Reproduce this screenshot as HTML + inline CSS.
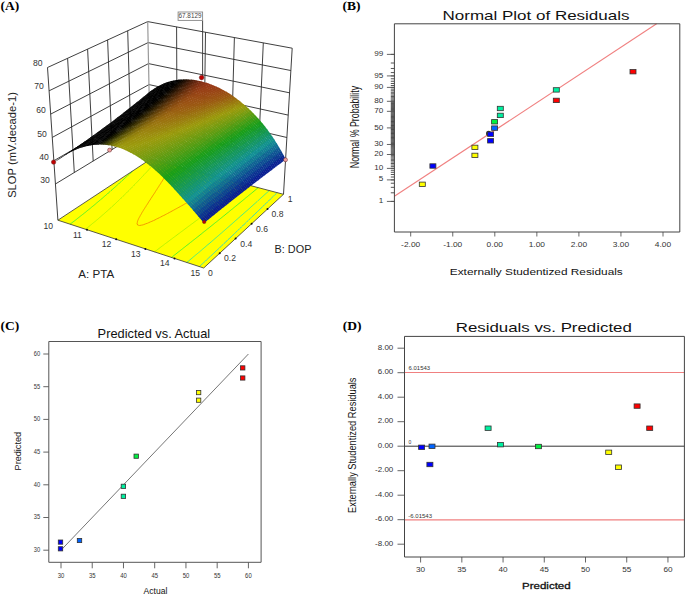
<!DOCTYPE html>
<html><head><meta charset="utf-8"><style>
html,body{margin:0;padding:0;background:#fff;width:685px;height:595px;overflow:hidden}
svg{display:block;font-family:"Liberation Sans",sans-serif}
</style></head><body>
<svg width="685" height="595" viewBox="0 0 685 595">
<rect width="685" height="595" fill="#fff"/>
<polyline points="55.4,184.0 149.8,126.6 285.6,159.8" fill="none" stroke="#2a2a2a" stroke-width="0.9"/>
<polyline points="53.9,160.7 149.4,105.6 286.9,137.5" fill="none" stroke="#2a2a2a" stroke-width="0.9"/>
<polyline points="52.3,137.4 149.0,84.6 288.2,115.1" fill="none" stroke="#2a2a2a" stroke-width="0.9"/>
<polyline points="50.7,114.1 148.5,63.6 289.5,92.8" fill="none" stroke="#2a2a2a" stroke-width="0.9"/>
<polyline points="49.1,90.8 148.1,42.6 290.8,70.5" fill="none" stroke="#2a2a2a" stroke-width="0.9"/>
<polyline points="47.5,67.5 147.7,21.6 292.2,48.2" fill="none" stroke="#2a2a2a" stroke-width="0.9"/>
<line x1="74.3" y1="172.6" x2="67.6" y2="58.3" stroke="#2a2a2a" stroke-width="0.9"/>
<line x1="93.2" y1="161.1" x2="87.6" y2="49.1" stroke="#2a2a2a" stroke-width="0.9"/>
<line x1="112.1" y1="149.6" x2="107.6" y2="39.9" stroke="#2a2a2a" stroke-width="0.9"/>
<line x1="130.9" y1="138.1" x2="127.7" y2="30.8" stroke="#2a2a2a" stroke-width="0.9"/>
<line x1="177.0" y1="133.3" x2="176.6" y2="26.9" stroke="#2a2a2a" stroke-width="0.9"/>
<line x1="204.1" y1="139.9" x2="205.5" y2="32.2" stroke="#2a2a2a" stroke-width="0.9"/>
<line x1="231.3" y1="146.5" x2="234.4" y2="37.6" stroke="#2a2a2a" stroke-width="0.9"/>
<line x1="258.4" y1="153.1" x2="263.3" y2="42.9" stroke="#2a2a2a" stroke-width="0.9"/>
<line x1="149.8" y1="126.6" x2="147.7" y2="21.6" stroke="#999" stroke-width="1.2"/>
<line x1="57.9" y1="220.2" x2="47.5" y2="67.5" stroke="#2a2a2a" stroke-width="0.9"/>
<line x1="283.5" y1="194.3" x2="292.2" y2="48.2" stroke="#2a2a2a" stroke-width="0.9"/>
<polygon points="57.9,220.2 203.7,268.0 283.5,194.3 150.5,159.2" fill="#ffff00" stroke="none"/>
<path d="M199.4,266.6L200.4,265.6M200.4,265.6L201.4,264.7M201.4,264.7L202.4,263.8M202.4,263.8L203.4,262.9M203.4,262.9L204.4,262.0M204.4,262.0L205.4,261.1M205.4,261.1L206.4,260.1M206.4,260.1L207.4,259.2M207.4,259.2L208.3,258.3M208.3,258.3L209.3,257.4M209.3,257.4L210.3,256.5M210.3,256.5L211.3,255.5M211.3,255.5L212.3,254.6M212.3,254.6L213.3,253.7M213.3,253.7L214.2,252.8M214.2,252.8L215.2,251.8M215.2,251.8L216.2,250.9M216.2,250.9L217.2,250.0M217.2,250.0L218.2,249.1M218.2,249.1L219.2,248.2M219.2,248.2L220.1,247.2M220.1,247.2L221.1,246.3M221.1,246.3L222.1,245.4M222.1,245.4L223.1,244.5M223.1,244.5L224.0,243.5M224.0,243.5L225.0,242.6M225.0,242.6L226.0,241.7M226.0,241.7L227.0,240.8M227.0,240.8L227.9,239.8M227.9,239.8L228.9,238.9M228.9,238.9L229.9,238.0M229.9,238.0L230.9,237.1M230.9,237.1L231.8,236.1M231.8,236.1L232.8,235.2M232.8,235.2L233.8,234.3M233.8,234.3L234.7,233.4M234.7,233.4L235.7,232.4M235.7,232.4L236.7,231.5M236.7,231.5L237.6,230.6M237.6,230.6L238.6,229.7M238.6,229.7L239.6,228.7M239.6,228.7L240.6,227.8M240.6,227.8L241.5,226.9M241.5,226.9L242.5,226.0M242.5,226.0L243.5,225.0M243.5,225.0L244.4,224.1M245.1,223.5L245.4,223.2M244.4,224.1L245.1,223.5M245.4,223.2L246.3,222.3M246.3,222.3L247.3,221.3M247.3,221.3L248.3,220.4M248.3,220.4L249.2,219.5M249.2,219.5L250.2,218.6M250.2,218.6L251.2,217.6M251.2,217.6L252.1,216.7M252.1,216.7L253.1,215.8M253.1,215.8L254.1,214.9M254.1,214.9L255.0,213.9M255.0,213.9L256.0,213.0M256.0,213.0L257.0,212.1M257.0,212.1L257.9,211.2M257.9,211.2L258.9,210.2M258.9,210.2L259.8,209.3M259.8,209.3L260.8,208.4M260.8,208.4L261.8,207.5M261.8,207.5L262.7,206.5M262.7,206.5L263.7,205.6M263.7,205.6L264.6,204.7M264.6,204.7L265.6,203.8M265.6,203.8L266.6,202.8M266.6,202.8L267.5,201.9M267.5,201.9L268.5,201.0M268.5,201.0L269.4,200.1M269.4,200.1L270.4,199.1M270.4,199.1L271.4,198.2M271.4,198.2L272.3,197.3M272.3,197.3L273.3,196.4M273.3,196.4L274.3,195.4M274.3,195.4L275.2,194.5M275.2,194.5L276.2,193.6M276.2,193.6L277.1,192.7" stroke="#10d0e0" stroke-width="0.8" fill="none"/>
<path d="M186.8,262.4L187.9,261.6M187.9,261.6L189.0,260.7M189.0,260.7L190.0,259.8M190.0,259.8L191.1,258.9M191.1,258.9L192.2,258.0M192.2,258.0L193.2,257.1M193.2,257.1L194.3,256.2M194.3,256.2L195.3,255.3M195.3,255.3L196.4,254.5M196.4,254.5L197.3,253.7M197.4,253.6L197.3,253.7M197.4,253.6L198.5,252.7M198.5,252.7L199.6,251.8M199.6,251.8L200.6,250.9M200.6,250.9L201.7,250.0M201.7,250.0L202.7,249.1M202.7,249.1L203.8,248.2M203.8,248.2L204.8,247.3M204.8,247.3L205.9,246.4M205.9,246.4L206.9,245.5M206.9,245.5L207.9,244.6M207.9,244.6L209.0,243.8M209.0,243.8L210.0,242.9M210.0,242.9L211.1,242.0M211.1,242.0L212.1,241.1M212.1,241.1L213.2,240.2M213.2,240.2L214.2,239.3M214.2,239.3L215.2,238.4M215.2,238.4L216.3,237.5M216.3,237.5L217.3,236.6M217.3,236.6L218.4,235.7M218.4,235.7L219.4,234.8M219.4,234.8L220.4,233.9M220.4,233.9L221.5,233.0M221.5,233.0L222.5,232.1M222.5,232.1L223.5,231.2M223.5,231.2L224.6,230.3M224.6,230.3L225.6,229.4M225.6,229.4L226.6,228.5M226.6,228.5L227.6,227.6M227.6,227.6L228.7,226.7M228.7,226.7L229.7,225.8M229.7,225.8L230.7,224.9M230.7,224.9L231.8,224.0M231.8,224.0L232.8,223.1M232.8,223.1L233.8,222.2M233.8,222.2L234.8,221.3M234.8,221.3L235.8,220.4M235.8,220.4L236.9,219.5M236.9,219.5L237.9,218.6M237.9,218.6L238.9,217.7M238.9,217.7L239.9,216.8M239.9,216.8L240.9,215.9M240.9,215.9L242.0,215.0M242.0,215.0L243.0,214.1M243.0,214.1L244.0,213.2M244.0,213.2L245.0,212.3M245.0,212.3L246.0,211.4M246.0,211.4L247.1,210.5M247.1,210.5L248.1,209.6M248.1,209.6L249.1,208.7M249.1,208.7L250.1,207.8M250.1,207.8L251.1,206.9M251.1,206.9L252.1,206.0M252.1,206.0L253.1,205.1M253.1,205.1L254.1,204.2M254.1,204.2L255.2,203.3M255.2,203.3L256.2,202.4M256.2,202.4L257.2,201.5M257.2,201.5L258.2,200.5M258.2,200.5L259.2,199.6M259.2,199.6L260.2,198.7M260.2,198.7L261.2,197.8M261.2,197.8L262.2,196.9M262.2,196.9L263.2,196.0M263.2,196.0L264.2,195.1M264.2,195.1L265.2,194.2M265.2,194.2L266.2,193.3M266.2,193.3L267.3,192.4M267.3,192.4L268.3,191.5M268.3,191.5L269.3,190.6" stroke="#20e8a0" stroke-width="0.8" fill="none"/>
<path d="M70.1,224.2L71.1,223.4M171.5,257.4L172.6,256.6M71.1,223.4L72.2,222.6M172.6,256.6L173.7,255.7M72.2,222.6L73.2,221.8M173.7,255.7L174.8,254.8M73.2,221.8L74.3,221.0M174.8,254.8L175.9,254.0M74.3,221.0L75.4,220.2M175.9,254.0L177.0,253.1M75.4,220.2L76.4,219.4M177.0,253.1L178.1,252.2M76.4,219.4L77.4,218.5M178.1,252.2L179.2,251.4M77.4,218.5L78.5,217.7M179.2,251.4L180.3,250.5M78.5,217.7L79.5,216.9M180.3,250.5L181.4,249.7M79.5,216.9L80.5,216.1M181.4,249.7L182.5,248.8M80.5,216.1L81.6,215.3M182.5,248.8L183.6,247.9M81.6,215.3L82.6,214.5M183.6,247.9L184.7,247.1M82.9,214.2L83.6,213.7M82.6,214.5L82.9,214.2M184.7,247.1L185.8,246.2M83.6,213.7L84.6,212.9M185.8,246.2L186.9,245.3M84.6,212.9L85.7,212.1M186.9,245.3L188.0,244.5M85.7,212.1L86.7,211.2M188.0,244.5L189.1,243.6M86.7,211.2L87.7,210.4M189.1,243.6L190.2,242.7M87.7,210.4L88.7,209.6M190.2,242.7L190.6,242.4M191.3,241.9L190.6,242.4M88.7,209.6L89.7,208.8M191.3,241.9L192.4,241.0M89.7,208.8L90.7,208.0M192.4,241.0L193.5,240.1M90.7,208.0L91.7,207.1M193.5,240.1L194.6,239.3M91.7,207.1L92.7,206.3M194.6,239.3L195.7,238.4M92.7,206.3L93.7,205.5M195.7,238.4L196.8,237.5M93.7,205.5L94.7,204.7M196.8,237.5L197.9,236.7M95.5,204.0L95.7,203.9M94.7,204.7L95.5,204.0M197.9,236.7L199.0,235.8M95.7,203.9L96.6,203.0M199.0,235.8L200.1,234.9M96.6,203.0L97.6,202.2M200.1,234.9L201.2,234.1M97.6,202.2L98.6,201.4M201.2,234.1L202.2,233.2M98.6,201.4L99.6,200.6M202.2,233.2L203.3,232.3M99.6,200.6L100.5,199.7M203.3,232.3L204.4,231.4M100.5,199.7L101.5,198.9M204.4,231.4L205.5,230.6M101.5,198.9L102.5,198.1M205.5,230.6L206.6,229.7M102.5,198.1L103.4,197.3M206.6,229.7L207.7,228.8M103.4,197.3L104.4,196.4M207.7,228.8L208.8,228.0M105.1,195.8L105.4,195.6M104.4,196.4L105.1,195.8M208.8,228.0L209.9,227.1M105.4,195.6L106.3,194.8M209.9,227.1L211.0,226.2M106.3,194.8L107.3,194.0M211.0,226.2L212.0,225.4M107.3,194.0L108.2,193.1M212.0,225.4L213.1,224.5M108.2,193.1L109.2,192.3M213.1,224.5L214.2,223.6M109.2,192.3L110.1,191.5M214.2,223.6L215.3,222.7M110.1,191.5L111.0,190.6M215.3,222.7L216.4,221.9M111.0,190.6L112.0,189.8M216.4,221.9L217.5,221.0M112.0,189.8L112.9,189.0M217.5,221.0L218.6,220.1M113.2,188.7L113.9,188.1M112.9,189.0L113.2,188.7M218.6,220.1L219.6,219.3M113.9,188.1L114.8,187.3M219.6,219.3L220.7,218.4M114.8,187.3L115.7,186.5M220.7,218.4L221.8,217.5M115.7,186.5L116.7,185.6M221.8,217.5L222.9,216.6M116.7,185.6L117.6,184.8M222.9,216.6L223.8,215.9M224.0,215.8L223.8,215.9M117.6,184.8L118.5,184.0M224.0,215.8L225.0,214.9M118.5,184.0L119.4,183.1M225.0,214.9L226.1,214.0M120.3,182.4L120.3,182.3M119.4,183.1L120.3,182.4M226.1,214.0L227.2,213.1M120.3,182.3L121.3,181.5M227.2,213.1L228.3,212.3M121.3,181.5L122.2,180.6M228.3,212.3L229.3,211.4M122.2,180.6L123.1,179.8M229.3,211.4L230.4,210.5M123.1,179.8L124.0,179.0M230.4,210.5L231.5,209.6M124.0,179.0L124.9,178.1M231.5,209.6L232.6,208.8M124.9,178.1L125.8,177.3M232.6,208.8L233.6,207.9M125.8,177.3L126.7,176.5M233.6,207.9L234.7,207.0M126.8,176.4L127.6,175.6M126.7,176.5L126.8,176.4M234.7,207.0L235.8,206.1M127.6,175.6L128.6,174.8M235.8,206.1L236.9,205.3M128.6,174.8L129.5,174.0M236.9,205.3L237.9,204.4M129.5,174.0L130.4,173.1M237.9,204.4L239.0,203.5M130.4,173.1L131.3,172.3M239.0,203.5L240.1,202.6M131.3,172.3L132.2,171.5M240.1,202.6L241.2,201.7M132.2,171.5L132.8,170.9M241.2,201.7L242.2,200.9M242.2,200.9L243.3,200.0M243.3,200.0L244.4,199.1M244.4,199.1L245.4,198.2M245.4,198.2L246.5,197.3M246.5,197.3L247.6,196.5M247.6,196.5L248.6,195.6M248.6,195.6L249.7,194.7M249.7,194.7L250.8,193.8M250.8,193.8L251.8,193.0M251.8,193.0L252.9,192.1M252.9,192.1L254.0,191.2M254.0,191.2L255.0,190.3M255.0,190.3L256.1,189.4M256.1,189.4L257.1,188.5M257.1,188.5L258.2,187.7" stroke="#30f030" stroke-width="0.8" fill="none"/>
<path d="M85.5,229.2L86.5,228.4M154.5,251.8L155.6,251.0M86.5,228.4L87.5,227.6M155.6,251.0L156.8,250.2M88.0,227.2L88.6,226.8M87.5,227.6L88.0,227.2M156.8,250.2L157.9,249.3M88.6,226.8L89.6,225.9M157.9,249.3L159.0,248.5M89.6,225.9L90.6,225.1M159.0,248.5L160.1,247.6M90.6,225.1L91.6,224.3M160.1,247.6L161.2,246.8M91.6,224.3L92.6,223.4M161.2,246.8L162.4,245.9M92.6,223.4L93.7,222.6M162.4,245.9L163.5,245.1M93.7,222.6L94.7,221.8M163.5,245.1L164.6,244.2M94.7,221.8L95.7,221.0M164.6,244.2L165.7,243.4M95.7,221.0L96.7,220.1M165.7,243.4L166.8,242.6M96.7,220.1L97.7,219.3M166.8,242.6L168.0,241.7M97.7,219.3L98.6,218.5M168.0,241.7L169.1,240.9M98.6,218.5L99.6,217.6M169.1,240.9L170.2,240.0M99.6,217.6L100.6,216.8M170.2,240.0L171.4,239.2M100.6,216.8L101.6,215.9M171.4,239.2L172.5,238.3M102.2,215.4L102.5,215.1M101.6,215.9L102.2,215.4M172.5,238.3L173.6,237.5M102.5,215.1L103.5,214.3M173.6,237.5L174.7,236.7M103.5,214.3L104.5,213.4M174.7,236.7L175.9,235.8M104.5,213.4L105.4,212.6M175.9,235.8L177.0,235.0M105.4,212.6L106.4,211.7M177.0,235.0L178.1,234.1M106.4,211.7L107.4,210.9M178.1,234.1L179.3,233.3M107.4,210.9L108.3,210.0M179.3,233.3L180.4,232.4M108.3,210.0L109.2,209.2M180.4,232.4L181.0,232.0M181.5,231.6L181.0,232.0M109.2,209.2L110.2,208.4M181.5,231.6L182.7,230.8M110.2,208.4L111.1,207.5M182.7,230.8L183.8,229.9M111.6,207.0L112.0,206.7M111.1,207.5L111.6,207.0M183.8,229.9L184.9,229.1M112.0,206.7L113.0,205.8M184.9,229.1L186.1,228.2M113.0,205.8L113.9,205.0M186.1,228.2L187.2,227.4M113.9,205.0L114.8,204.1M187.2,227.4L188.3,226.5M114.8,204.1L115.7,203.2M188.3,226.5L189.5,225.7M115.7,203.2L116.6,202.4M189.5,225.7L190.6,224.8M116.6,202.4L117.5,201.5M190.6,224.8L191.7,224.0M117.5,201.5L118.4,200.7M191.7,224.0L192.9,223.2M119.0,200.1L119.3,199.8M118.4,200.7L119.0,200.1M192.9,223.2L194.0,222.3M119.3,199.8L120.2,199.0M194.0,222.3L195.1,221.5M120.2,199.0L121.1,198.1M195.1,221.5L196.3,220.6M121.1,198.1L122.0,197.3M196.3,220.6L197.4,219.8M122.0,197.3L122.9,196.4M197.4,219.8L198.5,218.9M122.9,196.4L123.8,195.5M198.5,218.9L199.7,218.1M123.8,195.5L124.7,194.7M199.7,218.1L200.8,217.3M125.3,194.1L125.5,193.8M124.7,194.7L125.3,194.1M200.8,217.3L202.0,216.4M125.5,193.8L126.4,193.0M202.0,216.4L203.1,215.6M126.4,193.0L127.3,192.1M203.1,215.6L204.1,214.8M204.2,214.7L204.1,214.8M127.3,192.1L128.2,191.2M204.2,214.7L205.4,213.9M128.2,191.2L129.0,190.4M205.4,213.9L206.5,213.0M129.0,190.4L129.9,189.5M206.5,213.0L207.6,212.2M129.9,189.5L130.7,188.6M207.6,212.2L208.8,211.3M130.8,188.6L131.6,187.8M130.7,188.6L130.8,188.6M208.8,211.3L209.9,210.5M131.6,187.8L132.4,186.9M209.9,210.5L211.0,209.6M132.4,186.9L133.3,186.0M211.0,209.6L212.2,208.8M133.3,186.0L134.1,185.2M212.2,208.8L213.3,208.0M134.1,185.2L135.0,184.3M213.3,208.0L214.4,207.1M135.7,183.5L135.8,183.4M135.0,184.3L135.7,183.5M214.4,207.1L215.6,206.3M135.8,183.4L136.6,182.6M215.6,206.3L216.7,205.4M136.6,182.6L137.5,181.7M216.7,205.4L217.9,204.6M137.5,181.7L138.3,180.8M217.9,204.6L219.0,203.7M138.3,180.8L139.1,180.0M219.0,203.7L220.1,202.9M139.1,180.0L139.9,179.1M220.1,202.9L221.3,202.0M140.3,178.8L140.8,178.2M139.9,179.1L140.3,178.8M221.3,202.0L222.4,201.2M140.8,178.2L141.6,177.4M222.4,201.2L223.5,200.3M141.6,177.4L142.4,176.5M223.5,200.3L224.7,199.5M142.4,176.5L143.2,175.6M224.7,199.5L225.8,198.6M143.2,175.6L144.0,174.8M225.8,198.6L226.0,198.5M226.9,197.8L226.0,198.5M144.5,174.2L144.8,173.9M144.0,174.8L144.5,174.2M226.9,197.8L228.1,196.9M144.8,173.9L145.7,173.0M228.1,196.9L229.2,196.1M145.7,173.0L146.5,172.2M229.2,196.1L230.3,195.2M146.5,172.2L147.3,171.3M230.3,195.2L231.5,194.4M147.3,171.3L148.1,170.4M231.5,194.4L232.6,193.5M148.5,169.9L148.9,169.6M148.1,170.4L148.5,169.9M232.6,193.5L233.7,192.7M148.9,169.6L149.7,168.7M233.7,192.7L234.9,191.8M149.7,168.7L150.5,167.8M234.9,191.8L236.0,191.0M150.5,167.8L151.3,167.0M236.0,191.0L237.1,190.1M151.3,167.0L152.1,166.1M237.1,190.1L238.3,189.3M152.4,165.7L152.9,165.2M152.1,166.1L152.4,165.7M238.3,189.3L239.4,188.4M152.9,165.2L153.7,164.4M239.4,188.4L240.5,187.6M153.7,164.4L154.5,163.5M240.5,187.6L241.6,186.7M154.5,163.5L155.2,162.6M241.6,186.7L242.8,185.9M155.2,162.6L156.0,161.8M242.8,185.9L243.9,185.0M156.2,161.6L156.8,160.9M156.0,161.8L156.2,161.6M243.9,185.0L245.0,184.2" stroke="#a8f000" stroke-width="0.8" fill="none"/>
<path d="M137.6,225.0L137.6,225.0M138.2,225.2L137.6,225.0M137.6,225.0L137.1,223.6M138.2,225.2L139.6,225.5M141.7,225.1L139.6,225.5M137.0,223.6L137.3,222.5M137.1,223.6L137.0,223.6M141.7,225.1L142.9,224.9M143.7,224.6L142.9,224.9M137.3,222.5L137.5,221.4M143.7,224.6L145.5,223.9M137.5,221.3L137.9,220.4M137.5,221.4L137.5,221.3M145.5,223.9L147.2,223.3M137.9,220.4L138.3,219.4M147.2,223.3L147.6,223.2M148.8,222.6L147.6,223.2M138.6,218.6L138.8,218.4M138.3,219.4L138.6,218.6M148.8,222.6L150.4,221.9M138.8,218.4L139.3,217.4M150.4,221.9L151.9,221.3M139.3,217.4L139.9,216.4M151.9,221.3L153.4,220.6M153.5,220.6L153.4,220.6M140.3,215.5L140.4,215.4M139.9,216.4L140.3,215.5M153.5,220.6L155.0,219.9M140.4,215.4L141.0,214.4M155.0,219.9L156.4,219.1M141.0,214.4L141.6,213.4M156.4,219.1L157.9,218.4M141.6,213.4L142.1,212.4M157.9,218.4L159.4,217.7M142.3,212.2L142.7,211.5M142.1,212.4L142.3,212.2M159.4,217.7L160.1,217.3M160.8,217.0L160.1,217.3M142.7,211.5L143.3,210.5M160.8,217.0L162.2,216.2M143.3,210.5L143.9,209.5M162.2,216.2L163.7,215.5M144.4,208.8L144.5,208.6M143.9,209.5L144.4,208.8M163.7,215.5L165.1,214.8M144.5,208.6L145.1,207.6M165.1,214.8L166.5,214.0M145.1,207.6L145.8,206.6M166.5,214.0L167.5,213.5M167.9,213.3L167.5,213.5M145.8,206.6L146.3,205.7M167.9,213.3L169.3,212.5M146.5,205.3L147.0,204.7M146.3,205.7L146.5,205.3M169.3,212.5L170.7,211.8M147.0,204.7L147.6,203.8M170.7,211.8L172.1,211.0M147.6,203.8L148.2,202.8M172.1,211.0L173.4,210.3M148.7,201.9L148.8,201.8M148.2,202.8L148.7,201.9M173.4,210.3L174.8,209.5M148.8,201.8L149.4,200.9M174.8,209.5L175.4,209.2M176.2,208.8L175.4,209.2M149.4,200.9L150.1,199.9M176.2,208.8L177.6,208.0M150.1,199.9L150.7,199.0M177.6,208.0L178.9,207.3M150.9,198.5L151.3,198.0M150.7,199.0L150.9,198.5M178.9,207.3L180.3,206.5M151.3,198.0L151.9,197.1M180.3,206.5L181.6,205.8M151.9,197.1L152.5,196.1M181.6,205.8L183.0,205.0M153.1,195.2L153.1,195.2M152.5,196.1L153.1,195.2M183.0,205.0L183.8,204.6M184.4,204.2L183.8,204.6M153.1,195.2L153.8,194.2M184.4,204.2L185.7,203.5M153.8,194.2L154.4,193.3M185.7,203.5L187.0,202.7M154.4,193.3L155.0,192.3M187.0,202.7L188.4,201.9M155.2,191.9L155.6,191.4M155.0,192.3L155.2,191.9M188.4,201.9L189.7,201.2M155.6,191.4L156.2,190.4M189.7,201.2L191.0,200.4M156.2,190.4L156.8,189.5M191.0,200.4L192.4,199.6M157.3,188.7L157.4,188.5M156.8,189.5L157.3,188.7M192.4,199.6L192.5,199.6M193.7,198.9L192.5,199.6M157.4,188.5L158.0,187.6M193.7,198.9L195.0,198.1M158.0,187.6L158.7,186.6M195.0,198.1L196.4,197.3M158.7,186.6L159.2,185.7M196.4,197.3L197.7,196.5M159.3,185.5L159.9,184.7M159.2,185.7L159.3,185.5M197.7,196.5L199.0,195.8M159.9,184.7L160.5,183.8M199.0,195.8L200.3,195.0M160.5,183.8L161.1,182.8M200.3,195.0L201.5,194.3M201.6,194.2L201.5,194.3M161.3,182.4L161.7,181.9M161.1,182.8L161.3,182.4M201.6,194.2L202.9,193.4M161.7,181.9L162.3,180.9M202.9,193.4L204.3,192.6M162.3,180.9L162.9,180.0M204.3,192.6L205.6,191.9M163.3,179.3L163.5,179.1M162.9,180.0L163.3,179.3M205.6,191.9L206.9,191.1M163.5,179.1L164.1,178.1M206.9,191.1L208.2,190.3M164.1,178.1L164.7,177.2M208.2,190.3L209.5,189.5M165.2,176.3L165.2,176.2M164.7,177.2L165.2,176.3M209.5,189.5L210.8,188.7M165.2,176.2L165.9,175.3M210.8,188.7L210.9,188.7M212.1,187.9L210.9,188.7M165.9,175.3L166.4,174.4M212.1,187.9L213.4,187.1M166.4,174.4L167.0,173.4M213.4,187.1L214.7,186.4M167.1,173.3L167.6,172.5M167.0,173.4L167.1,173.3M214.7,186.4L216.0,185.6M167.6,172.5L168.2,171.5M216.0,185.6L217.2,184.8M168.2,171.5L168.8,170.6M217.2,184.8L218.5,184.0M169.0,170.3L169.4,169.7M168.8,170.6L169.0,170.3M218.5,184.0L219.8,183.2M169.4,169.7L170.0,168.7M219.8,183.2L220.6,182.7M221.1,182.4L220.6,182.7M170.0,168.7L170.6,167.8M221.1,182.4L222.4,181.6M170.8,167.4L171.2,166.9M170.6,167.8L170.8,167.4M222.4,181.6L223.7,180.8M171.2,166.9L171.8,165.9M223.7,180.8L224.9,180.0M171.8,165.9L172.4,165.0M224.9,180.0L226.2,179.2" stroke="#f08000" stroke-width="0.8" fill="none"/>
<polygon points="57.9,220.2 203.7,268.0 283.5,194.3 150.5,159.2" fill="none" stroke="#333" stroke-width="0.8"/>
<path d="M147.1,94.0 150.1,91.8 151.8,90.3 148.8,92.6z" fill="#000000"/>
<path d="M145.4,95.4 148.4,93.2 150.1,91.7 147.1,94.0z" fill="#000000"/>
<path d="M149.6,92.2 152.6,90.2 154.3,88.7 151.2,90.7z" fill="#000000"/>
<path d="M143.7,96.8 146.7,94.6 148.4,93.1 145.4,95.4z" fill="#000000"/>
<path d="M147.9,93.6 150.9,91.6 152.6,90.1 149.5,92.1z" fill="#000000"/>
<path d="M152.0,90.5 155.1,88.7 156.7,87.2 153.6,89.0z" fill="#000000"/>
<path d="M142.0,98.2 145.0,96.0 146.7,94.5 143.7,96.8z" fill="#000000"/>
<path d="M146.1,95.0 149.2,92.9 150.9,91.5 147.8,93.5z" fill="#000000"/>
<path d="M150.3,91.9 153.4,90.1 155.0,88.6 151.9,90.4z" fill="#000000"/>
<path d="M140.3,99.6 143.3,97.3 145.0,95.9 142.0,98.2z" fill="#000000"/>
<path d="M154.4,89.0 157.5,87.4 159.2,85.8 156.1,87.4z" fill="#000000"/>
<path d="M144.4,96.3 147.5,94.3 149.2,92.9 146.1,94.9z" fill="#000000"/>
<path d="M148.6,93.3 151.7,91.5 153.3,90.0 150.2,91.8z" fill="#000000"/>
<path d="M138.6,101.0 141.6,98.7 143.3,97.3 140.3,99.5z" fill="#000000"/>
<path d="M152.7,90.4 155.8,88.8 157.5,87.2 154.4,88.8z" fill="#000000"/>
<path d="M156.9,87.6 160.0,86.3 161.7,84.6 158.6,86.0z" fill="#000000"/>
<path d="M142.7,97.7 145.8,95.7 147.5,94.2 144.4,96.3z" fill="#000000"/>
<path d="M146.9,94.7 150.0,92.8 151.6,91.3 148.5,93.1z" fill="#000000"/>
<path d="M136.9,102.3 139.9,100.1 141.6,98.7 138.6,100.9z" fill="#000000"/>
<path d="M151.0,91.7 154.1,90.2 155.8,88.6 152.7,90.2z" fill="#000000"/>
<path d="M155.2,89.0 158.3,87.6 160.0,86.0 156.9,87.3z" fill="#000000"/>
<path d="M141.0,99.1 144.1,97.1 145.7,95.6 142.7,97.7z" fill="#000000"/>
<path d="M159.4,86.4 162.5,85.2 164.1,83.6 161.0,84.7z" fill="#000000"/>
<path d="M145.2,96.0 148.3,94.2 149.9,92.7 146.8,94.5z" fill="#000000"/>
<path d="M135.2,103.7 138.2,101.4 139.9,100.1 136.9,102.3z" fill="#000000"/>
<path d="M149.3,93.1 152.4,91.5 154.1,90.0 151.0,91.6z" fill="#000000"/>
<path d="M153.5,90.3 156.6,89.0 158.3,87.4 155.1,88.7z" fill="#000000"/>
<path d="M139.3,100.5 142.4,98.4 144.0,97.0 141.0,99.0z" fill="#000000"/>
<path d="M157.7,87.7 160.8,86.6 162.4,84.9 159.3,86.1z" fill="#000000"/>
<path d="M161.8,85.3 164.9,84.3 166.6,82.6 163.5,83.6z" fill="#000000"/>
<path d="M143.5,97.4 146.6,95.6 148.2,94.1 145.1,95.9z" fill="#000000"/>
<path d="M133.5,105.1 136.5,102.8 138.2,101.4 135.2,103.7z" fill="#000000"/>
<path d="M147.6,94.5 150.7,92.9 152.4,91.3 149.3,92.9z" fill="#000000"/>
<path d="M151.8,91.7 154.9,90.3 156.6,88.7 153.4,90.1z" fill="#000000"/>
<path d="M137.6,101.8 140.7,99.8 142.3,98.4 139.3,100.4z" fill="#000000"/>
<path d="M156.0,89.1 159.1,87.9 160.7,86.3 157.6,87.4z" fill="#000000"/>
<path d="M160.1,86.6 163.2,85.6 164.9,84.0 161.8,84.9z" fill="#000000"/>
<path d="M141.8,98.8 144.9,96.9 146.5,95.5 143.4,97.3z" fill="#000000"/>
<path d="M164.3,84.3 167.4,83.5 169.1,81.8 166.0,82.6z" fill="#000000"/>
<path d="M131.8,106.4 134.8,104.2 136.5,102.8 133.5,105.0z" fill="#000000"/>
<path d="M145.9,95.9 149.0,94.2 150.7,92.7 147.6,94.3z" fill="#000000"/>
<path d="M150.1,93.1 153.2,91.7 154.9,90.1 151.7,91.5z" fill="#000000"/>
<path d="M135.9,103.2 139.0,101.1 140.6,99.7 137.6,101.8z" fill="#000000"/>
<path d="M154.3,90.5 157.4,89.3 159.0,87.6 155.9,88.8z" fill="#000000"/>
<path d="M158.4,88.0 161.5,87.0 163.2,85.3 160.1,86.3z" fill="#000000"/>
<path d="M140.1,100.1 143.2,98.3 144.8,96.8 141.7,98.7z" fill="#000000"/>
<path d="M162.6,85.7 165.7,84.8 167.4,83.2 164.3,84.0z" fill="#000000"/>
<path d="M166.8,83.5 169.9,82.8 171.6,81.1 168.5,81.8z" fill="#000000"/>
<path d="M130.1,107.8 133.1,105.5 134.8,104.1 131.8,106.4z" fill="#000000"/>
<path d="M144.2,97.2 147.3,95.6 149.0,94.1 145.9,95.7z" fill="#000000"/>
<path d="M148.4,94.4 151.5,93.0 153.2,91.4 150.0,92.9z" fill="#000000"/>
<path d="M134.2,104.6 137.3,102.5 138.9,101.1 135.9,103.1z" fill="#000000"/>
<path d="M152.6,91.8 155.7,90.6 157.3,89.0 154.2,90.2z" fill="#000000"/>
<path d="M156.7,89.3 159.8,88.3 161.5,86.7 158.4,87.7z" fill="#000000"/>
<path d="M138.4,101.5 141.5,99.6 143.1,98.2 140.0,100.0z" fill="#000000"/>
<path d="M160.9,87.0 164.0,86.2 165.7,84.5 162.6,85.3z" fill="#000000"/>
<path d="M165.1,84.8 168.2,84.2 169.9,82.5 166.8,83.1z" fill="#000000"/>
<path d="M169.3,82.8 172.3,82.3 174.1,80.6 171.0,81.0z" fill="#000000"/>
<path d="M128.4,109.1 131.4,106.9 133.1,105.5 130.1,107.8z" fill="#000000"/>
<path d="M142.5,98.6 145.6,96.9 147.3,95.4 144.2,97.0z" fill="#000000"/>
<path d="M146.7,95.8 149.8,94.4 151.5,92.8 148.3,94.2z" fill="#000000"/>
<path d="M132.5,105.9 135.6,103.8 137.2,102.4 134.2,104.5z" fill="#000000"/>
<path d="M150.9,93.2 154.0,91.9 155.6,90.3 152.5,91.5z" fill="#000000"/>
<path d="M155.0,90.7 158.1,89.7 159.8,88.0 156.7,89.0z" fill="#000000"/>
<path d="M136.7,102.8 139.7,101.0 141.4,99.5 138.3,101.4z" fill="#000000"/>
<path d="M159.2,88.3 162.3,87.5 164.0,85.8 160.9,86.7z" fill="#000000"/>
<path d="M163.4,86.1 166.5,85.5 168.2,83.8 165.1,84.4z" fill="#000000"/>
<path d="M171.8,82.2 174.8,81.8 176.6,80.1 173.5,80.5z" fill="#000000"/>
<path d="M167.6,84.1 170.7,83.6 172.4,81.9 169.3,82.4z" fill="#000000"/>
<path d="M126.7,110.5 129.7,108.2 131.4,106.8 128.4,109.1z" fill="#000000"/>
<path d="M140.8,99.9 143.9,98.3 145.6,96.8 142.5,98.4z" fill="#000000"/>
<path d="M145.0,97.1 148.1,95.7 149.8,94.1 146.6,95.6z" fill="#000000"/>
<path d="M130.8,107.3 133.9,105.2 135.5,103.8 132.5,105.9z" fill="#000000"/>
<path d="M149.2,94.5 152.3,93.3 153.9,91.7 150.8,92.9z" fill="#000000"/>
<path d="M153.3,92.0 156.5,91.0 158.1,89.3 155.0,90.4z" fill="#000000"/>
<path d="M135.0,104.2 138.0,102.3 139.7,100.9 136.6,102.7z" fill="#000000"/>
<path d="M157.5,89.7 160.6,88.8 162.3,87.2 159.2,88.0z" fill="#000000"/>
<path d="M174.3,81.7 177.3,81.5 179.1,79.8 176.1,80.0z" fill="#000000"/>
<path d="M161.7,87.5 164.8,86.8 166.5,85.1 163.4,85.8z" fill="#000000"/>
<path d="M170.1,83.5 173.1,83.1 174.9,81.4 171.8,81.8z" fill="#000000"/>
<path d="M165.9,85.4 169.0,84.9 170.7,83.2 167.6,83.7z" fill="#000000"/>
<path d="M125.0,111.8 128.0,109.5 129.7,108.2 126.7,110.5z" fill="#000000"/>
<path d="M139.1,101.3 142.2,99.6 143.9,98.1 140.8,99.8z" fill="#000000"/>
<path d="M143.3,98.5 146.4,97.0 148.1,95.5 144.9,96.9z" fill="#000000"/>
<path d="M129.1,108.6 132.2,106.5 133.8,105.1 130.8,107.2z" fill="#000000"/>
<path d="M147.5,95.9 150.6,94.6 152.2,93.0 149.1,94.2z" fill="#000000"/>
<path d="M151.6,93.4 154.8,92.3 156.4,90.7 153.3,91.7z" fill="#000000"/>
<path d="M176.8,81.3 179.8,81.3 181.6,79.6 178.6,79.6z" fill="#040200"/>
<path d="M133.3,105.5 136.3,103.6 138.0,102.2 134.9,104.1z" fill="#000000"/>
<path d="M155.8,91.0 158.9,90.1 160.6,88.5 157.5,89.3z" fill="#000000"/>
<path d="M172.6,83.0 175.6,82.8 177.4,81.1 174.4,81.3z" fill="#000000"/>
<path d="M160.0,88.8 163.1,88.1 164.8,86.4 161.7,87.1z" fill="#000000"/>
<path d="M168.4,84.8 171.5,84.4 173.2,82.7 170.2,83.1z" fill="#000000"/>
<path d="M164.2,86.7 167.3,86.2 169.0,84.5 165.9,85.0z" fill="#000000"/>
<path d="M123.3,113.1 126.3,110.9 128.0,109.5 125.0,111.8z" fill="#000000"/>
<path d="M137.4,102.6 140.5,100.9 142.2,99.4 139.1,101.1z" fill="#000000"/>
<path d="M141.6,99.8 144.7,98.4 146.4,96.8 143.2,98.3z" fill="#000000"/>
<path d="M127.4,109.9 130.5,107.8 132.1,106.5 129.1,108.6z" fill="#000000"/>
<path d="M145.8,97.2 148.9,95.9 150.5,94.3 147.4,95.6z" fill="#000000"/>
<path d="M179.3,81.1 182.3,81.1 184.1,79.5 181.1,79.4z" fill="#0d0702"/>
<path d="M149.9,94.7 153.1,93.6 154.7,92.0 151.6,93.1z" fill="#000000"/>
<path d="M131.6,106.9 134.6,105.0 136.3,103.6 133.2,105.4z" fill="#000000"/>
<path d="M175.1,82.6 178.1,82.6 179.9,80.9 176.9,81.0z" fill="#030200"/>
<path d="M154.1,92.3 157.2,91.5 158.9,89.8 155.8,90.7z" fill="#000000"/>
<path d="M170.9,84.3 173.9,84.1 175.7,82.4 172.7,82.6z" fill="#000000"/>
<path d="M158.3,90.1 161.4,89.4 163.1,87.8 160.0,88.4z" fill="#000000"/>
<path d="M166.7,86.1 169.8,85.7 171.5,84.0 168.5,84.4z" fill="#000000"/>
<path d="M162.5,88.1 165.6,87.5 167.3,85.8 164.2,86.4z" fill="#000000"/>
<path d="M121.6,114.5 124.6,112.2 126.3,110.8 123.3,113.1z" fill="#000000"/>
<path d="M135.7,103.9 138.8,102.3 140.5,100.8 137.4,102.5z" fill="#000000"/>
<path d="M139.9,101.2 143.0,99.7 144.7,98.2 141.5,99.6z" fill="#000000"/>
<path d="M125.7,111.3 128.8,109.2 130.4,107.8 127.4,109.9z" fill="#000000"/>
<path d="M181.8,81.0 184.8,81.1 186.6,79.5 183.6,79.3z" fill="#190c03"/>
<path d="M144.1,98.5 147.2,97.2 148.9,95.7 145.7,96.9z" fill="#000000"/>
<path d="M177.6,82.4 180.6,82.4 182.4,80.8 179.4,80.7z" fill="#0b0601"/>
<path d="M148.2,96.0 151.4,94.9 153.0,93.3 149.9,94.4z" fill="#000000"/>
<path d="M129.9,108.2 132.9,106.3 134.6,104.9 131.5,106.8z" fill="#000000"/>
<path d="M173.4,83.9 176.4,83.8 178.2,82.2 175.2,82.2z" fill="#030200"/>
<path d="M152.4,93.7 155.5,92.8 157.2,91.1 154.1,92.0z" fill="#000000"/>
<path d="M169.2,85.6 172.3,85.4 174.0,83.7 171.0,83.9z" fill="#000000"/>
<path d="M156.6,91.4 159.7,90.7 161.4,89.1 158.3,89.8z" fill="#000000"/>
<path d="M165.0,87.4 168.1,87.0 169.8,85.3 166.8,85.7z" fill="#000000"/>
<path d="M160.8,89.4 163.9,88.8 165.6,87.1 162.5,87.7z" fill="#000000"/>
<path d="M119.9,115.8 122.9,113.5 124.6,112.2 121.6,114.5z" fill="#000000"/>
<path d="M134.0,105.3 137.1,103.6 138.8,102.1 135.7,103.8z" fill="#000000"/>
<path d="M184.3,80.9 187.3,81.2 189.1,79.6 186.1,79.3z" fill="#271206"/>
<path d="M138.2,102.5 141.3,101.0 143.0,99.5 139.8,101.0z" fill="#000000"/>
<path d="M124.0,112.6 127.1,110.5 128.7,109.1 125.7,111.2z" fill="#000000"/>
<path d="M180.1,82.2 183.1,82.4 184.9,80.7 181.9,80.6z" fill="#170c03"/>
<path d="M142.4,99.8 145.5,98.6 147.2,97.0 144.0,98.3z" fill="#000000"/>
<path d="M175.9,83.7 178.9,83.7 180.7,82.0 177.7,82.0z" fill="#0a0601"/>
<path d="M146.5,97.3 149.7,96.2 151.3,94.6 148.2,95.7z" fill="#000000"/>
<path d="M128.2,109.5 131.3,107.6 132.9,106.2 129.8,108.1z" fill="#000000"/>
<path d="M171.7,85.2 174.8,85.1 176.6,83.4 173.5,83.5z" fill="#020100"/>
<path d="M150.7,95.0 153.9,94.1 155.5,92.4 152.4,93.3z" fill="#000000"/>
<path d="M167.5,86.9 170.6,86.6 172.4,85.0 169.3,85.2z" fill="#000000"/>
<path d="M154.9,92.8 158.0,92.0 159.7,90.4 156.6,91.1z" fill="#000000"/>
<path d="M163.3,88.7 166.4,88.3 168.2,86.6 165.1,87.0z" fill="#000000"/>
<path d="M159.1,90.7 162.2,90.1 163.9,88.4 160.9,89.0z" fill="#000000"/>
<path d="M118.2,117.1 121.2,114.8 122.9,113.5 119.9,115.8z" fill="#000000"/>
<path d="M132.3,106.6 135.4,104.9 137.1,103.4 134.0,105.1z" fill="#000000"/>
<path d="M186.8,81.0 189.8,81.4 191.6,79.8 188.6,79.4z" fill="#371708"/>
<path d="M136.5,103.8 139.6,102.3 141.3,100.8 138.1,102.3z" fill="#000000"/>
<path d="M182.6,82.2 185.6,82.5 187.5,80.8 184.4,80.5z" fill="#251205"/>
<path d="M122.3,113.9 125.4,111.8 127.0,110.4 124.0,112.6z" fill="#000000"/>
<path d="M178.4,83.5 181.4,83.7 183.3,82.0 180.2,81.8z" fill="#160b03"/>
<path d="M140.7,101.2 143.8,99.9 145.5,98.3 142.3,99.6z" fill="#000000"/>
<path d="M174.2,84.9 177.3,85.0 179.1,83.3 176.0,83.3z" fill="#090501"/>
<path d="M144.9,98.7 148.0,97.6 149.7,96.0 146.5,97.1z" fill="#000000"/>
<path d="M126.5,110.9 129.6,108.9 131.2,107.5 128.1,109.4z" fill="#000000"/>
<path d="M170.0,86.5 173.1,86.4 174.9,84.7 171.8,84.8z" fill="#020100"/>
<path d="M149.0,96.3 152.2,95.4 153.9,93.7 150.7,94.7z" fill="#000000"/>
<path d="M189.3,81.2 192.3,81.7 194.2,80.1 191.1,79.5z" fill="#471d0b"/>
<path d="M165.8,88.2 168.9,87.9 170.7,86.3 167.6,86.5z" fill="#000000"/>
<path d="M153.2,94.1 156.3,93.3 158.1,91.7 154.9,92.4z" fill="#000000"/>
<path d="M161.6,90.0 164.7,89.6 166.5,87.9 163.4,88.3z" fill="#000000"/>
<path d="M157.4,92.0 160.5,91.4 162.3,89.7 159.2,90.3z" fill="#000000"/>
<path d="M116.5,118.4 119.5,116.1 121.2,114.8 118.2,117.1z" fill="#000000"/>
<path d="M130.6,107.9 133.7,106.2 135.4,104.8 132.3,106.5z" fill="#000000"/>
<path d="M185.1,82.3 188.1,82.6 190.0,81.0 186.9,80.6z" fill="#351708"/>
<path d="M134.8,105.1 137.9,103.6 139.6,102.1 136.4,103.6z" fill="#000000"/>
<path d="M180.9,83.5 184.0,83.7 185.8,82.1 182.7,81.8z" fill="#241105"/>
<path d="M120.6,115.2 123.7,113.1 125.3,111.8 122.3,113.9z" fill="#000000"/>
<path d="M139.0,102.5 142.1,101.2 143.8,99.6 140.6,100.9z" fill="#000000"/>
<path d="M176.7,84.8 179.8,84.9 181.6,83.3 178.5,83.1z" fill="#140b03"/>
<path d="M191.8,81.4 194.8,82.1 196.7,80.4 193.6,79.8z" fill="#58220d"/>
<path d="M143.2,100.0 146.3,98.9 148.0,97.3 144.8,98.4z" fill="#000000"/>
<path d="M172.5,86.2 175.6,86.2 177.4,84.6 174.3,84.6z" fill="#080501"/>
<path d="M124.8,112.2 127.9,110.2 129.5,108.9 126.4,110.8z" fill="#000000"/>
<path d="M147.3,97.6 150.5,96.7 152.2,95.1 149.0,96.0z" fill="#000000"/>
<path d="M168.3,87.8 171.4,87.6 173.2,86.0 170.1,86.1z" fill="#010100"/>
<path d="M187.6,82.4 190.6,82.9 192.5,81.3 189.5,80.8z" fill="#461d0a"/>
<path d="M164.1,89.5 167.2,89.2 169.0,87.5 165.9,87.8z" fill="#000000"/>
<path d="M151.5,95.4 154.7,94.6 156.4,93.0 153.2,93.7z" fill="#000000"/>
<path d="M159.9,91.3 163.0,90.9 164.8,89.2 161.7,89.6z" fill="#000000"/>
<path d="M155.7,93.3 158.8,92.7 160.6,91.0 157.5,91.6z" fill="#000000"/>
<path d="M114.8,119.7 117.8,117.4 119.5,116.1 116.5,118.4z" fill="#000000"/>
<path d="M128.9,109.2 132.0,107.5 133.7,106.1 130.6,107.8z" fill="#000000"/>
<path d="M183.4,83.5 186.5,83.9 188.3,82.3 185.3,81.9z" fill="#341707"/>
<path d="M194.3,81.8 197.3,82.5 199.2,80.9 196.2,80.2z" fill="#672610"/>
<path d="M133.1,106.5 136.2,104.9 137.9,103.4 134.7,105.0z" fill="#000000"/>
<path d="M179.2,84.7 182.3,85.0 184.1,83.3 181.1,83.1z" fill="#221105"/>
<path d="M118.9,116.5 122.0,114.4 123.6,113.1 120.6,115.2z" fill="#000000"/>
<path d="M137.3,103.8 140.4,102.5 142.1,100.9 138.9,102.3z" fill="#000000"/>
<path d="M175.0,86.0 178.1,86.2 179.9,84.5 176.9,84.4z" fill="#130a02"/>
<path d="M190.1,82.7 193.2,83.3 195.0,81.7 192.0,81.1z" fill="#56220d"/>
<path d="M141.5,101.3 144.6,100.2 146.3,98.6 143.1,99.7z" fill="#000000"/>
<path d="M170.8,87.5 173.9,87.5 175.7,85.8 172.6,85.8z" fill="#070401"/>
<path d="M123.1,113.5 126.2,111.5 127.8,110.2 124.7,112.1z" fill="#000000"/>
<path d="M145.7,98.9 148.8,98.0 150.5,96.4 147.3,97.3z" fill="#000000"/>
<path d="M166.6,89.1 169.7,88.9 171.5,87.3 168.4,87.4z" fill="#010000"/>
<path d="M185.9,83.7 189.0,84.2 190.8,82.5 187.8,82.0z" fill="#441d0a"/>
<path d="M196.8,82.3 199.8,83.1 201.7,81.5 198.7,80.7z" fill="#762b12"/>
<path d="M149.8,96.7 153.0,95.9 154.7,94.3 151.6,95.0z" fill="#000000"/>
<path d="M162.4,90.8 165.5,90.5 167.3,88.8 164.2,89.1z" fill="#000000"/>
<path d="M154.0,94.6 157.2,94.0 158.9,92.3 155.8,92.9z" fill="#000000"/>
<path d="M158.2,92.6 161.3,92.2 163.1,90.5 160.0,90.9z" fill="#000000"/>
<path d="M113.1,121.0 116.1,118.7 117.8,117.4 114.8,119.7z" fill="#000000"/>
<path d="M127.2,110.6 130.4,108.8 132.0,107.4 128.9,109.1z" fill="#000000"/>
<path d="M181.8,84.8 184.8,85.1 186.6,83.5 183.6,83.1z" fill="#321707"/>
<path d="M192.6,83.0 195.7,83.7 197.5,82.2 194.5,81.4z" fill="#662710"/>
<path d="M131.4,107.8 134.5,106.2 136.2,104.7 133.0,106.3z" fill="#000000"/>
<path d="M177.6,86.0 180.6,86.2 182.4,84.6 179.4,84.3z" fill="#211104"/>
<path d="M117.2,117.8 120.3,115.7 121.9,114.4 118.9,116.5z" fill="#000000"/>
<path d="M135.6,105.1 138.7,103.8 140.4,102.2 137.2,103.6z" fill="#000000"/>
<path d="M199.3,82.8 202.3,83.7 204.2,82.2 201.2,81.2z" fill="#822e15"/>
<path d="M173.4,87.3 176.4,87.4 178.2,85.8 175.2,85.7z" fill="#120a02"/>
<path d="M188.5,83.9 191.5,84.5 193.3,82.9 190.3,82.3z" fill="#55230d"/>
<path d="M139.8,102.6 142.9,101.4 144.6,99.9 141.4,101.0z" fill="#000000"/>
<path d="M169.2,88.8 172.2,88.7 174.0,87.1 171.0,87.1z" fill="#060401"/>
<path d="M121.4,114.8 124.5,112.8 126.1,111.5 123.0,113.4z" fill="#000000"/>
<path d="M144.0,100.2 147.1,99.3 148.8,97.7 145.6,98.6z" fill="#000000"/>
<path d="M165.0,90.3 168.0,90.2 169.8,88.5 166.7,88.7z" fill="#000000"/>
<path d="M184.3,84.9 187.3,85.4 189.1,83.8 186.1,83.3z" fill="#431e0a"/>
<path d="M148.2,98.0 151.3,97.2 153.0,95.6 149.9,96.3z" fill="#000000"/>
<path d="M160.8,92.1 163.9,91.7 165.6,90.1 162.5,90.4z" fill="#000000"/>
<path d="M195.2,83.5 198.2,84.3 200.0,82.7 197.0,81.9z" fill="#752c12"/>
<path d="M152.4,95.9 155.5,95.2 157.2,93.6 154.1,94.2z" fill="#000000"/>
<path d="M156.6,93.9 159.7,93.4 161.4,91.8 158.3,92.2z" fill="#000000"/>
<path d="M125.5,111.9 128.7,110.1 130.3,108.7 127.2,110.4z" fill="#000000"/>
<path d="M111.4,122.3 114.4,120.0 116.1,118.7 113.1,121.0z" fill="#000000"/>
<path d="M201.8,83.5 204.8,84.5 206.7,82.9 203.7,81.9z" fill="#8c3216"/>
<path d="M180.1,86.0 183.1,86.4 185.0,84.7 181.9,84.4z" fill="#311707"/>
<path d="M191.0,84.3 194.0,85.0 195.8,83.4 192.8,82.7z" fill="#65280f"/>
<path d="M129.7,109.1 132.8,107.5 134.5,106.1 131.4,107.6z" fill="#000000"/>
<path d="M175.9,87.2 178.9,87.5 180.8,85.8 177.7,85.6z" fill="#1f1004"/>
<path d="M115.5,119.1 118.6,117.0 120.2,115.7 117.2,117.8z" fill="#000000"/>
<path d="M133.9,106.4 137.0,105.1 138.7,103.5 135.5,104.9z" fill="#000000"/>
<path d="M197.7,84.0 200.7,84.9 202.5,83.4 199.5,82.5z" fill="#813014"/>
<path d="M171.7,88.6 174.8,88.7 176.6,87.0 173.5,86.9z" fill="#110902"/>
<path d="M186.8,85.1 189.8,85.7 191.7,84.1 188.6,83.5z" fill="#54230c"/>
<path d="M138.1,103.9 141.2,102.7 142.9,101.2 139.7,102.3z" fill="#000000"/>
<path d="M204.3,84.2 207.3,85.3 209.2,83.8 206.2,82.6z" fill="#943517"/>
<path d="M167.5,90.0 170.6,90.0 172.4,88.3 169.3,88.4z" fill="#060301"/>
<path d="M119.7,116.1 122.8,114.1 124.4,112.8 121.3,114.7z" fill="#000000"/>
<path d="M142.3,101.5 145.4,100.5 147.1,98.9 144.0,99.9z" fill="#000000"/>
<path d="M163.3,91.6 166.4,91.4 168.1,89.8 165.1,90.0z" fill="#000000"/>
<path d="M146.5,99.3 149.6,98.5 151.3,96.9 148.2,97.6z" fill="#000000"/>
<path d="M182.6,86.1 185.6,86.6 187.5,85.0 184.4,84.5z" fill="#411e09"/>
<path d="M159.1,93.3 162.2,93.0 163.9,91.4 160.8,91.7z" fill="#000000"/>
<path d="M150.7,97.2 153.8,96.5 155.5,94.9 152.4,95.5z" fill="#000000"/>
<path d="M154.9,95.2 158.0,94.7 159.7,93.1 156.6,93.5z" fill="#000000"/>
<path d="M193.5,84.7 196.5,85.5 198.4,83.9 195.4,83.1z" fill="#742d12"/>
<path d="M123.8,113.2 127.0,111.4 128.6,110.0 125.5,111.7z" fill="#000000"/>
<path d="M109.7,123.6 112.7,121.3 114.4,120.0 111.4,122.3z" fill="#000000"/>
<path d="M200.2,84.7 203.2,85.7 205.0,84.1 202.0,83.1z" fill="#8c3316"/>
<path d="M178.4,87.2 181.5,87.6 183.3,86.0 180.2,85.6z" fill="#2f1706"/>
<path d="M206.8,85.0 209.8,86.2 211.7,84.7 208.7,83.5z" fill="#983718"/>
<path d="M128.0,110.4 131.2,108.8 132.8,107.4 129.7,108.9z" fill="#000000"/>
<path d="M189.3,85.5 192.3,86.2 194.2,84.6 191.2,83.9z" fill="#64290f"/>
<path d="M174.2,88.5 177.3,88.7 179.1,87.1 176.0,86.8z" fill="#1e1004"/>
<path d="M113.8,120.4 116.9,118.3 118.6,117.0 115.5,119.1z" fill="#000000"/>
<path d="M132.2,107.7 135.3,106.3 137.0,104.8 133.8,106.2z" fill="#000000"/>
<path d="M170.0,89.8 173.1,89.9 174.9,88.3 171.8,88.2z" fill="#0f0902"/>
<path d="M196.0,85.2 199.0,86.2 200.9,84.6 197.9,83.7z" fill="#813114"/>
<path d="M185.1,86.4 188.2,87.0 190.0,85.4 187.0,84.8z" fill="#52240c"/>
<path d="M136.4,105.2 139.5,104.0 141.2,102.5 138.0,103.6z" fill="#000000"/>
<path d="M165.8,91.3 168.9,91.2 170.7,89.6 167.6,89.6z" fill="#050301"/>
<path d="M202.7,85.4 205.7,86.5 207.5,85.0 204.6,83.8z" fill="#933717"/>
<path d="M118.0,117.4 121.1,115.4 122.7,114.1 119.6,116.0z" fill="#000000"/>
<path d="M209.4,85.9 212.3,87.2 214.2,85.7 211.2,84.4z" fill="#983918"/>
<path d="M140.6,102.8 143.7,101.8 145.4,100.2 142.3,101.2z" fill="#000000"/>
<path d="M161.6,92.9 164.7,92.7 166.5,91.0 163.4,91.2z" fill="#000000"/>
<path d="M144.8,100.6 147.9,99.7 149.6,98.1 146.5,98.9z" fill="#000000"/>
<path d="M157.4,94.6 160.5,94.3 162.2,92.6 159.1,93.0z" fill="#000000"/>
<path d="M180.9,87.4 184.0,87.8 185.8,86.2 182.8,85.8z" fill="#401e09"/>
<path d="M149.0,98.4 152.1,97.8 153.8,96.2 150.7,96.8z" fill="#000000"/>
<path d="M153.2,96.5 156.3,96.0 158.0,94.3 154.9,94.8z" fill="#000000"/>
<path d="M191.8,85.9 194.9,86.7 196.7,85.1 193.7,84.3z" fill="#732e11"/>
<path d="M122.1,114.5 125.3,112.7 126.9,111.3 123.8,113.1z" fill="#000000"/>
<path d="M108.0,124.9 111.0,122.6 112.7,121.3 109.7,123.6z" fill="#000000"/>
<path d="M176.7,88.5 179.8,88.8 181.6,87.2 178.6,86.9z" fill="#2d1706"/>
<path d="M198.5,85.9 201.5,86.9 203.4,85.3 200.4,84.3z" fill="#8b3516"/>
<path d="M211.9,86.9 214.8,88.3 216.7,86.8 213.7,85.4z" fill="#993c17"/>
<path d="M126.3,111.7 129.5,110.1 131.1,108.6 128.0,110.2z" fill="#000000"/>
<path d="M205.2,86.2 208.2,87.4 210.1,85.9 207.1,84.7z" fill="#983917"/>
<path d="M187.7,86.7 190.7,87.4 192.5,85.8 189.5,85.1z" fill="#632a0f"/>
<path d="M112.1,121.7 115.2,119.6 116.9,118.3 113.8,120.4z" fill="#000000"/>
<path d="M172.5,89.7 175.6,89.9 177.4,88.3 174.4,88.1z" fill="#1c0f04"/>
<path d="M130.5,109.0 133.7,107.6 135.3,106.1 132.2,107.5z" fill="#000000"/>
<path d="M168.3,91.1 171.4,91.1 173.2,89.5 170.1,89.4z" fill="#0e0802"/>
<path d="M194.4,86.5 197.4,87.4 199.2,85.8 196.2,84.9z" fill="#803213"/>
<path d="M183.5,87.6 186.5,88.2 188.3,86.6 185.3,86.0z" fill="#51240c"/>
<path d="M134.7,106.5 137.8,105.3 139.5,103.8 136.4,104.9z" fill="#000000"/>
<path d="M116.3,118.7 119.4,116.7 121.0,115.4 117.9,117.3z" fill="#000000"/>
<path d="M164.1,92.5 167.2,92.5 169.0,90.8 165.9,90.9z" fill="#040300"/>
<path d="M214.4,88.0 217.3,89.5 219.2,88.0 216.2,86.5z" fill="#993e17"/>
<path d="M201.0,86.6 204.0,87.7 205.9,86.2 202.9,85.0z" fill="#933817"/>
<path d="M138.9,104.1 142.0,103.1 143.7,101.5 140.6,102.5z" fill="#000000"/>
<path d="M207.7,87.1 210.7,88.4 212.6,86.9 209.6,85.6z" fill="#993b17"/>
<path d="M159.9,94.1 163.0,93.9 164.8,92.3 161.7,92.5z" fill="#000000"/>
<path d="M143.1,101.8 146.2,101.0 147.9,99.4 144.8,100.2z" fill="#000000"/>
<path d="M155.7,95.9 158.8,95.5 160.6,93.9 157.5,94.2z" fill="#000000"/>
<path d="M147.3,99.7 150.4,99.1 152.1,97.4 149.0,98.1z" fill="#000000"/>
<path d="M179.3,88.6 182.3,89.1 184.1,87.4 181.1,87.0z" fill="#3e1e09"/>
<path d="M151.5,97.7 154.6,97.2 156.4,95.6 153.2,96.1z" fill="#000000"/>
<path d="M190.2,87.1 193.2,87.9 195.1,86.4 192.0,85.6z" fill="#722f11"/>
<path d="M120.5,115.8 123.6,114.0 125.2,112.6 122.1,114.4z" fill="#000000"/>
<path d="M106.3,126.2 109.3,123.9 111.0,122.6 108.0,124.9z" fill="#000000"/>
<path d="M175.1,89.7 178.1,90.0 179.9,88.4 176.9,88.1z" fill="#2c1706"/>
<path d="M216.8,89.1 219.8,90.7 221.7,89.2 218.7,87.6z" fill="#994216"/>
<path d="M196.9,87.1 199.9,88.1 201.7,86.5 198.7,85.5z" fill="#8b3615"/>
<path d="M124.6,113.0 127.8,111.4 129.4,109.9 126.3,111.5z" fill="#000000"/>
<path d="M210.2,88.1 213.2,89.5 215.1,88.0 212.1,86.6z" fill="#993d17"/>
<path d="M203.6,87.4 206.6,88.6 208.4,87.1 205.4,85.9z" fill="#983b17"/>
<path d="M186.0,87.9 189.0,88.6 190.9,87.0 187.8,86.3z" fill="#622a0e"/>
<path d="M110.4,123.0 113.5,120.9 115.2,119.6 112.1,121.7z" fill="#000000"/>
<path d="M170.9,91.0 173.9,91.2 175.7,89.5 172.7,89.3z" fill="#1b0f03"/>
<path d="M128.8,110.3 132.0,108.9 133.6,107.4 130.5,108.8z" fill="#000000"/>
<path d="M166.7,92.3 169.7,92.4 171.5,90.8 168.5,90.7z" fill="#0d0802"/>
<path d="M219.3,90.4 222.3,92.1 224.1,90.6 221.2,88.9z" fill="#994616"/>
<path d="M192.7,87.7 195.7,88.6 197.6,87.0 194.6,86.1z" fill="#803413"/>
<path d="M133.0,107.8 136.2,106.6 137.8,105.0 134.7,106.2z" fill="#000000"/>
<path d="M181.8,88.8 184.8,89.4 186.7,87.8 183.6,87.2z" fill="#50250b"/>
<path d="M114.6,120.0 117.7,118.0 119.3,116.6 116.3,118.6z" fill="#000000"/>
<path d="M162.4,93.8 165.5,93.7 167.3,92.1 164.2,92.2z" fill="#030200"/>
<path d="M137.2,105.4 140.4,104.4 142.0,102.8 138.9,103.8z" fill="#000000"/>
<path d="M212.7,89.2 215.7,90.7 217.5,89.1 214.6,87.7z" fill="#994017"/>
<path d="M199.4,87.8 202.4,88.9 204.3,87.3 201.3,86.2z" fill="#933a16"/>
<path d="M158.2,95.4 161.3,95.2 163.1,93.6 160.0,93.8z" fill="#000000"/>
<path d="M206.1,88.3 209.1,89.6 210.9,88.1 207.9,86.8z" fill="#993d17"/>
<path d="M141.4,103.1 144.5,102.3 146.2,100.7 143.1,101.5z" fill="#000000"/>
<path d="M154.0,97.1 157.1,96.8 158.9,95.1 155.8,95.5z" fill="#000000"/>
<path d="M145.6,101.0 148.7,100.3 150.5,98.7 147.3,99.4z" fill="#000000"/>
<path d="M149.8,99.0 152.9,98.5 154.7,96.9 151.5,97.4z" fill="#000000"/>
<path d="M177.6,89.8 180.7,90.3 182.5,88.7 179.4,88.2z" fill="#3d1e08"/>
<path d="M118.8,117.0 121.9,115.3 123.5,113.9 120.4,115.7z" fill="#000000"/>
<path d="M188.5,88.3 191.6,89.1 193.4,87.6 190.4,86.8z" fill="#713011"/>
<path d="M221.8,91.7 224.8,93.5 226.6,92.0 223.7,90.2z" fill="#9a4b15"/>
<path d="M104.6,127.4 107.6,125.1 109.3,123.9 106.3,126.2z" fill="#000000"/>
<path d="M173.4,91.0 176.5,91.3 178.3,89.7 175.2,89.3z" fill="#2a1606"/>
<path d="M195.2,88.3 198.2,89.3 200.1,87.7 197.1,86.7z" fill="#8b3815"/>
<path d="M215.2,90.3 218.2,91.9 220.0,90.4 217.1,88.8z" fill="#994416"/>
<path d="M122.9,114.3 126.1,112.7 127.7,111.2 124.6,112.8z" fill="#000000"/>
<path d="M208.6,89.3 211.6,90.7 213.4,89.2 210.4,87.8z" fill="#993f17"/>
<path d="M201.9,88.6 204.9,89.8 206.8,88.3 203.8,87.1z" fill="#983d17"/>
<path d="M184.3,89.1 187.4,89.8 189.2,88.2 186.2,87.6z" fill="#602b0e"/>
<path d="M108.7,124.3 111.8,122.1 113.5,120.8 110.4,123.0z" fill="#000000"/>
<path d="M224.3,93.1 227.3,95.0 229.1,93.5 226.2,91.6z" fill="#9a5014"/>
<path d="M169.2,92.2 172.3,92.4 174.1,90.8 171.0,90.6z" fill="#1a0e03"/>
<path d="M127.1,111.6 130.3,110.2 131.9,108.7 128.8,110.1z" fill="#000000"/>
<path d="M165.0,93.6 168.1,93.6 169.9,92.0 166.8,91.9z" fill="#0c0701"/>
<path d="M131.3,109.1 134.5,107.8 136.1,106.3 133.0,107.5z" fill="#000000"/>
<path d="M191.0,88.9 194.1,89.7 195.9,88.2 192.9,87.3z" fill="#7f3513"/>
<path d="M217.7,91.6 220.7,93.2 222.5,91.7 219.6,90.1z" fill="#9a4815"/>
<path d="M180.1,90.0 183.2,90.6 185.0,89.0 182.0,88.4z" fill="#4e250b"/>
<path d="M112.9,121.2 116.0,119.3 117.6,117.9 114.6,119.9z" fill="#000000"/>
<path d="M160.8,95.0 163.9,95.0 165.6,93.3 162.5,93.4z" fill="#030200"/>
<path d="M226.8,94.6 229.7,96.6 231.6,95.1 228.6,93.1z" fill="#9b5613"/>
<path d="M135.5,106.7 138.7,105.6 140.3,104.1 137.2,105.1z" fill="#000000"/>
<path d="M197.8,89.0 200.8,90.1 202.6,88.5 199.6,87.4z" fill="#933c16"/>
<path d="M211.1,90.3 214.1,91.8 215.9,90.3 213.0,88.8z" fill="#994216"/>
<path d="M156.6,96.7 159.7,96.4 161.4,94.8 158.3,95.0z" fill="#000000"/>
<path d="M139.7,104.4 142.9,103.5 144.5,102.0 141.4,102.8z" fill="#000000"/>
<path d="M204.4,89.5 207.4,90.8 209.3,89.3 206.3,88.0z" fill="#993f17"/>
<path d="M152.3,98.4 155.5,98.0 157.2,96.4 154.1,96.8z" fill="#000000"/>
<path d="M143.9,102.3 147.1,101.6 148.8,100.0 145.6,100.7z" fill="#000000"/>
<path d="M148.1,100.3 151.3,99.7 153.0,98.1 149.9,98.6z" fill="#000000"/>
<path d="M175.9,91.1 179.0,91.5 180.8,89.9 177.8,89.5z" fill="#3b1e08"/>
<path d="M117.1,118.3 120.2,116.5 121.8,115.2 118.7,116.9z" fill="#000000"/>
<path d="M102.9,128.7 105.9,126.4 107.6,125.1 104.6,127.4z" fill="#000000"/>
<path d="M186.9,89.6 189.9,90.3 191.7,88.8 188.7,88.0z" fill="#703110"/>
<path d="M220.2,92.9 223.2,94.7 225.0,93.2 222.1,91.4z" fill="#9a4d15"/>
<path d="M229.3,96.2 232.2,98.2 234.0,96.8 231.1,94.7z" fill="#9b5d12"/>
<path d="M171.7,92.2 174.8,92.5 176.6,90.9 173.5,90.6z" fill="#291605"/>
<path d="M121.2,115.5 124.4,113.9 126.0,112.5 122.9,114.1z" fill="#000000"/>
<path d="M193.6,89.5 196.6,90.5 198.4,88.9 195.4,87.9z" fill="#8a3915"/>
<path d="M213.6,91.5 216.6,93.1 218.4,91.6 215.5,90.0z" fill="#994616"/>
<path d="M281.6,155.9 284.2,160.6 285.9,159.4 283.3,154.7z" fill="#0a2592"/>
<path d="M200.3,89.8 203.3,91.0 205.1,89.4 202.1,88.2z" fill="#983f17"/>
<path d="M206.9,90.5 209.9,91.9 211.8,90.3 208.8,88.9z" fill="#994116"/>
<path d="M182.7,90.3 185.7,91.0 187.6,89.4 184.5,88.8z" fill="#5f2b0d"/>
<path d="M107.0,125.5 110.1,123.4 111.8,122.1 108.7,124.3z" fill="#000000"/>
<path d="M231.7,97.9 234.6,100.0 236.5,98.5 233.6,96.4z" fill="#9b6811"/>
<path d="M167.5,93.4 170.6,93.6 172.4,92.0 169.3,91.8z" fill="#180e03"/>
<path d="M222.7,94.3 225.6,96.2 227.5,94.7 224.6,92.8z" fill="#9a5214"/>
<path d="M125.4,112.9 128.6,111.4 130.2,110.0 127.1,111.4z" fill="#000000"/>
<path d="M163.3,94.8 166.4,94.8 168.2,93.2 165.1,93.2z" fill="#0b0701"/>
<path d="M129.6,110.3 132.8,109.1 134.4,107.6 131.3,108.8z" fill="#000000"/>
<path d="M234.2,99.6 237.1,101.9 238.9,100.4 236.0,98.2z" fill="#9b7310"/>
<path d="M189.4,90.1 192.4,90.9 194.3,89.4 191.2,88.5z" fill="#7e3612"/>
<path d="M279.4,151.9 282.0,156.5 283.6,155.2 281.1,150.7z" fill="#0c3e93"/>
<path d="M178.5,91.3 181.5,91.8 183.4,90.2 180.3,89.7z" fill="#4d250b"/>
<path d="M216.1,92.7 219.1,94.4 220.9,92.9 218.0,91.2z" fill="#9a4a15"/>
<path d="M111.2,122.5 114.3,120.5 115.9,119.2 112.9,121.2z" fill="#000000"/>
<path d="M159.1,96.3 162.2,96.2 164.0,94.6 160.9,94.7z" fill="#020200"/>
<path d="M133.8,107.9 137.0,106.9 138.6,105.3 135.5,106.4z" fill="#000000"/>
<path d="M225.2,95.8 228.1,97.8 230.0,96.3 227.0,94.3z" fill="#9b5813"/>
<path d="M154.9,97.9 158.0,97.7 159.7,96.1 156.6,96.3z" fill="#000000"/>
<path d="M196.1,90.2 199.1,91.3 201.0,89.7 198.0,88.6z" fill="#933d16"/>
<path d="M209.5,91.5 212.4,93.0 214.3,91.5 211.3,90.0z" fill="#994416"/>
<path d="M138.0,105.7 141.2,104.8 142.9,103.2 139.7,104.1z" fill="#000000"/>
<path d="M150.7,99.7 153.8,99.3 155.5,97.7 152.4,98.0z" fill="#000000"/>
<path d="M202.8,90.7 205.8,92.0 207.6,90.4 204.7,89.1z" fill="#994116"/>
<path d="M142.2,103.5 145.4,102.8 147.1,101.2 143.9,101.9z" fill="#000000"/>
<path d="M236.7,101.5 239.6,103.8 241.4,102.3 238.5,100.0z" fill="#9b7f0f"/>
<path d="M146.4,101.5 149.6,101.0 151.3,99.4 148.2,99.9z" fill="#000000"/>
<path d="M174.3,92.3 177.3,92.7 179.2,91.1 176.1,90.7z" fill="#3a1e08"/>
<path d="M277.1,148.1 279.7,152.5 281.4,151.2 278.8,146.8z" fill="#0e5793"/>
<path d="M115.4,119.6 118.5,117.8 120.1,116.4 117.0,118.2z" fill="#000000"/>
<path d="M101.2,130.0 104.2,127.6 105.9,126.4 102.9,128.7z" fill="#000000"/>
<path d="M185.2,90.8 188.2,91.5 190.1,90.0 187.0,89.2z" fill="#6f3210"/>
<path d="M218.6,94.1 221.6,95.8 223.4,94.3 220.5,92.6z" fill="#9a4e14"/>
<path d="M227.7,97.4 230.6,99.4 232.4,98.0 229.5,95.9z" fill="#9b6012"/>
<path d="M239.1,103.4 242.0,105.8 243.8,104.4 240.9,101.9z" fill="#9b8c0e"/>
<path d="M170.1,93.4 173.1,93.7 174.9,92.1 171.9,91.8z" fill="#281605"/>
<path d="M274.8,144.4 277.5,148.7 279.2,147.4 276.6,143.1z" fill="#106f94"/>
<path d="M119.6,116.8 122.7,115.2 124.3,113.8 121.2,115.4z" fill="#000000"/>
<path d="M191.9,90.7 195.0,91.6 196.8,90.1 193.8,89.1z" fill="#8a3b14"/>
<path d="M212.0,92.7 214.9,94.3 216.8,92.8 213.8,91.2z" fill="#9a4715"/>
<path d="M241.6,105.4 244.4,107.9 246.3,106.5 243.4,104.0z" fill="#9b990d"/>
<path d="M105.3,126.8 108.4,124.7 110.1,123.4 107.0,125.5z" fill="#000000"/>
<path d="M181.0,91.6 184.1,92.2 185.9,90.6 182.8,90.0z" fill="#5e2c0d"/>
<path d="M198.6,91.0 201.6,92.2 203.5,90.6 200.5,89.4z" fill="#984016"/>
<path d="M205.3,91.6 208.3,93.0 210.2,91.5 207.2,90.1z" fill="#994316"/>
<path d="M165.8,94.7 168.9,94.8 170.7,93.2 167.6,93.0z" fill="#170e03"/>
<path d="M230.1,99.0 233.1,101.2 234.9,99.7 232.0,97.6z" fill="#9b6a11"/>
<path d="M123.7,114.1 126.9,112.7 128.5,111.3 125.4,112.7z" fill="#000000"/>
<path d="M272.5,140.9 275.2,145.0 276.9,143.7 274.3,139.6z" fill="#128795"/>
<path d="M280.2,157.0 282.7,161.7 284.4,160.5 281.9,155.8z" fill="#0a2592"/>
<path d="M221.1,95.5 224.0,97.3 225.9,95.9 222.9,94.0z" fill="#9b5414"/>
<path d="M244.0,107.5 246.9,110.2 248.7,108.7 245.8,106.1z" fill="#8f9b0e"/>
<path d="M161.6,96.0 164.7,96.1 166.5,94.5 163.4,94.4z" fill="#0a0601"/>
<path d="M127.9,111.6 131.1,110.4 132.7,108.9 129.6,110.1z" fill="#000000"/>
<path d="M270.2,137.5 272.9,141.4 274.6,140.1 272.0,136.1z" fill="#139388"/>
<path d="M246.4,109.7 249.3,112.5 251.1,111.0 248.2,108.3z" fill="#7d9c0f"/>
<path d="M187.7,91.3 190.8,92.1 192.6,90.6 189.6,89.7z" fill="#7e3712"/>
<path d="M109.5,123.8 112.6,121.8 114.3,120.5 111.2,122.5z" fill="#000000"/>
<path d="M176.8,92.5 179.9,93.0 181.7,91.4 178.6,90.9z" fill="#4c250a"/>
<path d="M232.6,100.8 235.5,103.0 237.4,101.6 234.5,99.3z" fill="#9b7610"/>
<path d="M214.5,93.9 217.4,95.6 219.3,94.1 216.3,92.4z" fill="#9a4c15"/>
<path d="M157.4,97.5 160.5,97.4 162.3,95.8 159.2,95.9z" fill="#020100"/>
<path d="M132.1,109.2 135.3,108.1 137.0,106.6 133.8,107.7z" fill="#000000"/>
<path d="M267.9,134.2 270.6,138.0 272.3,136.6 269.6,132.8z" fill="#149571"/>
<path d="M277.9,153.1 280.5,157.6 282.2,156.3 279.6,151.8z" fill="#0c3e93"/>
<path d="M248.9,112.0 251.7,114.9 253.5,113.4 250.7,110.6z" fill="#6a9c11"/>
<path d="M153.2,99.2 156.3,98.9 158.1,97.3 155.0,97.5z" fill="#000000"/>
<path d="M223.6,97.0 226.5,98.9 228.4,97.5 225.4,95.5z" fill="#9b5913"/>
<path d="M136.3,106.9 139.5,106.1 141.2,104.5 138.0,105.4z" fill="#000000"/>
<path d="M194.5,91.4 197.5,92.4 199.3,90.9 196.3,89.8z" fill="#933f15"/>
<path d="M207.8,92.7 210.8,94.2 212.7,92.7 209.7,91.2z" fill="#994616"/>
<path d="M265.5,131.0 268.3,134.7 270.0,133.3 267.3,129.6z" fill="#15975b"/>
<path d="M149.0,100.9 152.1,100.5 153.8,98.9 150.7,99.3z" fill="#000000"/>
<path d="M140.5,104.8 143.7,104.1 145.4,102.5 142.3,103.2z" fill="#000000"/>
<path d="M251.3,114.4 254.1,117.4 255.9,115.9 253.1,113.0z" fill="#569d13"/>
<path d="M144.8,102.8 147.9,102.2 149.6,100.6 146.5,101.2z" fill="#000000"/>
<path d="M201.2,91.8 204.2,93.1 206.0,91.6 203.0,90.3z" fill="#994216"/>
<path d="M235.1,102.6 238.0,105.0 239.8,103.5 236.9,101.2z" fill="#9b820f"/>
<path d="M263.2,128.0 265.9,131.5 267.7,130.1 265.0,126.6z" fill="#179a45"/>
<path d="M113.7,120.9 116.8,119.1 118.4,117.7 115.3,119.5z" fill="#000000"/>
<path d="M172.6,93.5 175.7,93.9 177.5,92.3 174.4,91.9z" fill="#391e07"/>
<path d="M253.7,116.9 256.5,120.0 258.3,118.6 255.5,115.5z" fill="#419d15"/>
<path d="M99.5,131.2 102.5,128.9 104.2,127.7 101.2,130.0z" fill="#000000"/>
<path d="M260.8,125.0 263.6,128.5 265.4,127.1 262.6,123.6z" fill="#189c30"/>
<path d="M256.1,119.5 258.9,122.7 260.6,121.3 257.9,118.1z" fill="#2c9e17"/>
<path d="M258.5,122.2 261.2,125.5 263.0,124.1 260.2,120.8z" fill="#199e1b"/>
<path d="M183.5,92.0 186.6,92.7 188.4,91.2 185.4,90.4z" fill="#6e3310"/>
<path d="M275.6,149.3 278.3,153.6 279.9,152.4 277.3,148.0z" fill="#0e5693"/>
<path d="M217.0,95.2 219.9,97.0 221.8,95.5 218.8,93.8z" fill="#9a5014"/>
<path d="M226.1,98.6 229.0,100.6 230.8,99.1 227.9,97.1z" fill="#9b6312"/>
<path d="M237.5,104.6 240.4,107.0 242.2,105.6 239.4,103.1z" fill="#9b8f0e"/>
<path d="M168.4,94.6 171.5,94.9 173.3,93.3 170.2,93.0z" fill="#261505"/>
<path d="M117.9,118.1 121.0,116.4 122.6,115.0 119.5,116.7z" fill="#000000"/>
<path d="M190.3,91.9 193.3,92.8 195.2,91.3 192.1,90.3z" fill="#8a3c14"/>
<path d="M273.3,145.6 276.0,149.8 277.7,148.5 275.1,144.3z" fill="#106e94"/>
<path d="M210.3,93.9 213.3,95.4 215.2,93.9 212.2,92.4z" fill="#9a4915"/>
<path d="M103.6,128.1 106.7,125.9 108.4,124.6 105.3,126.8z" fill="#000000"/>
<path d="M240.0,106.6 242.9,109.1 244.7,107.7 241.8,105.1z" fill="#9a9b0c"/>
<path d="M179.3,92.8 182.4,93.4 184.2,91.8 181.2,91.2z" fill="#5d2d0d"/>
<path d="M197.0,92.2 200.0,93.3 201.9,91.8 198.8,90.6z" fill="#984216"/>
<path d="M164.2,95.9 167.3,96.0 169.1,94.4 166.0,94.3z" fill="#160d03"/>
<path d="M122.0,115.4 125.2,114.0 126.8,112.5 123.7,114.0z" fill="#000000"/>
<path d="M203.7,92.8 206.7,94.2 208.5,92.7 205.5,91.3z" fill="#994516"/>
<path d="M228.5,100.2 231.5,102.4 233.3,100.9 230.4,98.8z" fill="#9b6d11"/>
<path d="M219.5,96.7 222.4,98.5 224.3,97.0 221.3,95.2z" fill="#9b5513"/>
<path d="M271.0,142.0 273.7,146.1 275.4,144.8 272.8,140.7z" fill="#128694"/>
<path d="M278.7,158.1 281.3,162.8 283.0,161.6 280.4,156.9z" fill="#0a2492"/>
<path d="M242.4,108.7 245.3,111.3 247.1,109.9 244.3,107.3z" fill="#8d9b0e"/>
<path d="M160.0,97.3 163.1,97.3 164.8,95.7 161.7,95.7z" fill="#090601"/>
<path d="M126.2,112.9 129.4,111.6 131.1,110.1 127.9,111.4z" fill="#000000"/>
<path d="M107.8,125.0 110.9,123.0 112.6,121.7 109.5,123.7z" fill="#000000"/>
<path d="M186.1,92.5 189.1,93.3 191.0,91.8 187.9,90.9z" fill="#7d3812"/>
<path d="M268.7,138.6 271.4,142.6 273.1,141.2 270.5,137.3z" fill="#13938a"/>
<path d="M175.1,93.7 178.2,94.2 180.0,92.6 177.0,92.1z" fill="#4a250a"/>
<path d="M155.7,98.8 158.8,98.6 160.6,97.0 157.5,97.2z" fill="#010100"/>
<path d="M244.9,110.9 247.7,113.7 249.5,112.2 246.7,109.5z" fill="#7b9c0f"/>
<path d="M130.4,110.5 133.6,109.4 135.3,107.9 132.1,108.9z" fill="#000000"/>
<path d="M231.0,102.0 233.9,104.2 235.8,102.8 232.9,100.5z" fill="#9b7810"/>
<path d="M212.9,95.1 215.8,96.8 217.7,95.3 214.7,93.6z" fill="#9a4d15"/>
<path d="M151.5,100.4 154.6,100.1 156.4,98.5 153.3,98.8z" fill="#000000"/>
<path d="M134.7,108.2 137.8,107.3 139.5,105.7 136.3,106.6z" fill="#000000"/>
<path d="M266.4,135.4 269.1,139.2 270.8,137.8 268.1,134.0z" fill="#149573"/>
<path d="M247.3,113.2 250.1,116.1 251.9,114.6 249.1,111.8z" fill="#689c11"/>
<path d="M222.0,98.2 224.9,100.1 226.8,98.6 223.8,96.7z" fill="#9b5c12"/>
<path d="M276.5,154.2 279.0,158.7 280.7,157.5 278.1,152.9z" fill="#0c3d93"/>
<path d="M192.8,92.5 195.8,93.6 197.7,92.1 194.7,91.0z" fill="#934115"/>
<path d="M147.3,102.2 150.4,101.7 152.2,100.1 149.0,100.5z" fill="#000000"/>
<path d="M138.9,106.1 142.0,105.3 143.7,103.7 140.6,104.5z" fill="#000000"/>
<path d="M143.1,104.0 146.2,103.5 147.9,101.9 144.8,102.4z" fill="#000000"/>
<path d="M206.2,93.9 209.2,95.4 211.0,93.9 208.1,92.4z" fill="#9a4815"/>
<path d="M199.5,93.0 202.5,94.3 204.4,92.8 201.4,91.5z" fill="#994416"/>
<path d="M264.0,132.2 266.8,135.9 268.5,134.5 265.8,130.8z" fill="#15975d"/>
<path d="M112.0,122.1 115.1,120.3 116.8,119.0 113.6,120.8z" fill="#000000"/>
<path d="M249.7,115.6 252.5,118.6 254.3,117.1 251.5,114.2z" fill="#549d13"/>
<path d="M170.9,94.7 174.0,95.1 175.8,93.5 172.7,93.1z" fill="#371d07"/>
<path d="M97.8,132.5 100.8,130.1 102.5,128.9 99.5,131.2z" fill="#000000"/>
<path d="M233.5,103.8 236.4,106.2 238.2,104.7 235.3,102.4z" fill="#9b840f"/>
<path d="M252.1,118.1 254.9,121.2 256.7,119.8 253.9,116.7z" fill="#3f9d15"/>
<path d="M261.7,129.2 264.4,132.7 266.2,131.3 263.4,127.8z" fill="#179a47"/>
<path d="M181.9,93.2 184.9,93.9 186.8,92.3 183.7,91.6z" fill="#6e330f"/>
<path d="M254.5,120.7 257.3,123.9 259.1,122.5 256.3,119.3z" fill="#2a9e17"/>
<path d="M259.3,126.2 262.1,129.7 263.8,128.3 261.1,124.8z" fill="#189c32"/>
<path d="M256.9,123.4 259.7,126.7 261.5,125.3 258.7,122.0z" fill="#199e1d"/>
<path d="M274.2,150.4 276.8,154.7 278.5,153.5 275.9,149.1z" fill="#0e5593"/>
<path d="M215.4,96.4 218.3,98.2 220.2,96.7 217.2,94.9z" fill="#9a5214"/>
<path d="M224.5,99.7 227.4,101.8 229.2,100.3 226.3,98.3z" fill="#9b6512"/>
<path d="M116.2,119.3 119.3,117.7 121.0,116.3 117.8,117.9z" fill="#000000"/>
<path d="M166.7,95.9 169.8,96.1 171.6,94.5 168.5,94.3z" fill="#251504"/>
<path d="M236.0,105.8 238.8,108.2 240.7,106.7 237.8,104.3z" fill="#9b910d"/>
<path d="M188.6,93.0 191.7,94.0 193.5,92.5 190.5,91.5z" fill="#893e14"/>
<path d="M102.0,129.3 105.0,127.2 106.7,125.9 103.6,128.1z" fill="#000000"/>
<path d="M208.7,95.0 211.7,96.6 213.6,95.1 210.6,93.5z" fill="#9a4b15"/>
<path d="M271.9,146.7 274.5,150.9 276.2,149.7 273.6,145.4z" fill="#106d94"/>
<path d="M177.7,94.0 180.7,94.6 182.6,93.0 179.5,92.4z" fill="#5c2d0c"/>
<path d="M120.4,116.7 123.5,115.2 125.2,113.8 122.0,115.2z" fill="#000000"/>
<path d="M162.5,97.1 165.6,97.3 167.4,95.7 164.3,95.5z" fill="#140d02"/>
<path d="M238.4,107.8 241.3,110.3 243.1,108.9 240.2,106.3z" fill="#989b0d"/>
<path d="M195.3,93.3 198.4,94.5 200.2,93.0 197.2,91.8z" fill="#984416"/>
<path d="M202.0,94.0 205.1,95.4 206.9,93.9 203.9,92.5z" fill="#9a4616"/>
<path d="M226.9,101.4 229.9,103.6 231.7,102.1 228.8,99.9z" fill="#9b7011"/>
<path d="M217.9,97.8 220.8,99.7 222.7,98.2 219.7,96.3z" fill="#9b5713"/>
<path d="M124.6,114.1 127.7,112.9 129.4,111.4 126.2,112.7z" fill="#000000"/>
<path d="M158.3,98.5 161.4,98.5 163.2,96.9 160.1,96.9z" fill="#080501"/>
<path d="M269.5,143.2 272.2,147.3 273.9,146.0 271.3,141.9z" fill="#128594"/>
<path d="M240.9,109.9 243.7,112.5 245.5,111.1 242.7,108.5z" fill="#8a9b0e"/>
<path d="M106.1,126.3 109.2,124.3 110.9,123.0 107.8,125.0z" fill="#000000"/>
<path d="M277.3,159.2 279.8,163.9 281.5,162.7 278.9,158.0z" fill="#0a2392"/>
<path d="M184.4,93.6 187.5,94.5 189.3,93.0 186.3,92.1z" fill="#7c3a11"/>
<path d="M173.5,94.9 176.5,95.4 178.4,93.8 175.3,93.3z" fill="#49260a"/>
<path d="M128.8,111.7 131.9,110.6 133.6,109.1 130.4,110.2z" fill="#000000"/>
<path d="M154.1,100.0 157.2,99.9 158.9,98.3 155.8,98.4z" fill="#010100"/>
<path d="M243.3,112.1 246.2,114.8 248.0,113.4 245.1,110.7z" fill="#789c10"/>
<path d="M267.2,139.8 269.9,143.7 271.6,142.4 269.0,138.5z" fill="#13938b"/>
<path d="M229.4,103.2 232.3,105.4 234.2,103.9 231.3,101.7z" fill="#9b7b0f"/>
<path d="M211.2,96.3 214.2,97.9 216.1,96.5 213.1,94.8z" fill="#9a4f14"/>
<path d="M133.0,109.5 136.1,108.5 137.8,107.0 134.6,107.9z" fill="#000000"/>
<path d="M149.8,101.6 153.0,101.4 154.7,99.8 151.6,100.0z" fill="#000000"/>
<path d="M137.2,107.3 140.3,106.6 142.0,105.0 138.9,105.7z" fill="#000000"/>
<path d="M145.6,103.4 148.7,103.0 150.5,101.4 147.4,101.8z" fill="#000000"/>
<path d="M141.4,105.3 144.5,104.7 146.3,103.1 143.1,103.7z" fill="#000000"/>
<path d="M220.4,99.3 223.3,101.3 225.2,99.8 222.2,97.9z" fill="#9b5e12"/>
<path d="M191.2,93.7 194.2,94.8 196.0,93.3 193.0,92.2z" fill="#934215"/>
<path d="M245.7,114.4 248.6,117.3 250.4,115.8 247.5,113.0z" fill="#659c12"/>
<path d="M264.9,136.5 267.6,140.3 269.3,139.0 266.6,135.2z" fill="#149574"/>
<path d="M204.6,95.1 207.6,96.5 209.4,95.0 206.4,93.6z" fill="#9a4915"/>
<path d="M110.3,123.4 113.4,121.6 115.1,120.2 111.9,122.0z" fill="#000000"/>
<path d="M197.9,94.2 200.9,95.5 202.7,94.0 199.7,92.7z" fill="#994616"/>
<path d="M275.0,155.3 277.6,159.8 279.3,158.6 276.7,154.1z" fill="#0c3c92"/>
<path d="M169.3,95.9 172.3,96.3 174.2,94.7 171.1,94.3z" fill="#361d07"/>
<path d="M96.1,133.7 99.1,131.4 100.8,130.2 97.8,132.5z" fill="#000000"/>
<path d="M248.2,116.8 251.0,119.8 252.8,118.3 250.0,115.4z" fill="#529d13"/>
<path d="M262.5,133.4 265.2,137.1 267.0,135.7 264.3,132.0z" fill="#15975e"/>
<path d="M231.9,105.0 234.8,107.3 236.6,105.9 233.7,103.6z" fill="#9b870e"/>
<path d="M250.6,119.3 253.4,122.4 255.2,121.0 252.4,117.9z" fill="#3d9d15"/>
<path d="M180.2,94.3 183.3,95.1 185.1,93.5 182.1,92.8z" fill="#6d340f"/>
<path d="M260.2,130.3 262.9,133.9 264.7,132.5 261.9,129.0z" fill="#169948"/>
<path d="M253.0,121.9 255.8,125.1 257.6,123.7 254.8,120.5z" fill="#289e17"/>
<path d="M257.8,127.4 260.5,130.8 262.3,129.5 259.6,126.0z" fill="#179b33"/>
<path d="M255.4,124.6 258.2,127.9 259.9,126.5 257.2,123.2z" fill="#199e1f"/>
<path d="M114.5,120.6 117.6,119.0 119.3,117.6 116.1,119.2z" fill="#000000"/>
<path d="M213.7,97.6 216.7,99.4 218.6,97.9 215.6,96.1z" fill="#9b5414"/>
<path d="M165.0,97.1 168.1,97.3 169.9,95.7 166.9,95.5z" fill="#231404"/>
<path d="M222.9,100.9 225.8,103.0 227.6,101.5 224.7,99.4z" fill="#9b6811"/>
<path d="M272.7,151.5 275.3,155.9 277.0,154.6 274.4,150.3z" fill="#0e5493"/>
<path d="M234.4,106.9 237.3,109.4 239.1,107.9 236.2,105.5z" fill="#9b940d"/>
<path d="M187.0,94.2 190.0,95.2 191.9,93.7 188.8,92.7z" fill="#893f13"/>
<path d="M100.3,130.6 103.3,128.4 105.0,127.1 101.9,129.3z" fill="#000000"/>
<path d="M207.1,96.2 210.1,97.8 211.9,96.3 208.9,94.7z" fill="#9a4d15"/>
<path d="M118.7,117.9 121.8,116.5 123.5,115.0 120.3,116.5z" fill="#000000"/>
<path d="M176.0,95.2 179.1,95.8 180.9,94.2 177.9,93.6z" fill="#5b2d0c"/>
<path d="M160.8,98.3 163.9,98.5 165.7,96.9 162.6,96.7z" fill="#130c02"/>
<path d="M193.7,94.5 196.7,95.7 198.6,94.2 195.6,93.0z" fill="#984615"/>
<path d="M200.4,95.2 203.4,96.6 205.3,95.0 202.3,93.7z" fill="#9a4815"/>
<path d="M236.8,109.0 239.7,111.5 241.5,110.1 238.7,107.5z" fill="#959b0d"/>
<path d="M270.4,147.9 273.0,152.1 274.7,150.8 272.1,146.6z" fill="#106c94"/>
<path d="M225.4,102.6 228.3,104.7 230.1,103.3 227.2,101.1z" fill="#9b7210"/>
<path d="M122.9,115.4 126.0,114.1 127.7,112.7 124.5,113.9z" fill="#000000"/>
<path d="M216.3,99.0 219.2,100.9 221.1,99.4 218.1,97.5z" fill="#9b5913"/>
<path d="M156.6,99.7 159.7,99.7 161.5,98.1 158.4,98.1z" fill="#070501"/>
<path d="M104.4,127.6 107.5,125.5 109.2,124.3 106.1,126.3z" fill="#000000"/>
<path d="M239.3,111.1 242.2,113.7 244.0,112.3 241.1,109.6z" fill="#889b0e"/>
<path d="M268.1,144.4 270.7,148.4 272.5,147.1 269.8,143.1z" fill="#118494"/>
<path d="M127.1,113.0 130.2,111.9 131.9,110.4 128.7,111.5z" fill="#000000"/>
<path d="M152.4,101.2 155.5,101.1 157.3,99.5 154.1,99.6z" fill="#010000"/>
<path d="M171.8,96.1 174.9,96.6 176.7,95.0 173.6,94.5z" fill="#482609"/>
<path d="M182.8,94.8 185.8,95.7 187.7,94.1 184.6,93.3z" fill="#7c3b11"/>
<path d="M275.8,160.3 278.4,165.0 280.1,163.7 277.5,159.1z" fill="#0a2292"/>
<path d="M131.3,110.7 134.4,109.8 136.1,108.2 133.0,109.2z" fill="#000000"/>
<path d="M148.2,102.9 151.3,102.6 153.0,101.0 149.9,101.3z" fill="#000000"/>
<path d="M241.7,113.3 244.6,116.0 246.4,114.6 243.6,111.9z" fill="#769c10"/>
<path d="M227.8,104.3 230.8,106.6 232.6,105.1 229.7,102.9z" fill="#9b7e0f"/>
<path d="M209.6,97.4 212.6,99.1 214.4,97.6 211.5,96.0z" fill="#9a5114"/>
<path d="M265.7,141.0 268.4,144.9 270.1,143.6 267.5,139.6z" fill="#13938c"/>
<path d="M135.5,108.6 138.7,107.8 140.3,106.2 137.2,107.0z" fill="#000000"/>
<path d="M143.9,104.6 147.1,104.2 148.8,102.6 145.7,103.0z" fill="#000000"/>
<path d="M139.7,106.5 142.9,105.9 144.6,104.4 141.4,104.9z" fill="#000000"/>
<path d="M189.5,94.9 192.6,96.0 194.4,94.5 191.4,93.4z" fill="#924415"/>
<path d="M218.8,100.5 221.7,102.5 223.6,101.0 220.6,99.0z" fill="#9b6112"/>
<path d="M108.6,124.6 111.7,122.8 113.4,121.5 110.3,123.3z" fill="#000000"/>
<path d="M244.2,115.6 247.0,118.4 248.8,117.0 246.0,114.2z" fill="#639c12"/>
<path d="M202.9,96.2 205.9,97.7 207.8,96.2 204.8,94.7z" fill="#9a4b15"/>
<path d="M94.4,134.9 97.4,132.6 99.1,131.4 96.1,133.7z" fill="#000000"/>
<path d="M263.4,137.7 266.1,141.5 267.8,140.2 265.1,136.4z" fill="#149575"/>
<path d="M167.6,97.1 170.7,97.5 172.5,95.9 169.4,95.5z" fill="#341d06"/>
<path d="M196.2,95.4 199.3,96.7 201.1,95.1 198.1,93.9z" fill="#9a4815"/>
<path d="M246.6,118.0 249.4,121.0 251.2,119.5 248.4,116.6z" fill="#4f9d14"/>
<path d="M230.3,106.2 233.2,108.5 235.1,107.1 232.2,104.7z" fill="#9b890e"/>
<path d="M273.5,156.4 276.1,160.9 277.8,159.7 275.2,155.2z" fill="#0c3b92"/>
<path d="M261.0,134.6 263.7,138.2 265.5,136.9 262.8,133.2z" fill="#15975f"/>
<path d="M178.6,95.5 181.6,96.3 183.5,94.7 180.4,94.0z" fill="#6c350f"/>
<path d="M249.0,120.5 251.9,123.6 253.6,122.1 250.8,119.1z" fill="#3b9d16"/>
<path d="M258.6,131.5 261.4,135.1 263.1,133.7 260.4,130.2z" fill="#16994a"/>
<path d="M112.8,121.9 115.9,120.2 117.6,118.8 114.4,120.5z" fill="#000000"/>
<path d="M251.4,123.1 254.3,126.3 256.0,124.9 253.2,121.7z" fill="#269e18"/>
<path d="M256.2,128.6 259.0,132.0 260.8,130.6 258.0,127.2z" fill="#179b35"/>
<path d="M253.9,125.8 256.6,129.1 258.4,127.7 255.6,124.4z" fill="#189d20"/>
<path d="M212.1,98.8 215.1,100.5 217.0,99.1 214.0,97.3z" fill="#9b5513"/>
<path d="M163.4,98.3 166.5,98.5 168.3,96.9 165.2,96.7z" fill="#221404"/>
<path d="M221.3,102.1 224.2,104.1 226.0,102.7 223.1,100.6z" fill="#9b6b11"/>
<path d="M232.8,108.1 235.7,110.6 237.5,109.1 234.6,106.7z" fill="#9b960d"/>
<path d="M98.6,131.8 101.6,129.6 103.3,128.4 100.2,130.6z" fill="#000000"/>
<path d="M271.2,152.7 273.9,157.0 275.5,155.7 272.9,151.4z" fill="#0e5393"/>
<path d="M185.3,95.4 188.4,96.4 190.2,94.8 187.2,93.9z" fill="#894013"/>
<path d="M117.0,119.2 120.1,117.7 121.8,116.3 118.6,117.8z" fill="#000000"/>
<path d="M205.5,97.4 208.5,99.0 210.3,97.5 207.3,95.9z" fill="#9a4e14"/>
<path d="M159.2,99.6 162.3,99.7 164.0,98.1 160.9,98.0z" fill="#120c02"/>
<path d="M174.4,96.4 177.4,97.0 179.3,95.4 176.2,94.8z" fill="#5a2e0c"/>
<path d="M192.1,95.7 195.1,96.9 196.9,95.3 193.9,94.2z" fill="#984715"/>
<path d="M198.8,96.3 201.8,97.7 203.6,96.2 200.6,94.8z" fill="#9a4a15"/>
<path d="M235.3,110.2 238.1,112.7 240.0,111.2 237.1,108.7z" fill="#939b0d"/>
<path d="M121.2,116.7 124.3,115.4 126.0,113.9 122.8,115.2z" fill="#000000"/>
<path d="M268.9,149.1 271.6,153.2 273.3,151.9 270.6,147.7z" fill="#0f6b94"/>
<path d="M223.8,103.8 226.7,105.9 228.5,104.4 225.6,102.3z" fill="#9b7510"/>
<path d="M154.9,100.9 158.0,100.9 159.8,99.3 156.7,99.3z" fill="#060501"/>
<path d="M214.6,100.2 217.6,102.0 219.5,100.6 216.5,98.7z" fill="#9b5b13"/>
<path d="M102.7,128.8 105.8,126.8 107.5,125.5 104.4,127.5z" fill="#000000"/>
<path d="M125.4,114.2 128.6,113.1 130.2,111.6 127.0,112.7z" fill="#000000"/>
<path d="M237.7,112.3 240.6,114.9 242.4,113.5 239.5,110.8z" fill="#859c0e"/>
<path d="M150.7,102.5 153.8,102.3 155.6,100.7 152.5,100.9z" fill="#000000"/>
<path d="M170.2,97.3 173.2,97.8 175.1,96.2 172.0,95.7z" fill="#462609"/>
<path d="M181.1,96.0 184.2,96.9 186.0,95.3 183.0,94.5z" fill="#7b3c11"/>
<path d="M266.6,145.5 269.2,149.6 271.0,148.3 268.3,144.2z" fill="#118294"/>
<path d="M129.6,112.0 132.8,111.0 134.4,109.5 131.3,110.4z" fill="#000000"/>
<path d="M146.5,104.1 149.6,103.8 151.4,102.2 148.2,102.5z" fill="#000000"/>
<path d="M208.0,98.6 211.0,100.3 212.8,98.8 209.8,97.1z" fill="#9a5314"/>
<path d="M133.8,109.8 137.0,109.0 138.7,107.5 135.5,108.2z" fill="#000000"/>
<path d="M226.2,105.5 229.2,107.8 231.0,106.3 228.1,104.1z" fill="#9b800f"/>
<path d="M240.2,114.5 243.0,117.2 244.8,115.8 242.0,113.0z" fill="#749c10"/>
<path d="M142.3,105.9 145.4,105.4 147.1,103.8 144.0,104.3z" fill="#000000"/>
<path d="M138.0,107.8 141.2,107.2 142.9,105.6 139.7,106.2z" fill="#000000"/>
<path d="M274.3,161.5 276.9,166.0 278.6,164.8 276.0,160.2z" fill="#0a2292"/>
<path d="M106.9,125.9 110.0,124.0 111.7,122.7 108.6,124.6z" fill="#000000"/>
<path d="M264.2,142.2 266.9,146.1 268.7,144.7 266.0,140.8z" fill="#13928d"/>
<path d="M187.9,96.1 190.9,97.2 192.8,95.6 189.7,94.6z" fill="#924514"/>
<path d="M217.2,101.7 220.1,103.6 222.0,102.2 219.0,100.2z" fill="#9b6412"/>
<path d="M92.7,136.2 95.7,133.8 97.4,132.6 94.4,135.0z" fill="#000000"/>
<path d="M201.3,97.4 204.3,98.9 206.2,97.4 203.2,95.9z" fill="#9a4d15"/>
<path d="M242.6,116.8 245.5,119.6 247.3,118.2 244.4,115.4z" fill="#619c12"/>
<path d="M165.9,98.3 169.0,98.7 170.8,97.1 167.7,96.7z" fill="#331d06"/>
<path d="M194.6,96.6 197.6,97.8 199.5,96.3 196.5,95.0z" fill="#9a4915"/>
<path d="M261.9,138.9 264.6,142.7 266.3,141.3 263.6,137.5z" fill="#149577"/>
<path d="M245.1,119.2 247.9,122.2 249.7,120.7 246.9,117.8z" fill="#4d9d14"/>
<path d="M176.9,96.7 180.0,97.5 181.8,95.9 178.8,95.2z" fill="#6b360e"/>
<path d="M228.7,107.4 231.7,109.7 233.5,108.3 230.6,105.9z" fill="#9b8c0e"/>
<path d="M259.5,135.8 262.2,139.4 264.0,138.0 261.3,134.4z" fill="#159761"/>
<path d="M111.1,123.1 114.2,121.4 115.9,120.1 112.7,121.7z" fill="#000000"/>
<path d="M272.0,157.6 274.7,162.0 276.4,160.8 273.7,156.3z" fill="#0c3a92"/>
<path d="M247.5,121.7 250.3,124.8 252.1,123.3 249.3,120.3z" fill="#399d16"/>
<path d="M257.1,132.7 259.9,136.3 261.6,134.9 258.9,131.3z" fill="#16994b"/>
<path d="M249.9,124.3 252.7,127.5 254.5,126.1 251.7,122.9z" fill="#249e18"/>
<path d="M161.7,99.5 164.8,99.7 166.6,98.2 163.5,97.9z" fill="#211404"/>
<path d="M254.7,129.8 257.5,133.2 259.3,131.8 256.5,128.4z" fill="#179b36"/>
<path d="M252.3,127.0 255.1,130.3 256.9,128.9 254.1,125.6z" fill="#189d22"/>
<path d="M210.5,99.9 213.5,101.7 215.3,100.2 212.4,98.5z" fill="#9b5713"/>
<path d="M219.7,103.3 222.6,105.3 224.5,103.9 221.5,101.8z" fill="#9b6d11"/>
<path d="M96.9,133.1 99.9,130.9 101.6,129.6 98.6,131.8z" fill="#000000"/>
<path d="M231.2,109.3 234.1,111.8 235.9,110.3 233.0,107.9z" fill="#9b990d"/>
<path d="M183.7,96.6 186.7,97.5 188.6,96.0 185.5,95.1z" fill="#884213"/>
<path d="M115.3,120.4 118.5,119.0 120.1,117.6 116.9,119.0z" fill="#000000"/>
<path d="M157.5,100.8 160.6,100.9 162.4,99.3 159.3,99.2z" fill="#110b02"/>
<path d="M269.7,153.8 272.4,158.1 274.1,156.9 271.4,152.5z" fill="#0d5293"/>
<path d="M172.7,97.6 175.8,98.2 177.6,96.6 174.5,96.0z" fill="#592e0b"/>
<path d="M203.8,98.5 206.8,100.1 208.7,98.6 205.7,97.1z" fill="#9a5014"/>
<path d="M190.4,96.9 193.5,98.0 195.3,96.5 192.3,95.3z" fill="#984915"/>
<path d="M197.1,97.5 200.2,98.9 202.0,97.4 199.0,96.0z" fill="#9a4c15"/>
<path d="M119.5,117.9 122.7,116.6 124.3,115.1 121.1,116.4z" fill="#000000"/>
<path d="M233.7,111.3 236.6,113.9 238.4,112.4 235.5,109.9z" fill="#909b0d"/>
<path d="M153.3,102.2 156.4,102.1 158.1,100.6 155.0,100.6z" fill="#050401"/>
<path d="M222.2,104.9 225.1,107.1 226.9,105.6 224.0,103.5z" fill="#9b7710"/>
<path d="M101.0,130.0 104.1,128.0 105.8,126.7 102.7,128.8z" fill="#000000"/>
<path d="M213.0,101.3 216.0,103.2 217.9,101.7 214.9,99.9z" fill="#9b5d12"/>
<path d="M267.4,150.2 270.1,154.4 271.8,153.1 269.1,148.9z" fill="#0f6a94"/>
<path d="M123.7,115.5 126.9,114.4 128.5,112.9 125.3,114.0z" fill="#000000"/>
<path d="M149.0,103.7 152.2,103.5 153.9,101.9 150.8,102.1z" fill="#000000"/>
<path d="M168.5,98.5 171.6,99.0 173.4,97.4 170.3,96.9z" fill="#452609"/>
<path d="M236.2,113.5 239.0,116.1 240.8,114.7 238.0,112.0z" fill="#839c0f"/>
<path d="M179.5,97.2 182.5,98.0 184.4,96.5 181.3,95.7z" fill="#7b3d10"/>
<path d="M127.9,113.2 131.1,112.3 132.8,110.7 129.6,111.7z" fill="#000000"/>
<path d="M144.8,105.3 147.9,105.0 149.7,103.4 146.5,103.7z" fill="#000000"/>
<path d="M265.1,146.7 267.8,150.7 269.5,149.4 266.8,145.4z" fill="#118194"/>
<path d="M132.1,111.0 135.3,110.3 137.0,108.7 133.8,109.5z" fill="#000000"/>
<path d="M140.6,107.1 143.7,106.6 145.4,105.1 142.3,105.5z" fill="#000000"/>
<path d="M136.3,109.0 139.5,108.4 141.2,106.8 138.1,107.4z" fill="#000000"/>
<path d="M206.4,99.8 209.4,101.5 211.2,100.0 208.2,98.3z" fill="#9b5413"/>
<path d="M224.7,106.7 227.6,109.0 229.4,107.5 226.5,105.2z" fill="#9b830f"/>
<path d="M238.6,115.7 241.5,118.4 243.3,117.0 240.4,114.2z" fill="#729c10"/>
<path d="M105.2,127.1 108.3,125.3 110.0,124.0 106.9,125.8z" fill="#000000"/>
<path d="M186.2,97.3 189.3,98.3 191.1,96.8 188.1,95.7z" fill="#924714"/>
<path d="M91.0,137.4 94.0,135.1 95.7,133.9 92.7,136.2z" fill="#000000"/>
<path d="M272.9,162.6 275.5,167.1 277.2,165.9 274.6,161.3z" fill="#092192"/>
<path d="M262.7,143.3 265.4,147.2 267.2,145.9 264.5,142.0z" fill="#13928e"/>
<path d="M215.5,102.8 218.5,104.8 220.4,103.3 217.4,101.4z" fill="#9b6611"/>
<path d="M164.3,99.5 167.4,99.9 169.2,98.3 166.1,98.0z" fill="#321d06"/>
<path d="M199.7,98.6 202.7,100.0 204.5,98.6 201.5,97.1z" fill="#9a4e14"/>
<path d="M241.1,118.0 243.9,120.8 245.7,119.4 242.9,116.6z" fill="#5f9c12"/>
<path d="M193.0,97.7 196.0,99.0 197.8,97.5 194.8,96.2z" fill="#9a4b15"/>
<path d="M260.4,140.1 263.1,143.9 264.8,142.5 262.1,138.7z" fill="#149578"/>
<path d="M175.3,97.9 178.3,98.6 180.2,97.1 177.1,96.4z" fill="#6a360e"/>
<path d="M243.5,120.4 246.4,123.4 248.1,121.9 245.3,119.0z" fill="#4b9d14"/>
<path d="M227.1,108.5 230.1,110.9 231.9,109.4 229.0,107.1z" fill="#9b8f0e"/>
<path d="M109.4,124.4 112.5,122.7 114.2,121.3 111.0,123.0z" fill="#000000"/>
<path d="M258.0,137.0 260.7,140.6 262.5,139.2 259.7,135.6z" fill="#159762"/>
<path d="M245.9,122.9 248.8,126.0 250.6,124.5 247.7,121.5z" fill="#379d16"/>
<path d="M160.0,100.7 163.1,100.9 164.9,99.4 161.8,99.1z" fill="#1f1404"/>
<path d="M255.6,133.9 258.4,137.5 260.1,136.1 257.4,132.5z" fill="#16994d"/>
<path d="M270.6,158.7 273.2,163.1 274.9,161.9 272.3,157.4z" fill="#0b3a92"/>
<path d="M248.4,125.5 251.2,128.7 253.0,127.3 250.2,124.1z" fill="#239e18"/>
<path d="M208.9,101.1 211.9,102.9 213.7,101.4 210.8,99.6z" fill="#9b5913"/>
<path d="M253.2,131.0 256.0,134.4 257.7,133.0 255.0,129.6z" fill="#179b38"/>
<path d="M250.8,128.2 253.6,131.5 255.4,130.1 252.6,126.8z" fill="#189d24"/>
<path d="M95.2,134.3 98.2,132.1 99.9,130.9 96.9,133.0z" fill="#000000"/>
<path d="M218.1,104.4 221.0,106.5 222.9,105.0 219.9,103.0z" fill="#9b7011"/>
<path d="M113.6,121.7 116.8,120.2 118.4,118.8 115.2,120.3z" fill="#000000"/>
<path d="M182.0,97.8 185.1,98.7 186.9,97.2 183.9,96.2z" fill="#884312"/>
<path d="M229.6,110.5 232.5,112.9 234.4,111.5 231.5,109.0z" fill="#9b9b0c"/>
<path d="M155.8,102.0 158.9,102.1 160.7,100.5 157.6,100.4z" fill="#100b02"/>
<path d="M171.0,98.7 174.1,99.3 176.0,97.8 172.9,97.2z" fill="#572f0b"/>
<path d="M202.2,99.7 205.2,101.3 207.1,99.8 204.1,98.2z" fill="#9a5214"/>
<path d="M268.3,155.0 270.9,159.3 272.6,158.0 270.0,153.7z" fill="#0d5293"/>
<path d="M188.8,98.0 191.8,99.2 193.7,97.7 190.6,96.5z" fill="#984b15"/>
<path d="M117.8,119.1 121.0,117.8 122.6,116.4 119.4,117.7z" fill="#000000"/>
<path d="M195.5,98.7 198.5,100.1 200.4,98.6 197.4,97.2z" fill="#9a4d15"/>
<path d="M151.6,103.4 154.7,103.3 156.5,101.8 153.4,101.8z" fill="#050400"/>
<path d="M232.1,112.5 235.0,115.1 236.8,113.6 233.9,111.1z" fill="#8e9b0e"/>
<path d="M99.3,131.3 102.4,129.3 104.1,128.0 101.0,130.0z" fill="#000000"/>
<path d="M220.6,106.1 223.5,108.3 225.3,106.8 222.4,104.6z" fill="#9b7a10"/>
<path d="M211.4,102.5 214.4,104.4 216.2,102.9 213.3,101.0z" fill="#9b6012"/>
<path d="M122.0,116.7 125.2,115.6 126.8,114.1 123.7,115.2z" fill="#000000"/>
<path d="M147.4,104.9 150.5,104.7 152.2,103.1 149.1,103.3z" fill="#000000"/>
<path d="M265.9,151.4 268.6,155.5 270.3,154.2 267.6,150.1z" fill="#0f6994"/>
<path d="M166.8,99.7 169.9,100.2 171.7,98.6 168.6,98.1z" fill="#442608"/>
<path d="M177.8,98.4 180.9,99.2 182.7,97.7 179.7,96.8z" fill="#7a3e10"/>
<path d="M126.2,114.4 129.4,113.5 131.1,112.0 127.9,112.9z" fill="#000000"/>
<path d="M234.6,114.6 237.5,117.3 239.3,115.9 236.4,113.2z" fill="#819c0f"/>
<path d="M143.1,106.6 146.3,106.2 148.0,104.7 144.9,105.0z" fill="#000000"/>
<path d="M130.4,112.3 133.6,111.5 135.3,109.9 132.1,110.7z" fill="#000000"/>
<path d="M138.9,108.3 142.0,107.9 143.8,106.3 140.6,106.8z" fill="#000000"/>
<path d="M134.7,110.2 137.8,109.6 139.5,108.1 136.4,108.7z" fill="#000000"/>
<path d="M103.5,128.4 106.6,126.5 108.3,125.2 105.2,127.1z" fill="#000000"/>
<path d="M204.8,100.9 207.8,102.6 209.6,101.1 206.6,99.5z" fill="#9b5613"/>
<path d="M263.6,147.9 266.3,151.9 268.0,150.6 265.3,146.6z" fill="#118094"/>
<path d="M223.1,107.9 226.0,110.1 227.8,108.7 224.9,106.4z" fill="#9b850e"/>
<path d="M237.0,116.9 239.9,119.6 241.7,118.2 238.9,115.4z" fill="#6f9c11"/>
<path d="M89.3,138.6 92.3,136.3 94.0,135.1 91.0,137.4z" fill="#000000"/>
<path d="M184.6,98.4 187.6,99.5 189.5,98.0 186.4,96.9z" fill="#924814"/>
<path d="M162.6,100.7 165.7,101.1 167.5,99.5 164.4,99.2z" fill="#301d06"/>
<path d="M213.9,104.0 216.9,106.0 218.8,104.5 215.8,102.5z" fill="#9b6911"/>
<path d="M198.1,99.7 201.1,101.2 202.9,99.7 199.9,98.2z" fill="#9a5014"/>
<path d="M191.3,98.9 194.4,100.2 196.2,98.7 193.2,97.4z" fill="#9a4d15"/>
<path d="M261.2,144.5 263.9,148.4 265.7,147.1 263.0,143.2z" fill="#13928f"/>
<path d="M239.5,119.2 242.4,122.0 244.2,120.6 241.3,117.7z" fill="#5d9c12"/>
<path d="M271.4,163.7 274.0,168.2 275.7,167.0 273.1,162.4z" fill="#092092"/>
<path d="M173.6,99.1 176.7,99.8 178.5,98.3 175.4,97.6z" fill="#69370e"/>
<path d="M107.7,125.6 110.9,123.9 112.5,122.6 109.4,124.2z" fill="#000000"/>
<path d="M258.8,141.3 261.6,145.0 263.3,143.7 260.6,139.9z" fill="#149479"/>
<path d="M242.0,121.6 244.8,124.6 246.6,123.1 243.8,120.2z" fill="#499d14"/>
<path d="M225.6,109.7 228.5,112.1 230.3,110.6 227.4,108.3z" fill="#9b910d"/>
<path d="M158.4,101.9 161.5,102.1 163.3,100.5 160.2,100.3z" fill="#1e1303"/>
<path d="M256.5,138.1 259.2,141.8 261.0,140.4 258.2,136.8z" fill="#159763"/>
<path d="M244.4,124.1 247.2,127.2 249.0,125.7 246.2,122.7z" fill="#359d16"/>
<path d="M93.5,135.5 96.5,133.3 98.2,132.1 95.2,134.3z" fill="#000000"/>
<path d="M207.3,102.3 210.3,104.0 212.1,102.6 209.1,100.8z" fill="#9b5b13"/>
<path d="M254.1,135.1 256.8,138.6 258.6,137.3 255.8,133.7z" fill="#16994e"/>
<path d="M246.8,126.7 249.7,129.9 251.4,128.5 248.6,125.3z" fill="#219e18"/>
<path d="M249.3,129.4 252.1,132.7 253.8,131.3 251.0,128.0z" fill="#189d25"/>
<path d="M251.7,132.2 254.5,135.6 256.2,134.2 253.4,130.8z" fill="#179b39"/>
<path d="M111.9,122.9 115.1,121.4 116.7,120.0 113.5,121.5z" fill="#000000"/>
<path d="M269.1,159.8 271.8,164.2 273.4,163.0 270.8,158.6z" fill="#0b3992"/>
<path d="M216.5,105.6 219.4,107.7 221.3,106.2 218.3,104.1z" fill="#9b7210"/>
<path d="M180.4,98.9 183.4,99.9 185.3,98.4 182.2,97.4z" fill="#884412"/>
<path d="M228.1,111.7 231.0,114.1 232.8,112.7 229.9,110.2z" fill="#989b0d"/>
<path d="M154.1,103.2 157.3,103.3 159.0,101.7 155.9,101.6z" fill="#0f0a02"/>
<path d="M169.4,99.9 172.5,100.5 174.3,99.0 171.2,98.4z" fill="#562f0b"/>
<path d="M200.6,100.9 203.6,102.5 205.5,101.0 202.4,99.4z" fill="#9b5414"/>
<path d="M116.1,120.4 119.3,119.1 120.9,117.6 117.8,118.9z" fill="#000000"/>
<path d="M187.1,99.2 190.2,100.4 192.0,98.9 189.0,97.7z" fill="#984c14"/>
<path d="M193.9,99.9 196.9,101.2 198.8,99.7 195.7,98.4z" fill="#9a4f14"/>
<path d="M149.9,104.6 153.0,104.5 154.8,103.0 151.7,103.0z" fill="#040300"/>
<path d="M266.8,156.1 269.5,160.4 271.1,159.1 268.5,154.8z" fill="#0d5193"/>
<path d="M97.6,132.5 100.7,130.5 102.4,129.2 99.3,131.2z" fill="#000000"/>
<path d="M230.5,113.7 233.4,116.3 235.3,114.8 232.4,112.3z" fill="#8c9b0e"/>
<path d="M120.3,118.0 123.5,116.8 125.2,115.3 122.0,116.5z" fill="#000000"/>
<path d="M219.0,107.3 221.9,109.4 223.8,108.0 220.8,105.8z" fill="#9b7c0f"/>
<path d="M209.8,103.7 212.8,105.6 214.6,104.1 211.7,102.2z" fill="#9b6312"/>
<path d="M145.7,106.1 148.8,105.9 150.6,104.4 147.4,104.5z" fill="#000000"/>
<path d="M165.2,100.9 168.3,101.3 170.1,99.8 167.0,99.3z" fill="#432608"/>
<path d="M124.5,115.7 127.7,114.7 129.4,113.2 126.2,114.2z" fill="#000000"/>
<path d="M176.2,99.6 179.2,100.4 181.1,98.9 178.0,98.0z" fill="#793f10"/>
<path d="M141.4,107.8 144.6,107.4 146.3,105.9 143.2,106.2z" fill="#000000"/>
<path d="M264.4,152.5 267.1,156.7 268.8,155.4 266.2,151.2z" fill="#0f6894"/>
<path d="M233.0,115.8 235.9,118.5 237.7,117.0 234.8,114.4z" fill="#7e9c0f"/>
<path d="M128.8,113.5 131.9,112.7 133.6,111.2 130.4,112.0z" fill="#000000"/>
<path d="M137.2,109.6 140.4,109.1 142.1,107.5 138.9,108.0z" fill="#000000"/>
<path d="M133.0,111.5 136.2,110.8 137.9,109.3 134.7,109.9z" fill="#000000"/>
<path d="M101.8,129.6 105.0,127.7 106.6,126.4 103.5,128.3z" fill="#000000"/>
<path d="M203.1,102.1 206.1,103.8 208.0,102.3 205.0,100.6z" fill="#9b5813"/>
<path d="M221.5,109.1 224.4,111.3 226.3,109.9 223.3,107.6z" fill="#9b880e"/>
<path d="M87.6,139.8 90.6,137.5 92.3,136.3 89.3,138.6z" fill="#000000"/>
<path d="M235.5,118.1 238.4,120.8 240.2,119.4 237.3,116.6z" fill="#6d9c11"/>
<path d="M262.1,149.1 264.8,153.1 266.5,151.7 263.8,147.7z" fill="#117f94"/>
<path d="M182.9,99.6 186.0,100.7 187.8,99.1 184.8,98.1z" fill="#924a13"/>
<path d="M160.9,101.9 164.0,102.3 165.8,100.7 162.7,100.4z" fill="#2f1c05"/>
<path d="M212.3,105.2 215.3,107.2 217.2,105.7 214.2,103.7z" fill="#9b6b11"/>
<path d="M196.4,100.9 199.5,102.4 201.3,100.9 198.3,99.4z" fill="#9a5214"/>
<path d="M189.7,100.1 192.7,101.3 194.6,99.8 191.5,98.6z" fill="#9a4f14"/>
<path d="M237.9,120.4 240.8,123.2 242.6,121.8 239.8,118.9z" fill="#5b9d13"/>
<path d="M259.7,145.7 262.5,149.6 264.2,148.2 261.5,144.4z" fill="#139290"/>
<path d="M106.0,126.8 109.2,125.1 110.8,123.8 107.7,125.5z" fill="#000000"/>
<path d="M172.0,100.3 175.0,101.0 176.9,99.5 173.8,98.7z" fill="#68380d"/>
<path d="M270.0,164.8 272.6,169.3 274.3,168.1 271.6,163.6z" fill="#092092"/>
<path d="M224.0,110.9 226.9,113.3 228.7,111.8 225.8,109.5z" fill="#9b930d"/>
<path d="M240.4,122.8 243.3,125.7 245.1,124.3 242.2,121.4z" fill="#479d14"/>
<path d="M257.3,142.5 260.1,146.2 261.8,144.9 259.1,141.1z" fill="#14947a"/>
<path d="M156.7,103.1 159.8,103.3 161.6,101.7 158.5,101.5z" fill="#1d1303"/>
<path d="M91.8,136.7 94.8,134.5 96.5,133.3 93.5,135.5z" fill="#000000"/>
<path d="M242.8,125.3 245.7,128.4 247.5,126.9 244.6,123.9z" fill="#339d16"/>
<path d="M255.0,139.3 257.7,143.0 259.5,141.6 256.7,138.0z" fill="#159765"/>
<path d="M205.7,103.4 208.7,105.2 210.5,103.7 207.5,102.0z" fill="#9b5d12"/>
<path d="M110.2,124.2 113.4,122.6 115.0,121.3 111.9,122.8z" fill="#000000"/>
<path d="M245.3,127.9 248.1,131.1 249.9,129.7 247.1,126.5z" fill="#1f9e18"/>
<path d="M252.5,136.3 255.3,139.8 257.1,138.5 254.3,134.9z" fill="#16994f"/>
<path d="M214.9,106.8 217.8,108.8 219.7,107.4 216.7,105.3z" fill="#9b7510"/>
<path d="M247.7,130.6 250.5,133.9 252.3,132.5 249.5,129.2z" fill="#189d27"/>
<path d="M250.1,133.4 252.9,136.8 254.7,135.4 251.9,132.0z" fill="#179b3b"/>
<path d="M178.7,100.1 181.8,101.1 183.6,99.5 180.6,98.6z" fill="#874512"/>
<path d="M152.5,104.4 155.6,104.5 157.4,102.9 154.3,102.8z" fill="#0e0a01"/>
<path d="M267.6,161.0 270.3,165.4 272.0,164.1 269.3,159.7z" fill="#0b3892"/>
<path d="M226.5,112.9 229.4,115.3 231.2,113.9 228.3,111.4z" fill="#969b0d"/>
<path d="M167.7,101.1 170.8,101.7 172.6,100.2 169.6,99.6z" fill="#552f0b"/>
<path d="M114.4,121.6 117.6,120.3 119.2,118.9 116.1,120.2z" fill="#000000"/>
<path d="M199.0,102.0 202.0,103.6 203.8,102.1 200.8,100.6z" fill="#9b5513"/>
<path d="M185.5,100.4 188.6,101.5 190.4,100.0 187.3,98.9z" fill="#984e14"/>
<path d="M148.2,105.8 151.4,105.7 153.1,104.2 150.0,104.2z" fill="#030300"/>
<path d="M192.2,101.0 195.3,102.4 197.1,100.9 194.1,99.5z" fill="#9a5114"/>
<path d="M96.0,133.7 99.0,131.7 100.7,130.4 97.6,132.5z" fill="#000000"/>
<path d="M118.6,119.2 121.8,118.0 123.5,116.6 120.3,117.7z" fill="#000000"/>
<path d="M229.0,114.9 231.9,117.5 233.7,116.0 230.8,113.5z" fill="#8a9b0e"/>
<path d="M265.3,157.3 268.0,161.5 269.7,160.2 267.0,156.0z" fill="#0d5093"/>
<path d="M217.4,108.5 220.3,110.6 222.2,109.2 219.2,107.0z" fill="#9b7f0f"/>
<path d="M144.0,107.3 147.1,107.1 148.9,105.6 145.8,105.8z" fill="#000000"/>
<path d="M208.2,104.8 211.2,106.7 213.0,105.2 210.1,103.4z" fill="#9b6512"/>
<path d="M122.9,116.9 126.0,115.9 127.7,114.4 124.5,115.4z" fill="#000000"/>
<path d="M163.5,102.1 166.6,102.5 168.4,101.0 165.3,100.5z" fill="#412608"/>
<path d="M139.8,109.0 142.9,108.6 144.7,107.1 141.5,107.4z" fill="#000000"/>
<path d="M174.5,100.7 177.6,101.6 179.4,100.0 176.4,99.2z" fill="#794010"/>
<path d="M127.1,114.7 130.3,113.9 131.9,112.4 128.8,113.2z" fill="#000000"/>
<path d="M135.5,110.8 138.7,110.3 140.4,108.7 137.3,109.2z" fill="#000000"/>
<path d="M131.3,112.7 134.5,112.0 136.2,110.5 133.0,111.1z" fill="#000000"/>
<path d="M231.4,117.0 234.3,119.7 236.2,118.2 233.3,115.6z" fill="#7c9c0f"/>
<path d="M100.1,130.8 103.3,129.0 104.9,127.7 101.8,129.5z" fill="#000000"/>
<path d="M263.0,153.7 265.7,157.8 267.4,156.5 264.7,152.4z" fill="#0f6794"/>
<path d="M201.5,103.3 204.5,104.9 206.4,103.5 203.4,101.8z" fill="#9b5913"/>
<path d="M85.9,141.0 88.9,138.7 90.7,137.5 87.6,139.8z" fill="#000000"/>
<path d="M219.9,110.2 222.8,112.5 224.7,111.0 221.7,108.8z" fill="#9b8a0e"/>
<path d="M181.3,100.8 184.4,101.8 186.2,100.3 183.1,99.3z" fill="#924b13"/>
<path d="M233.9,119.3 236.8,122.0 238.6,120.6 235.7,117.8z" fill="#6b9c11"/>
<path d="M159.3,103.1 162.4,103.4 164.2,101.9 161.1,101.5z" fill="#2d1c05"/>
<path d="M260.6,150.2 263.3,154.2 265.0,152.9 262.3,148.9z" fill="#117e94"/>
<path d="M194.8,102.1 197.8,103.5 199.7,102.0 196.6,100.6z" fill="#9b5414"/>
<path d="M210.7,106.4 213.7,108.3 215.6,106.9 212.6,104.9z" fill="#9b6e11"/>
<path d="M188.1,101.2 191.1,102.5 192.9,101.0 189.9,99.7z" fill="#9a5014"/>
<path d="M104.3,128.1 107.5,126.4 109.1,125.0 106.0,126.7z" fill="#000000"/>
<path d="M236.4,121.6 239.3,124.4 241.1,123.0 238.2,120.1z" fill="#599d13"/>
<path d="M170.3,101.5 173.4,102.2 175.2,100.6 172.1,99.9z" fill="#68380d"/>
<path d="M258.2,146.9 261.0,150.8 262.7,149.4 260.0,145.5z" fill="#139292"/>
<path d="M155.0,104.3 158.2,104.5 159.9,102.9 156.8,102.7z" fill="#1b1303"/>
<path d="M222.4,112.1 225.3,114.4 227.2,113.0 224.2,110.6z" fill="#9b960d"/>
<path d="M238.8,124.0 241.7,126.9 243.5,125.5 240.7,122.6z" fill="#459d15"/>
<path d="M268.5,165.9 271.1,170.4 272.8,169.2 270.2,164.7z" fill="#091f92"/>
<path d="M90.1,137.9 93.1,135.8 94.8,134.5 91.8,136.7z" fill="#000000"/>
<path d="M255.8,143.7 258.6,147.4 260.3,146.0 257.6,142.3z" fill="#14947b"/>
<path d="M108.5,125.4 111.7,123.9 113.3,122.5 110.2,124.0z" fill="#000000"/>
<path d="M241.3,126.5 244.2,129.6 245.9,128.1 243.1,125.1z" fill="#329e16"/>
<path d="M204.1,104.6 207.1,106.4 208.9,104.9 205.9,103.1z" fill="#9b6012"/>
<path d="M253.4,140.5 256.2,144.2 258.0,142.8 255.2,139.2z" fill="#159666"/>
<path d="M243.7,129.1 246.6,132.3 248.4,130.9 245.5,127.7z" fill="#1d9e18"/>
<path d="M213.3,107.9 216.2,110.0 218.1,108.6 215.1,106.5z" fill="#9b7710"/>
<path d="M177.1,101.3 180.2,102.2 182.0,100.7 178.9,99.8z" fill="#874711"/>
<path d="M251.0,137.5 253.8,141.0 255.6,139.6 252.8,136.1z" fill="#169951"/>
<path d="M150.8,105.6 153.9,105.7 155.7,104.1 152.6,104.0z" fill="#0d0901"/>
<path d="M246.2,131.8 249.0,135.1 250.8,133.7 248.0,130.4z" fill="#189d28"/>
<path d="M248.6,134.6 251.4,138.0 253.2,136.6 250.4,133.2z" fill="#179b3c"/>
<path d="M166.1,102.3 169.2,102.9 171.0,101.3 167.9,100.7z" fill="#54300a"/>
<path d="M224.9,114.0 227.8,116.5 229.6,115.0 226.7,112.6z" fill="#949b0d"/>
<path d="M112.7,122.8 115.9,121.5 117.6,120.1 114.4,121.4z" fill="#000000"/>
<path d="M266.2,162.1 268.8,166.5 270.5,165.2 267.9,160.8z" fill="#0b3792"/>
<path d="M197.4,103.2 200.4,104.8 202.2,103.3 199.2,101.7z" fill="#9b5713"/>
<path d="M183.9,101.5 186.9,102.7 188.8,101.2 185.7,100.0z" fill="#984f14"/>
<path d="M146.6,107.0 149.7,106.9 151.5,105.4 148.3,105.4z" fill="#030200"/>
<path d="M94.3,134.9 97.4,132.9 99.0,131.7 95.9,133.7z" fill="#000000"/>
<path d="M190.6,102.2 193.7,103.5 195.5,102.1 192.5,100.7z" fill="#9a5214"/>
<path d="M116.9,120.4 120.1,119.3 121.8,117.8 118.6,119.0z" fill="#000000"/>
<path d="M227.4,116.1 230.3,118.6 232.1,117.2 229.2,114.6z" fill="#879b0e"/>
<path d="M142.3,108.5 145.5,108.3 147.2,106.8 144.1,107.0z" fill="#000000"/>
<path d="M215.8,109.6 218.7,111.8 220.6,110.3 217.6,108.2z" fill="#9b810f"/>
<path d="M121.2,118.1 124.4,117.1 126.0,115.6 122.8,116.6z" fill="#000000"/>
<path d="M206.6,106.0 209.6,107.9 211.4,106.4 208.4,104.5z" fill="#9b6711"/>
<path d="M263.8,158.4 266.5,162.7 268.2,161.4 265.5,157.1z" fill="#0d4f93"/>
<path d="M161.8,103.2 164.9,103.7 166.8,102.1 163.7,101.7z" fill="#402608"/>
<path d="M138.1,110.2 141.2,109.8 143.0,108.3 139.8,108.6z" fill="#000000"/>
<path d="M125.4,116.0 128.6,115.1 130.3,113.6 127.1,114.4z" fill="#000000"/>
<path d="M172.9,101.9 176.0,102.7 177.8,101.2 174.7,100.4z" fill="#78410f"/>
<path d="M133.9,112.0 137.0,111.5 138.7,109.9 135.6,110.4z" fill="#000000"/>
<path d="M129.6,113.9 132.8,113.2 134.5,111.7 131.3,112.4z" fill="#000000"/>
<path d="M98.4,132.1 101.6,130.2 103.2,128.9 100.1,130.8z" fill="#000000"/>
<path d="M229.9,118.2 232.8,120.9 234.6,119.4 231.7,116.8z" fill="#7a9c10"/>
<path d="M261.5,154.9 264.2,159.0 265.9,157.7 263.2,153.5z" fill="#0f6794"/>
<path d="M84.2,142.2 87.2,139.9 89.0,138.7 85.9,141.0z" fill="#000000"/>
<path d="M199.9,104.4 202.9,106.1 204.8,104.6 201.7,103.0z" fill="#9b5b12"/>
<path d="M218.3,111.4 221.3,113.7 223.1,112.2 220.1,109.9z" fill="#9b8c0e"/>
<path d="M179.7,101.9 182.7,103.0 184.6,101.5 181.5,100.4z" fill="#924d13"/>
<path d="M157.6,104.3 160.7,104.6 162.5,103.1 159.4,102.7z" fill="#2c1c05"/>
<path d="M232.4,120.4 235.3,123.2 237.1,121.8 234.2,119.0z" fill="#699c11"/>
<path d="M193.2,103.2 196.2,104.7 198.1,103.2 195.0,101.7z" fill="#9b5513"/>
<path d="M102.6,129.3 105.8,127.6 107.4,126.2 104.3,128.0z" fill="#000000"/>
<path d="M209.1,107.5 212.1,109.5 214.0,108.0 211.0,106.1z" fill="#9b7010"/>
<path d="M259.1,151.4 261.8,155.4 263.5,154.1 260.8,150.1z" fill="#117d94"/>
<path d="M186.4,102.4 189.5,103.7 191.3,102.2 188.3,100.9z" fill="#9a5214"/>
<path d="M168.6,102.6 171.7,103.3 173.6,101.8 170.5,101.1z" fill="#67390d"/>
<path d="M234.8,122.8 237.7,125.6 239.5,124.2 236.6,121.3z" fill="#579d13"/>
<path d="M153.4,105.5 156.5,105.7 158.3,104.1 155.2,103.9z" fill="#1a1203"/>
<path d="M256.7,148.1 259.5,151.9 261.2,150.6 258.5,146.7z" fill="#139293"/>
<path d="M220.8,113.3 223.8,115.6 225.6,114.2 222.6,111.8z" fill="#9b980d"/>
<path d="M88.4,139.1 91.4,137.0 93.1,135.8 90.1,137.9z" fill="#000000"/>
<path d="M237.3,125.2 240.2,128.1 242.0,126.7 239.1,123.7z" fill="#439d15"/>
<path d="M106.8,126.6 110.0,125.1 111.7,123.7 108.5,125.3z" fill="#000000"/>
<path d="M254.3,144.9 257.1,148.6 258.8,147.2 256.1,143.5z" fill="#14947d"/>
<path d="M267.0,167.0 269.7,171.5 271.4,170.3 268.7,165.8z" fill="#091f92"/>
<path d="M239.8,127.7 242.6,130.8 244.4,129.3 241.6,126.3z" fill="#309e17"/>
<path d="M202.4,105.8 205.5,107.5 207.3,106.1 204.3,104.3z" fill="#9b6212"/>
<path d="M251.9,141.7 254.7,145.4 256.5,144.0 253.7,140.3z" fill="#159667"/>
<path d="M149.1,106.8 152.3,106.8 154.0,105.3 150.9,105.2z" fill="#0c0901"/>
<path d="M175.4,102.5 178.5,103.4 180.3,101.9 177.3,100.9z" fill="#874811"/>
<path d="M211.7,109.1 214.6,111.2 216.5,109.7 213.5,107.7z" fill="#9b7a10"/>
<path d="M242.2,130.3 245.1,133.5 246.8,132.1 244.0,128.9z" fill="#1b9e19"/>
<path d="M249.5,138.7 252.3,142.2 254.1,140.8 251.3,137.3z" fill="#169852"/>
<path d="M164.4,103.5 167.5,104.0 169.3,102.5 166.2,101.9z" fill="#53300a"/>
<path d="M244.7,133.0 247.5,136.3 249.3,134.9 246.4,131.6z" fill="#189c2a"/>
<path d="M111.0,124.1 114.2,122.7 115.9,121.3 112.7,122.7z" fill="#000000"/>
<path d="M247.1,135.8 249.9,139.2 251.7,137.8 248.9,134.4z" fill="#179a3e"/>
<path d="M223.3,115.2 226.2,117.7 228.1,116.2 225.1,113.8z" fill="#929b0d"/>
<path d="M195.7,104.4 198.8,105.9 200.6,104.5 197.6,102.9z" fill="#9b5913"/>
<path d="M144.9,108.2 148.0,108.1 149.8,106.6 146.7,106.6z" fill="#020200"/>
<path d="M92.6,136.2 95.7,134.1 97.3,132.9 94.2,134.9z" fill="#000000"/>
<path d="M182.2,102.7 185.3,103.9 187.1,102.3 184.1,101.2z" fill="#995114"/>
<path d="M264.7,163.3 267.4,167.6 269.1,166.3 266.4,162.0z" fill="#0b3792"/>
<path d="M115.3,121.6 118.5,120.5 120.1,119.0 116.9,120.2z" fill="#000000"/>
<path d="M189.0,103.3 192.0,104.7 193.9,103.2 190.8,101.8z" fill="#9b5414"/>
<path d="M140.7,109.7 143.8,109.5 145.6,108.0 142.4,108.2z" fill="#000000"/>
<path d="M119.5,119.4 122.7,118.3 124.3,116.9 121.1,117.9z" fill="#000000"/>
<path d="M225.8,117.3 228.7,119.8 230.6,118.4 227.6,115.8z" fill="#859c0e"/>
<path d="M214.2,110.8 217.2,113.0 219.0,111.5 216.0,109.3z" fill="#9b840f"/>
<path d="M160.2,104.4 163.3,104.9 165.1,103.3 162.0,102.9z" fill="#3f2607"/>
<path d="M205.0,107.2 208.0,109.1 209.8,107.6 206.8,105.7z" fill="#9b6a11"/>
<path d="M136.4,111.4 139.6,111.0 141.3,109.5 138.1,109.8z" fill="#000000"/>
<path d="M123.7,117.2 126.9,116.3 128.6,114.8 125.4,115.7z" fill="#000000"/>
<path d="M132.2,113.2 135.3,112.7 137.1,111.1 133.9,111.7z" fill="#000000"/>
<path d="M171.2,103.1 174.3,103.9 176.1,102.4 173.0,101.5z" fill="#78410f"/>
<path d="M127.9,115.1 131.1,114.4 132.8,112.9 129.6,113.6z" fill="#000000"/>
<path d="M262.3,159.6 265.0,163.8 266.7,162.5 264.1,158.3z" fill="#0d4e93"/>
<path d="M96.8,133.3 99.9,131.4 101.5,130.1 98.4,132.0z" fill="#000000"/>
<path d="M228.3,119.4 231.2,122.1 233.0,120.6 230.1,118.0z" fill="#789c10"/>
<path d="M82.5,143.4 85.6,141.1 87.3,139.9 84.2,142.2z" fill="#000000"/>
<path d="M198.3,105.6 201.3,107.3 203.1,105.8 200.1,104.1z" fill="#9b5e12"/>
<path d="M260.0,156.0 262.7,160.1 264.4,158.8 261.7,154.7z" fill="#0f6694"/>
<path d="M155.9,105.5 159.1,105.8 160.9,104.3 157.7,103.9z" fill="#2b1c05"/>
<path d="M178.0,103.1 181.1,104.1 182.9,102.6 179.9,101.6z" fill="#924e13"/>
<path d="M216.7,112.6 219.7,114.8 221.5,113.4 218.5,111.1z" fill="#9b8f0e"/>
<path d="M230.8,121.6 233.7,124.4 235.5,123.0 232.6,120.2z" fill="#679c11"/>
<path d="M100.9,130.5 104.1,128.8 105.7,127.5 102.6,129.2z" fill="#000000"/>
<path d="M191.5,104.4 194.6,105.9 196.4,104.4 193.4,102.9z" fill="#9b5713"/>
<path d="M184.8,103.5 187.8,104.8 189.7,103.3 186.6,102.1z" fill="#9b5314"/>
<path d="M207.5,108.7 210.5,110.7 212.4,109.2 209.4,107.2z" fill="#9b7310"/>
<path d="M167.0,103.8 170.1,104.5 171.9,103.0 168.8,102.3z" fill="#66390d"/>
<path d="M257.6,152.6 260.3,156.6 262.1,155.2 259.3,151.3z" fill="#117d94"/>
<path d="M233.3,124.0 236.2,126.8 238.0,125.4 235.1,122.5z" fill="#549d13"/>
<path d="M151.7,106.7 154.8,106.9 156.6,105.3 153.5,105.1z" fill="#191203"/>
<path d="M86.7,140.3 89.8,138.2 91.4,137.0 88.4,139.1z" fill="#000000"/>
<path d="M105.2,127.8 108.3,126.3 110.0,124.9 106.8,126.5z" fill="#000000"/>
<path d="M255.2,149.3 258.0,153.1 259.7,151.8 257.0,147.9z" fill="#139294"/>
<path d="M219.2,114.4 222.2,116.8 224.0,115.4 221.1,113.0z" fill="#9b9b0c"/>
<path d="M235.7,126.4 238.6,129.3 240.4,127.9 237.5,124.9z" fill="#429d15"/>
<path d="M252.8,146.0 255.6,149.8 257.3,148.4 254.6,144.7z" fill="#14947e"/>
<path d="M200.8,106.9 203.8,108.7 205.7,107.2 202.7,105.5z" fill="#9b6512"/>
<path d="M238.2,128.9 241.1,132.0 242.9,130.5 240.0,127.5z" fill="#2e9e17"/>
<path d="M147.5,108.0 150.6,108.0 152.4,106.5 149.2,106.4z" fill="#0b0801"/>
<path d="M173.8,103.6 176.9,104.5 178.7,103.0 175.6,102.1z" fill="#864911"/>
<path d="M265.6,168.2 268.2,172.6 269.9,171.4 267.3,166.9z" fill="#091f92"/>
<path d="M210.1,110.3 213.0,112.4 214.9,110.9 211.9,108.8z" fill="#9b7c0f"/>
<path d="M250.4,142.9 253.2,146.5 254.9,145.2 252.2,141.5z" fill="#159668"/>
<path d="M109.4,125.3 112.5,123.9 114.2,122.5 111.0,123.9z" fill="#000000"/>
<path d="M240.7,131.5 243.5,134.7 245.3,133.3 242.5,130.1z" fill="#1a9e19"/>
<path d="M162.8,104.6 165.9,105.2 167.7,103.7 164.6,103.1z" fill="#52300a"/>
<path d="M248.0,139.9 250.8,143.4 252.6,142.0 249.8,138.5z" fill="#169853"/>
<path d="M243.1,134.2 246.0,137.5 247.7,136.1 244.9,132.8z" fill="#189c2b"/>
<path d="M245.6,137.0 248.4,140.4 250.1,139.0 247.3,135.6z" fill="#179a3f"/>
<path d="M221.7,116.4 224.7,118.9 226.5,117.4 223.6,115.0z" fill="#8f9b0d"/>
<path d="M143.2,109.4 146.4,109.3 148.1,107.8 145.0,107.8z" fill="#020200"/>
<path d="M90.9,137.4 94.0,135.3 95.6,134.1 92.6,136.1z" fill="#000000"/>
<path d="M194.1,105.5 197.1,107.1 199.0,105.6 196.0,104.0z" fill="#9b5a13"/>
<path d="M180.6,103.9 183.6,105.0 185.5,103.5 182.4,102.4z" fill="#995313"/>
<path d="M113.6,122.9 116.8,121.7 118.4,120.2 115.2,121.4z" fill="#000000"/>
<path d="M187.4,104.5 190.4,105.9 192.2,104.4 189.2,103.0z" fill="#9b5613"/>
<path d="M139.0,110.9 142.1,110.7 143.9,109.2 140.7,109.4z" fill="#000000"/>
<path d="M263.2,164.4 265.9,168.7 267.6,167.5 264.9,163.1z" fill="#0b3692"/>
<path d="M117.8,120.6 121.0,119.5 122.7,118.1 119.5,119.1z" fill="#000000"/>
<path d="M224.2,118.4 227.2,121.0 229.0,119.6 226.1,117.0z" fill="#839c0f"/>
<path d="M134.7,112.6 137.9,112.2 139.6,110.7 136.5,111.1z" fill="#000000"/>
<path d="M158.5,105.6 161.6,106.0 163.4,104.5 160.3,104.0z" fill="#3d2607"/>
<path d="M212.6,112.0 215.6,114.1 217.4,112.7 214.4,110.5z" fill="#9b860e"/>
<path d="M122.0,118.4 125.2,117.5 126.9,116.0 123.7,116.9z" fill="#000000"/>
<path d="M203.4,108.3 206.4,110.2 208.2,108.7 205.2,106.9z" fill="#9b6c11"/>
<path d="M130.5,114.4 133.7,113.9 135.4,112.3 132.2,112.9z" fill="#000000"/>
<path d="M126.3,116.3 129.4,115.6 131.1,114.1 128.0,114.8z" fill="#000000"/>
<path d="M169.6,104.2 172.7,105.0 174.5,103.5 171.4,102.7z" fill="#77420f"/>
<path d="M95.1,134.5 98.2,132.6 99.8,131.3 96.7,133.2z" fill="#000000"/>
<path d="M260.9,160.7 263.6,164.9 265.3,163.7 262.6,159.4z" fill="#0d4e93"/>
<path d="M80.8,144.6 83.9,142.3 85.6,141.1 82.5,143.4z" fill="#000000"/>
<path d="M226.7,120.6 229.7,123.3 231.5,121.8 228.6,119.2z" fill="#769c10"/>
<path d="M196.7,106.8 199.7,108.4 201.5,107.0 198.5,105.3z" fill="#9b6012"/>
<path d="M154.3,106.7 157.4,107.0 159.2,105.4 156.1,105.1z" fill="#291c05"/>
<path d="M176.4,104.3 179.4,105.3 181.3,103.8 178.2,102.8z" fill="#924f12"/>
<path d="M215.1,113.7 218.1,116.0 219.9,114.6 216.9,112.3z" fill="#9b910d"/>
<path d="M99.3,131.7 102.4,130.0 104.1,128.7 100.9,130.4z" fill="#000000"/>
<path d="M258.5,157.2 261.2,161.3 262.9,160.0 260.2,155.9z" fill="#0f6594"/>
<path d="M229.2,122.8 232.1,125.6 233.9,124.2 231.0,121.4z" fill="#659c12"/>
<path d="M189.9,105.5 193.0,107.0 194.8,105.5 191.8,104.1z" fill="#9b5813"/>
<path d="M183.2,104.7 186.2,106.0 188.1,104.5 185.0,103.2z" fill="#9b5513"/>
<path d="M205.9,109.8 208.9,111.8 210.8,110.4 207.8,108.4z" fill="#9b7510"/>
<path d="M165.3,105.0 168.4,105.7 170.3,104.1 167.2,103.4z" fill="#653a0c"/>
<path d="M256.1,153.8 258.9,157.7 260.6,156.4 257.8,152.4z" fill="#117c94"/>
<path d="M150.0,107.8 153.2,108.0 155.0,106.5 151.8,106.3z" fill="#181103"/>
<path d="M231.7,125.1 234.6,128.0 236.4,126.6 233.5,123.7z" fill="#539d13"/>
<path d="M85.0,141.5 88.1,139.3 89.8,138.2 86.7,140.3z" fill="#000000"/>
<path d="M103.5,129.0 106.6,127.5 108.3,126.1 105.1,127.7z" fill="#000000"/>
<path d="M217.6,115.6 220.6,118.0 222.4,116.5 219.5,114.2z" fill="#999b0d"/>
<path d="M253.7,150.5 256.5,154.3 258.2,152.9 255.5,149.1z" fill="#139295"/>
<path d="M234.2,127.6 237.1,130.5 238.9,129.1 236.0,126.1z" fill="#409d15"/>
<path d="M145.8,109.2 148.9,109.2 150.7,107.6 147.6,107.6z" fill="#0a0801"/>
<path d="M199.2,108.1 202.2,109.9 204.1,108.4 201.1,106.6z" fill="#9b6711"/>
<path d="M251.3,147.2 254.1,151.0 255.8,149.6 253.1,145.9z" fill="#14947f"/>
<path d="M172.1,104.8 175.2,105.7 177.1,104.2 174.0,103.3z" fill="#864a11"/>
<path d="M236.7,130.1 239.5,133.2 241.3,131.7 238.5,128.7z" fill="#2c9e17"/>
<path d="M107.7,126.5 110.9,125.1 112.5,123.7 109.3,125.1z" fill="#000000"/>
<path d="M161.1,105.8 164.2,106.4 166.0,104.8 162.9,104.3z" fill="#51310a"/>
<path d="M208.5,111.4 211.5,113.5 213.3,112.1 210.3,110.0z" fill="#9b7e0f"/>
<path d="M248.9,144.1 251.7,147.7 253.4,146.4 250.7,142.7z" fill="#15966a"/>
<path d="M239.1,132.7 242.0,135.9 243.8,134.5 240.9,131.3z" fill="#199e1a"/>
<path d="M264.1,169.3 266.8,173.7 268.5,172.5 265.8,168.0z" fill="#091f92"/>
<path d="M246.5,141.1 249.3,144.6 251.0,143.2 248.2,139.7z" fill="#169855"/>
<path d="M241.6,135.4 244.4,138.7 246.2,137.3 243.4,134.0z" fill="#189c2d"/>
<path d="M89.2,138.6 92.3,136.5 94.0,135.3 90.9,137.3z" fill="#000000"/>
<path d="M220.2,117.6 223.1,120.0 224.9,118.6 222.0,116.1z" fill="#8d9b0e"/>
<path d="M141.5,110.6 144.7,110.5 146.5,108.9 143.3,109.0z" fill="#010100"/>
<path d="M244.0,138.2 246.9,141.6 248.6,140.2 245.8,136.8z" fill="#179a40"/>
<path d="M192.5,106.7 195.5,108.3 197.4,106.8 194.3,105.2z" fill="#9b5d12"/>
<path d="M111.9,124.1 115.1,122.9 116.7,121.4 113.5,122.6z" fill="#000000"/>
<path d="M178.9,105.0 182.0,106.2 183.9,104.7 180.8,103.5z" fill="#995413"/>
<path d="M185.7,105.7 188.8,107.0 190.6,105.5 187.6,104.2z" fill="#9b5713"/>
<path d="M137.3,112.1 140.5,111.9 142.2,110.3 139.1,110.6z" fill="#000000"/>
<path d="M116.1,121.8 119.3,120.7 121.0,119.3 117.8,120.3z" fill="#000000"/>
<path d="M133.1,113.8 136.2,113.4 138.0,111.9 134.8,112.3z" fill="#000000"/>
<path d="M120.3,119.6 123.5,118.7 125.2,117.2 122.0,118.1z" fill="#000000"/>
<path d="M261.8,165.5 264.5,169.8 266.1,168.6 263.5,164.3z" fill="#0b3692"/>
<path d="M156.9,106.8 160.0,107.2 161.8,105.7 158.7,105.2z" fill="#3c2707"/>
<path d="M222.7,119.6 225.6,122.2 227.4,120.8 224.5,118.2z" fill="#819c0f"/>
<path d="M128.8,115.6 132.0,115.1 133.7,113.5 130.5,114.1z" fill="#000000"/>
<path d="M124.6,117.5 127.8,116.8 129.5,115.3 126.3,116.0z" fill="#000000"/>
<path d="M211.0,113.1 214.0,115.3 215.8,113.9 212.8,111.7z" fill="#9b880e"/>
<path d="M201.8,109.5 204.8,111.4 206.6,109.9 203.6,108.0z" fill="#9b6f11"/>
<path d="M167.9,105.4 171.0,106.2 172.8,104.7 169.7,103.9z" fill="#77430e"/>
<path d="M93.4,135.7 96.5,133.8 98.2,132.5 95.0,134.4z" fill="#000000"/>
<path d="M79.1,145.8 82.2,143.5 83.9,142.3 80.9,144.6z" fill="#000000"/>
<path d="M225.2,121.8 228.1,124.4 229.9,123.0 227.0,120.3z" fill="#749c10"/>
<path d="M259.4,161.9 262.1,166.1 263.8,164.8 261.1,160.6z" fill="#0d4d93"/>
<path d="M152.6,107.8 155.7,108.1 157.5,106.6 154.4,106.3z" fill="#281c04"/>
<path d="M195.0,107.9 198.1,109.6 199.9,108.1 196.9,106.4z" fill="#9b6312"/>
<path d="M174.7,105.4 177.8,106.5 179.6,105.0 176.6,103.9z" fill="#915112"/>
<path d="M97.6,132.9 100.7,131.2 102.4,129.9 99.2,131.6z" fill="#000000"/>
<path d="M213.5,114.9 216.5,117.2 218.3,115.7 215.4,113.5z" fill="#9b930d"/>
<path d="M227.7,124.0 230.6,126.8 232.4,125.3 229.5,122.6z" fill="#639c12"/>
<path d="M257.0,158.4 259.7,162.4 261.5,161.1 258.7,157.0z" fill="#0f6494"/>
<path d="M188.3,106.7 191.3,108.2 193.2,106.7 190.1,105.2z" fill="#9b5a13"/>
<path d="M181.5,105.9 184.6,107.1 186.4,105.6 183.4,104.4z" fill="#9b5713"/>
<path d="M204.3,111.0 207.3,113.0 209.2,111.5 206.2,109.6z" fill="#9b7710"/>
<path d="M163.7,106.1 166.8,106.8 168.6,105.3 165.5,104.6z" fill="#643b0c"/>
<path d="M148.4,109.0 151.5,109.2 153.3,107.7 150.2,107.5z" fill="#161102"/>
<path d="M83.3,142.7 86.4,140.5 88.1,139.3 85.0,141.5z" fill="#000000"/>
<path d="M101.8,130.3 104.9,128.7 106.6,127.4 103.4,128.9z" fill="#000000"/>
<path d="M230.2,126.3 233.1,129.2 234.9,127.8 232.0,124.9z" fill="#519d13"/>
<path d="M254.6,155.0 257.4,158.9 259.1,157.6 256.3,153.6z" fill="#117b94"/>
<path d="M216.1,116.8 219.0,119.2 220.8,117.7 217.9,115.3z" fill="#979b0d"/>
<path d="M232.6,128.8 235.5,131.7 237.3,130.3 234.4,127.3z" fill="#3e9d15"/>
<path d="M252.2,151.6 255.0,155.5 256.7,154.1 254.0,150.3z" fill="#139195"/>
<path d="M144.1,110.3 147.3,110.4 149.0,108.8 145.9,108.8z" fill="#090701"/>
<path d="M106.0,127.7 109.2,126.3 110.8,124.9 107.6,126.3z" fill="#000000"/>
<path d="M197.6,109.2 200.6,111.0 202.5,109.6 199.4,107.8z" fill="#9b6911"/>
<path d="M170.5,105.9 173.6,106.9 175.4,105.4 172.3,104.4z" fill="#864b10"/>
<path d="M235.1,131.3 238.0,134.4 239.8,132.9 236.9,129.9z" fill="#2a9e17"/>
<path d="M159.4,107.0 162.6,107.5 164.4,106.0 161.3,105.4z" fill="#503109"/>
<path d="M249.8,148.4 252.6,152.2 254.3,150.8 251.6,147.1z" fill="#149480"/>
<path d="M206.9,112.6 209.9,114.7 211.7,113.2 208.7,111.2z" fill="#9b810f"/>
<path d="M237.6,133.9 240.5,137.1 242.2,135.7 239.4,132.5z" fill="#199e1b"/>
<path d="M87.5,139.7 90.6,137.7 92.3,136.5 89.2,138.5z" fill="#000000"/>
<path d="M247.4,145.3 250.2,148.9 251.9,147.6 249.1,143.9z" fill="#15966b"/>
<path d="M139.9,111.8 143.0,111.7 144.8,110.1 141.6,110.2z" fill="#010100"/>
<path d="M110.2,125.3 113.4,124.1 115.1,122.7 111.9,123.9z" fill="#000000"/>
<path d="M240.1,136.6 242.9,139.9 244.7,138.5 241.8,135.2z" fill="#189c2e"/>
<path d="M218.6,118.8 221.5,121.2 223.3,119.8 220.4,117.3z" fill="#8b9b0e"/>
<path d="M244.9,142.3 247.8,145.8 249.5,144.4 246.7,140.9z" fill="#169856"/>
<path d="M242.5,139.4 245.3,142.8 247.1,141.4 244.3,138.0z" fill="#179a42"/>
<path d="M190.9,107.8 193.9,109.4 195.7,107.9 192.7,106.4z" fill="#9b5f12"/>
<path d="M262.6,170.4 265.3,174.8 267.0,173.6 264.3,169.2z" fill="#091f92"/>
<path d="M177.3,106.2 180.4,107.3 182.2,105.8 179.1,104.7z" fill="#995613"/>
<path d="M135.6,113.3 138.8,113.1 140.5,111.5 137.4,111.8z" fill="#000000"/>
<path d="M184.1,106.8 187.2,108.2 189.0,106.7 185.9,105.3z" fill="#9b5913"/>
<path d="M114.4,123.0 117.6,121.9 119.3,120.5 116.1,121.5z" fill="#000000"/>
<path d="M131.4,115.0 134.6,114.6 136.3,113.1 133.1,113.5z" fill="#000000"/>
<path d="M118.7,120.8 121.9,119.9 123.5,118.4 120.3,119.3z" fill="#000000"/>
<path d="M155.2,107.9 158.3,108.4 160.1,106.8 157.0,106.4z" fill="#3b2707"/>
<path d="M127.1,116.8 130.3,116.3 132.0,114.7 128.8,115.3z" fill="#000000"/>
<path d="M122.9,118.7 126.1,118.0 127.8,116.5 124.6,117.2z" fill="#000000"/>
<path d="M221.1,120.8 224.0,123.4 225.8,121.9 222.9,119.4z" fill="#7f9c0f"/>
<path d="M91.7,136.9 94.8,135.0 96.5,133.7 93.3,135.6z" fill="#000000"/>
<path d="M209.4,114.3 212.4,116.5 214.2,115.0 211.2,112.9z" fill="#9b8b0e"/>
<path d="M200.2,110.7 203.2,112.5 205.0,111.1 202.0,109.2z" fill="#9b7110"/>
<path d="M166.3,106.6 169.4,107.4 171.2,105.8 168.1,105.0z" fill="#76440e"/>
<path d="M260.3,166.7 263.0,171.0 264.7,169.7 262.0,165.4z" fill="#0b3592"/>
<path d="M77.4,146.9 80.5,144.6 82.2,143.5 79.2,145.8z" fill="#000000"/>
<path d="M223.6,123.0 226.5,125.6 228.3,124.2 225.4,121.5z" fill="#719c10"/>
<path d="M151.0,109.0 154.1,109.3 155.9,107.8 152.8,107.5z" fill="#271b04"/>
<path d="M257.9,163.1 260.6,167.2 262.3,165.9 259.6,161.8z" fill="#0d4c93"/>
<path d="M193.4,109.1 196.5,110.7 198.3,109.3 195.3,107.6z" fill="#9b6512"/>
<path d="M95.9,134.1 99.0,132.4 100.7,131.1 97.5,132.8z" fill="#000000"/>
<path d="M173.1,106.6 176.2,107.6 178.0,106.1 174.9,105.1z" fill="#915212"/>
<path d="M211.9,116.1 214.9,118.4 216.7,116.9 213.8,114.6z" fill="#9b960d"/>
<path d="M226.1,125.2 229.0,128.0 230.8,126.5 227.9,123.8z" fill="#619c12"/>
<path d="M186.7,107.8 189.7,109.3 191.6,107.8 188.5,106.4z" fill="#9b5c12"/>
<path d="M179.9,107.0 183.0,108.3 184.8,106.8 181.7,105.5z" fill="#9b5813"/>
<path d="M162.0,107.3 165.1,108.0 167.0,106.5 163.9,105.8z" fill="#633c0c"/>
<path d="M202.7,112.2 205.7,114.2 207.6,112.7 204.6,110.7z" fill="#9b7a10"/>
<path d="M255.5,159.5 258.3,163.6 260.0,162.3 257.2,158.2z" fill="#0f6394"/>
<path d="M146.7,110.2 149.8,110.4 151.6,108.8 148.5,108.7z" fill="#151002"/>
<path d="M81.6,143.9 84.7,141.7 86.4,140.5 83.3,142.7z" fill="#000000"/>
<path d="M100.1,131.5 103.3,129.9 104.9,128.6 101.7,130.1z" fill="#000000"/>
<path d="M228.6,127.5 231.5,130.4 233.3,129.0 230.4,126.1z" fill="#4f9d14"/>
<path d="M253.1,156.1 255.9,160.1 257.6,158.7 254.9,154.8z" fill="#117a94"/>
<path d="M214.5,118.0 217.4,120.3 219.3,118.9 216.3,116.5z" fill="#959b0d"/>
<path d="M142.5,111.5 145.6,111.5 147.4,110.0 144.2,110.0z" fill="#080701"/>
<path d="M231.1,130.0 234.0,132.9 235.8,131.5 232.9,128.5z" fill="#3c9d15"/>
<path d="M104.3,128.9 107.5,127.5 109.1,126.1 105.9,127.5z" fill="#000000"/>
<path d="M250.7,152.8 253.5,156.7 255.2,155.3 252.5,151.5z" fill="#129095"/>
<path d="M196.0,110.4 199.0,112.2 200.9,110.7 197.8,108.9z" fill="#9b6c11"/>
<path d="M168.9,107.1 171.9,108.0 173.8,106.5 170.7,105.6z" fill="#854c10"/>
<path d="M157.8,108.1 160.9,108.7 162.7,107.2 159.6,106.6z" fill="#4f3209"/>
<path d="M233.6,132.5 236.5,135.6 238.2,134.1 235.4,131.1z" fill="#299e17"/>
<path d="M205.3,113.8 208.3,115.9 210.1,114.4 207.1,112.3z" fill="#9b830f"/>
<path d="M248.3,149.6 251.1,153.3 252.8,152.0 250.0,148.3z" fill="#149481"/>
<path d="M85.8,140.9 88.9,138.9 90.6,137.7 87.5,139.7z" fill="#000000"/>
<path d="M138.2,112.9 141.4,112.8 143.1,111.3 140.0,111.4z" fill="#010100"/>
<path d="M108.5,126.5 111.7,125.3 113.4,123.9 110.2,125.1z" fill="#000000"/>
<path d="M236.1,135.1 238.9,138.3 240.7,136.9 237.8,133.7z" fill="#199e1d"/>
<path d="M245.9,146.5 248.7,150.1 250.4,148.7 247.6,145.1z" fill="#15966c"/>
<path d="M217.0,119.9 220.0,122.4 221.8,121.0 218.8,118.5z" fill="#899b0e"/>
<path d="M238.5,137.8 241.4,141.1 243.1,139.7 240.3,136.4z" fill="#189c30"/>
<path d="M189.2,109.0 192.3,110.6 194.1,109.1 191.1,107.5z" fill="#9b6112"/>
<path d="M243.4,143.5 246.3,147.0 248.0,145.6 245.2,142.1z" fill="#169857"/>
<path d="M175.7,107.3 178.7,108.5 180.6,107.0 177.5,105.8z" fill="#995713"/>
<path d="M241.0,140.6 243.8,144.0 245.6,142.6 242.7,139.2z" fill="#179a43"/>
<path d="M134.0,114.5 137.1,114.2 138.9,112.7 135.7,113.0z" fill="#000000"/>
<path d="M112.7,124.2 116.0,123.1 117.6,121.7 114.4,122.7z" fill="#000000"/>
<path d="M182.5,108.0 185.5,109.3 187.4,107.8 184.3,106.5z" fill="#9b5b13"/>
<path d="M261.2,171.6 263.9,175.9 265.6,174.7 262.9,170.3z" fill="#091f92"/>
<path d="M129.7,116.2 132.9,115.8 134.6,114.3 131.4,114.7z" fill="#000000"/>
<path d="M117.0,122.0 120.2,121.1 121.9,119.6 118.7,120.5z" fill="#000000"/>
<path d="M153.5,109.1 156.7,109.5 158.5,108.0 155.3,107.6z" fill="#3a2706"/>
<path d="M125.5,118.0 128.7,117.4 130.4,115.9 127.2,116.5z" fill="#000000"/>
<path d="M121.2,119.9 124.4,119.2 126.1,117.7 122.9,118.4z" fill="#000000"/>
<path d="M90.0,138.1 93.1,136.2 94.8,134.9 91.7,136.8z" fill="#000000"/>
<path d="M219.5,122.0 222.5,124.6 224.3,123.1 221.3,120.6z" fill="#7d9c0f"/>
<path d="M207.8,115.5 210.8,117.7 212.6,116.2 209.6,114.0z" fill="#9b8d0e"/>
<path d="M164.6,107.7 167.7,108.5 169.5,107.0 166.4,106.2z" fill="#75450e"/>
<path d="M198.6,111.8 201.6,113.7 203.4,112.2 200.4,110.4z" fill="#9b7310"/>
<path d="M258.8,167.8 261.5,172.1 263.2,170.8 260.5,166.5z" fill="#0b3492"/>
<path d="M75.7,148.1 78.8,145.8 80.5,144.7 77.5,147.0z" fill="#000000"/>
<path d="M222.0,124.2 225.0,126.8 226.8,125.4 223.8,122.7z" fill="#6f9c11"/>
<path d="M149.3,110.2 152.4,110.5 154.2,108.9 151.1,108.6z" fill="#261b04"/>
<path d="M94.2,135.3 97.3,133.6 99.0,132.3 95.8,134.0z" fill="#000000"/>
<path d="M191.8,110.2 194.9,111.9 196.7,110.4 193.7,108.8z" fill="#9b6711"/>
<path d="M171.4,107.7 174.5,108.8 176.4,107.3 173.3,106.2z" fill="#915312"/>
<path d="M256.4,164.2 259.2,168.4 260.9,167.1 258.1,162.9z" fill="#0d4c93"/>
<path d="M210.3,117.3 213.3,119.5 215.2,118.1 212.2,115.8z" fill="#9b980d"/>
<path d="M185.0,109.0 188.1,110.5 189.9,109.0 186.9,107.5z" fill="#9b5f12"/>
<path d="M178.2,108.2 181.3,109.4 183.2,107.9 180.1,106.7z" fill="#9b5a13"/>
<path d="M224.5,126.4 227.5,129.2 229.3,127.7 226.4,125.0z" fill="#5f9c12"/>
<path d="M160.4,108.5 163.5,109.1 165.3,107.6 162.2,106.9z" fill="#623d0b"/>
<path d="M201.1,113.3 204.1,115.3 206.0,113.9 202.9,111.9z" fill="#9b7c0f"/>
<path d="M145.0,111.4 148.2,111.5 150.0,110.0 146.8,109.8z" fill="#141002"/>
<path d="M79.9,145.1 83.0,142.9 84.7,141.7 81.6,143.9z" fill="#000000"/>
<path d="M98.4,132.7 101.6,131.1 103.2,129.8 100.0,131.3z" fill="#000000"/>
<path d="M254.0,160.7 256.8,164.8 258.5,163.4 255.8,159.4z" fill="#0f6394"/>
<path d="M227.0,128.7 230.0,131.6 231.8,130.2 228.9,127.3z" fill="#4d9d14"/>
<path d="M212.9,119.1 215.9,121.5 217.7,120.1 214.7,117.7z" fill="#939b0d"/>
<path d="M251.6,157.3 254.4,161.2 256.1,159.9 253.4,156.0z" fill="#117994"/>
<path d="M140.8,112.7 143.9,112.7 145.7,111.2 142.6,111.1z" fill="#070601"/>
<path d="M102.6,130.1 105.8,128.7 107.4,127.3 104.3,128.8z" fill="#000000"/>
<path d="M229.5,131.2 232.4,134.1 234.2,132.7 231.3,129.7z" fill="#3a9d16"/>
<path d="M167.2,108.2 170.3,109.2 172.1,107.7 169.0,106.7z" fill="#854e10"/>
<path d="M194.4,111.5 197.4,113.3 199.2,111.9 196.2,110.1z" fill="#9b6e11"/>
<path d="M156.1,109.3 159.3,109.8 161.1,108.3 157.9,107.8z" fill="#4e3209"/>
<path d="M249.2,154.0 252.0,157.8 253.7,156.5 251.0,152.7z" fill="#128f95"/>
<path d="M84.1,142.1 87.2,140.1 88.9,138.9 85.8,140.9z" fill="#000000"/>
<path d="M232.0,133.7 234.9,136.8 236.7,135.3 233.8,132.3z" fill="#279e17"/>
<path d="M203.7,114.9 206.7,117.0 208.5,115.6 205.5,113.5z" fill="#9b850e"/>
<path d="M136.5,114.1 139.7,114.0 141.5,112.5 138.3,112.6z" fill="#010000"/>
<path d="M106.8,127.7 110.0,126.4 111.7,125.0 108.5,126.3z" fill="#000000"/>
<path d="M246.8,150.8 249.6,154.5 251.3,153.2 248.5,149.4z" fill="#149482"/>
<path d="M234.5,136.3 237.4,139.5 239.2,138.1 236.3,134.9z" fill="#199e1e"/>
<path d="M215.4,121.1 218.4,123.6 220.2,122.2 217.2,119.7z" fill="#879b0e"/>
<path d="M244.4,147.7 247.2,151.3 248.9,149.9 246.1,146.3z" fill="#15966d"/>
<path d="M187.6,110.1 190.7,111.7 192.5,110.2 189.5,108.7z" fill="#9b6412"/>
<path d="M174.0,108.5 177.1,109.6 178.9,108.1 175.9,107.0z" fill="#995912"/>
<path d="M237.0,139.0 239.9,142.3 241.6,140.9 238.8,137.6z" fill="#189c31"/>
<path d="M132.3,115.7 135.5,115.4 137.2,113.9 134.0,114.2z" fill="#000000"/>
<path d="M111.1,125.4 114.3,124.3 115.9,122.9 112.7,123.9z" fill="#000000"/>
<path d="M241.9,144.7 244.7,148.2 246.5,146.8 243.7,143.3z" fill="#169858"/>
<path d="M239.4,141.8 242.3,145.2 244.1,143.8 241.2,140.4z" fill="#179a44"/>
<path d="M180.8,109.1 183.9,110.5 185.7,109.0 182.7,107.6z" fill="#9b5d12"/>
<path d="M128.0,117.4 131.2,117.0 132.9,115.4 129.8,115.9z" fill="#000000"/>
<path d="M115.3,123.2 118.5,122.3 120.2,120.8 117.0,121.7z" fill="#000000"/>
<path d="M123.8,119.2 127.0,118.6 128.7,117.1 125.5,117.7z" fill="#000000"/>
<path d="M119.5,121.1 122.7,120.4 124.4,118.9 121.2,119.6z" fill="#000000"/>
<path d="M151.9,110.3 155.0,110.7 156.8,109.2 153.7,108.7z" fill="#382706"/>
<path d="M259.7,172.7 262.4,177.0 264.1,175.8 261.4,171.4z" fill="#091f92"/>
<path d="M88.3,139.3 91.4,137.3 93.1,136.1 90.0,138.0z" fill="#000000"/>
<path d="M163.0,108.9 166.1,109.7 167.9,108.2 164.8,107.4z" fill="#75460e"/>
<path d="M217.9,123.2 220.9,125.8 222.7,124.3 219.8,121.7z" fill="#7a9c10"/>
<path d="M206.2,116.6 209.2,118.8 211.0,117.4 208.0,115.2z" fill="#9b8f0e"/>
<path d="M196.9,113.0 200.0,114.9 201.8,113.4 198.8,111.5z" fill="#9b7610"/>
<path d="M74.1,149.3 77.1,147.0 78.8,145.8 75.8,148.1z" fill="#000000"/>
<path d="M257.3,169.0 260.1,173.2 261.8,172.0 259.0,167.7z" fill="#0b3492"/>
<path d="M147.6,111.3 150.8,111.6 152.6,110.1 149.4,109.8z" fill="#241b04"/>
<path d="M92.5,136.5 95.7,134.7 97.3,133.5 94.2,135.2z" fill="#000000"/>
<path d="M220.5,125.3 223.4,128.0 225.2,126.6 222.3,123.9z" fill="#6d9c11"/>
<path d="M169.8,108.9 172.9,109.9 174.7,108.4 171.6,107.4z" fill="#915511"/>
<path d="M190.2,111.4 193.2,113.0 195.1,111.6 192.0,109.9z" fill="#9b6a11"/>
<path d="M208.8,118.4 211.8,120.7 213.6,119.3 210.6,117.0z" fill="#9b9a0c"/>
<path d="M255.0,165.4 257.7,169.5 259.4,168.2 256.7,164.1z" fill="#0d4b93"/>
<path d="M158.7,109.6 161.8,110.3 163.7,108.8 160.5,108.1z" fill="#613d0b"/>
<path d="M183.4,110.1 186.5,111.6 188.3,110.1 185.3,108.7z" fill="#9b6112"/>
<path d="M176.6,109.3 179.7,110.6 181.5,109.1 178.5,107.8z" fill="#9b5c12"/>
<path d="M223.0,127.6 225.9,130.4 227.7,128.9 224.8,126.2z" fill="#5d9c12"/>
<path d="M143.4,112.5 146.5,112.7 148.3,111.2 145.2,111.0z" fill="#130f02"/>
<path d="M199.5,114.5 202.5,116.5 204.4,115.0 201.3,113.0z" fill="#9b7e0f"/>
<path d="M96.7,133.8 99.9,132.2 101.5,130.9 98.4,132.5z" fill="#000000"/>
<path d="M78.2,146.2 81.3,144.1 83.0,142.9 79.9,145.1z" fill="#000000"/>
<path d="M252.6,161.9 255.3,165.9 257.0,164.6 254.3,160.6z" fill="#0f6294"/>
<path d="M225.5,129.9 228.4,132.8 230.2,131.4 227.3,128.5z" fill="#4b9d14"/>
<path d="M139.1,113.9 142.3,113.9 144.0,112.3 140.9,112.3z" fill="#060501"/>
<path d="M100.9,131.3 104.1,129.9 105.8,128.5 102.6,130.0z" fill="#000000"/>
<path d="M211.3,120.3 214.3,122.7 216.1,121.3 213.1,118.9z" fill="#919b0d"/>
<path d="M250.1,158.5 252.9,162.4 254.6,161.1 251.9,157.2z" fill="#117894"/>
<path d="M228.0,132.4 230.9,135.3 232.7,133.9 229.8,130.9z" fill="#389d16"/>
<path d="M165.6,109.4 168.7,110.3 170.5,108.8 167.4,107.9z" fill="#854f10"/>
<path d="M192.8,112.7 195.8,114.5 197.6,113.0 194.6,111.2z" fill="#9b7010"/>
<path d="M154.5,110.5 157.6,111.0 159.4,109.5 156.3,108.9z" fill="#4d3309"/>
<path d="M82.4,143.3 85.5,141.2 87.2,140.0 84.1,142.1z" fill="#000000"/>
<path d="M105.2,128.9 108.4,127.6 110.0,126.2 106.8,127.5z" fill="#000000"/>
<path d="M134.9,115.3 138.0,115.2 139.8,113.6 136.6,113.8z" fill="#000000"/>
<path d="M247.7,155.2 250.5,159.0 252.2,157.7 249.5,153.8z" fill="#128e95"/>
<path d="M230.5,134.9 233.4,138.0 235.2,136.5 232.3,133.5z" fill="#259e18"/>
<path d="M202.1,116.1 205.1,118.2 206.9,116.7 203.9,114.7z" fill="#9b870e"/>
<path d="M245.3,152.0 248.1,155.7 249.8,154.3 247.0,150.6z" fill="#139383"/>
<path d="M233.0,137.5 235.9,140.7 237.6,139.3 234.8,136.1z" fill="#189d1f"/>
<path d="M109.4,126.6 112.6,125.5 114.2,124.1 111.0,125.1z" fill="#000000"/>
<path d="M130.6,116.9 133.8,116.6 135.5,115.1 132.3,115.3z" fill="#000000"/>
<path d="M172.4,109.6 175.5,110.8 177.3,109.3 174.2,108.1z" fill="#995b12"/>
<path d="M213.8,122.3 216.8,124.8 218.6,123.3 215.7,120.9z" fill="#859c0f"/>
<path d="M186.0,111.3 189.1,112.9 190.9,111.4 187.8,109.8z" fill="#9b6611"/>
<path d="M242.8,148.9 245.7,152.5 247.4,151.1 244.6,147.5z" fill="#15966e"/>
<path d="M235.5,140.2 238.3,143.5 240.1,142.1 237.2,138.8z" fill="#189c32"/>
<path d="M240.4,145.9 243.2,149.4 245.0,148.0 242.1,144.5z" fill="#16985a"/>
<path d="M237.9,143.0 240.8,146.4 242.5,145.0 239.7,141.6z" fill="#179a46"/>
<path d="M179.2,110.3 182.3,111.6 184.1,110.1 181.0,108.8z" fill="#9b5f12"/>
<path d="M113.6,124.4 116.8,123.5 118.5,122.0 115.3,122.9z" fill="#000000"/>
<path d="M126.4,118.6 129.5,118.1 131.3,116.6 128.1,117.0z" fill="#000000"/>
<path d="M117.9,122.3 121.1,121.6 122.7,120.1 119.5,120.8z" fill="#000000"/>
<path d="M122.1,120.4 125.3,119.8 127.0,118.3 123.8,118.9z" fill="#000000"/>
<path d="M150.2,111.4 153.4,111.8 155.2,110.3 152.0,109.9z" fill="#372706"/>
<path d="M86.6,140.4 89.7,138.5 91.4,137.3 88.3,139.2z" fill="#000000"/>
<path d="M161.3,110.0 164.4,110.8 166.3,109.3 163.1,108.5z" fill="#74480e"/>
<path d="M258.3,173.8 261.0,178.1 262.7,176.9 259.9,172.5z" fill="#091f92"/>
<path d="M216.4,124.4 219.3,126.9 221.1,125.5 218.2,122.9z" fill="#789c10"/>
<path d="M204.6,117.8 207.6,120.0 209.5,118.5 206.5,116.4z" fill="#9b920d"/>
<path d="M195.3,114.1 198.4,116.0 200.2,114.6 197.2,112.7z" fill="#9b7810"/>
<path d="M72.4,150.4 75.4,148.1 77.1,147.0 74.1,149.3z" fill="#000000"/>
<path d="M146.0,112.5 149.1,112.8 150.9,111.3 147.8,111.0z" fill="#231a04"/>
<path d="M90.8,137.7 94.0,135.9 95.6,134.7 92.5,136.4z" fill="#000000"/>
<path d="M255.9,170.1 258.6,174.4 260.3,173.1 257.6,168.8z" fill="#0b3392"/>
<path d="M218.9,126.5 221.8,129.2 223.7,127.8 220.7,125.1z" fill="#6b9c11"/>
<path d="M168.2,110.0 171.3,111.0 173.1,109.6 170.0,108.5z" fill="#915711"/>
<path d="M188.6,112.5 191.6,114.2 193.5,112.7 190.4,111.1z" fill="#9b6c11"/>
<path d="M207.2,119.6 210.2,121.9 212.0,120.4 209.0,118.2z" fill="#9a9b0d"/>
<path d="M157.1,110.8 160.2,111.4 162.0,109.9 158.9,109.2z" fill="#613e0b"/>
<path d="M175.0,110.5 178.1,111.7 179.9,110.2 176.8,109.0z" fill="#9b5e12"/>
<path d="M181.8,111.3 184.9,112.8 186.7,111.3 183.6,109.8z" fill="#9b6312"/>
<path d="M95.0,135.0 98.2,133.4 99.8,132.1 96.7,133.7z" fill="#000000"/>
<path d="M141.7,113.7 144.9,113.8 146.6,112.3 143.5,112.2z" fill="#120f02"/>
<path d="M253.5,166.6 256.2,170.7 257.9,169.4 255.2,165.2z" fill="#0d4b93"/>
<path d="M221.4,128.8 224.4,131.6 226.2,130.1 223.2,127.3z" fill="#5b9d13"/>
<path d="M76.5,147.4 79.6,145.2 81.3,144.1 78.2,146.3z" fill="#000000"/>
<path d="M197.9,115.6 200.9,117.6 202.8,116.2 199.7,114.2z" fill="#9b800f"/>
<path d="M251.1,163.1 253.8,167.1 255.5,165.8 252.8,161.7z" fill="#0f6193"/>
<path d="M223.9,131.1 226.9,134.0 228.7,132.6 225.7,129.7z" fill="#499d14"/>
<path d="M99.2,132.5 102.4,131.1 104.1,129.7 100.9,131.1z" fill="#000000"/>
<path d="M137.5,115.0 140.6,115.0 142.4,113.5 139.2,113.5z" fill="#060501"/>
<path d="M209.7,121.5 212.7,123.9 214.5,122.4 211.5,120.0z" fill="#8f9b0e"/>
<path d="M163.9,110.5 167.0,111.4 168.9,110.0 165.7,109.0z" fill="#84510f"/>
<path d="M226.4,133.6 229.4,136.5 231.1,135.1 228.2,132.1z" fill="#379d16"/>
<path d="M248.6,159.7 251.4,163.6 253.2,162.3 250.4,158.3z" fill="#107794"/>
<path d="M152.8,111.6 156.0,112.1 157.8,110.6 154.6,110.1z" fill="#4c3308"/>
<path d="M191.2,113.8 194.2,115.6 196.0,114.2 193.0,112.4z" fill="#9b7310"/>
<path d="M80.7,144.5 83.8,142.4 85.5,141.2 82.4,143.3z" fill="#000000"/>
<path d="M103.5,130.1 106.7,128.8 108.3,127.4 105.1,128.7z" fill="#000000"/>
<path d="M133.2,116.5 136.4,116.3 138.1,114.8 134.9,114.9z" fill="#000000"/>
<path d="M200.5,117.3 203.5,119.4 205.3,117.9 202.3,115.8z" fill="#9b8a0e"/>
<path d="M228.9,136.1 231.8,139.2 233.6,137.7 230.7,134.7z" fill="#249e18"/>
<path d="M246.2,156.4 249.0,160.2 250.8,158.8 248.0,155.0z" fill="#128d95"/>
<path d="M107.7,127.8 110.9,126.7 112.6,125.3 109.4,126.3z" fill="#000000"/>
<path d="M128.9,118.0 132.1,117.8 133.9,116.2 130.7,116.5z" fill="#000000"/>
<path d="M170.7,110.8 173.8,111.9 175.7,110.4 172.6,109.3z" fill="#995d12"/>
<path d="M231.4,138.7 234.3,141.9 236.1,140.5 233.2,137.3z" fill="#189d21"/>
<path d="M243.8,153.2 246.6,156.9 248.3,155.5 245.5,151.8z" fill="#139384"/>
<path d="M184.4,112.4 187.4,114.0 189.3,112.5 186.2,111.0z" fill="#9b6811"/>
<path d="M212.3,123.5 215.2,126.0 217.1,124.5 214.1,122.0z" fill="#839c0f"/>
<path d="M111.9,125.6 115.2,124.6 116.8,123.2 113.6,124.1z" fill="#000000"/>
<path d="M124.7,119.7 127.9,119.3 129.6,117.8 126.4,118.2z" fill="#000000"/>
<path d="M233.9,141.4 236.8,144.7 238.6,143.3 235.7,140.0z" fill="#179b34"/>
<path d="M241.3,150.1 244.2,153.7 245.9,152.3 243.1,148.7z" fill="#14956f"/>
<path d="M177.6,111.4 180.7,112.8 182.5,111.3 179.4,109.9z" fill="#9b6112"/>
<path d="M236.4,144.2 239.3,147.6 241.0,146.2 238.2,142.8z" fill="#169947"/>
<path d="M238.9,147.1 241.7,150.6 243.5,149.2 240.6,145.7z" fill="#16985b"/>
<path d="M116.2,123.5 119.4,122.7 121.1,121.3 117.9,122.0z" fill="#000000"/>
<path d="M120.4,121.6 123.6,121.0 125.3,119.5 122.1,120.1z" fill="#000000"/>
<path d="M148.6,112.6 151.7,113.0 153.5,111.5 150.4,111.1z" fill="#362706"/>
<path d="M84.9,141.6 88.0,139.7 89.7,138.5 86.6,140.4z" fill="#000000"/>
<path d="M159.7,111.2 162.8,112.0 164.6,110.5 161.5,109.7z" fill="#73490d"/>
<path d="M214.8,125.5 217.8,128.1 219.6,126.7 216.6,124.1z" fill="#769c10"/>
<path d="M203.0,119.0 206.0,121.2 207.9,119.7 204.9,117.5z" fill="#9b940d"/>
<path d="M193.7,115.3 196.8,117.2 198.6,115.7 195.6,113.8z" fill="#9b7a10"/>
<path d="M70.7,151.6 73.7,149.3 75.4,148.2 72.4,150.5z" fill="#000000"/>
<path d="M256.8,174.9 259.5,179.3 261.2,178.0 258.5,173.7z" fill="#091f92"/>
<path d="M89.1,138.9 92.3,137.1 93.9,135.8 90.8,137.6z" fill="#000000"/>
<path d="M144.3,113.7 147.5,113.9 149.2,112.4 146.1,112.1z" fill="#221a04"/>
<path d="M217.3,127.7 220.3,130.4 222.1,129.0 219.1,126.3z" fill="#699c11"/>
<path d="M166.5,111.2 169.6,112.2 171.4,110.7 168.3,109.7z" fill="#915911"/>
<path d="M187.0,113.7 190.0,115.3 191.9,113.9 188.8,112.2z" fill="#9b6e11"/>
<path d="M254.4,171.3 257.1,175.5 258.8,174.2 256.1,170.0z" fill="#0b3392"/>
<path d="M205.6,120.8 208.6,123.1 210.4,121.6 207.4,119.3z" fill="#989b0d"/>
<path d="M155.4,111.9 158.5,112.6 160.4,111.1 157.2,110.4z" fill="#603f0b"/>
<path d="M93.3,136.2 96.5,134.6 98.2,133.3 95.0,134.9z" fill="#000000"/>
<path d="M173.3,111.6 176.4,112.8 178.3,111.4 175.2,110.1z" fill="#9b6112"/>
<path d="M180.2,112.4 183.2,113.9 185.1,112.4 182.0,111.0z" fill="#9b6512"/>
<path d="M140.0,114.9 143.2,115.0 145.0,113.5 141.8,113.3z" fill="#110e02"/>
<path d="M74.8,148.6 77.9,146.4 79.6,145.2 76.5,147.4z" fill="#000000"/>
<path d="M219.9,130.0 222.8,132.8 224.6,131.3 221.7,128.5z" fill="#599d13"/>
<path d="M196.3,116.8 199.3,118.8 201.2,117.3 198.1,115.4z" fill="#9b830f"/>
<path d="M252.0,167.7 254.8,171.8 256.5,170.5 253.7,166.4z" fill="#0d4a93"/>
<path d="M97.6,133.7 100.8,132.2 102.4,130.9 99.2,132.3z" fill="#000000"/>
<path d="M135.8,116.2 139.0,116.2 140.7,114.7 137.5,114.7z" fill="#050400"/>
<path d="M222.4,132.3 225.3,135.2 227.1,133.8 224.2,130.9z" fill="#479d14"/>
<path d="M249.6,164.3 252.4,168.2 254.1,166.9 251.3,162.9z" fill="#0f6193"/>
<path d="M208.1,122.7 211.1,125.1 212.9,123.6 210.0,121.2z" fill="#8d9b0e"/>
<path d="M162.3,111.7 165.4,112.6 167.2,111.1 164.1,110.2z" fill="#84530f"/>
<path d="M151.2,112.8 154.3,113.3 156.1,111.8 153.0,111.2z" fill="#4a3308"/>
<path d="M79.0,145.6 82.1,143.6 83.8,142.4 80.7,144.5z" fill="#000000"/>
<path d="M224.9,134.8 227.8,137.7 229.6,136.3 226.7,133.3z" fill="#359d16"/>
<path d="M101.8,131.2 105.0,130.0 106.6,128.6 103.4,129.9z" fill="#000000"/>
<path d="M189.5,115.0 192.6,116.8 194.4,115.3 191.4,113.5z" fill="#9b7510"/>
<path d="M131.5,117.6 134.7,117.5 136.5,116.0 133.3,116.1z" fill="#000000"/>
<path d="M247.2,160.9 250.0,164.8 251.7,163.4 248.9,159.5z" fill="#107794"/>
<path d="M198.9,118.4 201.9,120.5 203.7,119.1 200.7,117.0z" fill="#9b8c0e"/>
<path d="M227.4,137.3 230.3,140.4 232.1,138.9 229.2,135.9z" fill="#229e18"/>
<path d="M106.0,128.9 109.2,127.8 110.9,126.4 107.7,127.5z" fill="#000000"/>
<path d="M127.3,119.2 130.5,118.9 132.2,117.4 129.0,117.7z" fill="#000000"/>
<path d="M244.7,157.6 247.5,161.4 249.3,160.0 246.5,156.2z" fill="#128c95"/>
<path d="M169.1,111.9 172.2,113.0 174.0,111.6 170.9,110.4z" fill="#995f12"/>
<path d="M182.8,113.6 185.8,115.2 187.7,113.7 184.6,112.1z" fill="#9b6a11"/>
<path d="M229.9,139.9 232.8,143.1 234.6,141.7 231.7,138.5z" fill="#189d22"/>
<path d="M210.7,124.6 213.7,127.1 215.5,125.7 212.5,123.2z" fill="#819c0f"/>
<path d="M110.3,126.7 113.5,125.8 115.1,124.4 111.9,125.3z" fill="#000000"/>
<path d="M123.0,120.9 126.2,120.5 127.9,119.0 124.7,119.4z" fill="#000000"/>
<path d="M242.3,154.4 245.1,158.1 246.8,156.7 244.0,153.0z" fill="#139385"/>
<path d="M114.5,124.7 117.7,123.9 119.4,122.4 116.2,123.2z" fill="#000000"/>
<path d="M175.9,112.5 179.0,113.9 180.9,112.4 177.8,111.1z" fill="#9b6412"/>
<path d="M118.8,122.7 122.0,122.1 123.7,120.6 120.5,121.2z" fill="#000000"/>
<path d="M232.4,142.6 235.3,145.9 237.0,144.5 234.2,141.2z" fill="#179b35"/>
<path d="M239.8,151.3 242.7,154.9 244.4,153.5 241.6,149.9z" fill="#149570"/>
<path d="M234.9,145.4 237.7,148.8 239.5,147.4 236.6,144.0z" fill="#169948"/>
<path d="M83.2,142.8 86.4,140.9 88.0,139.7 84.9,141.6z" fill="#000000"/>
<path d="M237.3,148.3 240.2,151.8 242.0,150.4 239.1,146.9z" fill="#15975c"/>
<path d="M146.9,113.7 150.1,114.1 151.8,112.6 148.7,112.2z" fill="#352706"/>
<path d="M158.0,112.3 161.1,113.1 163.0,111.6 159.8,110.8z" fill="#734a0d"/>
<path d="M213.2,126.7 216.2,129.3 218.0,127.9 215.0,125.3z" fill="#749c10"/>
<path d="M192.1,116.4 195.2,118.3 197.0,116.9 194.0,115.0z" fill="#9b7c0f"/>
<path d="M201.4,120.1 204.4,122.3 206.3,120.9 203.3,118.7z" fill="#9b960d"/>
<path d="M69.0,152.7 72.0,150.4 73.7,149.3 70.7,151.6z" fill="#000000"/>
<path d="M87.4,140.0 90.6,138.3 92.2,137.0 89.1,138.8z" fill="#000000"/>
<path d="M255.3,176.1 258.1,180.4 259.7,179.1 257.0,174.8z" fill="#091f92"/>
<path d="M142.6,114.8 145.8,115.1 147.6,113.6 144.4,113.3z" fill="#211a03"/>
<path d="M215.8,128.9 218.7,131.6 220.5,130.2 217.6,127.5z" fill="#679c11"/>
<path d="M164.9,112.3 168.0,113.3 169.8,111.8 166.7,110.8z" fill="#915b11"/>
<path d="M185.3,114.8 188.4,116.5 190.2,115.0 187.2,113.4z" fill="#9b7010"/>
<path d="M252.9,172.4 255.7,176.6 257.4,175.3 254.6,171.1z" fill="#0b3292"/>
<path d="M91.6,137.4 94.8,135.8 96.5,134.5 93.3,136.1z" fill="#000000"/>
<path d="M153.8,113.1 156.9,113.7 158.7,112.2 155.6,111.6z" fill="#5f400b"/>
<path d="M204.0,121.9 207.0,124.2 208.8,122.8 205.8,120.5z" fill="#969b0d"/>
<path d="M138.4,116.0 141.5,116.1 143.3,114.6 140.2,114.5z" fill="#100d02"/>
<path d="M171.7,112.7 174.8,114.0 176.6,112.5 173.5,111.3z" fill="#9b6312"/>
<path d="M73.1,149.7 76.2,147.5 77.9,146.4 74.8,148.6z" fill="#000000"/>
<path d="M178.5,113.6 181.6,115.0 183.5,113.6 180.4,112.1z" fill="#9b6811"/>
<path d="M218.3,131.2 221.2,134.0 223.0,132.5 220.1,129.7z" fill="#579d13"/>
<path d="M194.7,118.0 197.7,120.0 199.6,118.5 196.5,116.5z" fill="#9b850f"/>
<path d="M250.5,168.9 253.3,173.0 255.0,171.7 252.2,167.6z" fill="#0d4993"/>
<path d="M95.9,134.8 99.1,133.4 100.7,132.1 97.5,133.5z" fill="#000000"/>
<path d="M134.1,117.3 137.3,117.3 139.1,115.8 135.9,115.8z" fill="#050400"/>
<path d="M220.8,133.5 223.8,136.4 225.6,135.0 222.6,132.1z" fill="#459d15"/>
<path d="M206.6,123.8 209.6,126.2 211.4,124.8 208.4,122.4z" fill="#8b9b0e"/>
<path d="M248.1,165.4 250.9,169.4 252.6,168.1 249.8,164.1z" fill="#0f6093"/>
<path d="M160.6,112.8 163.7,113.7 165.6,112.2 162.4,111.3z" fill="#84550f"/>
<path d="M77.3,146.8 80.4,144.7 82.1,143.6 79.0,145.6z" fill="#000000"/>
<path d="M149.5,113.9 152.7,114.4 154.5,112.9 151.3,112.4z" fill="#493408"/>
<path d="M100.1,132.4 103.3,131.1 105.0,129.8 101.7,131.1z" fill="#000000"/>
<path d="M129.9,118.8 133.0,118.6 134.8,117.1 131.6,117.3z" fill="#000000"/>
<path d="M187.9,116.1 191.0,117.9 192.8,116.5 189.8,114.7z" fill="#9b7710"/>
<path d="M223.3,136.0 226.3,138.9 228.1,137.5 225.1,134.5z" fill="#339d16"/>
<path d="M245.7,162.1 248.5,166.0 250.2,164.6 247.4,160.7z" fill="#107694"/>
<path d="M104.3,130.1 107.6,129.0 109.2,127.6 106.0,128.7z" fill="#000000"/>
<path d="M197.3,119.6 200.3,121.7 202.1,120.2 199.1,118.1z" fill="#9b8e0e"/>
<path d="M125.6,120.4 128.8,120.1 130.5,118.6 127.3,118.9z" fill="#000000"/>
<path d="M225.9,138.5 228.8,141.6 230.6,140.2 227.6,137.1z" fill="#209e18"/>
<path d="M243.2,158.8 246.0,162.6 247.8,161.2 245.0,157.4z" fill="#128c95"/>
<path d="M167.5,113.0 170.6,114.2 172.4,112.7 169.3,111.6z" fill="#996111"/>
<path d="M108.6,127.9 111.8,127.0 113.5,125.5 110.2,126.5z" fill="#000000"/>
<path d="M121.3,122.1 124.5,121.6 126.2,120.1 123.0,120.6z" fill="#000000"/>
<path d="M181.1,114.7 184.2,116.3 186.0,114.8 183.0,113.3z" fill="#9b6d11"/>
<path d="M209.1,125.8 212.1,128.3 213.9,126.9 210.9,124.4z" fill="#7f9c0f"/>
<path d="M228.4,141.1 231.3,144.3 233.0,142.9 230.1,139.7z" fill="#189d24"/>
<path d="M112.8,125.8 116.0,125.1 117.7,123.6 114.5,124.4z" fill="#000000"/>
<path d="M117.1,123.9 120.3,123.3 122.0,121.8 118.8,122.4z" fill="#000000"/>
<path d="M240.8,155.6 243.6,159.3 245.3,157.9 242.5,154.2z" fill="#139386"/>
<path d="M174.3,113.7 177.4,115.0 179.2,113.6 176.1,112.2z" fill="#9b6611"/>
<path d="M81.5,143.9 84.7,142.0 86.3,140.8 83.2,142.7z" fill="#000000"/>
<path d="M230.9,143.8 233.7,147.1 235.5,145.7 232.6,142.4z" fill="#179b36"/>
<path d="M145.2,114.9 148.4,115.3 150.2,113.8 147.0,113.4z" fill="#342705"/>
<path d="M238.3,152.5 241.1,156.1 242.9,154.7 240.1,151.1z" fill="#149571"/>
<path d="M233.3,146.6 236.2,150.0 238.0,148.6 235.1,145.2z" fill="#169949"/>
<path d="M235.8,149.5 238.7,153.0 240.4,151.6 237.6,148.1z" fill="#15975d"/>
<path d="M156.4,113.5 159.5,114.2 161.3,112.7 158.2,112.0z" fill="#724c0d"/>
<path d="M67.3,153.8 70.3,151.5 72.0,150.4 69.0,152.7z" fill="#000000"/>
<path d="M211.7,127.9 214.6,130.5 216.4,129.1 213.5,126.5z" fill="#729c10"/>
<path d="M190.5,117.6 193.6,119.5 195.4,118.0 192.3,116.1z" fill="#9b7e0f"/>
<path d="M199.8,121.3 202.9,123.5 204.7,122.0 201.7,119.8z" fill="#9b980d"/>
<path d="M85.7,141.2 88.9,139.4 90.6,138.2 87.4,140.0z" fill="#000000"/>
<path d="M141.0,116.0 144.1,116.2 145.9,114.7 142.8,114.5z" fill="#201903"/>
<path d="M253.9,177.2 256.6,181.5 258.3,180.2 255.6,175.9z" fill="#091f92"/>
<path d="M163.2,113.5 166.3,114.5 168.2,113.0 165.1,112.0z" fill="#915d10"/>
<path d="M214.2,130.1 217.2,132.8 219.0,131.3 216.0,128.6z" fill="#659c12"/>
<path d="M183.7,116.0 186.8,117.6 188.6,116.2 185.6,114.5z" fill="#9b7210"/>
<path d="M90.0,138.6 93.1,136.9 94.8,135.7 91.6,137.3z" fill="#000000"/>
<path d="M152.1,114.2 155.3,114.8 157.1,113.3 153.9,112.7z" fill="#5e410a"/>
<path d="M136.7,117.2 139.9,117.3 141.7,115.8 138.5,115.7z" fill="#0f0d01"/>
<path d="M202.4,123.1 205.4,125.4 207.2,124.0 204.2,121.7z" fill="#949b0d"/>
<path d="M71.4,150.8 74.5,148.7 76.2,147.5 73.2,149.7z" fill="#000000"/>
<path d="M170.1,113.9 173.2,115.1 175.0,113.7 171.9,112.4z" fill="#9b6512"/>
<path d="M176.9,114.7 180.0,116.2 181.8,114.7 178.7,113.3z" fill="#9b6a11"/>
<path d="M251.5,173.6 254.2,177.8 255.9,176.5 253.2,172.3z" fill="#0b3292"/>
<path d="M216.7,132.3 219.7,135.1 221.5,133.7 218.5,130.9z" fill="#559d13"/>
<path d="M193.1,119.1 196.1,121.1 198.0,119.7 194.9,117.7z" fill="#9b870e"/>
<path d="M94.2,136.0 97.4,134.6 99.0,133.2 95.8,134.7z" fill="#000000"/>
<path d="M132.5,118.5 135.6,118.5 137.4,117.0 134.2,117.0z" fill="#040400"/>
<path d="M249.0,170.1 251.8,174.1 253.5,172.8 250.7,168.7z" fill="#0d4993"/>
<path d="M219.3,134.7 222.2,137.6 224.0,136.2 221.1,133.3z" fill="#449d15"/>
<path d="M205.0,125.0 208.0,127.4 209.8,126.0 206.8,123.6z" fill="#899b0e"/>
<path d="M98.4,133.6 101.6,132.3 103.3,131.0 100.1,132.2z" fill="#000000"/>
<path d="M75.6,147.9 78.7,145.9 80.4,144.7 77.3,146.8z" fill="#000000"/>
<path d="M159.0,114.0 162.1,114.9 163.9,113.4 160.8,112.5z" fill="#83560f"/>
<path d="M147.9,115.1 151.0,115.6 152.8,114.1 149.7,113.5z" fill="#483408"/>
<path d="M128.2,120.0 131.4,119.8 133.1,118.3 129.9,118.4z" fill="#000000"/>
<path d="M246.6,166.6 249.4,170.6 251.1,169.2 248.3,165.3z" fill="#0f5f93"/>
<path d="M186.3,117.3 189.4,119.1 191.2,117.6 188.2,115.8z" fill="#9b7910"/>
<path d="M221.8,137.2 224.7,140.1 226.5,138.7 223.6,135.7z" fill="#329e16"/>
<path d="M102.7,131.3 105.9,130.2 107.5,128.8 104.3,129.9z" fill="#000000"/>
<path d="M123.9,121.5 127.1,121.2 128.8,119.7 125.7,120.0z" fill="#000000"/>
<path d="M195.7,120.7 198.7,122.8 200.5,121.4 197.5,119.3z" fill="#9b900d"/>
<path d="M244.2,163.3 247.0,167.1 248.7,165.8 245.9,161.9z" fill="#107594"/>
<path d="M224.3,139.7 227.2,142.8 229.0,141.4 226.1,138.3z" fill="#1f9e18"/>
<path d="M106.9,129.1 110.1,128.1 111.8,126.7 108.6,127.7z" fill="#000000"/>
<path d="M119.7,123.2 122.9,122.8 124.6,121.3 121.4,121.7z" fill="#000000"/>
<path d="M165.8,114.2 168.9,115.3 170.8,113.8 167.7,112.7z" fill="#996311"/>
<path d="M179.5,115.9 182.6,117.4 184.4,116.0 181.3,114.4z" fill="#9b6f11"/>
<path d="M111.1,127.0 114.4,126.2 116.0,124.8 112.8,125.6z" fill="#000000"/>
<path d="M241.7,160.0 244.5,163.8 246.3,162.4 243.5,158.6z" fill="#128b95"/>
<path d="M115.4,125.1 118.6,124.4 120.3,123.0 117.1,123.6z" fill="#000000"/>
<path d="M207.5,127.0 210.5,129.5 212.3,128.1 209.3,125.6z" fill="#7d9c0f"/>
<path d="M226.8,142.3 229.7,145.5 231.5,144.1 228.6,140.9z" fill="#189d25"/>
<path d="M79.8,145.1 83.0,143.2 84.6,142.0 81.5,143.9z" fill="#000000"/>
<path d="M172.7,114.8 175.8,116.2 177.6,114.7 174.5,113.3z" fill="#9b6811"/>
<path d="M239.3,156.8 242.1,160.5 243.8,159.1 241.0,155.4z" fill="#139387"/>
<path d="M143.6,116.0 146.7,116.4 148.5,114.9 145.4,114.5z" fill="#332605"/>
<path d="M229.3,145.0 232.2,148.3 234.0,146.9 231.1,143.6z" fill="#179b38"/>
<path d="M236.8,153.7 239.6,157.3 241.4,155.9 238.5,152.3z" fill="#149572"/>
<path d="M231.8,147.9 234.7,151.2 236.5,149.8 233.6,146.4z" fill="#16994b"/>
<path d="M234.3,150.8 237.2,154.2 238.9,152.8 236.1,149.3z" fill="#15975e"/>
<path d="M154.7,114.6 157.9,115.4 159.7,113.9 156.5,113.1z" fill="#724d0d"/>
<path d="M65.6,155.0 68.6,152.7 70.3,151.6 67.3,153.9z" fill="#000000"/>
<path d="M188.9,118.7 192.0,120.6 193.8,119.2 190.7,117.3z" fill="#9b810f"/>
<path d="M210.1,129.1 213.1,131.7 214.9,130.3 211.9,127.7z" fill="#709c10"/>
<path d="M198.2,122.5 201.3,124.7 203.1,123.2 200.1,121.0z" fill="#9b9a0c"/>
<path d="M84.1,142.4 87.2,140.6 88.9,139.3 85.7,141.1z" fill="#000000"/>
<path d="M139.3,117.1 142.5,117.4 144.3,115.9 141.1,115.6z" fill="#1f1903"/>
<path d="M161.6,114.6 164.7,115.6 166.5,114.1 163.4,113.1z" fill="#905f10"/>
<path d="M212.6,131.3 215.6,134.0 217.4,132.5 214.4,129.8z" fill="#639c12"/>
<path d="M252.4,178.4 255.2,182.6 256.8,181.3 254.1,177.1z" fill="#091f92"/>
<path d="M182.1,117.1 185.2,118.8 187.0,117.3 183.9,115.6z" fill="#9b7510"/>
<path d="M88.3,139.7 91.5,138.1 93.1,136.8 89.9,138.5z" fill="#000000"/>
<path d="M150.5,115.3 153.6,116.0 155.4,114.5 152.3,113.8z" fill="#5d410a"/>
<path d="M135.1,118.3 138.2,118.4 140.0,116.9 136.8,116.8z" fill="#0e0c01"/>
<path d="M69.8,152.0 72.8,149.8 74.5,148.7 71.5,150.9z" fill="#000000"/>
<path d="M200.8,124.3 203.8,126.6 205.7,125.1 202.6,122.8z" fill="#929b0d"/>
<path d="M168.4,115.0 171.6,116.3 173.4,114.8 170.3,113.5z" fill="#9b6711"/>
<path d="M175.3,115.9 178.4,117.3 180.2,115.9 177.1,114.4z" fill="#9b6c11"/>
<path d="M191.5,120.3 194.5,122.3 196.4,120.8 193.3,118.8z" fill="#9b890e"/>
<path d="M250.0,174.8 252.8,178.9 254.5,177.6 251.7,173.4z" fill="#0b3292"/>
<path d="M215.2,133.5 218.1,136.3 219.9,134.9 217.0,132.1z" fill="#539d13"/>
<path d="M92.5,137.2 95.7,135.7 97.3,134.4 94.1,135.9z" fill="#000000"/>
<path d="M130.8,119.7 134.0,119.6 135.7,118.1 132.5,118.1z" fill="#030300"/>
<path d="M247.6,171.2 250.3,175.3 252.1,174.0 249.3,169.9z" fill="#0d4893"/>
<path d="M217.7,135.9 220.7,138.8 222.5,137.4 219.5,134.5z" fill="#429d15"/>
<path d="M96.7,134.8 99.9,133.4 101.6,132.1 98.4,133.4z" fill="#000000"/>
<path d="M73.9,149.1 77.0,147.0 78.7,145.9 75.6,147.9z" fill="#000000"/>
<path d="M203.4,126.2 206.4,128.6 208.2,127.1 205.2,124.7z" fill="#879b0e"/>
<path d="M146.2,116.2 149.3,116.7 151.1,115.2 148.0,114.7z" fill="#473408"/>
<path d="M157.3,115.1 160.5,116.0 162.3,114.5 159.2,113.6z" fill="#83580f"/>
<path d="M126.5,121.1 129.7,120.9 131.4,119.4 128.3,119.6z" fill="#000000"/>
<path d="M184.7,118.4 187.8,120.2 189.6,118.8 186.5,117.0z" fill="#9b7b0f"/>
<path d="M245.1,167.8 247.9,171.8 249.6,170.4 246.8,166.4z" fill="#0e5f93"/>
<path d="M220.2,138.4 223.2,141.3 225.0,139.9 222.0,136.9z" fill="#309e17"/>
<path d="M101.0,132.4 104.2,131.3 105.8,129.9 102.6,131.1z" fill="#000000"/>
<path d="M122.3,122.7 125.5,122.4 127.2,120.9 124.0,121.2z" fill="#000000"/>
<path d="M194.1,121.9 197.1,124.0 198.9,122.6 195.9,120.4z" fill="#9b920d"/>
<path d="M105.2,130.2 108.4,129.3 110.1,127.9 106.9,128.8z" fill="#000000"/>
<path d="M242.7,164.5 245.5,168.3 247.2,167.0 244.4,163.1z" fill="#107594"/>
<path d="M222.8,140.9 225.7,144.0 227.5,142.6 224.6,139.5z" fill="#1d9e18"/>
<path d="M118.0,124.4 121.2,123.9 122.9,122.4 119.7,122.9z" fill="#000000"/>
<path d="M164.2,115.3 167.3,116.4 169.1,115.0 166.0,113.8z" fill="#996611"/>
<path d="M109.5,128.2 112.7,127.4 114.4,125.9 111.1,126.7z" fill="#000000"/>
<path d="M113.7,126.2 116.9,125.6 118.6,124.1 115.4,124.8z" fill="#000000"/>
<path d="M177.9,117.0 181.0,118.6 182.8,117.1 179.7,115.5z" fill="#9b7110"/>
<path d="M206.0,128.2 209.0,130.7 210.8,129.2 207.8,126.7z" fill="#7b9c0f"/>
<path d="M78.2,146.2 81.3,144.3 83.0,143.1 79.8,145.1z" fill="#000000"/>
<path d="M240.2,161.2 243.0,165.0 244.8,163.6 241.9,159.8z" fill="#128a95"/>
<path d="M225.3,143.5 228.2,146.7 230.0,145.3 227.1,142.1z" fill="#189d26"/>
<path d="M171.1,115.9 174.2,117.3 176.0,115.8 172.9,114.5z" fill="#9b6a11"/>
<path d="M141.9,117.2 145.1,117.5 146.9,116.0 143.7,115.7z" fill="#322605"/>
<path d="M237.7,158.0 240.6,161.7 242.3,160.3 239.5,156.6z" fill="#139388"/>
<path d="M227.8,146.2 230.7,149.5 232.5,148.1 229.6,144.8z" fill="#179b39"/>
<path d="M235.3,155.0 238.1,158.5 239.9,157.1 237.0,153.6z" fill="#149573"/>
<path d="M230.3,149.1 233.2,152.4 234.9,151.0 232.1,147.6z" fill="#16994c"/>
<path d="M232.8,152.0 235.7,155.4 237.4,154.0 234.5,150.6z" fill="#15975f"/>
<path d="M153.1,115.7 156.2,116.5 158.0,115.0 154.9,114.2z" fill="#714e0c"/>
<path d="M63.9,156.1 66.9,153.8 68.6,152.7 65.6,155.0z" fill="#000000"/>
<path d="M187.3,119.9 190.4,121.8 192.2,120.3 189.1,118.4z" fill="#9b830f"/>
<path d="M208.5,130.3 211.5,132.9 213.3,131.4 210.3,128.8z" fill="#6f9c11"/>
<path d="M196.7,123.6 199.7,125.8 201.5,124.4 198.5,122.2z" fill="#9a9b0d"/>
<path d="M82.4,143.5 85.5,141.7 87.2,140.5 84.0,142.3z" fill="#000000"/>
<path d="M137.7,118.3 140.8,118.5 142.6,117.0 139.4,116.8z" fill="#1e1803"/>
<path d="M159.9,115.7 163.1,116.7 164.9,115.3 161.8,114.2z" fill="#906110"/>
<path d="M211.1,132.5 214.0,135.2 215.8,133.7 212.9,131.0z" fill="#619c12"/>
<path d="M180.5,118.2 183.6,119.9 185.4,118.5 182.3,116.8z" fill="#9b7710"/>
<path d="M86.6,140.9 89.8,139.2 91.4,138.0 88.2,139.6z" fill="#000000"/>
<path d="M250.9,179.5 253.7,183.7 255.4,182.5 252.6,178.2z" fill="#091f92"/>
<path d="M148.8,116.5 152.0,117.1 153.8,115.6 150.6,115.0z" fill="#5d420a"/>
<path d="M133.4,119.5 136.6,119.6 138.3,118.1 135.2,118.0z" fill="#0d0c01"/>
<path d="M68.1,153.1 71.1,150.9 72.8,149.8 69.8,152.0z" fill="#000000"/>
<path d="M199.2,125.4 202.3,127.7 204.1,126.3 201.1,124.0z" fill="#909b0d"/>
<path d="M166.8,116.1 169.9,117.4 171.8,115.9 168.6,114.7z" fill="#9b6911"/>
<path d="M173.7,117.0 176.8,118.5 178.6,117.0 175.5,115.5z" fill="#9b6e11"/>
<path d="M189.9,121.4 192.9,123.4 194.8,122.0 191.7,120.0z" fill="#9b8b0e"/>
<path d="M213.6,134.7 216.6,137.5 218.4,136.1 215.4,133.3z" fill="#519d13"/>
<path d="M90.8,138.3 94.0,136.9 95.7,135.6 92.5,137.0z" fill="#000000"/>
<path d="M248.5,175.9 251.3,180.0 253.0,178.7 250.2,174.6z" fill="#0b3192"/>
<path d="M129.1,120.8 132.3,120.8 134.1,119.3 130.9,119.3z" fill="#030300"/>
<path d="M216.2,137.1 219.1,140.0 220.9,138.6 218.0,135.7z" fill="#409d15"/>
<path d="M95.0,135.9 98.3,134.6 99.9,133.3 96.7,134.6z" fill="#000000"/>
<path d="M72.3,150.2 75.4,148.1 77.0,147.0 73.9,149.1z" fill="#000000"/>
<path d="M246.1,172.4 248.9,176.4 250.6,175.1 247.8,171.1z" fill="#0d4893"/>
<path d="M144.5,117.3 147.7,117.8 149.5,116.3 146.3,115.8z" fill="#463507"/>
<path d="M124.8,122.3 128.0,122.1 129.8,120.6 126.6,120.8z" fill="#000000"/>
<path d="M201.8,127.3 204.8,129.8 206.6,128.3 203.6,125.9z" fill="#859c0f"/>
<path d="M155.7,116.2 158.8,117.1 160.6,115.6 157.5,114.8z" fill="#83590e"/>
<path d="M183.1,119.6 186.2,121.4 188.0,119.9 184.9,118.1z" fill="#9b7d0f"/>
<path d="M99.3,133.6 102.5,132.5 104.2,131.1 100.9,132.2z" fill="#000000"/>
<path d="M218.7,139.6 221.6,142.6 223.4,141.1 220.5,138.1z" fill="#2e9e17"/>
<path d="M120.6,123.8 123.8,123.5 125.5,122.0 122.3,122.4z" fill="#000000"/>
<path d="M243.6,169.0 246.4,172.9 248.2,171.6 245.4,167.6z" fill="#0e5e93"/>
<path d="M103.5,131.4 106.8,130.4 108.4,129.0 105.2,130.0z" fill="#000000"/>
<path d="M192.5,123.0 195.5,125.2 197.3,123.7 194.3,121.6z" fill="#9b940d"/>
<path d="M116.3,125.6 119.5,125.1 121.2,123.6 118.0,124.1z" fill="#000000"/>
<path d="M107.8,129.3 111.0,128.5 112.7,127.1 109.5,127.9z" fill="#000000"/>
<path d="M221.2,142.1 224.2,145.2 225.9,143.8 223.0,140.7z" fill="#1c9e19"/>
<path d="M112.0,127.4 115.3,126.7 117.0,125.3 113.7,125.9z" fill="#000000"/>
<path d="M162.6,116.4 165.7,117.6 167.5,116.1 164.4,115.0z" fill="#996811"/>
<path d="M241.2,165.6 244.0,169.5 245.7,168.1 242.9,164.3z" fill="#107494"/>
<path d="M176.3,118.1 179.4,119.7 181.2,118.3 178.1,116.7z" fill="#9b7310"/>
<path d="M76.5,147.4 79.6,145.5 81.3,144.3 78.1,146.2z" fill="#000000"/>
<path d="M204.4,129.3 207.4,131.9 209.2,130.4 206.2,127.9z" fill="#799c10"/>
<path d="M169.4,117.1 172.5,118.4 174.4,117.0 171.3,115.6z" fill="#9b6c11"/>
<path d="M140.3,118.3 143.4,118.7 145.2,117.2 142.1,116.8z" fill="#312605"/>
<path d="M223.7,144.7 226.7,147.9 228.4,146.5 225.5,143.3z" fill="#189d28"/>
<path d="M238.7,162.4 241.6,166.2 243.3,164.8 240.4,161.0z" fill="#128995"/>
<path d="M226.3,147.5 229.2,150.7 230.9,149.3 228.0,146.0z" fill="#179b3a"/>
<path d="M236.2,159.2 239.1,162.9 240.8,161.5 238.0,157.8z" fill="#139388"/>
<path d="M228.8,150.3 231.7,153.7 233.4,152.2 230.5,148.9z" fill="#16994d"/>
<path d="M233.8,156.2 236.6,159.7 238.4,158.3 235.5,154.8z" fill="#149574"/>
<path d="M151.4,116.9 154.6,117.6 156.4,116.1 153.2,115.4z" fill="#714f0c"/>
<path d="M231.3,153.2 234.1,156.6 235.9,155.2 233.0,151.8z" fill="#159760"/>
<path d="M62.2,157.2 65.2,154.9 66.9,153.8 63.9,156.1z" fill="#000000"/>
<path d="M80.7,144.7 83.8,142.9 85.5,141.7 82.3,143.5z" fill="#000000"/>
<path d="M185.7,121.0 188.8,122.9 190.6,121.5 187.5,119.6z" fill="#9b850f"/>
<path d="M195.1,124.8 198.1,127.0 199.9,125.5 196.9,123.3z" fill="#989b0d"/>
<path d="M206.9,131.4 209.9,134.1 211.7,132.6 208.8,130.0z" fill="#6d9c11"/>
<path d="M136.0,119.4 139.2,119.6 141.0,118.1 137.8,117.9z" fill="#1d1803"/>
<path d="M158.3,116.8 161.4,117.9 163.3,116.4 160.1,115.4z" fill="#906310"/>
<path d="M84.9,142.0 88.1,140.4 89.7,139.1 86.5,140.8z" fill="#000000"/>
<path d="M209.5,133.6 212.5,136.3 214.3,134.9 211.3,132.2z" fill="#609c12"/>
<path d="M178.9,119.4 182.0,121.1 183.8,119.6 180.7,117.9z" fill="#9b7910"/>
<path d="M131.7,120.6 134.9,120.7 136.7,119.2 133.5,119.1z" fill="#0d0b01"/>
<path d="M147.2,117.6 150.3,118.2 152.1,116.8 149.0,116.1z" fill="#5c430a"/>
<path d="M66.4,154.2 69.4,152.1 71.1,150.9 68.1,153.1z" fill="#000000"/>
<path d="M165.2,117.3 168.3,118.5 170.1,117.1 167.0,115.8z" fill="#9b6b11"/>
<path d="M197.6,126.6 200.7,128.9 202.5,127.5 199.5,125.2z" fill="#8e9b0e"/>
<path d="M172.0,118.1 175.1,119.6 177.0,118.1 173.9,116.7z" fill="#9b7010"/>
<path d="M249.5,180.6 252.3,184.8 253.9,183.6 251.2,179.3z" fill="#091f92"/>
<path d="M89.1,139.5 92.3,138.0 94.0,136.7 90.8,138.2z" fill="#000000"/>
<path d="M188.3,122.6 191.3,124.6 193.2,123.1 190.1,121.1z" fill="#9b8d0e"/>
<path d="M212.1,135.9 215.0,138.7 216.8,137.3 213.9,134.5z" fill="#509d14"/>
<path d="M127.5,121.9 130.6,121.9 132.4,120.4 129.2,120.4z" fill="#020200"/>
<path d="M247.0,177.1 249.8,181.2 251.5,179.9 248.7,175.8z" fill="#0b3192"/>
<path d="M93.4,137.1 96.6,135.7 98.2,134.4 95.0,135.7z" fill="#000000"/>
<path d="M70.6,151.3 73.7,149.3 75.4,148.1 72.3,150.2z" fill="#000000"/>
<path d="M214.6,138.3 217.6,141.2 219.4,139.8 216.4,136.9z" fill="#3f9d15"/>
<path d="M123.2,123.4 126.4,123.2 128.1,121.7 124.9,121.9z" fill="#000000"/>
<path d="M142.9,118.5 146.0,119.0 147.8,117.5 144.7,117.0z" fill="#453507"/>
<path d="M154.0,117.4 157.2,118.2 159.0,116.8 155.9,115.9z" fill="#825b0e"/>
<path d="M200.2,128.5 203.2,130.9 205.1,129.5 202.0,127.1z" fill="#839c0f"/>
<path d="M244.6,173.6 247.4,177.6 249.1,176.3 246.3,172.2z" fill="#0d4893"/>
<path d="M97.6,134.8 100.8,133.6 102.5,132.2 99.3,133.4z" fill="#000000"/>
<path d="M181.5,120.7 184.6,122.5 186.4,121.1 183.3,119.3z" fill="#9b7f0f"/>
<path d="M118.9,125.0 122.1,124.6 123.8,123.2 120.6,123.5z" fill="#000000"/>
<path d="M217.1,140.7 220.1,143.8 221.9,142.3 218.9,139.3z" fill="#2d9e17"/>
<path d="M101.9,132.6 105.1,131.6 106.7,130.2 103.5,131.2z" fill="#000000"/>
<path d="M242.1,170.2 245.0,174.1 246.7,172.8 243.9,168.8z" fill="#0e5e93"/>
<path d="M114.6,126.7 117.9,126.2 119.6,124.7 116.3,125.2z" fill="#000000"/>
<path d="M190.9,124.2 193.9,126.3 195.8,124.9 192.7,122.8z" fill="#9b960d"/>
<path d="M106.1,130.5 109.3,129.7 111.0,128.2 107.8,129.1z" fill="#000000"/>
<path d="M110.4,128.5 113.6,127.9 115.3,126.4 112.1,127.1z" fill="#000000"/>
<path d="M160.9,117.6 164.1,118.7 165.9,117.2 162.8,116.1z" fill="#996a11"/>
<path d="M219.7,143.3 222.6,146.4 224.4,145.0 221.5,141.9z" fill="#1a9e19"/>
<path d="M74.8,148.5 77.9,146.6 79.6,145.4 76.4,147.4z" fill="#000000"/>
<path d="M174.6,119.3 177.7,120.8 179.6,119.4 176.5,117.8z" fill="#9b7510"/>
<path d="M239.7,166.8 242.5,170.7 244.2,169.3 241.4,165.5z" fill="#107394"/>
<path d="M202.8,130.5 205.8,133.0 207.6,131.6 204.6,129.1z" fill="#779c10"/>
<path d="M138.6,119.4 141.8,119.8 143.6,118.3 140.4,117.9z" fill="#2f2605"/>
<path d="M167.8,118.2 170.9,119.6 172.7,118.1 169.6,116.8z" fill="#9b6e11"/>
<path d="M222.2,145.9 225.1,149.1 226.9,147.7 224.0,144.5z" fill="#189c29"/>
<path d="M237.2,163.6 240.1,167.4 241.8,166.0 238.9,162.2z" fill="#128995"/>
<path d="M224.7,148.7 227.6,152.0 229.4,150.5 226.5,147.2z" fill="#179b3b"/>
<path d="M234.7,160.4 237.6,164.1 239.3,162.7 236.5,159.0z" fill="#139389"/>
<path d="M149.8,118.0 152.9,118.7 154.7,117.3 151.6,116.5z" fill="#70500c"/>
<path d="M227.2,151.5 230.1,154.9 231.9,153.5 229.0,150.1z" fill="#16994e"/>
<path d="M232.2,157.4 235.1,160.9 236.9,159.5 234.0,156.0z" fill="#149575"/>
<path d="M229.7,154.4 232.6,157.9 234.4,156.5 231.5,153.0z" fill="#159761"/>
<path d="M60.5,158.3 63.5,156.0 65.2,155.0 62.2,157.2z" fill="#000000"/>
<path d="M79.0,145.8 82.1,144.0 83.8,142.8 80.6,144.6z" fill="#000000"/>
<path d="M184.1,122.2 187.2,124.1 189.0,122.6 185.9,120.7z" fill="#9b870e"/>
<path d="M193.5,125.9 196.5,128.1 198.3,126.7 195.3,124.5z" fill="#969b0d"/>
<path d="M205.4,132.6 208.4,135.2 210.2,133.8 207.2,131.2z" fill="#6b9c11"/>
<path d="M134.3,120.5 137.5,120.8 139.3,119.3 136.1,119.0z" fill="#1c1703"/>
<path d="M156.7,118.0 159.8,119.0 161.6,117.5 158.5,116.5z" fill="#906510"/>
<path d="M83.2,143.2 86.4,141.5 88.0,140.3 84.9,141.9z" fill="#000000"/>
<path d="M207.9,134.8 210.9,137.5 212.7,136.1 209.7,133.4z" fill="#5e9c12"/>
<path d="M177.3,120.5 180.3,122.2 182.2,120.8 179.1,119.1z" fill="#9b7b0f"/>
<path d="M130.1,121.7 133.2,121.8 135.0,120.3 131.8,120.3z" fill="#0c0b01"/>
<path d="M64.7,155.4 67.7,153.2 69.4,152.1 66.4,154.3z" fill="#000000"/>
<path d="M145.5,118.7 148.7,119.4 150.5,117.9 147.3,117.2z" fill="#5b440a"/>
<path d="M163.5,118.4 166.7,119.6 168.5,118.2 165.4,116.9z" fill="#9b6d11"/>
<path d="M196.1,127.8 199.1,130.1 200.9,128.6 197.9,126.3z" fill="#8c9b0e"/>
<path d="M170.4,119.2 173.5,120.7 175.3,119.3 172.2,117.8z" fill="#9b7210"/>
<path d="M87.4,140.6 90.6,139.1 92.3,137.9 89.1,139.4z" fill="#000000"/>
<path d="M248.0,181.8 250.8,186.0 252.5,184.7 249.7,180.5z" fill="#091f92"/>
<path d="M186.7,123.7 189.7,125.7 191.6,124.3 188.5,122.3z" fill="#9b8f0e"/>
<path d="M210.5,137.1 213.5,139.9 215.3,138.5 212.3,135.7z" fill="#4e9d14"/>
<path d="M125.8,123.1 129.0,123.0 130.7,121.5 127.5,121.6z" fill="#020200"/>
<path d="M91.7,138.2 94.9,136.9 96.5,135.6 93.3,136.9z" fill="#000000"/>
<path d="M245.6,178.2 248.4,182.3 250.1,181.0 247.3,176.9z" fill="#0b3192"/>
<path d="M68.9,152.5 72.0,150.4 73.7,149.3 70.6,151.3z" fill="#000000"/>
<path d="M121.5,124.5 124.7,124.3 126.4,122.9 123.2,123.1z" fill="#000000"/>
<path d="M213.0,139.5 216.0,142.4 217.8,141.0 214.8,138.1z" fill="#3d9d15"/>
<path d="M141.2,119.6 144.4,120.1 146.2,118.6 143.0,118.1z" fill="#453507"/>
<path d="M152.4,118.5 155.5,119.4 157.4,117.9 154.2,117.0z" fill="#825c0e"/>
<path d="M198.6,129.7 201.7,132.1 203.5,130.7 200.5,128.2z" fill="#819c0f"/>
<path d="M95.9,135.9 99.2,134.7 100.8,133.4 97.6,134.6z" fill="#000000"/>
<path d="M117.2,126.1 120.5,125.8 122.2,124.3 119.0,124.7z" fill="#000000"/>
<path d="M179.9,121.9 183.0,123.7 184.8,122.2 181.7,120.4z" fill="#9b810f"/>
<path d="M243.1,174.8 245.9,178.8 247.6,177.4 244.8,173.4z" fill="#0d4793"/>
<path d="M215.6,141.9 218.5,145.0 220.3,143.5 217.4,140.5z" fill="#2b9e17"/>
<path d="M100.2,133.7 103.4,132.7 105.1,131.3 101.8,132.3z" fill="#000000"/>
<path d="M113.0,127.8 116.2,127.3 117.9,125.9 114.7,126.4z" fill="#000000"/>
<path d="M104.4,131.6 107.7,130.8 109.3,129.4 106.1,130.2z" fill="#000000"/>
<path d="M189.3,125.3 192.3,127.5 194.2,126.0 191.1,123.9z" fill="#9b980d"/>
<path d="M108.7,129.7 111.9,129.0 113.6,127.6 110.4,128.2z" fill="#000000"/>
<path d="M240.7,171.4 243.5,175.3 245.2,173.9 242.4,170.0z" fill="#0e5d93"/>
<path d="M159.3,118.7 162.4,119.8 164.2,118.4 161.1,117.2z" fill="#996c10"/>
<path d="M73.1,149.7 76.2,147.7 77.9,146.6 74.8,148.5z" fill="#000000"/>
<path d="M218.1,144.5 221.1,147.6 222.9,146.2 219.9,143.1z" fill="#199e19"/>
<path d="M173.0,120.4 176.1,122.0 178.0,120.5 174.9,118.9z" fill="#9b7710"/>
<path d="M137.0,120.6 140.1,120.9 141.9,119.4 138.7,119.1z" fill="#2e2605"/>
<path d="M201.2,131.7 204.2,134.2 206.0,132.8 203.0,130.3z" fill="#759c10"/>
<path d="M166.2,119.3 169.3,120.7 171.1,119.2 168.0,117.9z" fill="#9b7010"/>
<path d="M238.2,168.0 241.0,171.9 242.8,170.5 239.9,166.7z" fill="#107394"/>
<path d="M220.7,147.1 223.6,150.3 225.4,148.9 222.4,145.7z" fill="#189c2a"/>
<path d="M235.7,164.8 238.6,168.5 240.3,167.2 237.4,163.4z" fill="#128895"/>
<path d="M223.2,149.9 226.1,153.2 227.9,151.7 225.0,148.5z" fill="#179b3c"/>
<path d="M148.1,119.1 151.3,119.9 153.1,118.4 149.9,117.6z" fill="#70510c"/>
<path d="M233.2,161.6 236.1,165.3 237.8,163.9 235.0,160.3z" fill="#13938a"/>
<path d="M225.7,152.7 228.6,156.1 230.4,154.7 227.5,151.3z" fill="#16994f"/>
<path d="M58.8,159.4 61.8,157.1 63.5,156.1 60.5,158.3z" fill="#000000"/>
<path d="M230.7,158.6 233.6,162.1 235.4,160.7 232.5,157.2z" fill="#149576"/>
<path d="M228.2,155.6 231.1,159.1 232.9,157.7 230.0,154.2z" fill="#159762"/>
<path d="M77.3,146.9 80.5,145.1 82.1,143.9 79.0,145.7z" fill="#000000"/>
<path d="M182.5,123.3 185.6,125.2 187.4,123.8 184.3,121.9z" fill="#9b890e"/>
<path d="M191.9,127.1 194.9,129.3 196.7,127.9 193.7,125.6z" fill="#949b0d"/>
<path d="M203.8,133.8 206.8,136.4 208.6,135.0 205.6,132.4z" fill="#699c11"/>
<path d="M132.7,121.7 135.9,121.9 137.6,120.4 134.5,120.2z" fill="#1b1702"/>
<path d="M155.0,119.1 158.2,120.1 160.0,118.6 156.8,117.6z" fill="#90660f"/>
<path d="M81.5,144.3 84.7,142.6 86.4,141.4 83.2,143.1z" fill="#000000"/>
<path d="M175.6,121.6 178.7,123.3 180.6,121.9 177.5,120.2z" fill="#9b7d0f"/>
<path d="M206.4,136.0 209.4,138.7 211.2,137.3 208.2,134.6z" fill="#5c9d12"/>
<path d="M128.4,122.9 131.6,123.0 133.4,121.5 130.2,121.4z" fill="#0b0a01"/>
<path d="M63.0,156.5 66.0,154.3 67.8,153.2 64.7,155.4z" fill="#000000"/>
<path d="M143.9,119.9 147.0,120.5 148.8,119.0 145.7,118.4z" fill="#5a4409"/>
<path d="M161.9,119.5 165.0,120.8 166.9,119.3 163.7,118.1z" fill="#9b6f11"/>
<path d="M194.5,128.9 197.5,131.2 199.3,129.8 196.3,127.5z" fill="#8a9b0e"/>
<path d="M168.8,120.4 171.9,121.9 173.7,120.4 170.6,118.9z" fill="#9b7410"/>
<path d="M85.8,141.8 89.0,140.3 90.6,139.0 87.4,140.5z" fill="#000000"/>
<path d="M185.1,124.8 188.2,126.9 190.0,125.4 186.9,123.4z" fill="#9b910d"/>
<path d="M208.9,138.3 211.9,141.1 213.7,139.7 210.7,136.9z" fill="#4c9d14"/>
<path d="M124.1,124.2 127.3,124.2 129.1,122.7 125.9,122.7z" fill="#020200"/>
<path d="M246.5,182.9 249.3,187.1 251.0,185.8 248.2,181.6z" fill="#091f92"/>
<path d="M90.0,139.4 93.2,138.0 94.9,136.7 91.6,138.1z" fill="#000000"/>
<path d="M67.2,153.6 70.3,151.5 72.0,150.4 68.9,152.5z" fill="#000000"/>
<path d="M119.8,125.7 123.1,125.5 124.8,124.0 121.6,124.2z" fill="#000000"/>
<path d="M139.6,120.7 142.7,121.2 144.5,119.7 141.4,119.2z" fill="#443507"/>
<path d="M211.5,140.7 214.5,143.6 216.3,142.2 213.3,139.2z" fill="#3b9d16"/>
<path d="M244.1,179.4 246.9,183.5 248.6,182.2 245.8,178.1z" fill="#0b3092"/>
<path d="M150.8,119.6 153.9,120.5 155.7,119.0 152.6,118.1z" fill="#825e0e"/>
<path d="M197.1,130.8 200.1,133.3 201.9,131.8 198.9,129.4z" fill="#7f9c0f"/>
<path d="M94.2,137.1 97.5,135.9 99.1,134.5 95.9,135.7z" fill="#000000"/>
<path d="M115.6,127.3 118.8,126.9 120.5,125.5 117.3,125.8z" fill="#000000"/>
<path d="M178.3,123.0 181.3,124.8 183.2,123.4 180.1,121.6z" fill="#9b830f"/>
<path d="M98.5,134.9 101.7,133.8 103.4,132.5 100.2,133.5z" fill="#000000"/>
<path d="M214.0,143.1 217.0,146.2 218.8,144.7 215.8,141.7z" fill="#2a9e17"/>
<path d="M241.6,175.9 244.5,179.9 246.2,178.6 243.3,174.6z" fill="#0d4793"/>
<path d="M111.3,129.0 114.5,128.5 116.2,127.0 113.0,127.5z" fill="#000000"/>
<path d="M102.8,132.8 106.0,131.9 107.7,130.5 104.4,131.4z" fill="#000000"/>
<path d="M107.0,130.8 110.3,130.1 111.9,128.7 108.7,129.4z" fill="#000000"/>
<path d="M187.7,126.5 190.7,128.6 192.6,127.2 189.5,125.1z" fill="#9b9a0c"/>
<path d="M71.4,150.8 74.5,148.8 76.2,147.7 73.1,149.6z" fill="#000000"/>
<path d="M157.7,119.8 160.8,120.9 162.6,119.5 159.5,118.4z" fill="#996e10"/>
<path d="M216.6,145.7 219.5,148.8 221.3,147.4 218.4,144.3z" fill="#199e1a"/>
<path d="M239.2,172.5 242.0,176.4 243.7,175.1 240.9,171.2z" fill="#0e5d93"/>
<path d="M171.4,121.5 174.5,123.1 176.3,121.7 173.2,120.1z" fill="#9b7910"/>
<path d="M135.3,121.7 138.5,122.0 140.3,120.6 137.1,120.2z" fill="#2d2604"/>
<path d="M199.6,132.9 202.7,135.4 204.5,134.0 201.5,131.4z" fill="#739c10"/>
<path d="M164.5,120.5 167.7,121.8 169.5,120.4 166.4,119.0z" fill="#9b7210"/>
<path d="M236.7,169.2 239.5,173.1 241.3,171.7 238.4,167.9z" fill="#107294"/>
<path d="M219.1,148.4 222.1,151.6 223.8,150.1 220.9,146.9z" fill="#189c2b"/>
<path d="M234.2,166.0 237.1,169.7 238.8,168.4 235.9,164.6z" fill="#128795"/>
<path d="M146.5,120.2 149.6,121.0 151.4,119.5 148.3,118.8z" fill="#6f520c"/>
<path d="M221.7,151.1 224.6,154.4 226.4,153.0 223.4,149.7z" fill="#179a3d"/>
<path d="M57.1,160.5 60.1,158.2 61.9,157.2 58.8,159.4z" fill="#000000"/>
<path d="M231.7,162.9 234.6,166.5 236.3,165.1 233.5,161.5z" fill="#13938b"/>
<path d="M224.2,153.9 227.1,157.3 228.9,155.9 226.0,152.5z" fill="#169950"/>
<path d="M75.6,148.1 78.8,146.3 80.4,145.1 77.3,146.9z" fill="#000000"/>
<path d="M229.2,159.8 232.1,163.4 233.9,162.0 231.0,158.4z" fill="#149577"/>
<path d="M226.7,156.8 229.6,160.3 231.4,158.9 228.5,155.4z" fill="#159763"/>
<path d="M180.9,124.4 184.0,126.4 185.8,124.9 182.7,123.0z" fill="#9b8b0e"/>
<path d="M131.0,122.8 134.2,123.0 136.0,121.5 132.8,121.3z" fill="#1a1602"/>
<path d="M190.3,128.2 193.3,130.5 195.2,129.0 192.1,126.8z" fill="#929b0d"/>
<path d="M202.2,135.0 205.2,137.6 207.0,136.2 204.0,133.6z" fill="#679c11"/>
<path d="M79.8,145.4 83.0,143.8 84.7,142.6 81.5,144.2z" fill="#000000"/>
<path d="M153.4,120.2 156.5,121.2 158.3,119.8 155.2,118.8z" fill="#90680f"/>
<path d="M174.0,122.8 177.1,124.5 179.0,123.0 175.9,121.3z" fill="#9b7f0f"/>
<path d="M126.7,124.0 129.9,124.1 131.7,122.6 128.5,122.5z" fill="#0a0901"/>
<path d="M204.8,137.2 207.8,139.9 209.6,138.5 206.6,135.8z" fill="#5a9d13"/>
<path d="M61.3,157.6 64.4,155.4 66.1,154.3 63.0,156.5z" fill="#000000"/>
<path d="M142.2,121.0 145.4,121.6 147.2,120.1 144.0,119.5z" fill="#594509"/>
<path d="M160.3,120.6 163.4,121.9 165.2,120.4 162.1,119.2z" fill="#9b7110"/>
<path d="M167.2,121.5 170.3,123.0 172.1,121.5 169.0,120.1z" fill="#9b7610"/>
<path d="M192.9,130.1 195.9,132.4 197.7,131.0 194.7,128.6z" fill="#889b0e"/>
<path d="M84.1,142.9 87.3,141.4 88.9,140.2 85.7,141.7z" fill="#000000"/>
<path d="M183.5,126.0 186.6,128.0 188.4,126.6 185.3,124.6z" fill="#9b930d"/>
<path d="M122.5,125.4 125.7,125.3 127.4,123.8 124.2,123.9z" fill="#010100"/>
<path d="M207.4,139.5 210.4,142.3 212.2,140.9 209.2,138.1z" fill="#4a9d14"/>
<path d="M88.3,140.5 91.5,139.1 93.2,137.9 90.0,139.2z" fill="#000000"/>
<path d="M245.1,184.1 247.9,188.2 249.6,186.9 246.8,182.8z" fill="#091f92"/>
<path d="M65.5,154.7 68.6,152.6 70.3,151.5 67.2,153.6z" fill="#000000"/>
<path d="M118.2,126.8 121.4,126.6 123.1,125.1 119.9,125.3z" fill="#000000"/>
<path d="M137.9,121.8 141.1,122.3 142.9,120.9 139.7,120.4z" fill="#433507"/>
<path d="M209.9,141.9 212.9,144.8 214.7,143.4 211.7,140.4z" fill="#3a9d16"/>
<path d="M149.1,120.7 152.3,121.6 154.1,120.1 150.9,119.3z" fill="#815f0e"/>
<path d="M92.6,138.2 95.8,137.0 97.4,135.7 94.2,136.9z" fill="#000000"/>
<path d="M195.5,132.0 198.5,134.4 200.3,133.0 197.3,130.6z" fill="#7d9c0f"/>
<path d="M242.6,180.6 245.4,184.6 247.1,183.3 244.3,179.2z" fill="#0b3092"/>
<path d="M113.9,128.4 117.1,128.0 118.8,126.6 115.6,126.9z" fill="#000000"/>
<path d="M176.6,124.1 179.7,125.9 181.6,124.5 178.5,122.7z" fill="#9b850e"/>
<path d="M96.8,136.0 100.1,135.0 101.7,133.6 98.5,134.6z" fill="#000000"/>
<path d="M109.6,130.1 112.9,129.6 114.5,128.2 111.3,128.7z" fill="#000000"/>
<path d="M212.5,144.3 215.5,147.4 217.2,145.9 214.3,142.9z" fill="#289e17"/>
<path d="M101.1,133.9 104.3,133.1 106.0,131.7 102.7,132.5z" fill="#000000"/>
<path d="M105.3,132.0 108.6,131.3 110.3,129.9 107.0,130.5z" fill="#000000"/>
<path d="M240.2,177.1 243.0,181.1 244.7,179.8 241.9,175.8z" fill="#0c4693"/>
<path d="M186.1,127.6 189.2,129.8 191.0,128.3 187.9,126.2z" fill="#9a9b0d"/>
<path d="M69.7,151.9 72.8,150.0 74.5,148.8 71.4,150.8z" fill="#000000"/>
<path d="M156.0,120.9 159.2,122.1 161.0,120.6 157.8,119.5z" fill="#997010"/>
<path d="M215.0,146.9 218.0,150.0 219.8,148.6 216.8,145.5z" fill="#199e1b"/>
<path d="M169.8,122.7 172.9,124.2 174.7,122.8 171.6,121.2z" fill="#9b7b0f"/>
<path d="M133.6,122.8 136.8,123.2 138.6,121.7 135.4,121.3z" fill="#2c2504"/>
<path d="M237.7,173.7 240.5,177.6 242.2,176.3 239.4,172.4z" fill="#0e5c93"/>
<path d="M198.1,134.0 201.1,136.6 202.9,135.1 199.9,132.6z" fill="#729c10"/>
<path d="M162.9,121.6 166.0,122.9 167.9,121.5 164.7,120.1z" fill="#9b7410"/>
<path d="M217.6,149.6 220.5,152.8 222.3,151.3 219.4,148.1z" fill="#189c2d"/>
<path d="M235.2,170.4 238.1,174.2 239.8,172.9 236.9,169.1z" fill="#107294"/>
<path d="M144.8,121.4 148.0,122.1 149.8,120.6 146.6,119.9z" fill="#6e540b"/>
<path d="M220.1,152.3 223.1,155.6 224.8,154.2 221.9,150.9z" fill="#179a3f"/>
<path d="M232.7,167.2 235.6,170.9 237.3,169.6 234.4,165.8z" fill="#128794"/>
<path d="M55.4,161.6 58.4,159.3 60.2,158.3 57.1,160.5z" fill="#000000"/>
<path d="M73.9,149.2 77.1,147.4 78.7,146.2 75.6,148.0z" fill="#000000"/>
<path d="M222.7,155.1 225.6,158.5 227.3,157.1 224.4,153.7z" fill="#169851"/>
<path d="M230.2,164.1 233.1,167.7 234.8,166.3 232.0,162.7z" fill="#13938b"/>
<path d="M225.2,158.0 228.1,161.5 229.9,160.1 226.9,156.6z" fill="#159764"/>
<path d="M227.7,161.0 230.6,164.6 232.3,163.2 229.5,159.6z" fill="#149577"/>
<path d="M129.4,123.9 132.5,124.1 134.3,122.7 131.1,122.4z" fill="#191602"/>
<path d="M179.3,125.6 182.3,127.5 184.2,126.1 181.1,124.1z" fill="#9b8d0e"/>
<path d="M188.7,129.4 191.8,131.6 193.6,130.2 190.5,128.0z" fill="#909b0d"/>
<path d="M200.7,136.2 203.7,138.8 205.5,137.4 202.5,134.7z" fill="#659c12"/>
<path d="M78.1,146.6 81.3,144.9 83.0,143.7 79.8,145.4z" fill="#000000"/>
<path d="M151.7,121.3 154.9,122.3 156.7,120.9 153.6,119.9z" fill="#906a0f"/>
<path d="M125.1,125.1 128.3,125.2 130.0,123.7 126.8,123.7z" fill="#090901"/>
<path d="M172.4,123.9 175.5,125.6 177.3,124.2 174.2,122.5z" fill="#9b810f"/>
<path d="M59.6,158.7 62.7,156.5 64.4,155.4 61.3,157.6z" fill="#000000"/>
<path d="M203.2,138.4 206.2,141.1 208.0,139.7 205.0,136.9z" fill="#589d13"/>
<path d="M140.6,122.1 143.7,122.7 145.5,121.2 142.4,120.6z" fill="#594509"/>
<path d="M158.6,121.8 161.8,123.0 163.6,121.6 160.5,120.3z" fill="#9b7310"/>
<path d="M82.4,144.0 85.6,142.5 87.2,141.3 84.0,142.8z" fill="#000000"/>
<path d="M165.5,122.6 168.7,124.1 170.5,122.7 167.4,121.2z" fill="#9b7810"/>
<path d="M191.3,131.2 194.3,133.6 196.2,132.1 193.1,129.8z" fill="#869b0e"/>
<path d="M120.8,126.5 124.0,126.4 125.7,124.9 122.5,125.0z" fill="#010100"/>
<path d="M181.9,127.1 185.0,129.2 186.8,127.7 183.7,125.7z" fill="#9b950d"/>
<path d="M205.8,140.7 208.8,143.5 210.6,142.1 207.6,139.2z" fill="#499d14"/>
<path d="M86.6,141.6 89.9,140.3 91.5,139.0 88.3,140.3z" fill="#000000"/>
<path d="M63.8,155.8 66.9,153.7 68.6,152.6 65.5,154.7z" fill="#000000"/>
<path d="M116.5,127.9 119.7,127.7 121.5,126.3 118.2,126.5z" fill="#000000"/>
<path d="M243.6,185.2 246.4,189.3 248.1,188.1 245.3,183.9z" fill="#091f92"/>
<path d="M136.3,123.0 139.4,123.4 141.2,122.0 138.1,121.5z" fill="#423506"/>
<path d="M90.9,139.3 94.1,138.1 95.8,136.8 92.5,138.0z" fill="#000000"/>
<path d="M208.4,143.1 211.4,146.0 213.2,144.6 210.2,141.6z" fill="#389d16"/>
<path d="M147.5,121.9 150.6,122.7 152.4,121.3 149.3,120.4z" fill="#81610d"/>
<path d="M193.9,133.2 196.9,135.6 198.8,134.2 195.7,131.7z" fill="#7b9c0f"/>
<path d="M112.2,129.5 115.5,129.2 117.2,127.7 113.9,128.1z" fill="#000000"/>
<path d="M95.1,137.1 98.4,136.1 100.0,134.7 96.8,135.8z" fill="#000000"/>
<path d="M175.0,125.3 178.1,127.1 180.0,125.6 176.9,123.8z" fill="#9b870e"/>
<path d="M241.1,181.7 244.0,185.8 245.7,184.5 242.8,180.4z" fill="#0b3092"/>
<path d="M107.9,131.3 111.2,130.7 112.9,129.3 109.6,129.8z" fill="#000000"/>
<path d="M99.4,135.0 102.6,134.2 104.3,132.8 101.1,133.7z" fill="#000000"/>
<path d="M103.7,133.1 106.9,132.4 108.6,131.0 105.3,131.7z" fill="#000000"/>
<path d="M210.9,145.5 213.9,148.6 215.7,147.1 212.7,144.1z" fill="#279e17"/>
<path d="M184.5,128.8 187.6,130.9 189.4,129.5 186.3,127.4z" fill="#989b0d"/>
<path d="M68.0,153.0 71.1,151.1 72.8,149.9 69.7,151.9z" fill="#000000"/>
<path d="M154.4,122.1 157.5,123.2 159.3,121.7 156.2,120.6z" fill="#997210"/>
<path d="M238.7,178.3 241.5,182.2 243.2,180.9 240.4,176.9z" fill="#0c4693"/>
<path d="M213.5,148.1 216.5,151.2 218.2,149.8 215.3,146.7z" fill="#199e1d"/>
<path d="M168.2,123.8 171.3,125.4 173.1,123.9 170.0,122.3z" fill="#9b7d0f"/>
<path d="M132.0,123.9 135.2,124.3 137.0,122.8 133.8,122.5z" fill="#2b2504"/>
<path d="M161.3,122.7 164.4,124.1 166.2,122.6 163.1,121.3z" fill="#9b7610"/>
<path d="M196.5,135.2 199.5,137.8 201.3,136.3 198.3,133.8z" fill="#709c11"/>
<path d="M236.2,174.9 239.1,178.8 240.8,177.5 237.9,173.6z" fill="#0e5c93"/>
<path d="M216.1,150.8 219.0,154.0 220.8,152.5 217.8,149.3z" fill="#189c2e"/>
<path d="M233.7,171.6 236.6,175.4 238.3,174.1 235.4,170.3z" fill="#107194"/>
<path d="M143.2,122.5 146.4,123.2 148.2,121.8 145.0,121.0z" fill="#6e550b"/>
<path d="M218.6,153.5 221.5,156.8 223.3,155.4 220.4,152.1z" fill="#179a40"/>
<path d="M72.2,150.3 75.4,148.5 77.1,147.3 73.9,149.1z" fill="#000000"/>
<path d="M53.7,162.7 56.7,160.4 58.5,159.4 55.4,161.6z" fill="#000000"/>
<path d="M231.2,168.4 234.1,172.1 235.8,170.8 232.9,167.0z" fill="#128694"/>
<path d="M221.1,156.3 224.1,159.7 225.8,158.3 222.9,154.9z" fill="#169852"/>
<path d="M228.7,165.3 231.6,168.9 233.3,167.5 230.4,163.9z" fill="#13938c"/>
<path d="M223.7,159.2 226.6,162.7 228.3,161.3 225.4,157.8z" fill="#159665"/>
<path d="M226.2,162.2 229.1,165.8 230.8,164.4 227.9,160.8z" fill="#149578"/>
<path d="M127.7,125.0 130.9,125.2 132.7,123.8 129.5,123.6z" fill="#181502"/>
<path d="M177.7,126.7 180.7,128.6 182.6,127.2 179.5,125.3z" fill="#9b8f0e"/>
<path d="M187.1,130.5 190.2,132.8 192.0,131.4 188.9,129.1z" fill="#8f9b0e"/>
<path d="M199.1,137.3 202.1,140.0 203.9,138.5 200.9,135.9z" fill="#649c12"/>
<path d="M76.5,147.7 79.6,146.0 81.3,144.8 78.1,146.5z" fill="#000000"/>
<path d="M150.1,122.5 153.3,123.5 155.1,122.0 151.9,121.0z" fill="#906c0f"/>
<path d="M123.4,126.3 126.6,126.3 128.4,124.9 125.2,124.8z" fill="#090801"/>
<path d="M57.9,159.7 61.0,157.6 62.7,156.5 59.6,158.7z" fill="#000000"/>
<path d="M170.8,125.0 173.9,126.7 175.7,125.3 172.6,123.6z" fill="#9b830f"/>
<path d="M138.9,123.2 142.1,123.8 143.9,122.4 140.7,121.7z" fill="#584609"/>
<path d="M201.7,139.6 204.7,142.3 206.5,140.9 203.5,138.1z" fill="#579d13"/>
<path d="M80.7,145.2 83.9,143.6 85.6,142.4 82.3,143.9z" fill="#000000"/>
<path d="M157.0,122.9 160.2,124.1 162.0,122.7 158.8,121.4z" fill="#9b7510"/>
<path d="M163.9,123.7 167.0,125.2 168.9,123.8 165.7,122.3z" fill="#9b7a10"/>
<path d="M189.7,132.4 192.8,134.7 194.6,133.3 191.5,131.0z" fill="#859c0f"/>
<path d="M119.1,127.6 122.3,127.5 124.1,126.1 120.9,126.1z" fill="#010100"/>
<path d="M180.3,128.3 183.4,130.3 185.2,128.9 182.1,126.8z" fill="#9b970d"/>
<path d="M204.2,141.9 207.3,144.7 209.0,143.3 206.0,140.4z" fill="#479d14"/>
<path d="M84.9,142.8 88.2,141.4 89.8,140.1 86.6,141.5z" fill="#000000"/>
<path d="M62.1,156.9 65.2,154.8 66.9,153.7 63.8,155.8z" fill="#000000"/>
<path d="M114.8,129.1 118.1,128.8 119.8,127.4 116.6,127.6z" fill="#000000"/>
<path d="M134.6,124.1 137.8,124.6 139.6,123.1 136.4,122.6z" fill="#413606"/>
<path d="M89.2,140.5 92.4,139.2 94.1,137.9 90.8,139.1z" fill="#000000"/>
<path d="M145.8,123.0 149.0,123.8 150.8,122.4 147.6,121.5z" fill="#81620d"/>
<path d="M206.8,144.3 209.8,147.2 211.6,145.8 208.6,142.8z" fill="#379d16"/>
<path d="M242.1,186.4 245.0,190.5 246.7,189.2 243.8,185.1z" fill="#091f92"/>
<path d="M110.5,130.7 113.8,130.3 115.5,128.8 112.3,129.2z" fill="#000000"/>
<path d="M192.3,134.3 195.4,136.8 197.2,135.4 194.1,132.9z" fill="#7a9c10"/>
<path d="M93.5,138.3 96.7,137.2 98.4,135.9 95.1,136.9z" fill="#000000"/>
<path d="M106.3,132.4 109.5,131.8 111.2,130.4 108.0,130.9z" fill="#000000"/>
<path d="M173.4,126.4 176.5,128.2 178.4,126.8 175.3,125.0z" fill="#9b890e"/>
<path d="M97.7,136.2 101.0,135.3 102.6,133.9 99.4,134.8z" fill="#000000"/>
<path d="M102.0,134.2 105.2,133.5 106.9,132.1 103.7,132.8z" fill="#000000"/>
<path d="M209.4,146.7 212.4,149.8 214.2,148.3 211.2,145.3z" fill="#259e18"/>
<path d="M239.7,182.9 242.5,186.9 244.2,185.6 241.4,181.6z" fill="#0b3092"/>
<path d="M66.3,154.1 69.4,152.2 71.1,151.0 68.0,153.0z" fill="#000000"/>
<path d="M182.9,129.9 186.0,132.1 187.8,130.6 184.7,128.5z" fill="#969b0d"/>
<path d="M152.7,123.2 155.9,124.3 157.7,122.8 154.6,121.7z" fill="#997410"/>
<path d="M130.3,125.1 133.5,125.4 135.3,123.9 132.1,123.6z" fill="#2a2504"/>
<path d="M237.2,179.5 240.0,183.4 241.8,182.1 238.9,178.1z" fill="#0c4693"/>
<path d="M166.5,124.9 169.7,126.5 171.5,125.1 168.4,123.5z" fill="#9b7f0f"/>
<path d="M212.0,149.3 214.9,152.4 216.7,151.0 213.7,147.9z" fill="#199e1e"/>
<path d="M159.7,123.8 162.8,125.2 164.6,123.7 161.5,122.4z" fill="#9b7810"/>
<path d="M194.9,136.4 198.0,138.9 199.8,137.5 196.7,135.0z" fill="#6e9c11"/>
<path d="M234.7,176.1 237.6,180.0 239.3,178.6 236.4,174.8z" fill="#0e5b93"/>
<path d="M214.5,152.0 217.5,155.2 219.2,153.8 216.3,150.6z" fill="#189c2f"/>
<path d="M141.5,123.6 144.7,124.3 146.5,122.9 143.3,122.1z" fill="#6e560b"/>
<path d="M232.2,172.8 235.1,176.6 236.8,175.3 233.9,171.5z" fill="#107194"/>
<path d="M70.5,151.4 73.7,149.6 75.4,148.4 72.2,150.3z" fill="#000000"/>
<path d="M217.1,154.7 220.0,158.0 221.8,156.6 218.8,153.3z" fill="#179a41"/>
<path d="M229.7,169.6 232.6,173.3 234.3,172.0 231.4,168.2z" fill="#128594"/>
<path d="M219.6,157.5 222.5,160.9 224.3,159.5 221.4,156.1z" fill="#169853"/>
<path d="M126.0,126.1 129.2,126.4 131.0,124.9 127.8,124.7z" fill="#171502"/>
<path d="M227.2,166.5 230.1,170.1 231.8,168.7 228.9,165.1z" fill="#13928d"/>
<path d="M222.1,160.4 225.1,163.9 226.8,162.5 223.9,159.0z" fill="#159666"/>
<path d="M224.7,163.4 227.6,167.0 229.3,165.6 226.4,162.0z" fill="#149479"/>
<path d="M176.1,127.9 179.1,129.8 181.0,128.4 177.9,126.4z" fill="#9b910d"/>
<path d="M185.5,131.7 188.6,133.9 190.4,132.5 187.3,130.3z" fill="#8d9b0e"/>
<path d="M197.5,138.5 200.5,141.2 202.3,139.7 199.3,137.1z" fill="#629c12"/>
<path d="M74.8,148.8 78.0,147.1 79.6,145.9 76.4,147.6z" fill="#000000"/>
<path d="M148.5,123.6 151.6,124.6 153.4,123.1 150.3,122.1z" fill="#906e0f"/>
<path d="M121.7,127.4 125.0,127.4 126.7,126.0 123.5,125.9z" fill="#080801"/>
<path d="M56.2,160.8 59.3,158.7 61.0,157.6 57.9,159.8z" fill="#000000"/>
<path d="M137.3,124.3 140.4,124.9 142.2,123.5 139.1,122.9z" fill="#574609"/>
<path d="M169.2,126.2 172.3,127.9 174.1,126.4 171.0,124.7z" fill="#9b850f"/>
<path d="M200.1,140.7 203.1,143.5 204.9,142.1 201.9,139.3z" fill="#559d13"/>
<path d="M79.0,146.3 82.2,144.8 83.9,143.5 80.7,145.1z" fill="#000000"/>
<path d="M155.4,124.0 158.5,125.2 160.4,123.8 157.2,122.6z" fill="#9b7710"/>
<path d="M162.3,124.9 165.4,126.4 167.2,124.9 164.1,123.4z" fill="#9b7c0f"/>
<path d="M188.1,133.5 191.2,135.9 193.0,134.5 189.9,132.1z" fill="#839c0f"/>
<path d="M117.5,128.7 120.7,128.6 122.4,127.2 119.2,127.3z" fill="#010100"/>
<path d="M178.7,129.4 181.8,131.5 183.6,130.0 180.5,128.0z" fill="#9b990d"/>
<path d="M202.7,143.1 205.7,145.9 207.5,144.5 204.5,141.6z" fill="#469d15"/>
<path d="M83.3,143.9 86.5,142.5 88.1,141.2 84.9,142.6z" fill="#000000"/>
<path d="M60.4,158.0 63.5,155.9 65.2,154.8 62.1,156.9z" fill="#000000"/>
<path d="M113.2,130.2 116.4,129.9 118.1,128.5 114.9,128.7z" fill="#000000"/>
<path d="M133.0,125.2 136.1,125.7 137.9,124.2 134.8,123.7z" fill="#403606"/>
<path d="M87.5,141.6 90.8,140.4 92.4,139.1 89.2,140.3z" fill="#000000"/>
<path d="M144.2,124.1 147.3,124.9 149.2,123.5 146.0,122.6z" fill="#81640d"/>
<path d="M205.3,145.5 208.3,148.4 210.1,147.0 207.1,144.0z" fill="#359d16"/>
<path d="M108.9,131.8 112.1,131.4 113.8,130.0 110.6,130.3z" fill="#000000"/>
<path d="M190.7,135.5 193.8,138.0 195.6,136.5 192.6,134.1z" fill="#789c10"/>
<path d="M91.8,139.4 95.0,138.3 96.7,137.0 93.4,138.0z" fill="#000000"/>
<path d="M240.7,187.5 243.5,191.6 245.2,190.3 242.4,186.2z" fill="#091f92"/>
<path d="M104.6,133.5 107.8,132.9 109.5,131.5 106.3,132.1z" fill="#000000"/>
<path d="M96.0,137.3 99.3,136.4 101.0,135.1 97.7,135.9z" fill="#000000"/>
<path d="M171.8,127.5 174.9,129.3 176.7,127.9 173.6,126.1z" fill="#9b8b0e"/>
<path d="M100.3,135.3 103.6,134.6 105.2,133.2 102.0,133.9z" fill="#000000"/>
<path d="M207.8,147.9 210.8,151.0 212.6,149.5 209.6,146.5z" fill="#249e18"/>
<path d="M64.6,155.2 67.8,153.3 69.4,152.2 66.3,154.1z" fill="#000000"/>
<path d="M238.2,184.1 241.0,188.1 242.7,186.7 239.9,182.7z" fill="#0b2f92"/>
<path d="M181.3,131.1 184.4,133.2 186.2,131.8 183.1,129.7z" fill="#949b0d"/>
<path d="M151.1,124.3 154.3,125.4 156.1,124.0 152.9,122.8z" fill="#997610"/>
<path d="M128.7,126.2 131.9,126.5 133.6,125.0 130.5,124.7z" fill="#2a2404"/>
<path d="M164.9,126.0 168.1,127.6 169.9,126.2 166.8,124.6z" fill="#9b810f"/>
<path d="M210.4,150.5 213.4,153.7 215.2,152.2 212.2,149.1z" fill="#189d1f"/>
<path d="M235.7,180.7 238.6,184.6 240.3,183.2 237.4,179.3z" fill="#0c4593"/>
<path d="M158.0,124.9 161.2,126.3 163.0,124.9 159.9,123.5z" fill="#9b7a10"/>
<path d="M193.3,137.5 196.4,140.1 198.2,138.7 195.2,136.1z" fill="#6c9c11"/>
<path d="M213.0,153.2 215.9,156.4 217.7,155.0 214.8,151.8z" fill="#189c30"/>
<path d="M233.2,177.3 236.1,181.2 237.8,179.8 234.9,175.9z" fill="#0e5b93"/>
<path d="M139.9,124.7 143.1,125.4 144.9,124.0 141.7,123.2z" fill="#6d570b"/>
<path d="M68.8,152.5 72.0,150.7 73.7,149.6 70.5,151.4z" fill="#000000"/>
<path d="M215.5,155.9 218.5,159.2 220.3,157.8 217.3,154.5z" fill="#179a42"/>
<path d="M230.7,174.0 233.6,177.8 235.3,176.5 232.4,172.7z" fill="#107094"/>
<path d="M218.1,158.8 221.0,162.1 222.8,160.7 219.8,157.3z" fill="#169854"/>
<path d="M228.2,170.8 231.1,174.5 232.8,173.2 229.9,169.4z" fill="#128594"/>
<path d="M124.4,127.3 127.6,127.5 129.3,126.0 126.1,125.8z" fill="#161402"/>
<path d="M220.6,161.7 223.6,165.1 225.3,163.7 222.4,160.2z" fill="#159667"/>
<path d="M225.7,167.7 228.6,171.3 230.3,169.9 227.4,166.3z" fill="#13928e"/>
<path d="M174.4,129.0 177.5,130.9 179.4,129.5 176.3,127.6z" fill="#9b930d"/>
<path d="M223.2,164.6 226.1,168.2 227.8,166.8 224.9,163.2z" fill="#14947a"/>
<path d="M183.9,132.8 187.0,135.1 188.8,133.7 185.7,131.4z" fill="#8b9b0e"/>
<path d="M195.9,139.7 199.0,142.3 200.8,140.9 197.7,138.3z" fill="#609c12"/>
<path d="M73.1,149.9 76.3,148.2 77.9,147.1 74.7,148.7z" fill="#000000"/>
<path d="M146.8,124.7 150.0,125.7 151.8,124.2 148.6,123.2z" fill="#906f0f"/>
<path d="M120.1,128.5 123.3,128.5 125.0,127.1 121.8,127.0z" fill="#070701"/>
<path d="M135.6,125.4 138.8,126.0 140.6,124.6 137.4,124.0z" fill="#574708"/>
<path d="M167.6,127.3 170.7,129.0 172.5,127.6 169.4,125.9z" fill="#9b870e"/>
<path d="M198.5,141.9 201.6,144.7 203.4,143.2 200.3,140.5z" fill="#539d13"/>
<path d="M77.3,147.4 80.5,145.9 82.2,144.7 79.0,146.2z" fill="#000000"/>
<path d="M153.8,125.1 156.9,126.4 158.7,124.9 155.6,123.7z" fill="#9b7910"/>
<path d="M160.7,126.0 163.8,127.5 165.6,126.0 162.5,124.6z" fill="#9b7e0f"/>
<path d="M186.5,134.7 189.6,137.1 191.4,135.6 188.4,133.3z" fill="#819c0f"/>
<path d="M115.8,129.8 119.0,129.7 120.8,128.3 117.5,128.4z" fill="#000000"/>
<path d="M177.1,130.6 180.2,132.6 182.0,131.2 178.9,129.1z" fill="#9b9b0c"/>
<path d="M81.6,145.0 84.8,143.6 86.4,142.4 83.2,143.7z" fill="#000000"/>
<path d="M201.1,144.2 204.1,147.1 205.9,145.7 202.9,142.8z" fill="#449d15"/>
<path d="M111.5,131.3 114.7,131.1 116.5,129.6 113.2,129.9z" fill="#000000"/>
<path d="M58.7,159.1 61.8,157.0 63.5,155.9 60.4,158.0z" fill="#000000"/>
<path d="M85.8,142.7 89.1,141.5 90.7,140.2 87.5,141.4z" fill="#000000"/>
<path d="M131.3,126.3 134.5,126.8 136.3,125.3 133.1,124.8z" fill="#3f3606"/>
<path d="M142.5,125.2 145.7,126.1 147.5,124.6 144.4,123.7z" fill="#80650d"/>
<path d="M107.2,132.9 110.4,132.5 112.2,131.1 108.9,131.5z" fill="#000000"/>
<path d="M203.7,146.7 206.7,149.6 208.5,148.2 205.5,145.2z" fill="#339d16"/>
<path d="M90.1,140.5 93.4,139.4 95.0,138.1 91.7,139.2z" fill="#000000"/>
<path d="M189.2,136.7 192.2,139.1 194.0,137.7 191.0,135.2z" fill="#769c10"/>
<path d="M102.9,134.6 106.2,134.1 107.9,132.6 104.6,133.2z" fill="#000000"/>
<path d="M94.4,138.4 97.6,137.5 99.3,136.2 96.0,137.1z" fill="#000000"/>
<path d="M98.6,136.5 101.9,135.7 103.6,134.3 100.3,135.1z" fill="#000000"/>
<path d="M170.2,128.6 173.3,130.5 175.1,129.0 172.0,127.2z" fill="#9b8d0e"/>
<path d="M239.2,188.7 242.1,192.7 243.7,191.4 240.9,187.4z" fill="#091f92"/>
<path d="M206.3,149.1 209.3,152.2 211.1,150.8 208.1,147.7z" fill="#229e18"/>
<path d="M62.9,156.3 66.1,154.4 67.7,153.3 64.6,155.2z" fill="#000000"/>
<path d="M179.7,132.2 182.8,134.4 184.6,133.0 181.5,130.8z" fill="#939b0d"/>
<path d="M149.5,125.4 152.6,126.5 154.4,125.1 151.3,123.9z" fill="#99770f"/>
<path d="M236.7,185.2 239.6,189.2 241.3,187.9 238.4,183.9z" fill="#0b2f92"/>
<path d="M127.0,127.3 130.2,127.6 132.0,126.1 128.8,125.8z" fill="#292404"/>
<path d="M163.3,127.1 166.4,128.7 168.3,127.3 165.1,125.7z" fill="#9b830f"/>
<path d="M208.9,151.7 211.9,154.9 213.6,153.4 210.7,150.3z" fill="#189d20"/>
<path d="M156.4,126.0 159.5,127.4 161.4,126.0 158.2,124.6z" fill="#9b7c0f"/>
<path d="M191.8,138.7 194.8,141.3 196.6,139.9 193.6,137.3z" fill="#6b9c11"/>
<path d="M234.2,181.8 237.1,185.8 238.8,184.4 235.9,180.5z" fill="#0c4593"/>
<path d="M211.4,154.4 214.4,157.6 216.2,156.2 213.2,153.0z" fill="#189c31"/>
<path d="M138.2,125.8 141.4,126.5 143.2,125.1 140.1,124.3z" fill="#6d580b"/>
<path d="M67.2,153.6 70.3,151.8 72.0,150.7 68.8,152.5z" fill="#000000"/>
<path d="M231.7,178.5 234.6,182.4 236.3,181.0 233.5,177.1z" fill="#0e5b93"/>
<path d="M214.0,157.1 217.0,160.4 218.7,159.0 215.8,155.7z" fill="#179a43"/>
<path d="M229.2,175.2 232.1,179.0 233.8,177.6 230.9,173.9z" fill="#107094"/>
<path d="M122.7,128.4 125.9,128.6 127.7,127.1 124.5,126.9z" fill="#151402"/>
<path d="M216.6,160.0 219.5,163.4 221.3,161.9 218.3,158.6z" fill="#169855"/>
<path d="M226.7,172.0 229.6,175.7 231.3,174.4 228.4,170.7z" fill="#128494"/>
<path d="M219.1,162.9 222.0,166.3 223.8,164.9 220.9,161.5z" fill="#159667"/>
<path d="M172.8,130.1 175.9,132.1 177.8,130.6 174.7,128.7z" fill="#9b940d"/>
<path d="M224.2,168.9 227.1,172.5 228.8,171.1 225.9,167.5z" fill="#13928e"/>
<path d="M182.3,134.0 185.4,136.3 187.2,134.8 184.2,132.6z" fill="#899b0e"/>
<path d="M221.6,165.9 224.6,169.4 226.3,168.0 223.4,164.5z" fill="#14947b"/>
<path d="M194.4,140.9 197.4,143.5 199.2,142.1 196.2,139.4z" fill="#5f9c12"/>
<path d="M71.4,151.0 74.6,149.3 76.2,148.2 73.0,149.9z" fill="#000000"/>
<path d="M145.2,125.8 148.4,126.8 150.2,125.3 147.0,124.3z" fill="#8f710e"/>
<path d="M118.4,129.6 121.6,129.6 123.4,128.2 120.2,128.1z" fill="#070701"/>
<path d="M133.9,126.5 137.1,127.1 138.9,125.7 135.7,125.1z" fill="#564708"/>
<path d="M166.0,128.4 169.1,130.1 170.9,128.7 167.8,127.0z" fill="#9b880e"/>
<path d="M197.0,143.1 200.0,145.9 201.8,144.4 198.8,141.7z" fill="#529d13"/>
<path d="M75.6,148.5 78.9,147.0 80.5,145.8 77.3,147.3z" fill="#000000"/>
<path d="M152.1,126.2 155.3,127.5 157.1,126.0 153.9,124.8z" fill="#9b7b0f"/>
<path d="M159.0,127.1 162.2,128.6 164.0,127.2 160.9,125.7z" fill="#9b800f"/>
<path d="M185.0,135.9 188.0,138.2 189.8,136.8 186.8,134.4z" fill="#7f9c0f"/>
<path d="M114.1,130.9 117.4,130.8 119.1,129.4 115.9,129.5z" fill="#000000"/>
<path d="M175.5,131.7 178.6,133.7 180.4,132.3 177.3,130.3z" fill="#999b0d"/>
<path d="M79.9,146.1 83.1,144.7 84.8,143.5 81.5,144.9z" fill="#000000"/>
<path d="M199.6,145.4 202.6,148.3 204.4,146.9 201.4,144.0z" fill="#429d15"/>
<path d="M109.8,132.4 113.1,132.2 114.8,130.7 111.6,131.0z" fill="#000000"/>
<path d="M84.1,143.8 87.4,142.6 89.0,141.3 85.8,142.5z" fill="#000000"/>
<path d="M129.7,127.4 132.9,127.9 134.6,126.4 131.4,125.9z" fill="#3e3606"/>
<path d="M140.9,126.3 144.1,127.2 145.9,125.7 142.7,124.8z" fill="#80660d"/>
<path d="M105.5,134.0 108.8,133.6 110.5,132.2 107.2,132.6z" fill="#000000"/>
<path d="M202.2,147.8 205.2,150.8 207.0,149.4 204.0,146.4z" fill="#329d16"/>
<path d="M88.4,141.6 91.7,140.5 93.3,139.2 90.1,140.3z" fill="#000000"/>
<path d="M187.6,137.8 190.6,140.3 192.4,138.9 189.4,136.4z" fill="#759c10"/>
<path d="M101.2,135.7 104.5,135.2 106.2,133.8 102.9,134.3z" fill="#000000"/>
<path d="M92.7,139.5 95.9,138.6 97.6,137.3 94.3,138.2z" fill="#000000"/>
<path d="M97.0,137.6 100.2,136.8 101.9,135.5 98.6,136.2z" fill="#000000"/>
<path d="M168.6,129.8 171.7,131.6 173.5,130.2 170.4,128.3z" fill="#9b8f0e"/>
<path d="M204.7,150.3 207.7,153.4 209.5,152.0 206.5,148.9z" fill="#219e18"/>
<path d="M61.2,157.4 64.4,155.4 66.1,154.3 62.9,156.3z" fill="#000000"/>
<path d="M237.7,189.9 240.6,193.9 242.3,192.6 239.4,188.5z" fill="#091f92"/>
<path d="M178.1,133.4 181.2,135.5 183.0,134.1 179.9,131.9z" fill="#919b0d"/>
<path d="M147.8,126.5 151.0,127.6 152.8,126.2 149.7,125.1z" fill="#99790f"/>
<path d="M125.4,128.4 128.6,128.7 130.3,127.3 127.1,126.9z" fill="#282404"/>
<path d="M161.7,128.3 164.8,129.9 166.7,128.4 163.5,126.8z" fill="#9b850f"/>
<path d="M235.3,186.4 238.1,190.4 239.8,189.1 237.0,185.1z" fill="#0b2f92"/>
<path d="M207.3,152.9 210.3,156.1 212.1,154.6 209.1,151.5z" fill="#189d21"/>
<path d="M154.8,127.2 157.9,128.5 159.7,127.1 156.6,125.7z" fill="#9b7e0f"/>
<path d="M190.2,139.9 193.2,142.5 195.0,141.0 192.0,138.5z" fill="#699c11"/>
<path d="M232.8,183.0 235.6,186.9 237.3,185.6 234.5,181.7z" fill="#0c4593"/>
<path d="M209.9,155.6 212.9,158.8 214.7,157.4 211.7,154.2z" fill="#189c32"/>
<path d="M136.6,126.9 139.8,127.6 141.6,126.2 138.4,125.5z" fill="#6c590b"/>
<path d="M65.5,154.7 68.6,152.9 70.3,151.8 67.1,153.6z" fill="#000000"/>
<path d="M230.2,179.7 233.1,183.5 234.8,182.2 232.0,178.3z" fill="#0e5a93"/>
<path d="M212.5,158.4 215.4,161.7 217.2,160.2 214.2,156.9z" fill="#179a44"/>
<path d="M121.1,129.5 124.3,129.7 126.0,128.2 122.8,128.0z" fill="#141302"/>
<path d="M227.7,176.5 230.6,180.2 232.4,178.8 229.5,175.1z" fill="#106f94"/>
<path d="M215.0,161.2 218.0,164.6 219.7,163.2 216.8,159.8z" fill="#169856"/>
<path d="M225.2,173.3 228.1,177.0 229.8,175.6 226.9,171.9z" fill="#118494"/>
<path d="M171.2,131.2 174.3,133.2 176.2,131.8 173.1,129.8z" fill="#9b960d"/>
<path d="M217.6,164.1 220.5,167.6 222.3,166.1 219.3,162.7z" fill="#159668"/>
<path d="M180.7,135.1 183.8,137.4 185.6,136.0 182.6,133.7z" fill="#889b0e"/>
<path d="M192.8,142.0 195.8,144.7 197.6,143.3 194.6,140.6z" fill="#5d9c12"/>
<path d="M222.7,170.1 225.6,173.8 227.3,172.4 224.4,168.7z" fill="#13928f"/>
<path d="M220.1,167.1 223.1,170.6 224.8,169.2 221.9,165.7z" fill="#14947b"/>
<path d="M69.7,152.1 72.9,150.4 74.6,149.3 71.4,151.0z" fill="#000000"/>
<path d="M143.5,126.9 146.7,127.9 148.5,126.4 145.4,125.4z" fill="#8f730e"/>
<path d="M116.8,130.7 120.0,130.7 121.7,129.3 118.5,129.2z" fill="#060600"/>
<path d="M132.3,127.6 135.5,128.2 137.3,126.8 134.1,126.2z" fill="#554808"/>
<path d="M164.3,129.5 167.5,131.2 169.3,129.8 166.2,128.1z" fill="#9b8a0e"/>
<path d="M195.4,144.3 198.4,147.1 200.2,145.6 197.2,142.9z" fill="#509d14"/>
<path d="M73.9,149.6 77.2,148.1 78.8,146.9 75.6,148.4z" fill="#000000"/>
<path d="M150.5,127.3 153.6,128.6 155.5,127.1 152.3,125.9z" fill="#9b7d0f"/>
<path d="M157.4,128.2 160.6,129.7 162.4,128.3 159.2,126.8z" fill="#9b820f"/>
<path d="M183.4,137.0 186.4,139.4 188.3,138.0 185.2,135.6z" fill="#7e9c0f"/>
<path d="M112.5,132.0 115.7,131.9 117.4,130.5 114.2,130.6z" fill="#000000"/>
<path d="M78.2,147.2 81.4,145.8 83.1,144.6 79.8,146.0z" fill="#000000"/>
<path d="M173.9,132.8 177.0,134.9 178.8,133.5 175.7,131.4z" fill="#989b0d"/>
<path d="M198.0,146.6 201.0,149.5 202.8,148.1 199.8,145.2z" fill="#419d15"/>
<path d="M108.2,133.5 111.4,133.3 113.1,131.8 109.9,132.1z" fill="#000000"/>
<path d="M82.5,144.9 85.7,143.7 87.4,142.4 84.1,143.6z" fill="#000000"/>
<path d="M128.0,128.5 131.2,129.0 133.0,127.5 129.8,127.0z" fill="#3e3606"/>
<path d="M103.9,135.1 107.1,134.7 108.8,133.3 105.6,133.7z" fill="#000000"/>
<path d="M139.2,127.4 142.4,128.3 144.2,126.8 141.1,125.9z" fill="#80680d"/>
<path d="M86.7,142.7 90.0,141.6 91.6,140.3 88.4,141.4z" fill="#000000"/>
<path d="M200.6,149.0 203.6,152.0 205.4,150.6 202.4,147.6z" fill="#319e17"/>
<path d="M186.0,139.0 189.1,141.5 190.9,140.0 187.8,137.6z" fill="#739c10"/>
<path d="M99.6,136.8 102.8,136.3 104.5,134.9 101.3,135.4z" fill="#000000"/>
<path d="M91.0,140.6 94.3,139.7 95.9,138.4 92.7,139.3z" fill="#000000"/>
<path d="M95.3,138.7 98.6,137.9 100.2,136.6 97.0,137.3z" fill="#000000"/>
<path d="M167.0,130.9 170.1,132.7 171.9,131.3 168.8,129.5z" fill="#9b910d"/>
<path d="M203.2,151.5 206.2,154.6 208.0,153.2 205.0,150.1z" fill="#209e18"/>
<path d="M176.5,134.5 179.6,136.7 181.4,135.3 178.3,133.1z" fill="#8f9b0e"/>
<path d="M146.2,127.6 149.4,128.7 151.2,127.3 148.0,126.2z" fill="#997b0f"/>
<path d="M236.3,191.0 239.1,195.0 240.8,193.7 238.0,189.7z" fill="#091f92"/>
<path d="M123.7,129.5 126.9,129.8 128.7,128.4 125.5,128.0z" fill="#272303"/>
<path d="M160.1,129.4 163.2,131.0 165.0,129.6 161.9,127.9z" fill="#9b860e"/>
<path d="M205.8,154.1 208.8,157.3 210.6,155.8 207.6,152.7z" fill="#189d23"/>
<path d="M153.1,128.3 156.3,129.6 158.1,128.2 155.0,126.8z" fill="#9b800f"/>
<path d="M188.6,141.1 191.7,143.6 193.5,142.2 190.4,139.6z" fill="#679c11"/>
<path d="M233.8,187.6 236.7,191.5 238.3,190.2 235.5,186.2z" fill="#0b2f92"/>
<path d="M208.4,156.8 211.4,160.0 213.1,158.6 210.1,155.4z" fill="#179b33"/>
<path d="M135.0,128.0 138.1,128.7 139.9,127.3 136.8,126.6z" fill="#6c590a"/>
<path d="M63.8,155.8 66.9,154.0 68.6,152.9 65.4,154.7z" fill="#000000"/>
<path d="M231.3,184.2 234.2,188.1 235.9,186.8 233.0,182.9z" fill="#0c4593"/>
<path d="M210.9,159.6 213.9,162.9 215.7,161.5 212.7,158.2z" fill="#179a45"/>
<path d="M228.8,180.9 231.7,184.7 233.4,183.4 230.5,179.5z" fill="#0e5a93"/>
<path d="M119.4,130.6 122.6,130.8 124.4,129.3 121.2,129.1z" fill="#131302"/>
<path d="M213.5,162.4 216.5,165.8 218.2,164.4 215.3,161.0z" fill="#169857"/>
<path d="M226.2,177.7 229.1,181.4 230.9,180.0 228.0,176.3z" fill="#106f94"/>
<path d="M169.6,132.4 172.7,134.3 174.6,132.9 171.5,131.0z" fill="#9b980d"/>
<path d="M179.1,136.3 182.2,138.6 184.1,137.1 181.0,134.9z" fill="#869b0e"/>
<path d="M223.7,174.5 226.6,178.2 228.4,176.8 225.4,173.1z" fill="#118394"/>
<path d="M216.1,165.3 219.0,168.8 220.8,167.4 217.8,163.9z" fill="#159669"/>
<path d="M191.2,143.2 194.3,145.9 196.1,144.5 193.0,141.8z" fill="#5b9d12"/>
<path d="M221.2,171.4 224.1,175.0 225.8,173.6 222.9,169.9z" fill="#13928f"/>
<path d="M218.6,168.3 221.6,171.8 223.3,170.4 220.4,166.9z" fill="#14947c"/>
<path d="M68.0,153.2 71.2,151.5 72.9,150.4 69.7,152.1z" fill="#000000"/>
<path d="M141.9,128.0 145.1,129.0 146.9,127.5 143.7,126.5z" fill="#8f740e"/>
<path d="M115.1,131.8 118.3,131.8 120.1,130.4 116.8,130.4z" fill="#060600"/>
<path d="M130.6,128.7 133.8,129.3 135.6,127.9 132.4,127.3z" fill="#554808"/>
<path d="M162.7,130.6 165.9,132.4 167.7,130.9 164.6,129.2z" fill="#9b8c0e"/>
<path d="M193.8,145.5 196.9,148.2 198.7,146.8 195.6,144.0z" fill="#4e9d14"/>
<path d="M72.3,150.7 75.5,149.2 77.1,148.0 73.9,149.5z" fill="#000000"/>
<path d="M148.9,128.4 152.0,129.7 153.8,128.2 150.7,127.0z" fill="#9b7f0f"/>
<path d="M155.8,129.3 158.9,130.8 160.8,129.4 157.6,127.9z" fill="#9b840f"/>
<path d="M110.8,133.1 114.0,133.0 115.8,131.6 112.5,131.7z" fill="#000000"/>
<path d="M181.8,138.2 184.9,140.6 186.7,139.1 183.6,136.7z" fill="#7c9c0f"/>
<path d="M76.5,148.3 79.8,146.9 81.4,145.7 78.2,147.1z" fill="#000000"/>
<path d="M172.3,134.0 175.4,136.0 177.2,134.6 174.1,132.5z" fill="#969b0d"/>
<path d="M196.4,147.8 199.5,150.7 201.3,149.2 198.2,146.4z" fill="#3f9d15"/>
<path d="M106.5,134.6 109.7,134.4 111.5,132.9 108.2,133.2z" fill="#000000"/>
<path d="M80.8,146.0 84.0,144.8 85.7,143.5 82.4,144.7z" fill="#000000"/>
<path d="M126.3,129.6 129.6,130.1 131.3,128.6 128.1,128.1z" fill="#3d3606"/>
<path d="M102.2,136.2 105.4,135.8 107.1,134.4 103.9,134.8z" fill="#000000"/>
<path d="M137.6,128.5 140.8,129.4 142.6,127.9 139.4,127.0z" fill="#80690c"/>
<path d="M85.1,143.8 88.3,142.7 90.0,141.4 86.7,142.5z" fill="#000000"/>
<path d="M199.1,150.2 202.1,153.2 203.9,151.8 200.8,148.8z" fill="#2f9e17"/>
<path d="M97.9,137.9 101.2,137.4 102.8,136.0 99.6,136.5z" fill="#000000"/>
<path d="M184.4,140.1 187.5,142.6 189.3,141.2 186.2,138.7z" fill="#719c10"/>
<path d="M89.3,141.7 92.6,140.8 94.3,139.5 91.0,140.4z" fill="#000000"/>
<path d="M93.6,139.8 96.9,139.0 98.5,137.7 95.3,138.4z" fill="#000000"/>
<path d="M165.4,132.0 168.5,133.9 170.3,132.4 167.2,130.6z" fill="#9b920d"/>
<path d="M201.6,152.8 204.7,155.8 206.4,154.4 203.4,151.3z" fill="#1e9e18"/>
<path d="M174.9,135.6 178.0,137.8 179.8,136.4 176.7,134.2z" fill="#8e9b0e"/>
<path d="M144.6,128.7 147.7,129.8 149.6,128.4 146.4,127.3z" fill="#997d0f"/>
<path d="M122.0,130.6 125.3,130.9 127.0,129.5 123.8,129.1z" fill="#262303"/>
<path d="M234.8,192.2 237.7,196.2 239.4,194.8 236.5,190.9z" fill="#091f92"/>
<path d="M158.5,130.5 161.6,132.1 163.4,130.7 160.3,129.1z" fill="#9b880e"/>
<path d="M204.2,155.4 207.2,158.5 209.0,157.1 206.0,153.9z" fill="#189d24"/>
<path d="M151.5,129.4 154.7,130.7 156.5,129.3 153.3,127.9z" fill="#9b820f"/>
<path d="M187.0,142.2 190.1,144.8 191.9,143.4 188.8,140.8z" fill="#669c11"/>
<path d="M232.3,188.8 235.2,192.7 236.9,191.4 234.0,187.4z" fill="#0b2f92"/>
<path d="M133.3,129.1 136.5,129.8 138.3,128.4 135.1,127.7z" fill="#6b5a0a"/>
<path d="M206.8,158.0 209.8,161.3 211.6,159.8 208.6,156.6z" fill="#179b34"/>
<path d="M229.8,185.4 232.7,189.3 234.4,187.9 231.5,184.1z" fill="#0c4493"/>
<path d="M209.4,160.8 212.4,164.1 214.2,162.7 211.2,159.4z" fill="#179a46"/>
<path d="M117.7,131.7 121.0,131.8 122.7,130.4 119.5,130.2z" fill="#131202"/>
<path d="M227.3,182.1 230.2,185.9 231.9,184.6 229.0,180.7z" fill="#0e5a93"/>
<path d="M212.0,163.6 215.0,167.0 216.7,165.6 213.7,162.2z" fill="#169857"/>
<path d="M224.7,178.9 227.7,182.6 229.4,181.2 226.5,177.5z" fill="#106e94"/>
<path d="M168.0,133.5 171.1,135.5 173.0,134.0 169.9,132.1z" fill="#9b9a0d"/>
<path d="M177.6,137.4 180.7,139.7 182.5,138.3 179.4,136.0z" fill="#849c0f"/>
<path d="M189.7,144.4 192.7,147.1 194.5,145.6 191.5,143.0z" fill="#5a9d13"/>
<path d="M214.5,166.5 217.5,170.0 219.3,168.6 216.3,165.1z" fill="#15966a"/>
<path d="M222.2,175.7 225.1,179.4 226.9,178.0 223.9,174.3z" fill="#118394"/>
<path d="M217.1,169.5 220.1,173.1 221.8,171.6 218.9,168.1z" fill="#14947d"/>
<path d="M219.7,172.6 222.6,176.2 224.3,174.8 221.4,171.2z" fill="#139290"/>
<path d="M66.3,154.3 69.5,152.6 71.2,151.5 68.0,153.2z" fill="#000000"/>
<path d="M140.3,129.1 143.4,130.1 145.3,128.6 142.1,127.6z" fill="#8f760e"/>
<path d="M113.4,132.9 116.7,132.9 118.4,131.5 115.2,131.5z" fill="#050500"/>
<path d="M129.0,129.8 132.2,130.4 134.0,129.0 130.8,128.4z" fill="#544908"/>
<path d="M161.1,131.8 164.2,133.5 166.1,132.1 162.9,130.3z" fill="#9b8e0e"/>
<path d="M70.6,151.8 73.8,150.2 75.4,149.1 72.2,150.6z" fill="#000000"/>
<path d="M192.3,146.6 195.3,149.4 197.1,148.0 194.1,145.2z" fill="#4d9d14"/>
<path d="M147.2,129.5 150.4,130.8 152.2,129.4 149.0,128.1z" fill="#9b810f"/>
<path d="M109.1,134.2 112.4,134.1 114.1,132.7 110.9,132.8z" fill="#000000"/>
<path d="M154.2,130.4 157.3,131.9 159.2,130.5 156.0,129.0z" fill="#9b850e"/>
<path d="M180.2,139.3 183.3,141.7 185.1,140.3 182.0,137.9z" fill="#7a9c0f"/>
<path d="M74.8,149.4 78.1,148.0 79.7,146.8 76.5,148.2z" fill="#000000"/>
<path d="M170.7,135.1 173.8,137.2 175.6,135.7 172.5,133.7z" fill="#949b0d"/>
<path d="M194.9,149.0 197.9,151.9 199.7,150.4 196.7,147.6z" fill="#3e9d15"/>
<path d="M104.8,135.7 108.1,135.4 109.8,134.0 106.5,134.3z" fill="#000000"/>
<path d="M79.1,147.1 82.4,145.9 84.0,144.6 80.7,145.8z" fill="#000000"/>
<path d="M124.7,130.7 127.9,131.1 129.7,129.7 126.5,129.2z" fill="#3c3605"/>
<path d="M100.5,137.3 103.8,136.9 105.5,135.5 102.2,135.9z" fill="#000000"/>
<path d="M136.0,129.6 139.2,130.4 141.0,129.0 137.8,128.1z" fill="#806b0c"/>
<path d="M83.4,144.9 86.6,143.8 88.3,142.5 85.0,143.6z" fill="#000000"/>
<path d="M197.5,151.4 200.5,154.4 202.3,153.0 199.3,150.0z" fill="#2e9e17"/>
<path d="M96.2,139.0 99.5,138.4 101.2,137.1 97.9,137.6z" fill="#000000"/>
<path d="M87.7,142.8 90.9,141.9 92.6,140.6 89.3,141.5z" fill="#000000"/>
<path d="M182.8,141.3 185.9,143.8 187.7,142.4 184.6,139.9z" fill="#709c11"/>
<path d="M91.9,140.9 95.2,140.1 96.9,138.8 93.6,139.5z" fill="#000000"/>
<path d="M163.8,133.1 166.9,135.0 168.7,133.6 165.6,131.7z" fill="#9b940d"/>
<path d="M200.1,154.0 203.1,157.0 204.9,155.6 201.9,152.5z" fill="#1d9e18"/>
<path d="M173.3,136.8 176.4,139.0 178.2,137.5 175.1,135.4z" fill="#8c9b0e"/>
<path d="M142.9,129.8 146.1,130.9 147.9,129.5 144.7,128.4z" fill="#997f0f"/>
<path d="M120.4,131.7 123.6,132.0 125.4,130.5 122.2,130.2z" fill="#252303"/>
<path d="M156.8,131.6 160.0,133.2 161.8,131.8 158.7,130.2z" fill="#9b8a0e"/>
<path d="M202.7,156.6 205.7,159.7 207.5,158.3 204.5,155.1z" fill="#189d25"/>
<path d="M149.9,130.5 153.0,131.9 154.9,130.4 151.7,129.1z" fill="#9b830f"/>
<path d="M185.5,143.4 188.5,146.0 190.3,144.6 187.3,142.0z" fill="#649c12"/>
<path d="M233.3,193.3 236.2,197.3 237.9,196.0 235.0,192.0z" fill="#091f92"/>
<path d="M131.7,130.2 134.9,130.9 136.7,129.5 133.5,128.8z" fill="#6b5b0a"/>
<path d="M205.3,159.2 208.3,162.5 210.1,161.0 207.1,157.8z" fill="#179b35"/>
<path d="M230.8,190.0 233.7,193.9 235.4,192.5 232.5,188.6z" fill="#0b2f92"/>
<path d="M228.3,186.6 231.2,190.5 232.9,189.1 230.0,185.2z" fill="#0c4493"/>
<path d="M207.9,162.0 210.9,165.3 212.6,163.9 209.6,160.6z" fill="#179a47"/>
<path d="M116.1,132.8 119.3,132.9 121.1,131.5 117.8,131.3z" fill="#121101"/>
<path d="M225.8,183.3 228.7,187.1 230.4,185.7 227.5,181.9z" fill="#0e5993"/>
<path d="M210.5,164.8 213.4,168.2 215.2,166.8 212.2,163.4z" fill="#169858"/>
<path d="M166.4,134.6 169.5,136.6 171.4,135.2 168.2,133.2z" fill="#9b9b0c"/>
<path d="M176.0,138.6 179.1,140.9 180.9,139.4 177.8,137.2z" fill="#839c0f"/>
<path d="M188.1,145.6 191.2,148.3 193.0,146.8 189.9,144.1z" fill="#589d13"/>
<path d="M223.2,180.1 226.2,183.8 227.9,182.4 225.0,178.7z" fill="#106e94"/>
<path d="M213.0,167.8 216.0,171.2 217.7,169.8 214.8,166.3z" fill="#15966a"/>
<path d="M220.7,176.9 223.6,180.6 225.4,179.2 222.4,175.5z" fill="#118294"/>
<path d="M215.6,170.7 218.6,174.3 220.3,172.9 217.3,169.3z" fill="#14947d"/>
<path d="M218.2,173.8 221.1,177.4 222.8,176.0 219.9,172.4z" fill="#139291"/>
<path d="M138.6,130.2 141.8,131.2 143.6,129.7 140.4,128.7z" fill="#8f780e"/>
<path d="M111.8,134.0 115.0,134.0 116.7,132.6 113.5,132.6z" fill="#040500"/>
<path d="M127.3,130.9 130.6,131.5 132.3,130.1 129.1,129.5z" fill="#544908"/>
<path d="M68.9,152.9 72.1,151.3 73.8,150.2 70.5,151.7z" fill="#000000"/>
<path d="M159.5,132.9 162.6,134.6 164.5,133.2 161.3,131.5z" fill="#9b900d"/>
<path d="M190.7,147.8 193.8,150.6 195.6,149.2 192.5,146.4z" fill="#4b9d14"/>
<path d="M145.6,130.6 148.8,131.9 150.6,130.5 147.4,129.2z" fill="#9b820f"/>
<path d="M107.5,135.3 110.7,135.2 112.4,133.8 109.2,133.9z" fill="#000000"/>
<path d="M152.5,131.5 155.7,133.0 157.5,131.6 154.4,130.1z" fill="#9b870e"/>
<path d="M178.6,140.5 181.7,142.9 183.5,141.4 180.4,139.1z" fill="#799c10"/>
<path d="M73.1,150.5 76.4,149.1 78.0,147.9 74.8,149.3z" fill="#000000"/>
<path d="M169.1,136.2 172.2,138.3 174.0,136.9 170.9,134.8z" fill="#939b0d"/>
<path d="M193.3,150.2 196.4,153.1 198.2,151.6 195.1,148.8z" fill="#3c9d15"/>
<path d="M103.2,136.8 106.4,136.5 108.1,135.1 104.9,135.4z" fill="#000000"/>
<path d="M77.4,148.2 80.7,146.9 82.3,145.7 79.1,146.9z" fill="#000000"/>
<path d="M123.0,131.8 126.3,132.2 128.0,130.8 124.8,130.3z" fill="#3b3605"/>
<path d="M98.9,138.4 102.1,138.0 103.8,136.6 100.6,137.0z" fill="#000000"/>
<path d="M81.7,146.0 85.0,144.9 86.6,143.6 83.3,144.7z" fill="#000000"/>
<path d="M134.3,130.7 137.5,131.5 139.3,130.1 136.1,129.2z" fill="#806c0c"/>
<path d="M195.9,152.6 199.0,155.6 200.8,154.2 197.7,151.2z" fill="#2c9e17"/>
<path d="M94.6,140.1 97.8,139.5 99.5,138.2 96.2,138.7z" fill="#000000"/>
<path d="M86.0,143.9 89.2,143.0 90.9,141.7 87.6,142.6z" fill="#000000"/>
<path d="M90.3,142.0 93.5,141.2 95.2,139.9 91.9,140.6z" fill="#000000"/>
<path d="M181.2,142.5 184.3,145.0 186.1,143.5 183.1,141.0z" fill="#6e9c11"/>
<path d="M162.2,134.3 165.3,136.1 167.1,134.7 164.0,132.8z" fill="#9b960d"/>
<path d="M198.6,155.2 201.6,158.2 203.4,156.8 200.3,153.7z" fill="#1c9e19"/>
<path d="M171.7,137.9 174.8,140.1 176.7,138.7 173.5,136.5z" fill="#8a9b0e"/>
<path d="M141.3,130.9 144.5,132.0 146.3,130.6 143.1,129.5z" fill="#99800f"/>
<path d="M118.7,132.8 121.9,133.1 123.7,131.6 120.5,131.3z" fill="#242203"/>
<path d="M155.2,132.7 158.4,134.3 160.2,132.9 157.0,131.3z" fill="#9b8c0e"/>
<path d="M201.2,157.8 204.2,160.9 205.9,159.5 202.9,156.3z" fill="#189d26"/>
<path d="M148.3,131.6 151.4,133.0 153.2,131.5 150.1,130.2z" fill="#9b850e"/>
<path d="M183.9,144.5 187.0,147.2 188.8,145.7 185.7,143.1z" fill="#639c12"/>
<path d="M231.9,194.5 234.8,198.4 236.5,197.1 233.6,193.2z" fill="#091f92"/>
<path d="M130.0,131.3 133.2,132.0 135.0,130.6 131.8,129.8z" fill="#6b5c0a"/>
<path d="M203.8,160.5 206.8,163.7 208.5,162.3 205.5,159.0z" fill="#179b36"/>
<path d="M229.4,191.1 232.3,195.0 234.0,193.7 231.1,189.8z" fill="#0b2f92"/>
<path d="M114.4,133.9 117.6,134.0 119.4,132.6 116.2,132.4z" fill="#111101"/>
<path d="M206.3,163.2 209.3,166.5 211.1,165.1 208.1,161.8z" fill="#169947"/>
<path d="M226.8,187.8 229.7,191.6 231.4,190.3 228.5,186.4z" fill="#0c4493"/>
<path d="M208.9,166.1 211.9,169.5 213.7,168.0 210.7,164.6z" fill="#169859"/>
<path d="M224.3,184.5 227.2,188.3 228.9,186.9 226.0,183.1z" fill="#0e5993"/>
<path d="M164.8,135.7 167.9,137.7 169.8,136.3 166.6,134.3z" fill="#999b0d"/>
<path d="M174.4,139.7 177.5,142.0 179.3,140.6 176.2,138.3z" fill="#819c0f"/>
<path d="M186.5,146.7 189.6,149.4 191.4,148.0 188.3,145.3z" fill="#579d13"/>
<path d="M211.5,169.0 214.5,172.4 216.2,171.0 213.3,167.6z" fill="#15966b"/>
<path d="M221.8,181.3 224.7,185.0 226.4,183.6 223.5,179.9z" fill="#106e94"/>
<path d="M214.1,172.0 217.0,175.5 218.8,174.1 215.8,170.5z" fill="#14947e"/>
<path d="M219.2,178.1 222.1,181.8 223.9,180.4 220.9,176.7z" fill="#118294"/>
<path d="M216.6,175.0 219.6,178.6 221.3,177.2 218.4,173.6z" fill="#139291"/>
<path d="M110.1,135.1 113.3,135.1 115.1,133.7 111.8,133.6z" fill="#040400"/>
<path d="M137.0,131.3 140.2,132.3 142.0,130.8 138.8,129.8z" fill="#8f790e"/>
<path d="M125.7,132.0 128.9,132.6 130.7,131.2 127.5,130.6z" fill="#534a08"/>
<path d="M157.9,134.0 161.0,135.7 162.9,134.3 159.7,132.6z" fill="#9b910d"/>
<path d="M189.1,149.0 192.2,151.8 194.0,150.4 190.9,147.6z" fill="#4a9d14"/>
<path d="M144.0,131.7 147.1,133.0 149.0,131.6 145.8,130.3z" fill="#9b840f"/>
<path d="M105.8,136.4 109.0,136.3 110.8,134.9 107.5,135.0z" fill="#000000"/>
<path d="M150.9,132.6 154.1,134.1 155.9,132.7 152.8,131.2z" fill="#9b890e"/>
<path d="M177.0,141.6 180.1,144.0 181.9,142.6 178.8,140.2z" fill="#779c10"/>
<path d="M71.5,151.6 74.7,150.1 76.4,149.0 73.1,150.4z" fill="#000000"/>
<path d="M167.5,137.3 170.6,139.4 172.4,138.0 169.3,135.9z" fill="#919b0d"/>
<path d="M191.8,151.4 194.8,154.3 196.6,152.8 193.6,149.9z" fill="#3b9d16"/>
<path d="M101.5,137.9 104.7,137.6 106.5,136.2 103.2,136.5z" fill="#000000"/>
<path d="M75.7,149.3 79.0,148.0 80.6,146.8 77.4,148.0z" fill="#000000"/>
<path d="M121.4,132.9 124.6,133.3 126.4,131.9 123.2,131.4z" fill="#3b3605"/>
<path d="M97.2,139.5 100.4,139.0 102.1,137.7 98.9,138.1z" fill="#000000"/>
<path d="M80.0,147.1 83.3,146.0 84.9,144.7 81.7,145.8z" fill="#000000"/>
<path d="M132.7,131.8 135.9,132.6 137.7,131.2 134.5,130.3z" fill="#7f6d0c"/>
<path d="M92.9,141.2 96.2,140.6 97.8,139.2 94.6,139.8z" fill="#000000"/>
<path d="M194.4,153.8 197.4,156.8 199.2,155.4 196.2,152.4z" fill="#2b9e17"/>
<path d="M84.3,145.0 87.6,144.1 89.2,142.8 86.0,143.7z" fill="#000000"/>
<path d="M88.6,143.1 91.9,142.3 93.5,140.9 90.3,141.7z" fill="#000000"/>
<path d="M179.7,143.6 182.8,146.1 184.6,144.7 181.5,142.2z" fill="#6d9c11"/>
<path d="M160.5,135.4 163.7,137.2 165.5,135.8 162.4,134.0z" fill="#9b980d"/>
<path d="M197.0,156.4 200.0,159.4 201.8,158.0 198.8,154.9z" fill="#1b9e19"/>
<path d="M170.1,139.1 173.2,141.3 175.1,139.8 172.0,137.6z" fill="#899b0e"/>
<path d="M139.7,132.0 142.8,133.1 144.7,131.7 141.5,130.6z" fill="#99820e"/>
<path d="M117.1,133.8 120.3,134.1 122.1,132.7 118.8,132.4z" fill="#232203"/>
<path d="M153.6,133.8 156.8,135.4 158.6,134.0 155.4,132.4z" fill="#9b8d0e"/>
<path d="M199.6,159.0 202.6,162.1 204.4,160.7 201.4,157.5z" fill="#189d27"/>
<path d="M146.6,132.7 149.8,134.1 151.6,132.6 148.5,131.3z" fill="#9b870e"/>
<path d="M182.3,145.7 185.4,148.3 187.2,146.9 184.1,144.3z" fill="#619c12"/>
<path d="M128.4,132.4 131.6,133.1 133.4,131.7 130.2,130.9z" fill="#6a5d0a"/>
<path d="M202.2,161.7 205.2,164.9 207.0,163.5 204.0,160.2z" fill="#179b37"/>
<path d="M230.4,195.7 233.3,199.6 235.0,198.3 232.1,194.3z" fill="#091f92"/>
<path d="M112.8,134.9 116.0,135.1 117.7,133.7 114.5,133.5z" fill="#101001"/>
<path d="M227.9,192.3 230.8,196.2 232.5,194.8 229.6,191.0z" fill="#0b2f92"/>
<path d="M204.8,164.4 207.8,167.8 209.6,166.3 206.6,163.0z" fill="#169948"/>
<path d="M225.3,189.0 228.3,192.8 230.0,191.5 227.1,187.6z" fill="#0c4493"/>
<path d="M207.4,167.3 210.4,170.7 212.2,169.3 209.2,165.9z" fill="#16985a"/>
<path d="M163.2,136.9 166.3,138.8 168.2,137.4 165.0,135.5z" fill="#979b0d"/>
<path d="M172.8,140.9 175.9,143.2 177.7,141.8 174.6,139.4z" fill="#809c0f"/>
<path d="M184.9,147.9 188.0,150.6 189.8,149.2 186.8,146.5z" fill="#559d13"/>
<path d="M222.8,185.7 225.7,189.5 227.4,188.1 224.5,184.3z" fill="#0e5993"/>
<path d="M210.0,170.2 213.0,173.7 214.7,172.2 211.7,168.8z" fill="#15966c"/>
<path d="M220.3,182.5 223.2,186.2 224.9,184.8 222.0,181.1z" fill="#106d94"/>
<path d="M212.6,173.2 215.5,176.7 217.3,175.3 214.3,171.8z" fill="#14947e"/>
<path d="M217.7,179.3 220.7,183.0 222.4,181.6 219.4,177.9z" fill="#118194"/>
<path d="M215.1,176.2 218.1,179.8 219.8,178.4 216.9,174.8z" fill="#139292"/>
<path d="M108.4,136.2 111.7,136.2 113.4,134.8 110.2,134.7z" fill="#040400"/>
<path d="M135.3,132.4 138.5,133.4 140.4,131.9 137.2,130.9z" fill="#907b0d"/>
<path d="M124.0,133.1 127.3,133.7 129.1,132.3 125.8,131.7z" fill="#524a07"/>
<path d="M156.3,135.1 159.4,136.8 161.2,135.4 158.1,133.7z" fill="#9b930d"/>
<path d="M187.6,150.2 190.6,153.0 192.4,151.6 189.4,148.8z" fill="#489d14"/>
<path d="M104.1,137.5 107.4,137.4 109.1,136.0 105.9,136.1z" fill="#000000"/>
<path d="M142.3,132.8 145.5,134.1 147.3,132.7 144.2,131.4z" fill="#9b860e"/>
<path d="M149.3,133.7 152.5,135.2 154.3,133.8 151.1,132.3z" fill="#9b8a0e"/>
<path d="M175.4,142.8 178.5,145.2 180.4,143.8 177.3,141.4z" fill="#769c10"/>
<path d="M165.9,138.5 169.0,140.6 170.8,139.2 167.7,137.1z" fill="#909b0d"/>
<path d="M190.2,152.6 193.3,155.5 195.1,154.0 192.0,151.1z" fill="#3a9d16"/>
<path d="M99.8,139.0 103.1,138.7 104.8,137.3 101.5,137.6z" fill="#000000"/>
<path d="M74.1,150.4 77.3,149.1 79.0,147.9 75.7,149.1z" fill="#000000"/>
<path d="M119.7,133.9 123.0,134.4 124.7,133.0 121.5,132.5z" fill="#3a3605"/>
<path d="M95.5,140.6 98.8,140.1 100.5,138.7 97.2,139.2z" fill="#000000"/>
<path d="M78.3,148.2 81.6,147.1 83.3,145.8 80.0,146.9z" fill="#000000"/>
<path d="M131.0,132.8 134.2,133.7 136.0,132.3 132.8,131.4z" fill="#7f6e0c"/>
<path d="M91.2,142.3 94.5,141.7 96.2,140.3 92.9,140.9z" fill="#000000"/>
<path d="M192.8,155.0 195.9,158.0 197.7,156.6 194.6,153.6z" fill="#2a9e17"/>
<path d="M82.6,146.1 85.9,145.2 87.5,143.9 84.3,144.8z" fill="#000000"/>
<path d="M86.9,144.1 90.2,143.4 91.9,142.0 88.6,142.8z" fill="#000000"/>
<path d="M178.1,144.8 181.2,147.3 183.0,145.9 179.9,143.4z" fill="#6b9c11"/>
<path d="M158.9,136.5 162.1,138.4 163.9,136.9 160.8,135.1z" fill="#9b990d"/>
<path d="M195.5,157.6 198.5,160.6 200.3,159.2 197.2,156.1z" fill="#199e19"/>
<path d="M168.5,140.2 171.7,142.4 173.5,141.0 170.4,138.8z" fill="#879b0e"/>
<path d="M115.4,134.9 118.6,135.2 120.4,133.8 117.2,133.5z" fill="#232203"/>
<path d="M138.0,133.1 141.2,134.2 143.0,132.8 139.8,131.7z" fill="#99840e"/>
<path d="M152.0,134.9 155.1,136.5 157.0,135.1 153.8,133.5z" fill="#9b8f0e"/>
<path d="M198.1,160.2 201.1,163.3 202.9,161.9 199.9,158.8z" fill="#189d28"/>
<path d="M145.0,133.8 148.2,135.2 150.0,133.7 146.8,132.4z" fill="#9b880e"/>
<path d="M180.7,146.9 183.8,149.5 185.6,148.1 182.5,145.5z" fill="#609c12"/>
<path d="M126.7,133.4 129.9,134.2 131.7,132.8 128.5,132.0z" fill="#6a5e0a"/>
<path d="M200.7,162.9 203.7,166.1 205.5,164.7 202.5,161.5z" fill="#179b38"/>
<path d="M228.9,196.8 231.8,200.7 233.5,199.4 230.6,195.5z" fill="#091f92"/>
<path d="M111.1,136.0 114.3,136.2 116.1,134.8 112.9,134.6z" fill="#0f1001"/>
<path d="M203.3,165.7 206.3,169.0 208.1,167.6 205.1,164.2z" fill="#169949"/>
<path d="M226.4,193.5 229.3,197.4 231.0,196.0 228.1,192.1z" fill="#0b2f92"/>
<path d="M205.9,168.5 208.9,171.9 210.6,170.5 207.6,167.1z" fill="#16985b"/>
<path d="M161.6,138.0 164.7,140.0 166.6,138.6 163.4,136.6z" fill="#969b0d"/>
<path d="M223.9,190.2 226.8,194.0 228.5,192.6 225.6,188.8z" fill="#0c4493"/>
<path d="M171.2,142.0 174.3,144.3 176.1,142.9 173.0,140.6z" fill="#7e9c0f"/>
<path d="M183.4,149.1 186.5,151.8 188.3,150.4 185.2,147.7z" fill="#549d13"/>
<path d="M208.5,171.4 211.5,174.9 213.2,173.5 210.2,170.0z" fill="#15966c"/>
<path d="M221.3,186.9 224.3,190.7 226.0,189.3 223.0,185.6z" fill="#0e5993"/>
<path d="M211.1,174.4 214.0,177.9 215.8,176.5 212.8,173.0z" fill="#14947f"/>
<path d="M218.8,183.7 221.7,187.4 223.4,186.0 220.5,182.3z" fill="#106d94"/>
<path d="M216.2,180.6 219.2,184.2 220.9,182.8 217.9,179.2z" fill="#118194"/>
<path d="M213.6,177.5 216.6,181.1 218.3,179.6 215.4,176.0z" fill="#139292"/>
<path d="M106.8,137.2 110.0,137.2 111.8,135.8 108.5,135.8z" fill="#030300"/>
<path d="M133.7,133.4 136.9,134.4 138.7,133.0 135.5,132.0z" fill="#907c0d"/>
<path d="M122.4,134.2 125.6,134.8 127.4,133.3 124.2,132.8z" fill="#524b07"/>
<path d="M186.0,151.4 189.1,154.2 190.9,152.8 187.8,149.9z" fill="#479d14"/>
<path d="M154.6,136.2 157.8,138.0 159.6,136.5 156.5,134.8z" fill="#9b950d"/>
<path d="M102.5,138.6 105.7,138.4 107.4,137.0 104.2,137.2z" fill="#000000"/>
<path d="M140.7,133.9 143.9,135.2 145.7,133.8 142.5,132.5z" fill="#9b870e"/>
<path d="M147.7,134.8 150.9,136.3 152.7,134.9 149.5,133.4z" fill="#9b8c0e"/>
<path d="M173.9,143.9 177.0,146.3 178.8,144.9 175.7,142.5z" fill="#749c10"/>
<path d="M164.3,139.6 167.4,141.7 169.2,140.3 166.1,138.2z" fill="#8e9b0e"/>
<path d="M188.7,153.7 191.7,156.7 193.5,155.2 190.4,152.3z" fill="#389d16"/>
<path d="M98.1,140.1 101.4,139.8 103.1,138.4 99.9,138.7z" fill="#000000"/>
<path d="M118.1,135.0 121.3,135.5 123.1,134.1 119.9,133.6z" fill="#393605"/>
<path d="M93.8,141.7 97.1,141.2 98.8,139.8 95.5,140.3z" fill="#000000"/>
<path d="M76.6,149.2 79.9,148.1 81.6,146.9 78.3,148.0z" fill="#000000"/>
<path d="M129.4,133.9 132.6,134.8 134.4,133.4 131.2,132.5z" fill="#7f700c"/>
<path d="M89.5,143.4 92.8,142.8 94.5,141.4 91.2,142.0z" fill="#000000"/>
<path d="M80.9,147.2 84.2,146.2 85.9,144.9 82.6,145.9z" fill="#000000"/>
<path d="M191.3,156.2 194.3,159.2 196.1,157.8 193.1,154.8z" fill="#299e17"/>
<path d="M85.2,145.2 88.5,144.4 90.2,143.1 86.9,143.9z" fill="#000000"/>
<path d="M176.5,145.9 179.6,148.5 181.4,147.0 178.3,144.5z" fill="#6a9c11"/>
<path d="M157.3,137.6 160.5,139.5 162.3,138.1 159.2,136.2z" fill="#9b9b0c"/>
<path d="M193.9,158.8 197.0,161.8 198.7,160.4 195.7,157.3z" fill="#199e19"/>
<path d="M166.9,141.3 170.1,143.5 171.9,142.1 168.8,139.9z" fill="#869c0e"/>
<path d="M113.8,136.0 117.0,136.3 118.8,134.9 115.5,134.6z" fill="#222103"/>
<path d="M136.4,134.2 139.6,135.3 141.4,133.9 138.2,132.7z" fill="#99860e"/>
<path d="M150.4,136.0 153.5,137.6 155.3,136.2 152.2,134.6z" fill="#9b910d"/>
<path d="M196.5,161.4 199.6,164.6 201.3,163.1 198.3,160.0z" fill="#189c29"/>
<path d="M179.2,148.0 182.3,150.7 184.1,149.2 181.0,146.6z" fill="#5e9c12"/>
<path d="M143.4,134.9 146.6,136.2 148.4,134.8 145.2,133.4z" fill="#9b8a0e"/>
<path d="M125.1,134.5 128.3,135.3 130.1,133.8 126.9,133.1z" fill="#6a5f0a"/>
<path d="M199.1,164.1 202.2,167.3 203.9,165.9 200.9,162.7z" fill="#179b39"/>
<path d="M109.4,137.1 112.7,137.2 114.4,135.8 111.2,135.7z" fill="#0f0f01"/>
<path d="M201.8,166.9 204.8,170.2 206.5,168.8 203.5,165.5z" fill="#16994a"/>
<path d="M227.5,198.0 230.4,201.9 232.1,200.6 229.2,196.7z" fill="#091f92"/>
<path d="M224.9,194.7 227.9,198.5 229.6,197.2 226.6,193.3z" fill="#0b2f92"/>
<path d="M204.4,169.7 207.4,173.1 209.1,171.7 206.1,168.3z" fill="#15975b"/>
<path d="M160.0,139.1 163.1,141.1 165.0,139.7 161.8,137.7z" fill="#949b0d"/>
<path d="M181.8,150.2 184.9,153.0 186.7,151.6 183.6,148.8z" fill="#529d13"/>
<path d="M169.6,143.1 172.7,145.5 174.5,144.0 171.4,141.7z" fill="#7d9c0f"/>
<path d="M222.4,191.4 225.3,195.2 227.0,193.8 224.1,190.0z" fill="#0c4493"/>
<path d="M207.0,172.7 209.9,176.1 211.7,174.7 208.7,171.2z" fill="#15966d"/>
<path d="M219.8,188.2 222.8,191.9 224.5,190.5 221.5,186.8z" fill="#0e5993"/>
<path d="M209.5,175.6 212.5,179.2 214.3,177.8 211.3,174.2z" fill="#149480"/>
<path d="M217.3,184.9 220.2,188.7 221.9,187.3 219.0,183.5z" fill="#106d94"/>
<path d="M212.1,178.7 215.1,182.3 216.8,180.9 213.9,177.3z" fill="#139292"/>
<path d="M214.7,181.8 217.7,185.4 219.4,184.0 216.4,180.4z" fill="#118194"/>
<path d="M105.1,138.3 108.4,138.3 110.1,136.9 106.9,136.9z" fill="#030300"/>
<path d="M132.1,134.5 135.3,135.5 137.1,134.1 133.9,133.1z" fill="#907e0d"/>
<path d="M120.7,135.3 124.0,135.8 125.8,134.4 122.5,133.8z" fill="#514b07"/>
<path d="M184.5,152.5 187.5,155.4 189.3,153.9 186.3,151.1z" fill="#459d15"/>
<path d="M153.0,137.3 156.2,139.1 158.0,137.7 154.9,135.9z" fill="#9b960d"/>
<path d="M100.8,139.7 104.1,139.5 105.8,138.1 102.5,138.3z" fill="#000000"/>
<path d="M139.1,135.0 142.3,136.3 144.1,134.8 140.9,133.6z" fill="#9b890e"/>
<path d="M172.3,145.1 175.4,147.5 177.2,146.1 174.1,143.7z" fill="#739c10"/>
<path d="M146.1,135.9 149.2,137.4 151.1,136.0 147.9,134.5z" fill="#9b8e0e"/>
<path d="M162.7,140.7 165.8,142.8 167.6,141.4 164.5,139.3z" fill="#8d9b0e"/>
<path d="M187.1,154.9 190.2,157.8 192.0,156.4 188.9,153.5z" fill="#379d16"/>
<path d="M96.5,141.1 99.7,140.8 101.5,139.4 98.2,139.7z" fill="#000000"/>
<path d="M116.4,136.1 119.7,136.5 121.4,135.1 118.2,134.7z" fill="#383605"/>
<path d="M92.2,142.7 95.4,142.3 97.1,140.9 93.9,141.4z" fill="#000000"/>
<path d="M127.7,135.0 131.0,135.9 132.8,134.5 129.6,133.6z" fill="#7f710c"/>
<path d="M87.9,144.4 91.1,143.8 92.8,142.5 89.5,143.1z" fill="#000000"/>
<path d="M79.3,148.2 82.5,147.3 84.2,146.0 80.9,147.0z" fill="#000000"/>
<path d="M189.7,157.4 192.8,160.4 194.6,159.0 191.5,156.0z" fill="#279e17"/>
<path d="M83.6,146.3 86.8,145.5 88.5,144.2 85.2,145.0z" fill="#000000"/>
<path d="M174.9,147.1 178.0,149.6 179.8,148.2 176.7,145.7z" fill="#689c11"/>
<path d="M155.7,138.7 158.9,140.6 160.7,139.2 157.5,137.3z" fill="#9a9b0d"/>
<path d="M192.4,160.0 195.4,163.1 197.2,161.6 194.1,158.5z" fill="#199e1a"/>
<path d="M165.3,142.4 168.5,144.7 170.3,143.3 167.2,141.0z" fill="#849c0f"/>
<path d="M112.1,137.1 115.3,137.4 117.1,136.0 113.9,135.7z" fill="#212103"/>
<path d="M134.7,135.2 138.0,136.4 139.8,135.0 136.6,133.8z" fill="#99870e"/>
<path d="M148.7,137.1 151.9,138.8 153.7,137.3 150.6,135.7z" fill="#9b920d"/>
<path d="M195.0,162.6 198.0,165.8 199.8,164.3 196.8,161.2z" fill="#189c2a"/>
<path d="M177.6,149.2 180.7,151.8 182.5,150.4 179.4,147.8z" fill="#5d9c12"/>
<path d="M141.7,135.9 144.9,137.3 146.8,135.9 143.6,134.5z" fill="#9b8c0e"/>
<path d="M123.4,135.6 126.6,136.3 128.4,134.9 125.2,134.2z" fill="#6a6009"/>
<path d="M197.6,165.3 200.6,168.6 202.4,167.1 199.4,163.9z" fill="#179b3a"/>
<path d="M107.8,138.2 111.0,138.3 112.8,136.9 109.5,136.8z" fill="#0e0e01"/>
<path d="M200.2,168.1 203.2,171.4 205.0,170.0 202.0,166.7z" fill="#16994b"/>
<path d="M226.0,199.2 228.9,203.0 230.6,201.7 227.7,197.8z" fill="#091f92"/>
<path d="M202.8,171.0 205.8,174.4 207.6,172.9 204.6,169.5z" fill="#15975c"/>
<path d="M158.4,140.2 161.5,142.2 163.4,140.8 160.2,138.8z" fill="#939b0d"/>
<path d="M180.2,151.4 183.3,154.2 185.1,152.7 182.0,150.0z" fill="#519d13"/>
<path d="M168.0,144.3 171.1,146.6 173.0,145.2 169.8,142.9z" fill="#7b9c0f"/>
<path d="M223.5,195.9 226.4,199.7 228.1,198.4 225.2,194.5z" fill="#0b2f92"/>
<path d="M205.4,173.9 208.4,177.3 210.2,175.9 207.2,172.5z" fill="#15966e"/>
<path d="M220.9,192.6 223.8,196.4 225.6,195.0 222.6,191.2z" fill="#0c4493"/>
<path d="M208.0,176.9 211.0,180.4 212.8,179.0 209.8,175.4z" fill="#149480"/>
<path d="M218.3,189.4 221.3,193.1 223.0,191.7 220.1,188.0z" fill="#0e5993"/>
<path d="M210.6,179.9 213.6,183.5 215.3,182.1 212.4,178.5z" fill="#139293"/>
<path d="M215.8,186.2 218.7,189.9 220.5,188.5 217.5,184.8z" fill="#106d94"/>
<path d="M213.2,183.0 216.2,186.7 217.9,185.3 214.9,181.6z" fill="#118094"/>
<path d="M103.4,139.4 106.7,139.4 108.4,138.0 105.2,138.0z" fill="#020300"/>
<path d="M130.4,135.6 133.6,136.6 135.4,135.2 132.2,134.2z" fill="#90800d"/>
<path d="M119.1,136.3 122.3,136.9 124.1,135.5 120.9,134.9z" fill="#514b07"/>
<path d="M182.9,153.7 186.0,156.6 187.8,155.1 184.7,152.3z" fill="#449d15"/>
<path d="M151.4,138.4 154.6,140.2 156.4,138.8 153.2,137.0z" fill="#9b980d"/>
<path d="M99.1,140.7 102.4,140.6 104.1,139.2 100.9,139.3z" fill="#000000"/>
<path d="M137.4,136.1 140.6,137.3 142.4,135.9 139.3,134.7z" fill="#9b8b0e"/>
<path d="M170.7,146.2 173.8,148.6 175.6,147.2 172.5,144.8z" fill="#719c10"/>
<path d="M144.4,137.0 147.6,138.5 149.4,137.1 146.3,135.6z" fill="#9b8f0e"/>
<path d="M161.1,141.8 164.2,144.0 166.0,142.6 162.9,140.4z" fill="#8b9b0e"/>
<path d="M185.5,156.1 188.6,159.0 190.4,157.6 187.3,154.7z" fill="#369d16"/>
<path d="M94.8,142.2 98.1,141.9 99.8,140.5 96.5,140.8z" fill="#000000"/>
<path d="M114.8,137.2 118.0,137.6 119.8,136.2 116.5,135.8z" fill="#383605"/>
<path d="M90.5,143.8 93.8,143.3 95.5,142.0 92.2,142.4z" fill="#000000"/>
<path d="M126.1,136.1 129.3,136.9 131.1,135.5 127.9,134.7z" fill="#7f720b"/>
<path d="M86.2,145.5 89.5,144.9 91.1,143.5 87.9,144.2z" fill="#000000"/>
<path d="M188.2,158.6 191.2,161.6 193.0,160.2 190.0,157.2z" fill="#269e18"/>
<path d="M81.9,147.4 85.2,146.6 86.8,145.2 83.5,146.0z" fill="#000000"/>
<path d="M173.3,148.2 176.5,150.8 178.3,149.4 175.2,146.8z" fill="#679c11"/>
<path d="M154.1,139.8 157.3,141.7 159.1,140.3 155.9,138.4z" fill="#989b0d"/>
<path d="M190.8,161.2 193.9,164.3 195.6,162.8 192.6,159.7z" fill="#199e1b"/>
<path d="M163.7,143.6 166.9,145.8 168.7,144.4 165.6,142.2z" fill="#839c0f"/>
<path d="M110.4,138.1 113.7,138.4 115.5,137.0 112.2,136.7z" fill="#202003"/>
<path d="M133.1,136.3 136.3,137.5 138.1,136.0 134.9,134.9z" fill="#99890e"/>
<path d="M193.4,163.8 196.5,167.0 198.3,165.6 195.2,162.4z" fill="#189c2b"/>
<path d="M147.1,138.2 150.3,139.9 152.1,138.4 148.9,136.8z" fill="#9b940d"/>
<path d="M176.0,150.4 179.1,153.0 180.9,151.6 177.8,149.0z" fill="#5b9d12"/>
<path d="M140.1,137.0 143.3,138.4 145.1,137.0 141.9,135.6z" fill="#9b8d0e"/>
<path d="M121.8,136.7 125.0,137.4 126.8,136.0 123.6,135.3z" fill="#696109"/>
<path d="M196.1,166.5 199.1,169.8 200.9,168.4 197.8,165.1z" fill="#179b3b"/>
<path d="M106.1,139.2 109.4,139.4 111.1,138.0 107.9,137.8z" fill="#0d0e01"/>
<path d="M198.7,169.3 201.7,172.7 203.5,171.2 200.5,167.9z" fill="#16994b"/>
<path d="M201.3,172.2 204.3,175.6 206.1,174.2 203.1,170.8z" fill="#15975d"/>
<path d="M178.7,152.6 181.8,155.3 183.6,153.9 180.5,151.2z" fill="#4f9d14"/>
<path d="M156.8,141.3 159.9,143.3 161.8,141.9 158.6,139.9z" fill="#919b0d"/>
<path d="M166.4,145.4 169.6,147.8 171.4,146.3 168.2,144.0z" fill="#7a9c10"/>
<path d="M224.5,200.4 227.5,204.2 229.2,202.9 226.2,199.0z" fill="#091f92"/>
<path d="M203.9,175.1 206.9,178.6 208.7,177.1 205.7,173.7z" fill="#15966e"/>
<path d="M222.0,197.1 224.9,200.9 226.6,199.5 223.7,195.7z" fill="#0b2f92"/>
<path d="M219.4,193.8 222.4,197.6 224.1,196.2 221.1,192.4z" fill="#0c4493"/>
<path d="M206.5,178.1 209.5,181.6 211.3,180.2 208.3,176.7z" fill="#149480"/>
<path d="M216.9,190.6 219.8,194.3 221.5,192.9 218.6,189.2z" fill="#0e5893"/>
<path d="M209.1,181.1 212.1,184.7 213.8,183.3 210.8,179.7z" fill="#139293"/>
<path d="M101.8,140.5 105.0,140.4 106.8,139.1 103.5,139.1z" fill="#020200"/>
<path d="M214.3,187.4 217.3,191.1 219.0,189.7 216.0,186.0z" fill="#106d94"/>
<path d="M211.7,184.2 214.7,187.9 216.4,186.5 213.4,182.8z" fill="#118094"/>
<path d="M128.8,136.7 132.0,137.7 133.8,136.3 130.6,135.3z" fill="#90810d"/>
<path d="M117.4,137.4 120.7,138.0 122.5,136.6 119.2,136.0z" fill="#514c07"/>
<path d="M181.3,154.9 184.4,157.7 186.2,156.3 183.1,153.5z" fill="#439d15"/>
<path d="M149.8,139.5 153.0,141.3 154.8,139.9 151.6,138.1z" fill="#9b990d"/>
<path d="M97.5,141.8 100.7,141.6 102.5,140.3 99.2,140.4z" fill="#000000"/>
<path d="M135.8,137.2 139.0,138.4 140.8,137.0 137.6,135.8z" fill="#9b8c0e"/>
<path d="M169.1,147.4 172.2,149.8 174.0,148.4 170.9,145.9z" fill="#709c11"/>
<path d="M142.8,138.1 146.0,139.6 147.8,138.2 144.6,136.7z" fill="#9b910d"/>
<path d="M159.5,143.0 162.6,145.1 164.4,143.7 161.3,141.6z" fill="#8a9b0e"/>
<path d="M184.0,157.3 187.1,160.2 188.8,158.8 185.8,155.9z" fill="#349d16"/>
<path d="M93.1,143.3 96.4,142.9 98.1,141.6 94.9,141.9z" fill="#000000"/>
<path d="M113.1,138.2 116.4,138.7 118.1,137.3 114.9,136.8z" fill="#373605"/>
<path d="M88.8,144.9 92.1,144.4 93.8,143.0 90.5,143.5z" fill="#000000"/>
<path d="M124.5,137.1 127.7,138.0 129.5,136.6 126.3,135.7z" fill="#7f740b"/>
<path d="M84.5,146.6 87.8,145.9 89.5,144.6 86.2,145.2z" fill="#000000"/>
<path d="M186.6,159.8 189.7,162.8 191.5,161.4 188.4,158.4z" fill="#259e18"/>
<path d="M171.8,149.4 174.9,151.9 176.7,150.5 173.6,148.0z" fill="#659c12"/>
<path d="M152.5,140.9 155.7,142.8 157.5,141.4 154.3,139.5z" fill="#979b0d"/>
<path d="M189.3,162.4 192.3,165.5 194.1,164.0 191.0,160.9z" fill="#199e1c"/>
<path d="M162.2,144.7 165.3,146.9 167.1,145.5 164.0,143.3z" fill="#819c0f"/>
<path d="M108.8,139.2 112.0,139.5 113.8,138.1 110.6,137.8z" fill="#1f2003"/>
<path d="M131.5,137.4 134.7,138.5 136.5,137.1 133.3,136.0z" fill="#998b0e"/>
<path d="M191.9,165.0 195.0,168.2 196.7,166.8 193.7,163.6z" fill="#189c2c"/>
<path d="M145.5,139.3 148.7,141.0 150.5,139.5 147.3,137.9z" fill="#9b950d"/>
<path d="M174.4,151.5 177.5,154.2 179.3,152.8 176.2,150.1z" fill="#5a9d13"/>
<path d="M138.5,138.1 141.7,139.5 143.5,138.1 140.3,136.7z" fill="#9b8f0e"/>
<path d="M120.1,137.7 123.4,138.5 125.2,137.1 121.9,136.3z" fill="#696109"/>
<path d="M194.5,167.7 197.6,171.0 199.3,169.6 196.3,166.3z" fill="#179b3c"/>
<path d="M104.5,140.3 107.7,140.4 109.5,139.0 106.2,138.9z" fill="#0c0d01"/>
<path d="M197.2,170.5 200.2,173.9 202.0,172.4 198.9,169.1z" fill="#16994c"/>
<path d="M199.8,173.4 202.8,176.8 204.6,175.4 201.5,172.0z" fill="#15975d"/>
<path d="M177.1,153.8 180.2,156.5 182.0,155.1 178.9,152.3z" fill="#4e9d14"/>
<path d="M155.2,142.4 158.3,144.5 160.2,143.1 157.0,141.1z" fill="#909b0d"/>
<path d="M164.8,146.6 168.0,148.9 169.8,147.5 166.7,145.1z" fill="#789c10"/>
<path d="M202.4,176.3 205.4,179.8 207.2,178.4 204.1,174.9z" fill="#14956f"/>
<path d="M223.1,201.5 226.0,205.4 227.7,204.0 224.8,200.2z" fill="#091f92"/>
<path d="M220.5,198.3 223.5,202.0 225.2,200.7 222.2,196.9z" fill="#0b2f92"/>
<path d="M205.0,179.3 208.0,182.9 209.7,181.4 206.7,177.9z" fill="#149481"/>
<path d="M217.9,195.0 220.9,198.8 222.6,197.4 219.7,193.6z" fill="#0c4493"/>
<path d="M100.1,141.5 103.4,141.5 105.1,140.1 101.9,140.1z" fill="#020200"/>
<path d="M207.6,182.4 210.6,186.0 212.3,184.5 209.3,180.9z" fill="#139294"/>
<path d="M215.4,191.8 218.3,195.5 220.0,194.1 217.1,190.4z" fill="#0e5893"/>
<path d="M210.2,185.5 213.2,189.1 214.9,187.7 211.9,184.1z" fill="#118094"/>
<path d="M212.8,188.6 215.8,192.3 217.5,190.9 214.5,187.2z" fill="#106c94"/>
<path d="M127.1,137.7 130.4,138.7 132.2,137.3 129.0,136.3z" fill="#90830d"/>
<path d="M115.8,138.5 119.0,139.0 120.8,137.6 117.6,137.1z" fill="#504c07"/>
<path d="M179.8,156.1 182.9,158.9 184.6,157.5 181.6,154.7z" fill="#419d15"/>
<path d="M148.2,140.6 151.4,142.4 153.2,141.0 150.0,139.2z" fill="#9b9b0c"/>
<path d="M95.8,142.9 99.1,142.7 100.8,141.3 97.5,141.5z" fill="#000000"/>
<path d="M134.2,138.2 137.4,139.5 139.2,138.1 136.0,136.8z" fill="#9b8e0e"/>
<path d="M167.5,148.5 170.6,151.0 172.5,149.5 169.3,147.1z" fill="#6f9c11"/>
<path d="M141.2,139.2 144.4,140.7 146.2,139.3 143.0,137.8z" fill="#9b930d"/>
<path d="M182.4,158.5 185.5,161.4 187.3,160.0 184.2,157.1z" fill="#339d16"/>
<path d="M157.9,144.1 161.0,146.2 162.8,144.8 159.7,142.7z" fill="#889b0e"/>
<path d="M91.5,144.3 94.8,144.0 96.5,142.6 93.2,143.0z" fill="#000000"/>
<path d="M111.5,139.3 114.7,139.7 116.5,138.3 113.2,137.9z" fill="#373504"/>
<path d="M87.2,145.9 90.4,145.4 92.1,144.1 88.8,144.6z" fill="#000000"/>
<path d="M122.8,138.2 126.0,139.1 127.8,137.7 124.6,136.8z" fill="#7f750b"/>
<path d="M185.1,161.0 188.1,164.0 189.9,162.6 186.9,159.6z" fill="#249e18"/>
<path d="M170.2,150.5 173.3,153.1 175.1,151.7 172.0,149.1z" fill="#649c12"/>
<path d="M150.9,142.0 154.1,143.9 155.9,142.5 152.7,140.6z" fill="#959b0d"/>
<path d="M187.7,163.6 190.8,166.7 192.6,165.3 189.5,162.1z" fill="#199e1d"/>
<path d="M160.6,145.8 163.7,148.1 165.5,146.7 162.4,144.4z" fill="#809c0f"/>
<path d="M107.1,140.3 110.4,140.6 112.1,139.2 108.9,138.9z" fill="#1e1f03"/>
<path d="M129.8,138.5 133.1,139.6 134.9,138.2 131.7,137.1z" fill="#9a8c0e"/>
<path d="M190.4,166.2 193.4,169.4 195.2,168.0 192.1,164.8z" fill="#189c2d"/>
<path d="M143.9,140.4 147.1,142.0 148.9,140.6 145.7,139.0z" fill="#9b970d"/>
<path d="M172.9,152.7 176.0,155.4 177.8,153.9 174.7,151.3z" fill="#599d13"/>
<path d="M136.9,139.2 140.1,140.6 141.9,139.2 138.7,137.8z" fill="#9b900d"/>
<path d="M193.0,169.0 196.0,172.2 197.8,170.8 194.8,167.5z" fill="#179b3c"/>
<path d="M118.5,138.8 121.7,139.5 123.5,138.1 120.3,137.4z" fill="#696209"/>
<path d="M102.8,141.4 106.1,141.5 107.8,140.1 104.5,140.0z" fill="#0c0c01"/>
<path d="M195.6,171.8 198.7,175.1 200.4,173.7 197.4,170.3z" fill="#16994d"/>
<path d="M198.3,174.6 201.3,178.0 203.0,176.6 200.0,173.2z" fill="#15975e"/>
<path d="M175.5,154.9 178.6,157.7 180.4,156.3 177.3,153.5z" fill="#4d9d14"/>
<path d="M163.2,147.7 166.4,150.0 168.2,148.6 165.1,146.3z" fill="#779c10"/>
<path d="M153.6,143.6 156.7,145.6 158.6,144.2 155.4,142.2z" fill="#8e9b0e"/>
<path d="M200.9,177.6 203.9,181.0 205.6,179.6 202.6,176.1z" fill="#14956f"/>
<path d="M221.6,202.7 224.5,206.5 226.2,205.2 223.3,201.4z" fill="#091f92"/>
<path d="M203.5,180.6 206.5,184.1 208.2,182.7 205.2,179.1z" fill="#149481"/>
<path d="M219.0,199.5 222.0,203.2 223.7,201.9 220.7,198.1z" fill="#0b2f92"/>
<path d="M98.5,142.6 101.7,142.6 103.5,141.2 100.2,141.2z" fill="#010200"/>
<path d="M206.1,183.6 209.1,187.2 210.8,185.8 207.8,182.2z" fill="#139294"/>
<path d="M216.5,196.2 219.4,200.0 221.1,198.6 218.2,194.8z" fill="#0c4493"/>
<path d="M208.7,186.7 211.7,190.3 213.4,188.9 210.4,185.3z" fill="#118094"/>
<path d="M213.9,193.0 216.9,196.7 218.6,195.3 215.6,191.6z" fill="#0e5893"/>
<path d="M125.5,138.8 128.7,139.8 130.5,138.4 127.3,137.4z" fill="#90840d"/>
<path d="M211.3,189.8 214.3,193.5 216.0,192.1 213.0,188.4z" fill="#106c94"/>
<path d="M114.1,139.5 117.4,140.1 119.2,138.7 115.9,138.1z" fill="#504d07"/>
<path d="M178.2,157.3 181.3,160.1 183.1,158.7 180.0,155.8z" fill="#409d15"/>
<path d="M146.6,141.7 149.8,143.5 151.6,142.1 148.4,140.3z" fill="#9a9b0d"/>
<path d="M94.1,143.9 97.4,143.7 99.1,142.4 95.9,142.5z" fill="#000000"/>
<path d="M132.5,139.3 135.8,140.6 137.6,139.2 134.4,137.9z" fill="#9b8f0e"/>
<path d="M165.9,149.6 169.1,152.1 170.9,150.7 167.7,148.2z" fill="#6d9c11"/>
<path d="M139.6,140.3 142.8,141.8 144.6,140.4 141.4,138.9z" fill="#9b940d"/>
<path d="M180.9,159.7 184.0,162.6 185.7,161.2 182.7,158.3z" fill="#329e16"/>
<path d="M156.3,145.2 159.4,147.3 161.2,145.9 158.1,143.8z" fill="#879b0e"/>
<path d="M89.8,145.4 93.1,145.1 94.8,143.7 91.5,144.0z" fill="#000000"/>
<path d="M109.8,140.4 113.1,140.8 114.8,139.4 111.6,139.0z" fill="#363504"/>
<path d="M121.2,139.3 124.4,140.1 126.2,138.7 123.0,137.9z" fill="#7f760b"/>
<path d="M183.5,162.2 186.6,165.2 188.4,163.8 185.3,160.8z" fill="#239e18"/>
<path d="M168.6,151.7 171.7,154.3 173.5,152.9 170.4,150.3z" fill="#639c12"/>
<path d="M149.3,143.1 152.5,145.0 154.3,143.6 151.1,141.7z" fill="#949b0d"/>
<path d="M186.2,164.8 189.2,167.9 191.0,166.5 188.0,163.3z" fill="#199e1e"/>
<path d="M159.0,147.0 162.1,149.2 163.9,147.8 160.8,145.6z" fill="#7f9c0f"/>
<path d="M105.5,141.3 108.7,141.6 110.5,140.2 107.2,139.9z" fill="#1e1e03"/>
<path d="M128.2,139.5 131.4,140.7 133.2,139.3 130.0,138.1z" fill="#9a8e0d"/>
<path d="M188.8,167.4 191.9,170.6 193.7,169.2 190.6,166.0z" fill="#189c2e"/>
<path d="M142.3,141.5 145.5,143.1 147.3,141.7 144.1,140.1z" fill="#9b990d"/>
<path d="M171.3,153.8 174.4,156.5 176.2,155.1 173.1,152.4z" fill="#579d13"/>
<path d="M135.2,140.3 138.4,141.7 140.3,140.3 137.1,138.9z" fill="#9b920d"/>
<path d="M191.5,170.2 194.5,173.5 196.3,172.0 193.2,168.7z" fill="#179a3d"/>
<path d="M116.8,139.9 120.1,140.6 121.9,139.2 118.6,138.5z" fill="#696309"/>
<path d="M101.1,142.4 104.4,142.5 106.1,141.2 102.9,141.0z" fill="#0b0c01"/>
<path d="M194.1,173.0 197.1,176.3 198.9,174.9 195.9,171.6z" fill="#16994e"/>
<path d="M174.0,156.1 177.1,158.9 178.9,157.5 175.8,154.7z" fill="#4b9d14"/>
<path d="M196.7,175.9 199.8,179.3 201.5,177.8 198.5,174.4z" fill="#15975e"/>
<path d="M161.7,148.8 164.8,151.2 166.6,149.8 163.5,147.4z" fill="#769c10"/>
<path d="M152.0,144.7 155.1,146.7 157.0,145.3 153.8,143.3z" fill="#8d9b0e"/>
<path d="M199.4,178.8 202.4,182.3 204.1,180.8 201.1,177.4z" fill="#149570"/>
<path d="M202.0,181.8 205.0,185.3 206.7,183.9 203.7,180.4z" fill="#149482"/>
<path d="M96.8,143.6 100.1,143.6 101.8,142.2 98.5,142.2z" fill="#010100"/>
<path d="M220.1,203.9 223.1,207.7 224.8,206.3 221.8,202.5z" fill="#091f92"/>
<path d="M204.6,184.8 207.6,188.4 209.3,187.0 206.3,183.4z" fill="#139294"/>
<path d="M217.6,200.7 220.5,204.4 222.2,203.0 219.3,199.3z" fill="#0b2f92"/>
<path d="M207.2,187.9 210.2,191.6 211.9,190.1 208.9,186.5z" fill="#117f94"/>
<path d="M123.9,139.9 127.1,140.9 128.9,139.5 125.7,138.5z" fill="#90860d"/>
<path d="M215.0,197.4 218.0,201.2 219.7,199.8 216.7,196.0z" fill="#0c4493"/>
<path d="M209.8,191.1 212.8,194.7 214.5,193.3 211.5,189.6z" fill="#106c94"/>
<path d="M212.4,194.2 215.4,197.9 217.1,196.5 214.1,192.8z" fill="#0e5893"/>
<path d="M112.5,140.6 115.7,141.2 117.5,139.8 114.3,139.2z" fill="#4f4d07"/>
<path d="M176.6,158.4 179.7,161.3 181.5,159.9 178.4,157.0z" fill="#3f9d15"/>
<path d="M145.0,142.8 148.2,144.6 150.0,143.2 146.8,141.4z" fill="#989b0d"/>
<path d="M92.5,145.0 95.7,144.8 97.5,143.4 94.2,143.6z" fill="#000000"/>
<path d="M130.9,140.4 134.1,141.7 135.9,140.3 132.7,139.0z" fill="#9b910d"/>
<path d="M164.3,150.8 167.5,153.3 169.3,151.8 166.2,149.4z" fill="#6c9c11"/>
<path d="M137.9,141.4 141.1,142.9 143.0,141.5 139.8,140.0z" fill="#9b960d"/>
<path d="M179.3,160.9 182.4,163.8 184.2,162.4 181.1,159.4z" fill="#319e17"/>
<path d="M154.7,146.3 157.8,148.5 159.7,147.1 156.5,144.9z" fill="#869c0e"/>
<path d="M108.2,141.4 111.4,141.8 113.2,140.5 109.9,140.0z" fill="#353504"/>
<path d="M182.0,163.4 185.1,166.4 186.8,165.0 183.8,162.0z" fill="#219e18"/>
<path d="M119.5,140.3 122.8,141.2 124.6,139.8 121.3,138.9z" fill="#7f770b"/>
<path d="M167.0,152.8 170.2,155.4 172.0,154.0 168.8,151.4z" fill="#619c12"/>
<path d="M147.7,144.2 150.9,146.1 152.7,144.7 149.5,142.8z" fill="#929b0d"/>
<path d="M184.6,166.0 187.7,169.1 189.5,167.7 186.4,164.5z" fill="#189d1f"/>
<path d="M157.4,148.1 160.5,150.3 162.3,148.9 159.2,146.7z" fill="#7d9c0f"/>
<path d="M103.8,142.4 107.1,142.7 108.8,141.3 105.6,141.0z" fill="#1d1e02"/>
<path d="M126.6,140.6 129.8,141.7 131.6,140.4 128.4,139.2z" fill="#9a8f0d"/>
<path d="M187.3,168.6 190.3,171.9 192.1,170.4 189.1,167.2z" fill="#189c2e"/>
<path d="M140.6,142.6 143.8,144.2 145.7,142.8 142.5,141.2z" fill="#9b9a0c"/>
<path d="M169.7,155.0 172.8,157.7 174.6,156.3 171.5,153.6z" fill="#569d13"/>
<path d="M133.6,141.3 136.8,142.8 138.6,141.4 135.4,140.0z" fill="#9b930d"/>
<path d="M189.9,171.4 193.0,174.7 194.8,173.2 191.7,170.0z" fill="#179a3e"/>
<path d="M115.2,140.9 118.4,141.7 120.2,140.3 117.0,139.5z" fill="#686409"/>
<path d="M99.5,143.5 102.7,143.6 104.5,142.2 101.2,142.1z" fill="#0a0b01"/>
<path d="M192.6,174.2 195.6,177.6 197.4,176.1 194.3,172.8z" fill="#16994e"/>
<path d="M172.4,157.3 175.5,160.0 177.3,158.6 174.2,155.9z" fill="#4a9d14"/>
<path d="M195.2,177.1 198.3,180.5 200.0,179.1 197.0,175.7z" fill="#15975f"/>
<path d="M160.1,149.9 163.2,152.3 165.0,150.9 161.9,148.6z" fill="#749c10"/>
<path d="M150.4,145.8 153.5,147.8 155.4,146.4 152.2,144.4z" fill="#8c9b0e"/>
<path d="M197.8,180.0 200.9,183.5 202.6,182.1 199.6,178.6z" fill="#149570"/>
<path d="M200.5,183.0 203.5,186.5 205.2,185.1 202.2,181.6z" fill="#149482"/>
<path d="M95.1,144.7 98.4,144.7 100.1,143.3 96.9,143.3z" fill="#010100"/>
<path d="M203.1,186.1 206.1,189.6 207.8,188.2 204.8,184.6z" fill="#139295"/>
<path d="M122.2,140.9 125.5,142.0 127.3,140.6 124.0,139.6z" fill="#90870c"/>
<path d="M205.7,189.2 208.7,192.8 210.4,191.4 207.4,187.7z" fill="#117f94"/>
<path d="M218.7,205.1 221.6,208.8 223.3,207.5 220.4,203.7z" fill="#091f92"/>
<path d="M208.3,192.3 211.3,195.9 213.0,194.5 210.0,190.9z" fill="#106c94"/>
<path d="M216.1,201.9 219.1,205.6 220.8,204.2 217.8,200.5z" fill="#0b2f92"/>
<path d="M213.5,198.6 216.5,202.4 218.2,201.0 215.2,197.2z" fill="#0c4493"/>
<path d="M210.9,195.5 213.9,199.1 215.6,197.7 212.6,194.0z" fill="#0e5893"/>
<path d="M110.8,141.6 114.1,142.2 115.9,140.8 112.6,140.2z" fill="#4f4d06"/>
<path d="M175.1,159.6 178.2,162.5 180.0,161.1 176.9,158.2z" fill="#3d9d15"/>
<path d="M143.4,143.9 146.5,145.7 148.4,144.3 145.2,142.5z" fill="#979b0d"/>
<path d="M129.3,141.5 132.5,142.7 134.3,141.3 131.1,140.1z" fill="#9b920d"/>
<path d="M162.8,151.9 165.9,154.4 167.7,153.0 164.6,150.5z" fill="#6b9c11"/>
<path d="M136.3,142.4 139.5,144.0 141.3,142.6 138.1,141.1z" fill="#9b970d"/>
<path d="M177.7,162.1 180.8,165.0 182.6,163.6 179.5,160.6z" fill="#2f9e17"/>
<path d="M153.1,147.4 156.2,149.6 158.1,148.2 154.9,146.0z" fill="#849c0f"/>
<path d="M106.5,142.5 109.8,142.9 111.5,141.5 108.3,141.1z" fill="#343504"/>
<path d="M180.4,164.6 183.5,167.6 185.3,166.2 182.2,163.2z" fill="#209e18"/>
<path d="M117.9,141.4 121.1,142.3 122.9,140.9 119.7,140.0z" fill="#7f790b"/>
<path d="M165.4,154.0 168.6,156.6 170.4,155.2 167.3,152.6z" fill="#609c12"/>
<path d="M146.1,145.3 149.2,147.2 151.1,145.9 147.9,143.9z" fill="#919b0d"/>
<path d="M183.1,167.2 186.2,170.3 187.9,168.9 184.9,165.8z" fill="#189d20"/>
<path d="M155.8,149.2 158.9,151.5 160.8,150.1 157.6,147.8z" fill="#7c9c0f"/>
<path d="M102.2,143.4 105.4,143.7 107.2,142.3 103.9,142.0z" fill="#1c1d02"/>
<path d="M124.9,141.7 128.2,142.8 130.0,141.4 126.7,140.3z" fill="#9a910d"/>
<path d="M185.7,169.9 188.8,173.1 190.6,171.6 187.5,168.4z" fill="#189c2f"/>
<path d="M139.0,143.6 142.2,145.3 144.0,143.9 140.9,142.3z" fill="#9b9b0c"/>
<path d="M168.1,156.2 171.3,158.9 173.1,157.4 169.9,154.8z" fill="#559d13"/>
<path d="M132.0,142.4 135.2,143.8 137.0,142.5 133.8,141.0z" fill="#9b950d"/>
<path d="M188.4,172.6 191.5,175.9 193.2,174.5 190.2,171.2z" fill="#179a3f"/>
<path d="M113.5,142.0 116.8,142.7 118.6,141.3 115.3,140.6z" fill="#686509"/>
<path d="M191.0,175.4 194.1,178.8 195.9,177.3 192.8,174.0z" fill="#16994f"/>
<path d="M97.8,144.5 101.1,144.6 102.8,143.3 99.6,143.1z" fill="#0a0b01"/>
<path d="M170.8,158.4 173.9,161.2 175.7,159.8 172.6,157.0z" fill="#499d14"/>
<path d="M193.7,178.3 196.7,181.7 198.5,180.3 195.4,176.9z" fill="#159760"/>
<path d="M158.5,151.1 161.6,153.5 163.4,152.1 160.3,149.7z" fill="#739c10"/>
<path d="M148.8,146.9 151.9,148.9 153.8,147.5 150.6,145.5z" fill="#8a9b0e"/>
<path d="M196.3,181.3 199.4,184.7 201.1,183.3 198.1,179.8z" fill="#149571"/>
<path d="M199.0,184.3 202.0,187.8 203.7,186.4 200.7,182.8z" fill="#149483"/>
<path d="M201.6,187.3 204.6,190.9 206.3,189.4 203.3,185.9z" fill="#139295"/>
<path d="M120.6,142.0 123.8,143.0 125.6,141.6 122.4,140.6z" fill="#90890c"/>
<path d="M204.2,190.4 207.2,194.0 208.9,192.6 205.9,189.0z" fill="#117f94"/>
<path d="M206.8,193.5 209.8,197.2 211.5,195.8 208.5,192.1z" fill="#106c94"/>
<path d="M209.4,196.7 212.4,200.4 214.1,199.0 211.1,195.3z" fill="#0e5893"/>
<path d="M212.0,199.9 215.0,203.6 216.7,202.2 213.7,198.5z" fill="#0c4493"/>
<path d="M217.2,206.3 220.2,210.0 221.9,208.7 218.9,204.9z" fill="#091f92"/>
<path d="M214.6,203.1 217.6,206.8 219.3,205.4 216.3,201.7z" fill="#0b3092"/>
<path d="M173.5,160.8 176.6,163.7 178.4,162.3 175.3,159.4z" fill="#3c9d15"/>
<path d="M109.2,142.7 112.4,143.3 114.2,141.9 111.0,141.3z" fill="#4e4e06"/>
<path d="M141.7,145.0 144.9,146.8 146.8,145.4 143.6,143.6z" fill="#969b0d"/>
<path d="M161.2,153.1 164.3,155.6 166.1,154.2 163.0,151.7z" fill="#699c11"/>
<path d="M127.6,142.5 130.9,143.8 132.7,142.4 129.5,141.1z" fill="#9b940d"/>
<path d="M134.7,143.5 137.9,145.1 139.7,143.7 136.5,142.1z" fill="#9b980d"/>
<path d="M176.2,163.2 179.3,166.2 181.1,164.8 178.0,161.8z" fill="#2e9e17"/>
<path d="M151.5,148.5 154.6,150.7 156.5,149.3 153.3,147.2z" fill="#839c0f"/>
<path d="M104.8,143.5 108.1,143.9 109.9,142.6 106.6,142.1z" fill="#333404"/>
<path d="M178.9,165.8 182.0,168.8 183.7,167.4 180.6,164.3z" fill="#1f9e18"/>
<path d="M116.2,142.5 119.5,143.3 121.3,141.9 118.0,141.1z" fill="#7f7a0b"/>
<path d="M163.9,155.1 167.0,157.7 168.8,156.3 165.7,153.7z" fill="#5f9c12"/>
<path d="M181.5,168.4 184.6,171.5 186.4,170.1 183.3,167.0z" fill="#189d21"/>
<path d="M144.4,146.4 147.6,148.4 149.5,147.0 146.3,145.0z" fill="#909b0d"/>
<path d="M154.2,150.3 157.3,152.6 159.2,151.2 156.0,148.9z" fill="#7b9c0f"/>
<path d="M100.5,144.5 103.8,144.7 105.5,143.4 102.3,143.1z" fill="#1b1d02"/>
<path d="M123.3,142.7 126.5,143.9 128.3,142.5 125.1,141.3z" fill="#9a920d"/>
<path d="M184.2,171.1 187.3,174.3 189.0,172.9 186.0,169.6z" fill="#189c30"/>
<path d="M166.6,157.3 169.7,160.0 171.5,158.6 168.4,155.9z" fill="#549d13"/>
<path d="M137.4,144.7 140.6,146.4 142.4,145.0 139.2,143.3z" fill="#999b0d"/>
<path d="M130.4,143.5 133.6,144.9 135.4,143.5 132.2,142.1z" fill="#9b960d"/>
<path d="M186.9,173.8 189.9,177.1 191.7,175.7 188.6,172.4z" fill="#179a3f"/>
<path d="M111.9,143.0 115.1,143.8 116.9,142.4 113.7,141.6z" fill="#686609"/>
<path d="M189.5,176.7 192.6,180.0 194.3,178.6 191.3,175.2z" fill="#16994f"/>
<path d="M169.3,159.6 172.4,162.4 174.2,161.0 171.1,158.2z" fill="#489d14"/>
<path d="M192.2,179.5 195.2,183.0 197.0,181.5 193.9,178.1z" fill="#159760"/>
<path d="M156.9,152.2 160.0,154.6 161.9,153.2 158.7,150.8z" fill="#729c10"/>
<path d="M147.2,148.0 150.3,150.0 152.2,148.6 149.0,146.6z" fill="#899b0e"/>
<path d="M194.8,182.5 197.9,186.0 199.6,184.5 196.6,181.1z" fill="#149571"/>
<path d="M197.4,185.5 200.5,189.0 202.2,187.6 199.2,184.1z" fill="#139383"/>
<path d="M200.1,188.5 203.1,192.1 204.8,190.7 201.8,187.1z" fill="#139195"/>
<path d="M119.0,143.1 122.2,144.1 124.0,142.7 120.8,141.7z" fill="#918a0c"/>
<path d="M202.7,191.6 205.7,195.2 207.4,193.8 204.4,190.2z" fill="#117f94"/>
<path d="M205.3,194.7 208.3,198.4 210.0,197.0 207.0,193.3z" fill="#106c94"/>
<path d="M171.9,162.0 175.1,164.9 176.9,163.4 173.7,160.6z" fill="#3b9d16"/>
<path d="M207.9,197.9 210.9,201.6 212.6,200.2 209.6,196.5z" fill="#0e5893"/>
<path d="M107.5,143.7 110.8,144.3 112.6,142.9 109.3,142.3z" fill="#4e4e06"/>
<path d="M210.5,201.1 213.5,204.8 215.2,203.4 212.2,199.7z" fill="#0c4493"/>
<path d="M213.1,204.3 216.1,208.0 217.8,206.6 214.8,202.9z" fill="#0b3092"/>
<path d="M215.7,207.5 218.7,211.2 220.4,209.8 217.4,206.1z" fill="#091f92"/>
<path d="M140.1,146.1 143.3,147.9 145.1,146.5 141.9,144.7z" fill="#949b0d"/>
<path d="M159.6,154.2 162.7,156.7 164.6,155.3 161.4,152.8z" fill="#689c11"/>
<path d="M126.0,143.6 129.2,144.9 131.1,143.5 127.8,142.2z" fill="#9b950d"/>
<path d="M133.1,144.6 136.3,146.1 138.1,144.8 134.9,143.2z" fill="#9b9a0d"/>
<path d="M174.6,164.4 177.7,167.4 179.5,166.0 176.4,163.0z" fill="#2d9e17"/>
<path d="M149.9,149.7 153.1,151.8 154.9,150.4 151.7,148.3z" fill="#829c0f"/>
<path d="M103.2,144.6 106.5,145.0 108.2,143.6 105.0,143.2z" fill="#323404"/>
<path d="M177.3,167.0 180.4,170.0 182.2,168.6 179.1,165.5z" fill="#1e9e18"/>
<path d="M114.6,143.5 117.8,144.4 119.6,143.0 116.4,142.1z" fill="#7f7b0b"/>
<path d="M162.3,156.3 165.4,158.9 167.2,157.5 164.1,154.9z" fill="#5d9c12"/>
<path d="M180.0,169.6 183.1,172.7 184.9,171.3 181.8,168.2z" fill="#189d22"/>
<path d="M142.8,147.5 146.0,149.5 147.9,148.1 144.7,146.1z" fill="#8e9b0e"/>
<path d="M152.6,151.4 155.8,153.7 157.6,152.3 154.4,150.1z" fill="#799c10"/>
<path d="M121.7,143.8 124.9,144.9 126.7,143.6 123.5,142.4z" fill="#9a940d"/>
<path d="M182.7,172.3 185.7,175.5 187.5,174.1 184.4,170.9z" fill="#189c31"/>
<path d="M165.0,158.5 168.1,161.2 169.9,159.8 166.8,157.1z" fill="#529d13"/>
<path d="M135.8,145.8 139.0,147.5 140.8,146.1 137.6,144.4z" fill="#989b0d"/>
<path d="M128.7,144.6 132.0,146.0 133.8,144.6 130.6,143.2z" fill="#9b980d"/>
<path d="M185.3,175.0 188.4,178.3 190.2,176.9 187.1,173.6z" fill="#179a40"/>
<path d="M110.2,144.1 113.5,144.8 115.3,143.4 112.0,142.7z" fill="#686608"/>
<path d="M188.0,177.9 191.1,181.2 192.8,179.8 189.7,176.4z" fill="#169950"/>
<path d="M167.7,160.8 170.8,163.6 172.6,162.2 169.5,159.4z" fill="#469d14"/>
<path d="M190.6,180.8 193.7,184.2 195.4,182.8 192.4,179.3z" fill="#159761"/>
<path d="M155.3,153.3 158.5,155.7 160.3,154.3 157.1,151.9z" fill="#709c10"/>
<path d="M145.6,149.1 148.7,151.1 150.6,149.8 147.4,147.7z" fill="#889b0e"/>
<path d="M193.3,183.7 196.3,187.2 198.1,185.8 195.0,182.3z" fill="#149572"/>
<path d="M195.9,186.7 199.0,190.3 200.7,188.8 197.7,185.3z" fill="#139383"/>
<path d="M198.6,189.8 201.6,193.3 203.3,191.9 200.3,188.3z" fill="#139195"/>
<path d="M117.3,144.1 120.6,145.1 122.4,143.7 119.1,142.7z" fill="#918c0c"/>
<path d="M201.2,192.9 204.2,196.5 205.9,195.0 202.9,191.4z" fill="#117f94"/>
<path d="M170.4,163.1 173.5,166.1 175.3,164.6 172.2,161.7z" fill="#3a9d16"/>
<path d="M203.8,196.0 206.8,199.6 208.6,198.2 205.5,194.6z" fill="#106c94"/>
<path d="M105.9,144.8 109.2,145.4 110.9,144.0 107.7,143.4z" fill="#4d4e06"/>
<path d="M206.4,199.1 209.5,202.8 211.2,201.4 208.2,197.7z" fill="#0e5893"/>
<path d="M209.0,202.3 212.1,206.0 213.8,204.6 210.8,200.9z" fill="#0c4493"/>
<path d="M211.7,205.5 214.7,209.2 216.3,207.8 213.4,204.1z" fill="#0b3092"/>
<path d="M138.5,147.2 141.7,149.0 143.5,147.6 140.3,145.8z" fill="#939b0d"/>
<path d="M214.3,208.7 217.2,212.3 218.9,211.0 215.9,207.3z" fill="#091f92"/>
<path d="M158.0,155.3 161.2,157.9 163.0,156.4 159.8,153.9z" fill="#679c11"/>
<path d="M124.4,144.6 127.6,145.9 129.4,144.6 126.2,143.3z" fill="#9b960d"/>
<path d="M131.4,145.7 134.7,147.2 136.5,145.8 133.3,144.3z" fill="#9b9b0c"/>
<path d="M173.1,165.6 176.2,168.6 178.0,167.2 174.9,164.2z" fill="#2c9e17"/>
<path d="M148.3,150.8 151.5,153.0 153.3,151.6 150.1,149.4z" fill="#809c0f"/>
<path d="M175.8,168.2 178.9,171.2 180.6,169.8 177.5,166.7z" fill="#1d9e18"/>
<path d="M113.0,144.6 116.2,145.4 118.0,144.0 114.8,143.2z" fill="#7f7c0a"/>
<path d="M160.7,157.4 163.9,160.1 165.7,158.7 162.5,156.0z" fill="#5c9c12"/>
<path d="M178.4,170.8 181.5,173.9 183.3,172.5 180.2,169.4z" fill="#189d23"/>
<path d="M141.2,148.6 144.4,150.6 146.3,149.2 143.1,147.2z" fill="#8d9b0e"/>
<path d="M151.0,152.6 154.2,154.9 156.0,153.5 152.8,151.2z" fill="#789c10"/>
<path d="M181.1,173.5 184.2,176.7 186.0,175.3 182.9,172.1z" fill="#189c31"/>
<path d="M120.0,144.8 123.3,146.0 125.1,144.6 121.8,143.5z" fill="#9a950d"/>
<path d="M163.4,159.6 166.6,162.4 168.4,161.0 165.2,158.2z" fill="#519d13"/>
<path d="M134.2,146.9 137.4,148.6 139.2,147.2 136.0,145.5z" fill="#979b0d"/>
<path d="M127.1,145.6 130.3,147.1 132.1,145.7 128.9,144.2z" fill="#9b990d"/>
<path d="M183.8,176.3 186.9,179.6 188.6,178.1 185.6,174.8z" fill="#179a41"/>
<path d="M108.6,145.1 111.9,145.8 113.7,144.5 110.4,143.7z" fill="#686708"/>
<path d="M186.5,179.1 189.5,182.5 191.3,181.0 188.2,177.7z" fill="#169951"/>
<path d="M166.1,161.9 169.3,164.8 171.1,163.3 167.9,160.5z" fill="#459d15"/>
<path d="M189.1,182.0 192.2,185.4 193.9,184.0 190.9,180.6z" fill="#159761"/>
<path d="M153.7,154.5 156.9,156.9 158.7,155.5 155.5,153.1z" fill="#6f9c11"/>
<path d="M144.0,150.2 147.1,152.3 149.0,150.9 145.8,148.8z" fill="#879b0e"/>
<path d="M191.8,185.0 194.8,188.4 196.6,187.0 193.5,183.5z" fill="#149572"/>
<path d="M194.4,188.0 197.5,191.5 199.2,190.1 196.2,186.5z" fill="#139383"/>
<path d="M197.1,191.0 200.1,194.6 201.8,193.1 198.8,189.6z" fill="#139195"/>
<path d="M115.7,145.2 118.9,146.2 120.7,144.8 117.5,143.8z" fill="#918d0c"/>
<path d="M199.7,194.1 202.7,197.7 204.5,196.3 201.4,192.7z" fill="#117f94"/>
<path d="M168.8,164.3 171.9,167.2 173.7,165.8 170.6,162.9z" fill="#399d16"/>
<path d="M202.3,197.2 205.4,200.8 207.1,199.4 204.1,195.8z" fill="#106c94"/>
<path d="M205.0,200.4 208.0,204.0 209.7,202.6 206.7,198.9z" fill="#0e5893"/>
<path d="M207.6,203.5 210.6,207.2 212.3,205.8 209.3,202.1z" fill="#0c4593"/>
<path d="M136.9,148.2 140.1,150.1 141.9,148.7 138.7,146.9z" fill="#929b0d"/>
<path d="M210.2,206.7 213.2,210.3 214.9,209.0 211.9,205.3z" fill="#0b3092"/>
<path d="M212.8,209.9 215.8,213.5 217.5,212.2 214.5,208.5z" fill="#091f92"/>
<path d="M156.4,156.5 159.6,159.0 161.4,157.6 158.2,155.1z" fill="#669c11"/>
<path d="M122.7,145.7 126.0,147.0 127.8,145.6 124.6,144.3z" fill="#9b980d"/>
<path d="M129.8,146.7 133.1,148.3 134.9,146.9 131.6,145.4z" fill="#9a9b0d"/>
<path d="M171.5,166.8 174.6,169.8 176.4,168.4 173.3,165.4z" fill="#2b9e17"/>
<path d="M146.7,151.9 149.9,154.1 151.7,152.7 148.5,150.5z" fill="#7f9c0f"/>
<path d="M174.2,169.4 177.3,172.4 179.1,171.0 176.0,167.9z" fill="#1c9e18"/>
<path d="M111.3,145.6 114.6,146.5 116.4,145.1 113.1,144.2z" fill="#7f7d0a"/>
<path d="M159.1,158.6 162.3,161.2 164.1,159.8 160.9,157.2z" fill="#5b9d12"/>
<path d="M176.9,172.0 180.0,175.2 181.8,173.7 178.7,170.6z" fill="#189d24"/>
<path d="M139.6,149.7 142.8,151.7 144.6,150.3 141.4,148.3z" fill="#8c9b0e"/>
<path d="M149.4,153.7 152.6,156.0 154.4,154.6 151.2,152.3z" fill="#779c10"/>
<path d="M179.6,174.7 182.7,177.9 184.4,176.5 181.3,173.3z" fill="#189c32"/>
<path d="M118.4,145.9 121.6,147.1 123.4,145.7 120.2,144.5z" fill="#9a970d"/>
<path d="M161.8,160.8 165.0,163.5 166.8,162.1 163.6,159.4z" fill="#509d14"/>
<path d="M132.6,148.0 135.8,149.7 137.6,148.3 134.4,146.6z" fill="#959b0d"/>
<path d="M182.3,177.5 185.3,180.8 187.1,179.4 184.0,176.1z" fill="#179a41"/>
<path d="M125.5,146.7 128.7,148.1 130.5,146.7 127.3,145.3z" fill="#9b9a0c"/>
<path d="M184.9,180.3 188.0,183.7 189.8,182.3 186.7,178.9z" fill="#169851"/>
<path d="M164.6,163.1 167.7,165.9 169.5,164.5 166.3,161.7z" fill="#449d15"/>
<path d="M187.6,183.2 190.7,186.7 192.4,185.2 189.3,181.8z" fill="#159761"/>
<path d="M152.1,155.6 155.3,158.0 157.1,156.6 153.9,154.2z" fill="#6e9c11"/>
<path d="M142.3,151.3 145.6,153.4 147.4,152.0 144.2,149.9z" fill="#859c0e"/>
<path d="M190.3,186.2 193.3,189.7 195.1,188.2 192.0,184.8z" fill="#149572"/>
<path d="M192.9,189.2 196.0,192.7 197.7,191.3 194.6,187.8z" fill="#139384"/>
<path d="M195.6,192.3 198.6,195.8 200.3,194.4 197.3,190.8z" fill="#139195"/>
<path d="M198.2,195.3 201.2,198.9 203.0,197.5 199.9,193.9z" fill="#117f94"/>
<path d="M114.0,146.2 117.3,147.2 119.1,145.9 115.8,144.8z" fill="#918f0c"/>
<path d="M167.3,165.5 170.4,168.4 172.2,167.0 169.0,164.1z" fill="#389d16"/>
<path d="M200.8,198.4 203.9,202.1 205.6,200.7 202.6,197.0z" fill="#106c94"/>
<path d="M203.5,201.6 206.5,205.2 208.2,203.8 205.2,200.2z" fill="#0e5993"/>
<path d="M135.3,149.3 138.5,151.1 140.3,149.8 137.1,147.9z" fill="#919b0d"/>
<path d="M206.1,204.7 209.1,208.4 210.8,207.0 207.8,203.3z" fill="#0c4593"/>
<path d="M208.7,207.9 211.7,211.5 213.4,210.2 210.4,206.5z" fill="#0b3192"/>
<path d="M211.3,211.0 214.3,214.7 216.0,213.3 213.0,209.7z" fill="#091f92"/>
<path d="M154.8,157.6 158.0,160.1 159.8,158.7 156.6,156.2z" fill="#649c12"/>
<path d="M121.1,146.8 124.4,148.1 126.2,146.7 122.9,145.4z" fill="#9b990d"/>
<path d="M170.0,168.0 173.1,171.0 174.9,169.6 171.7,166.6z" fill="#2a9e17"/>
<path d="M128.2,147.8 131.4,149.4 133.3,148.0 130.0,146.4z" fill="#989b0d"/>
<path d="M145.1,153.0 148.3,155.2 150.1,153.8 146.9,151.6z" fill="#7e9c0f"/>
<path d="M172.7,170.5 175.8,173.6 177.6,172.2 174.4,169.1z" fill="#1b9e19"/>
<path d="M157.6,159.7 160.7,162.4 162.5,161.0 159.4,158.3z" fill="#5a9d13"/>
<path d="M175.3,173.2 178.5,176.4 180.2,174.9 177.1,171.8z" fill="#189d24"/>
<path d="M138.0,150.8 141.2,152.8 143.0,151.4 139.8,149.4z" fill="#8b9b0e"/>
<path d="M147.8,154.8 151.0,157.1 152.8,155.7 149.6,153.4z" fill="#769c10"/>
<path d="M178.0,175.9 181.1,179.2 182.9,177.7 179.8,174.5z" fill="#179b33"/>
<path d="M116.8,146.9 120.0,148.1 121.8,146.7 118.6,145.6z" fill="#9a980d"/>
<path d="M160.3,161.9 163.4,164.7 165.2,163.3 162.1,160.6z" fill="#4f9d14"/>
<path d="M130.9,149.0 134.2,150.7 136.0,149.4 132.8,147.7z" fill="#949b0d"/>
<path d="M180.7,178.7 183.8,182.0 185.6,180.6 182.5,177.3z" fill="#179a42"/>
<path d="M123.8,147.7 127.1,149.2 128.9,147.8 125.7,146.4z" fill="#9a9b0c"/>
<path d="M183.4,181.6 186.5,184.9 188.2,183.5 185.2,180.1z" fill="#169852"/>
<path d="M186.1,184.5 189.1,187.9 190.9,186.5 187.8,183.0z" fill="#159762"/>
<path d="M163.0,164.3 166.1,167.1 167.9,165.7 164.8,162.9z" fill="#439d15"/>
<path d="M150.5,156.7 153.7,159.1 155.5,157.8 152.3,155.3z" fill="#6d9c11"/>
<path d="M140.7,152.4 144.0,154.5 145.8,153.1 142.6,151.0z" fill="#849c0f"/>
<path d="M188.7,187.4 191.8,190.9 193.5,189.5 190.5,186.0z" fill="#149573"/>
<path d="M191.4,190.4 194.5,194.0 196.2,192.5 193.1,189.0z" fill="#139384"/>
<path d="M194.0,193.5 197.1,197.1 198.8,195.6 195.8,192.1z" fill="#139195"/>
<path d="M165.7,166.7 168.8,169.6 170.6,168.2 167.5,165.3z" fill="#369d16"/>
<path d="M196.7,196.6 199.7,200.2 201.5,198.7 198.4,195.1z" fill="#117f94"/>
<path d="M199.3,199.7 202.4,203.3 204.1,201.9 201.1,198.3z" fill="#106c94"/>
<path d="M202.0,202.8 205.0,206.4 206.7,205.0 203.7,201.4z" fill="#0e5993"/>
<path d="M133.7,150.4 136.9,152.2 138.7,150.9 135.5,149.0z" fill="#8f9b0e"/>
<path d="M204.6,206.0 207.6,209.6 209.3,208.2 206.3,204.5z" fill="#0c4593"/>
<path d="M207.2,209.1 210.3,212.7 211.9,211.3 208.9,207.7z" fill="#0b3192"/>
<path d="M153.3,158.7 156.4,161.3 158.2,159.9 155.1,157.4z" fill="#639c12"/>
<path d="M209.8,212.2 212.9,215.9 214.6,214.5 211.5,210.9z" fill="#091f92"/>
<path d="M119.5,147.8 122.7,149.1 124.5,147.7 121.3,146.4z" fill="#9b9a0c"/>
<path d="M168.4,169.2 171.5,172.2 173.3,170.8 170.2,167.8z" fill="#299e17"/>
<path d="M126.6,148.9 129.8,150.4 131.6,149.1 128.4,147.5z" fill="#979b0d"/>
<path d="M143.5,154.1 146.7,156.3 148.5,154.9 145.3,152.7z" fill="#7d9c0f"/>
<path d="M171.1,171.7 174.2,174.9 176.0,173.4 172.9,170.3z" fill="#1a9e19"/>
<path d="M156.0,160.9 159.1,163.5 160.9,162.1 157.8,159.5z" fill="#599d13"/>
<path d="M173.8,174.4 176.9,177.6 178.7,176.2 175.6,173.0z" fill="#189d25"/>
<path d="M136.4,151.9 139.6,153.8 141.4,152.5 138.2,150.5z" fill="#8a9b0e"/>
<path d="M146.2,155.9 149.4,158.2 151.2,156.8 148.0,154.5z" fill="#759c10"/>
<path d="M176.5,177.1 179.6,180.4 181.4,179.0 178.3,175.7z" fill="#179b34"/>
<path d="M158.7,163.1 161.9,165.9 163.7,164.5 160.5,161.7z" fill="#4e9d14"/>
<path d="M129.3,150.1 132.5,151.8 134.4,150.4 131.1,148.7z" fill="#939b0d"/>
<path d="M179.2,179.9 182.3,183.3 184.0,181.8 180.9,178.5z" fill="#179a43"/>
<path d="M122.2,148.8 125.5,150.3 127.3,148.9 124.0,147.4z" fill="#999b0d"/>
<path d="M181.9,182.8 185.0,186.2 186.7,184.7 183.6,181.4z" fill="#169852"/>
<path d="M184.5,185.7 187.6,189.1 189.4,187.7 186.3,184.3z" fill="#159762"/>
<path d="M161.4,165.4 164.6,168.3 166.4,166.9 163.2,164.0z" fill="#429d15"/>
<path d="M148.9,157.8 152.1,160.3 153.9,158.9 150.8,156.5z" fill="#6c9c11"/>
<path d="M139.1,153.5 142.4,155.6 144.2,154.2 141.0,152.1z" fill="#839c0f"/>
<path d="M187.2,188.7 190.3,192.2 192.0,190.7 189.0,187.2z" fill="#149573"/>
<path d="M189.9,191.7 193.0,195.2 194.7,193.8 191.6,190.2z" fill="#139384"/>
<path d="M192.5,194.7 195.6,198.3 197.3,196.9 194.3,193.3z" fill="#139195"/>
<path d="M164.1,167.8 167.3,170.8 169.1,169.4 165.9,166.4z" fill="#359d16"/>
<path d="M195.2,197.8 198.3,201.4 200.0,200.0 196.9,196.4z" fill="#117f94"/>
<path d="M197.8,200.9 200.9,204.5 202.6,203.1 199.6,199.5z" fill="#106c94"/>
<path d="M200.5,204.0 203.5,207.7 205.2,206.3 202.2,202.6z" fill="#0e5993"/>
<path d="M132.1,151.5 135.3,153.3 137.1,151.9 133.9,150.1z" fill="#8e9b0e"/>
<path d="M203.1,207.2 206.2,210.8 207.9,209.4 204.8,205.8z" fill="#0c4593"/>
<path d="M151.7,159.9 154.9,162.4 156.7,161.0 153.5,158.5z" fill="#629c12"/>
<path d="M205.8,210.3 208.8,213.9 210.5,212.5 207.5,208.9z" fill="#0b3192"/>
<path d="M166.8,170.4 170.0,173.4 171.8,172.0 168.6,168.9z" fill="#289e17"/>
<path d="M208.4,213.4 211.4,217.0 213.1,215.7 210.1,212.1z" fill="#091f92"/>
<path d="M125.0,149.9 128.2,151.5 130.0,150.1 126.8,148.6z" fill="#969b0d"/>
<path d="M141.9,155.2 145.1,157.4 146.9,156.0 143.7,153.8z" fill="#7c9c0f"/>
<path d="M169.5,172.9 172.7,176.1 174.5,174.6 171.3,171.5z" fill="#1a9e19"/>
<path d="M154.4,162.0 157.6,164.7 159.4,163.3 156.2,160.6z" fill="#589d13"/>
<path d="M172.3,175.6 175.4,178.8 177.1,177.4 174.0,174.2z" fill="#189d26"/>
<path d="M134.8,153.0 138.0,154.9 139.8,153.6 136.6,151.6z" fill="#889b0e"/>
<path d="M144.6,157.0 147.8,159.4 149.6,158.0 146.4,155.6z" fill="#749c10"/>
<path d="M175.0,178.3 178.1,181.6 179.8,180.2 176.7,176.9z" fill="#179b34"/>
<path d="M157.1,164.3 160.3,167.0 162.1,165.6 158.9,162.9z" fill="#4d9d14"/>
<path d="M177.6,181.1 180.8,184.5 182.5,183.0 179.4,179.7z" fill="#179a43"/>
<path d="M127.7,151.2 130.9,152.9 132.8,151.5 129.5,149.8z" fill="#929b0d"/>
<path d="M180.3,184.0 183.4,187.4 185.2,186.0 182.1,182.6z" fill="#169853"/>
<path d="M183.0,186.9 186.1,190.4 187.9,188.9 184.8,185.5z" fill="#159763"/>
<path d="M159.8,166.6 163.0,169.5 164.8,168.0 161.6,165.2z" fill="#419d15"/>
<path d="M147.3,159.0 150.5,161.4 152.4,160.0 149.2,157.6z" fill="#6b9c11"/>
<path d="M185.7,189.9 188.8,193.4 190.5,192.0 187.4,188.5z" fill="#149573"/>
<path d="M137.5,154.6 140.8,156.7 142.6,155.3 139.4,153.2z" fill="#829c0f"/>
<path d="M188.4,192.9 191.4,196.5 193.2,195.0 190.1,191.5z" fill="#139384"/>
<path d="M191.0,196.0 194.1,199.5 195.8,198.1 192.8,194.5z" fill="#139195"/>
<path d="M162.6,169.0 165.7,172.0 167.5,170.6 164.4,167.6z" fill="#349d16"/>
<path d="M193.7,199.1 196.8,202.6 198.5,201.2 195.4,197.6z" fill="#117f94"/>
<path d="M196.4,202.2 199.4,205.8 201.1,204.3 198.1,200.7z" fill="#106c94"/>
<path d="M199.0,205.3 202.0,208.9 203.8,207.5 200.7,203.9z" fill="#0e5993"/>
<path d="M130.4,152.5 133.7,154.4 135.5,153.0 132.3,151.2z" fill="#8d9b0e"/>
<path d="M201.6,208.4 204.7,212.0 206.4,210.6 203.4,207.0z" fill="#0c4693"/>
<path d="M150.1,161.0 153.3,163.6 155.1,162.2 151.9,159.6z" fill="#619c12"/>
<path d="M204.3,211.5 207.3,215.1 209.0,213.7 206.0,210.1z" fill="#0b3292"/>
<path d="M165.3,171.5 168.4,174.6 170.2,173.2 167.1,170.1z" fill="#279e17"/>
<path d="M206.9,214.6 209.9,218.2 211.6,216.9 208.6,213.3z" fill="#091f92"/>
<path d="M140.3,156.3 143.5,158.5 145.3,157.1 142.1,154.9z" fill="#7b9c0f"/>
<path d="M168.0,174.1 171.1,177.3 172.9,175.8 169.8,172.7z" fill="#199e19"/>
<path d="M152.8,163.2 156.0,165.8 157.8,164.4 154.6,161.8z" fill="#579d13"/>
<path d="M170.7,176.8 173.8,180.0 175.6,178.6 172.5,175.4z" fill="#189d27"/>
<path d="M133.2,154.0 136.4,156.0 138.2,154.7 135.0,152.7z" fill="#879b0e"/>
<path d="M173.4,179.6 176.5,182.8 178.3,181.4 175.2,178.1z" fill="#179b35"/>
<path d="M143.0,158.1 146.2,160.5 148.0,159.1 144.8,156.8z" fill="#729c10"/>
<path d="M155.5,165.4 158.7,168.2 160.5,166.8 157.4,164.0z" fill="#4c9d14"/>
<path d="M176.1,182.4 179.2,185.7 181.0,184.3 177.9,180.9z" fill="#179a44"/>
<path d="M178.8,185.2 181.9,188.6 183.7,187.2 180.6,183.8z" fill="#169853"/>
<path d="M181.5,188.2 184.6,191.6 186.3,190.2 183.3,186.7z" fill="#159763"/>
<path d="M158.3,167.8 161.4,170.6 163.2,169.2 160.1,166.4z" fill="#409d15"/>
<path d="M145.8,160.1 149.0,162.5 150.8,161.2 147.6,158.7z" fill="#6a9c11"/>
<path d="M184.2,191.2 187.3,194.7 189.0,193.2 185.9,189.7z" fill="#149573"/>
<path d="M135.9,155.7 139.2,157.8 141.0,156.4 137.8,154.3z" fill="#819c0f"/>
<path d="M186.9,194.2 189.9,197.7 191.7,196.3 188.6,192.7z" fill="#139384"/>
<path d="M189.5,197.2 192.6,200.8 194.3,199.3 191.3,195.8z" fill="#139195"/>
<path d="M161.0,170.2 164.2,173.2 166.0,171.7 162.8,168.8z" fill="#339d16"/>
<path d="M192.2,200.3 195.3,203.9 197.0,202.5 193.9,198.9z" fill="#117f94"/>
<path d="M194.9,203.4 197.9,207.0 199.6,205.6 196.6,202.0z" fill="#106c94"/>
<path d="M197.5,206.5 200.6,210.1 202.3,208.7 199.2,205.1z" fill="#0e5993"/>
<path d="M148.5,162.1 151.7,164.7 153.5,163.3 150.3,160.8z" fill="#609c12"/>
<path d="M200.2,209.6 203.2,213.2 204.9,211.8 201.9,208.2z" fill="#0c4693"/>
<path d="M163.7,172.7 166.9,175.8 168.7,174.4 165.5,171.3z" fill="#269e18"/>
<path d="M202.8,212.7 205.8,216.3 207.5,214.9 204.5,211.3z" fill="#0b3292"/>
<path d="M205.4,215.8 208.5,219.4 210.2,218.0 207.1,214.5z" fill="#091f92"/>
<path d="M138.7,157.4 141.9,159.6 143.7,158.3 140.5,156.0z" fill="#799c10"/>
<path d="M166.4,175.3 169.6,178.5 171.4,177.0 168.2,173.9z" fill="#199e1a"/>
<path d="M151.2,164.3 154.4,167.0 156.2,165.6 153.0,162.9z" fill="#569d13"/>
<path d="M169.2,178.0 172.3,181.2 174.1,179.8 170.9,176.6z" fill="#189d27"/>
<path d="M171.9,180.8 175.0,184.1 176.8,182.6 173.6,179.3z" fill="#179b35"/>
<path d="M141.4,159.2 144.6,161.6 146.4,160.2 143.2,157.9z" fill="#719c10"/>
<path d="M154.0,166.6 157.2,169.3 159.0,167.9 155.8,165.2z" fill="#4b9d14"/>
<path d="M174.6,183.6 177.7,186.9 179.5,185.5 176.3,182.2z" fill="#179a44"/>
<path d="M177.3,186.5 180.4,189.9 182.1,188.4 179.0,185.0z" fill="#169853"/>
<path d="M180.0,189.4 183.1,192.9 184.8,191.4 181.7,188.0z" fill="#159763"/>
<path d="M156.7,168.9 159.9,171.8 161.7,170.4 158.5,167.5z" fill="#3f9d15"/>
<path d="M144.2,161.2 147.4,163.7 149.2,162.3 146.0,159.8z" fill="#689c11"/>
<path d="M182.7,192.4 185.8,195.9 187.5,194.4 184.4,191.0z" fill="#149574"/>
<path d="M185.3,195.4 188.4,199.0 190.2,197.5 187.1,194.0z" fill="#139385"/>
<path d="M188.0,198.5 191.1,202.0 192.8,200.6 189.8,197.0z" fill="#139195"/>
<path d="M159.4,171.4 162.6,174.3 164.4,172.9 161.2,170.0z" fill="#329d16"/>
<path d="M190.7,201.6 193.8,205.1 195.5,203.7 192.4,200.1z" fill="#117f94"/>
<path d="M193.4,204.7 196.4,208.2 198.1,206.8 195.1,203.2z" fill="#106c94"/>
<path d="M196.0,207.8 199.1,211.4 200.8,209.9 197.7,206.3z" fill="#0e5a93"/>
<path d="M146.9,163.3 150.1,165.9 151.9,164.5 148.7,161.9z" fill="#5f9c12"/>
<path d="M198.7,210.9 201.7,214.5 203.4,213.0 200.4,209.4z" fill="#0c4693"/>
<path d="M162.2,173.9 165.3,177.0 167.1,175.6 164.0,172.5z" fill="#259e18"/>
<path d="M201.3,214.0 204.4,217.5 206.1,216.1 203.0,212.6z" fill="#0b3392"/>
<path d="M204.0,217.1 207.0,220.6 208.7,219.2 205.7,215.7z" fill="#091f92"/>
<path d="M164.9,176.5 168.0,179.7 169.8,178.2 166.7,175.1z" fill="#199e1a"/>
<path d="M149.7,165.4 152.9,168.1 154.7,166.7 151.5,164.1z" fill="#559d13"/>
<path d="M167.6,179.2 170.8,182.4 172.5,181.0 169.4,177.8z" fill="#189d28"/>
<path d="M170.3,182.0 173.5,185.3 175.2,183.8 172.1,180.6z" fill="#179b36"/>
<path d="M152.4,167.7 155.6,170.5 157.4,169.1 154.2,166.3z" fill="#4a9d14"/>
<path d="M173.0,184.8 176.2,188.2 177.9,186.7 174.8,183.4z" fill="#179a45"/>
<path d="M175.8,187.7 178.9,191.1 180.6,189.7 177.5,186.3z" fill="#169854"/>
<path d="M178.5,190.7 181.6,194.1 183.3,192.7 180.2,189.2z" fill="#159764"/>
<path d="M155.1,170.1 158.3,173.0 160.1,171.6 156.9,168.7z" fill="#3e9d15"/>
<path d="M181.1,193.6 184.3,197.1 186.0,195.7 182.9,192.2z" fill="#149574"/>
<path d="M183.8,196.7 186.9,200.2 188.7,198.8 185.6,195.2z" fill="#139385"/>
<path d="M186.5,199.7 189.6,203.3 191.3,201.8 188.3,198.3z" fill="#139195"/>
<path d="M157.9,172.5 161.1,175.5 162.8,174.1 159.7,171.1z" fill="#319e16"/>
<path d="M189.2,202.8 192.3,206.4 194.0,204.9 190.9,201.4z" fill="#117f94"/>
<path d="M191.9,205.9 194.9,209.5 196.7,208.0 193.6,204.5z" fill="#106d94"/>
<path d="M194.5,209.0 197.6,212.6 199.3,211.2 196.3,207.6z" fill="#0e5a93"/>
<path d="M160.6,175.1 163.8,178.2 165.6,176.8 162.4,173.7z" fill="#249e18"/>
<path d="M197.2,212.1 200.3,215.7 202.0,214.3 198.9,210.7z" fill="#0d4793"/>
<path d="M199.9,215.2 202.9,218.7 204.6,217.3 201.6,213.8z" fill="#0b3392"/>
<path d="M202.5,218.3 205.6,221.8 207.2,220.4 204.2,216.9z" fill="#091f92"/>
<path d="M163.3,177.7 166.5,180.9 168.3,179.5 165.1,176.3z" fill="#199e1b"/>
<path d="M166.1,180.4 169.2,183.7 171.0,182.2 167.8,179.0z" fill="#189d29"/>
<path d="M168.8,183.2 171.9,186.5 173.7,185.1 170.6,181.8z" fill="#179b36"/>
<path d="M171.5,186.0 174.6,189.4 176.4,188.0 173.3,184.6z" fill="#179a45"/>
<path d="M174.2,188.9 177.3,192.4 179.1,190.9 176.0,187.5z" fill="#169854"/>
<path d="M176.9,191.9 180.0,195.4 181.8,193.9 178.7,190.4z" fill="#159764"/>
<path d="M179.6,194.9 182.7,198.4 184.5,196.9 181.4,193.4z" fill="#149574"/>
<path d="M182.3,197.9 185.4,201.5 187.2,200.0 184.1,196.5z" fill="#139385"/>
<path d="M185.0,201.0 188.1,204.5 189.8,203.1 186.7,199.5z" fill="#139195"/>
<path d="M187.7,204.1 190.8,207.6 192.5,206.2 189.4,202.6z" fill="#117f94"/>
<path d="M190.4,207.1 193.5,210.7 195.2,209.3 192.1,205.7z" fill="#106d94"/>
<path d="M193.0,210.2 196.1,213.8 197.8,212.4 194.8,208.8z" fill="#0e5a93"/>
<path d="M195.7,213.3 198.8,216.9 200.5,215.5 197.4,211.9z" fill="#0d4793"/>
<path d="M198.4,216.4 201.4,220.0 203.1,218.5 200.1,215.0z" fill="#0b3492"/>
<path d="M201.0,219.5 204.1,223.0 205.8,221.6 202.7,218.1z" fill="#092092"/>
<text x="0.5" y="9.6" font-size="13.5" text-anchor="start" fill="#000" font-weight="bold" font-family="Liberation Serif">(A)</text>
<text x="49.9" y="183.2" font-size="8.6" text-anchor="end" fill="#333">30</text>
<text x="48.9" y="160" font-size="8.6" text-anchor="end" fill="#333">40</text>
<text x="46.7" y="136.5" font-size="8.6" text-anchor="end" fill="#333">50</text>
<text x="45.9" y="112.9" font-size="8.6" text-anchor="end" fill="#333">60</text>
<text x="43.9" y="89.1" font-size="8.6" text-anchor="end" fill="#333">70</text>
<text x="42.5" y="65.9" font-size="8.6" text-anchor="end" fill="#333">80</text>
<text transform="translate(16.2,145) rotate(-90)" font-size="11.2" text-anchor="middle" fill="#222" textLength="105.7" lengthAdjust="spacingAndGlyphs">SLOP (mV.decade-1)</text>
<text x="48.3" y="228.6" font-size="8.6" text-anchor="middle" fill="#333">10</text>
<text x="77.4" y="237.7" font-size="8.6" text-anchor="middle" fill="#333">11</text>
<text x="106.6" y="247.4" font-size="8.6" text-anchor="middle" fill="#333">12</text>
<text x="135.7" y="256.9" font-size="8.6" text-anchor="middle" fill="#333">13</text>
<text x="164.8" y="266.3" font-size="8.6" text-anchor="middle" fill="#333">14</text>
<text x="195.3" y="276.3" font-size="8.6" text-anchor="middle" fill="#333">15</text>
<text x="210.5" y="276.2" font-size="8.6" text-anchor="middle" fill="#333">0</text>
<text x="230" y="261.1" font-size="8.6" text-anchor="middle" fill="#333">0.2</text>
<text x="246.2" y="247.1" font-size="8.6" text-anchor="middle" fill="#333">0.4</text>
<text x="262" y="232.1" font-size="8.6" text-anchor="middle" fill="#333">0.6</text>
<text x="277.5" y="216.8" font-size="8.6" text-anchor="middle" fill="#333">0.8</text>
<text x="290.1" y="202.1" font-size="8.6" text-anchor="middle" fill="#333">1</text>
<text x="78.3" y="277.9" font-size="11.6" text-anchor="start" fill="#222" textLength="35.9" lengthAdjust="spacingAndGlyphs">A: PTA</text>
<text x="274.6" y="252.8" font-size="11.5" text-anchor="start" fill="#222" textLength="36.8" lengthAdjust="spacingAndGlyphs">B: DOP</text>
<circle cx="87.0" cy="229.7" r="1" fill="#111"/>
<circle cx="219.7" cy="253.2" r="1" fill="#111"/>
<circle cx="116.2" cy="239.3" r="1" fill="#111"/>
<circle cx="235.6" cy="238.5" r="1" fill="#111"/>
<circle cx="145.4" cy="248.9" r="1" fill="#111"/>
<circle cx="251.6" cy="223.8" r="1" fill="#111"/>
<circle cx="174.5" cy="258.4" r="1" fill="#111"/>
<circle cx="267.5" cy="209.1" r="1" fill="#111"/>
<line x1="202.6" y1="20.4" x2="202.6" y2="76" stroke="#333" stroke-width="0.9"/>
<rect x="178.1" y="12" width="24.5" height="8.4" fill="#fff" stroke="#888" stroke-width="0.9"/>
<text x="190" y="18.1" font-size="6.6" text-anchor="middle" fill="#444" textLength="23" lengthAdjust="spacingAndGlyphs">67.8129</text>
<circle cx="53.6" cy="162.1" r="2.2" fill="#c00000" stroke="#602020" stroke-width="0.5"/>
<circle cx="204.2" cy="221.9" r="1.7" fill="#c00000" stroke="#602020" stroke-width="0.5"/>
<circle cx="201.6" cy="77.6" r="2.3" fill="#c00000" stroke="#602020" stroke-width="0.5"/>
<circle cx="109.6" cy="150.1" r="2.0" fill="#f0a0a0" stroke="#602020" stroke-width="0.5"/>
<circle cx="285.5" cy="159.8" r="2.0" fill="#f0a0a0" stroke="#602020" stroke-width="0.5"/>
<text x="342.5" y="9.6" font-size="13.5" text-anchor="start" fill="#000" font-weight="bold" font-family="Liberation Serif">(B)</text>
<text x="442.5" y="20.4" font-size="13.6" text-anchor="start" fill="#111" textLength="187" lengthAdjust="spacingAndGlyphs">Normal Plot of Residuals</text>
<line x1="394.4" y1="196.3" x2="656.6" y2="23.8" stroke="#f08080" stroke-width="1.1"/>
<line x1="390.8" y1="201.41" x2="394.4" y2="201.41" stroke="#2a2a2a" stroke-width="0.8"/>
<line x1="390.8" y1="192.8" x2="394.4" y2="192.8" stroke="#2a2a2a" stroke-width="0.8"/>
<line x1="390.8" y1="187.33" x2="394.4" y2="187.33" stroke="#2a2a2a" stroke-width="0.8"/>
<line x1="390.8" y1="183.22" x2="394.4" y2="183.22" stroke="#2a2a2a" stroke-width="0.8"/>
<line x1="390.8" y1="179.88" x2="394.4" y2="179.88" stroke="#2a2a2a" stroke-width="0.8"/>
<line x1="390.8" y1="177.03" x2="394.4" y2="177.03" stroke="#2a2a2a" stroke-width="0.8"/>
<line x1="390.8" y1="174.53" x2="394.4" y2="174.53" stroke="#2a2a2a" stroke-width="0.8"/>
<line x1="390.8" y1="172.3" x2="394.4" y2="172.3" stroke="#2a2a2a" stroke-width="0.8"/>
<line x1="390.8" y1="170.27" x2="394.4" y2="170.27" stroke="#2a2a2a" stroke-width="0.8"/>
<line x1="390.8" y1="168.4" x2="394.4" y2="168.4" stroke="#2a2a2a" stroke-width="0.8"/>
<line x1="390.8" y1="166.66" x2="394.4" y2="166.66" stroke="#2a2a2a" stroke-width="0.8"/>
<line x1="390.8" y1="165.03" x2="394.4" y2="165.03" stroke="#2a2a2a" stroke-width="0.8"/>
<line x1="390.8" y1="163.49" x2="394.4" y2="163.49" stroke="#2a2a2a" stroke-width="0.8"/>
<line x1="390.8" y1="162.04" x2="394.4" y2="162.04" stroke="#2a2a2a" stroke-width="0.8"/>
<line x1="390.8" y1="160.65" x2="394.4" y2="160.65" stroke="#2a2a2a" stroke-width="0.8"/>
<line x1="390.8" y1="159.32" x2="394.4" y2="159.32" stroke="#2a2a2a" stroke-width="0.8"/>
<line x1="390.8" y1="158.05" x2="394.4" y2="158.05" stroke="#2a2a2a" stroke-width="0.8"/>
<line x1="390.8" y1="156.83" x2="394.4" y2="156.83" stroke="#2a2a2a" stroke-width="0.8"/>
<line x1="390.8" y1="155.64" x2="394.4" y2="155.64" stroke="#2a2a2a" stroke-width="0.8"/>
<line x1="390.8" y1="154.5" x2="394.4" y2="154.5" stroke="#2a2a2a" stroke-width="0.8"/>
<line x1="390.8" y1="153.38" x2="394.4" y2="153.38" stroke="#2a2a2a" stroke-width="0.8"/>
<line x1="390.8" y1="152.3" x2="394.4" y2="152.3" stroke="#2a2a2a" stroke-width="0.8"/>
<line x1="390.8" y1="151.25" x2="394.4" y2="151.25" stroke="#2a2a2a" stroke-width="0.8"/>
<line x1="390.8" y1="150.22" x2="394.4" y2="150.22" stroke="#2a2a2a" stroke-width="0.8"/>
<line x1="390.8" y1="149.21" x2="394.4" y2="149.21" stroke="#2a2a2a" stroke-width="0.8"/>
<line x1="390.8" y1="148.23" x2="394.4" y2="148.23" stroke="#2a2a2a" stroke-width="0.8"/>
<line x1="390.8" y1="147.26" x2="394.4" y2="147.26" stroke="#2a2a2a" stroke-width="0.8"/>
<line x1="390.8" y1="146.32" x2="394.4" y2="146.32" stroke="#2a2a2a" stroke-width="0.8"/>
<line x1="390.8" y1="145.39" x2="394.4" y2="145.39" stroke="#2a2a2a" stroke-width="0.8"/>
<line x1="390.8" y1="144.47" x2="394.4" y2="144.47" stroke="#2a2a2a" stroke-width="0.8"/>
<line x1="390.8" y1="143.57" x2="394.4" y2="143.57" stroke="#2a2a2a" stroke-width="0.8"/>
<line x1="390.8" y1="142.68" x2="394.4" y2="142.68" stroke="#2a2a2a" stroke-width="0.8"/>
<line x1="390.8" y1="141.8" x2="394.4" y2="141.8" stroke="#2a2a2a" stroke-width="0.8"/>
<line x1="390.8" y1="140.93" x2="394.4" y2="140.93" stroke="#2a2a2a" stroke-width="0.8"/>
<line x1="390.8" y1="140.08" x2="394.4" y2="140.08" stroke="#2a2a2a" stroke-width="0.8"/>
<line x1="390.8" y1="139.23" x2="394.4" y2="139.23" stroke="#2a2a2a" stroke-width="0.8"/>
<line x1="390.8" y1="138.39" x2="394.4" y2="138.39" stroke="#2a2a2a" stroke-width="0.8"/>
<line x1="390.8" y1="137.55" x2="394.4" y2="137.55" stroke="#2a2a2a" stroke-width="0.8"/>
<line x1="390.8" y1="136.73" x2="394.4" y2="136.73" stroke="#2a2a2a" stroke-width="0.8"/>
<line x1="390.8" y1="135.91" x2="394.4" y2="135.91" stroke="#2a2a2a" stroke-width="0.8"/>
<line x1="390.8" y1="135.09" x2="394.4" y2="135.09" stroke="#2a2a2a" stroke-width="0.8"/>
<line x1="390.8" y1="134.28" x2="394.4" y2="134.28" stroke="#2a2a2a" stroke-width="0.8"/>
<line x1="390.8" y1="133.47" x2="394.4" y2="133.47" stroke="#2a2a2a" stroke-width="0.8"/>
<line x1="390.8" y1="132.67" x2="394.4" y2="132.67" stroke="#2a2a2a" stroke-width="0.8"/>
<line x1="390.8" y1="131.87" x2="394.4" y2="131.87" stroke="#2a2a2a" stroke-width="0.8"/>
<line x1="390.8" y1="131.07" x2="394.4" y2="131.07" stroke="#2a2a2a" stroke-width="0.8"/>
<line x1="390.8" y1="130.28" x2="394.4" y2="130.28" stroke="#2a2a2a" stroke-width="0.8"/>
<line x1="390.8" y1="129.48" x2="394.4" y2="129.48" stroke="#2a2a2a" stroke-width="0.8"/>
<line x1="390.8" y1="128.69" x2="394.4" y2="128.69" stroke="#2a2a2a" stroke-width="0.8"/>
<line x1="390.8" y1="127.9" x2="394.4" y2="127.9" stroke="#2a2a2a" stroke-width="0.8"/>
<line x1="390.8" y1="127.11" x2="394.4" y2="127.11" stroke="#2a2a2a" stroke-width="0.8"/>
<line x1="390.8" y1="126.32" x2="394.4" y2="126.32" stroke="#2a2a2a" stroke-width="0.8"/>
<line x1="390.8" y1="125.52" x2="394.4" y2="125.52" stroke="#2a2a2a" stroke-width="0.8"/>
<line x1="390.8" y1="124.73" x2="394.4" y2="124.73" stroke="#2a2a2a" stroke-width="0.8"/>
<line x1="390.8" y1="123.93" x2="394.4" y2="123.93" stroke="#2a2a2a" stroke-width="0.8"/>
<line x1="390.8" y1="123.13" x2="394.4" y2="123.13" stroke="#2a2a2a" stroke-width="0.8"/>
<line x1="390.8" y1="122.33" x2="394.4" y2="122.33" stroke="#2a2a2a" stroke-width="0.8"/>
<line x1="390.8" y1="121.52" x2="394.4" y2="121.52" stroke="#2a2a2a" stroke-width="0.8"/>
<line x1="390.8" y1="120.71" x2="394.4" y2="120.71" stroke="#2a2a2a" stroke-width="0.8"/>
<line x1="390.8" y1="119.89" x2="394.4" y2="119.89" stroke="#2a2a2a" stroke-width="0.8"/>
<line x1="390.8" y1="119.07" x2="394.4" y2="119.07" stroke="#2a2a2a" stroke-width="0.8"/>
<line x1="390.8" y1="118.25" x2="394.4" y2="118.25" stroke="#2a2a2a" stroke-width="0.8"/>
<line x1="390.8" y1="117.41" x2="394.4" y2="117.41" stroke="#2a2a2a" stroke-width="0.8"/>
<line x1="390.8" y1="116.57" x2="394.4" y2="116.57" stroke="#2a2a2a" stroke-width="0.8"/>
<line x1="390.8" y1="115.72" x2="394.4" y2="115.72" stroke="#2a2a2a" stroke-width="0.8"/>
<line x1="390.8" y1="114.87" x2="394.4" y2="114.87" stroke="#2a2a2a" stroke-width="0.8"/>
<line x1="390.8" y1="114" x2="394.4" y2="114" stroke="#2a2a2a" stroke-width="0.8"/>
<line x1="390.8" y1="113.12" x2="394.4" y2="113.12" stroke="#2a2a2a" stroke-width="0.8"/>
<line x1="390.8" y1="112.23" x2="394.4" y2="112.23" stroke="#2a2a2a" stroke-width="0.8"/>
<line x1="390.8" y1="111.33" x2="394.4" y2="111.33" stroke="#2a2a2a" stroke-width="0.8"/>
<line x1="390.8" y1="110.41" x2="394.4" y2="110.41" stroke="#2a2a2a" stroke-width="0.8"/>
<line x1="390.8" y1="109.48" x2="394.4" y2="109.48" stroke="#2a2a2a" stroke-width="0.8"/>
<line x1="390.8" y1="108.54" x2="394.4" y2="108.54" stroke="#2a2a2a" stroke-width="0.8"/>
<line x1="390.8" y1="107.57" x2="394.4" y2="107.57" stroke="#2a2a2a" stroke-width="0.8"/>
<line x1="390.8" y1="106.59" x2="394.4" y2="106.59" stroke="#2a2a2a" stroke-width="0.8"/>
<line x1="390.8" y1="105.58" x2="394.4" y2="105.58" stroke="#2a2a2a" stroke-width="0.8"/>
<line x1="390.8" y1="104.55" x2="394.4" y2="104.55" stroke="#2a2a2a" stroke-width="0.8"/>
<line x1="390.8" y1="103.5" x2="394.4" y2="103.5" stroke="#2a2a2a" stroke-width="0.8"/>
<line x1="390.8" y1="102.42" x2="394.4" y2="102.42" stroke="#2a2a2a" stroke-width="0.8"/>
<line x1="390.8" y1="101.3" x2="394.4" y2="101.3" stroke="#2a2a2a" stroke-width="0.8"/>
<line x1="390.8" y1="100.16" x2="394.4" y2="100.16" stroke="#2a2a2a" stroke-width="0.8"/>
<line x1="390.8" y1="98.97" x2="394.4" y2="98.97" stroke="#2a2a2a" stroke-width="0.8"/>
<line x1="390.8" y1="97.75" x2="394.4" y2="97.75" stroke="#2a2a2a" stroke-width="0.8"/>
<line x1="390.8" y1="96.48" x2="394.4" y2="96.48" stroke="#2a2a2a" stroke-width="0.8"/>
<line x1="390.8" y1="95.15" x2="394.4" y2="95.15" stroke="#2a2a2a" stroke-width="0.8"/>
<line x1="390.8" y1="93.76" x2="394.4" y2="93.76" stroke="#2a2a2a" stroke-width="0.8"/>
<line x1="390.8" y1="92.31" x2="394.4" y2="92.31" stroke="#2a2a2a" stroke-width="0.8"/>
<line x1="390.8" y1="90.77" x2="394.4" y2="90.77" stroke="#2a2a2a" stroke-width="0.8"/>
<line x1="390.8" y1="89.14" x2="394.4" y2="89.14" stroke="#2a2a2a" stroke-width="0.8"/>
<line x1="390.8" y1="87.4" x2="394.4" y2="87.4" stroke="#2a2a2a" stroke-width="0.8"/>
<line x1="390.8" y1="85.53" x2="394.4" y2="85.53" stroke="#2a2a2a" stroke-width="0.8"/>
<line x1="390.8" y1="83.5" x2="394.4" y2="83.5" stroke="#2a2a2a" stroke-width="0.8"/>
<line x1="390.8" y1="81.27" x2="394.4" y2="81.27" stroke="#2a2a2a" stroke-width="0.8"/>
<line x1="390.8" y1="78.77" x2="394.4" y2="78.77" stroke="#2a2a2a" stroke-width="0.8"/>
<line x1="390.8" y1="75.92" x2="394.4" y2="75.92" stroke="#2a2a2a" stroke-width="0.8"/>
<line x1="390.8" y1="72.58" x2="394.4" y2="72.58" stroke="#2a2a2a" stroke-width="0.8"/>
<line x1="390.8" y1="68.47" x2="394.4" y2="68.47" stroke="#2a2a2a" stroke-width="0.8"/>
<line x1="390.8" y1="63" x2="394.4" y2="63" stroke="#2a2a2a" stroke-width="0.8"/>
<line x1="390.8" y1="54.39" x2="394.4" y2="54.39" stroke="#2a2a2a" stroke-width="0.8"/>
<line x1="386.9" y1="201.41" x2="394.4" y2="201.41" stroke="#555" stroke-width="0.9"/>
<text x="383.3" y="203.01" font-size="6.7" text-anchor="end" fill="#333" textLength="4.55" lengthAdjust="spacingAndGlyphs">1</text>
<line x1="386.9" y1="179.88" x2="394.4" y2="179.88" stroke="#555" stroke-width="0.9"/>
<text x="383.3" y="181.48" font-size="6.7" text-anchor="end" fill="#333" textLength="4.55" lengthAdjust="spacingAndGlyphs">5</text>
<line x1="386.9" y1="168.4" x2="394.4" y2="168.4" stroke="#555" stroke-width="0.9"/>
<text x="383.3" y="170" font-size="6.7" text-anchor="end" fill="#333" textLength="9.09" lengthAdjust="spacingAndGlyphs">10</text>
<line x1="386.9" y1="154.5" x2="394.4" y2="154.5" stroke="#555" stroke-width="0.9"/>
<text x="383.3" y="156.1" font-size="6.7" text-anchor="end" fill="#333" textLength="9.09" lengthAdjust="spacingAndGlyphs">20</text>
<line x1="386.9" y1="144.47" x2="394.4" y2="144.47" stroke="#555" stroke-width="0.9"/>
<text x="383.3" y="146.07" font-size="6.7" text-anchor="end" fill="#333" textLength="9.09" lengthAdjust="spacingAndGlyphs">30</text>
<line x1="386.9" y1="127.9" x2="394.4" y2="127.9" stroke="#555" stroke-width="0.9"/>
<text x="383.3" y="129.5" font-size="6.7" text-anchor="end" fill="#333" textLength="9.09" lengthAdjust="spacingAndGlyphs">50</text>
<line x1="386.9" y1="111.33" x2="394.4" y2="111.33" stroke="#555" stroke-width="0.9"/>
<text x="383.3" y="112.93" font-size="6.7" text-anchor="end" fill="#333" textLength="9.09" lengthAdjust="spacingAndGlyphs">70</text>
<line x1="386.9" y1="101.3" x2="394.4" y2="101.3" stroke="#555" stroke-width="0.9"/>
<text x="383.3" y="102.9" font-size="6.7" text-anchor="end" fill="#333" textLength="9.09" lengthAdjust="spacingAndGlyphs">80</text>
<line x1="386.9" y1="87.4" x2="394.4" y2="87.4" stroke="#555" stroke-width="0.9"/>
<text x="383.3" y="89" font-size="6.7" text-anchor="end" fill="#333" textLength="9.09" lengthAdjust="spacingAndGlyphs">90</text>
<line x1="386.9" y1="75.92" x2="394.4" y2="75.92" stroke="#555" stroke-width="0.9"/>
<text x="383.3" y="77.52" font-size="6.7" text-anchor="end" fill="#333" textLength="9.09" lengthAdjust="spacingAndGlyphs">95</text>
<line x1="386.9" y1="54.39" x2="394.4" y2="54.39" stroke="#555" stroke-width="0.9"/>
<text x="383.3" y="55.99" font-size="6.7" text-anchor="end" fill="#333" textLength="9.09" lengthAdjust="spacingAndGlyphs">99</text>
<line x1="410.7" y1="232" x2="410.7" y2="236.5" stroke="#444" stroke-width="0.8"/>
<text x="410.7" y="246.9" font-size="7.3" text-anchor="middle" fill="#333" textLength="19.13" lengthAdjust="spacingAndGlyphs">-2.00</text>
<line x1="452.75" y1="232" x2="452.75" y2="236.5" stroke="#444" stroke-width="0.8"/>
<text x="452.75" y="246.9" font-size="7.3" text-anchor="middle" fill="#333" textLength="19.13" lengthAdjust="spacingAndGlyphs">-1.00</text>
<line x1="494.8" y1="232" x2="494.8" y2="236.5" stroke="#444" stroke-width="0.8"/>
<text x="494.8" y="246.9" font-size="7.3" text-anchor="middle" fill="#333" textLength="16.34" lengthAdjust="spacingAndGlyphs">0.00</text>
<line x1="536.85" y1="232" x2="536.85" y2="236.5" stroke="#444" stroke-width="0.8"/>
<text x="536.85" y="246.9" font-size="7.3" text-anchor="middle" fill="#333" textLength="16.34" lengthAdjust="spacingAndGlyphs">1.00</text>
<line x1="578.9" y1="232" x2="578.9" y2="236.5" stroke="#444" stroke-width="0.8"/>
<text x="578.9" y="246.9" font-size="7.3" text-anchor="middle" fill="#333" textLength="16.34" lengthAdjust="spacingAndGlyphs">2.00</text>
<line x1="620.95" y1="232" x2="620.95" y2="236.5" stroke="#444" stroke-width="0.8"/>
<text x="620.95" y="246.9" font-size="7.3" text-anchor="middle" fill="#333" textLength="16.34" lengthAdjust="spacingAndGlyphs">3.00</text>
<line x1="663" y1="232" x2="663" y2="236.5" stroke="#444" stroke-width="0.8"/>
<text x="663" y="246.9" font-size="7.3" text-anchor="middle" fill="#333" textLength="16.34" lengthAdjust="spacingAndGlyphs">4.00</text>
<text x="449.8" y="274.9" font-size="9.2" text-anchor="start" fill="#111" textLength="173" lengthAdjust="spacingAndGlyphs">Externally Studentized Residuals</text>
<text transform="translate(358.80,127.05) scale(1.390,1) rotate(-90)" font-size="8.8" text-anchor="middle" fill="#111" textLength="82.3" lengthAdjust="spacingAndGlyphs">Normal % Probability</text>
<path d="M394.4,232.0 V23.8 H679.8 V232.0 Z" fill="none" stroke="#444" stroke-width="1"/>
<circle cx="488.6" cy="133.4" r="2.6" fill="#333"/>
<rect x="419.3" y="182.1" width="6" height="4.4" fill="#ffff00" stroke="#333" stroke-width="0.8"/>
<rect x="429.9" y="163.8" width="6" height="4.4" fill="#0000ff" stroke="#333" stroke-width="0.8"/>
<rect x="471.9" y="145.2" width="6" height="4.4" fill="#ffff00" stroke="#333" stroke-width="0.8"/>
<rect x="471.9" y="153.2" width="6" height="4.4" fill="#ffff00" stroke="#333" stroke-width="0.8"/>
<rect x="487.6" y="138.6" width="6" height="4.4" fill="#0000ff" stroke="#333" stroke-width="0.8"/>
<rect x="487.6" y="132" width="6" height="4.4" fill="#0000ff" stroke="#333" stroke-width="0.8"/>
<rect x="491.6" y="125.9" width="6" height="4.4" fill="#0064ff" stroke="#333" stroke-width="0.8"/>
<rect x="491.6" y="119.6" width="6" height="4.4" fill="#00f040" stroke="#333" stroke-width="0.8"/>
<rect x="497.3" y="113.2" width="6" height="4.4" fill="#00f0a0" stroke="#333" stroke-width="0.8"/>
<rect x="497.3" y="106.3" width="6" height="4.4" fill="#00f0a0" stroke="#333" stroke-width="0.8"/>
<rect x="553.3" y="87.7" width="6" height="4.4" fill="#00f0a0" stroke="#333" stroke-width="0.8"/>
<rect x="553.3" y="98.2" width="6" height="4.4" fill="#ff0000" stroke="#333" stroke-width="0.8"/>
<rect x="630" y="69.5" width="6" height="4.4" fill="#ff0000" stroke="#333" stroke-width="0.8"/>
<text x="0.5" y="329.7" font-size="13.5" text-anchor="start" fill="#000" font-weight="bold" font-family="Liberation Serif">(C)</text>
<text x="97.6" y="337.8" font-size="13.3" text-anchor="start" fill="#111" textLength="112.6" lengthAdjust="spacingAndGlyphs">Predicted vs. Actual</text>
<line x1="43.3" y1="550.2" x2="48.8" y2="550.2" stroke="#555" stroke-width="0.9"/>
<text x="40.2" y="552" font-size="7.4" text-anchor="end" fill="#333" textLength="6.4" lengthAdjust="spacingAndGlyphs">30</text>
<line x1="61" y1="562.3" x2="61" y2="568.3" stroke="#555" stroke-width="0.9"/>
<text x="61" y="577.9" font-size="7.3" text-anchor="middle" fill="#333" textLength="6.6" lengthAdjust="spacingAndGlyphs">30</text>
<line x1="43.3" y1="517.5" x2="48.8" y2="517.5" stroke="#555" stroke-width="0.9"/>
<text x="40.2" y="519.3" font-size="7.4" text-anchor="end" fill="#333" textLength="6.4" lengthAdjust="spacingAndGlyphs">35</text>
<line x1="92.23" y1="562.3" x2="92.23" y2="568.3" stroke="#555" stroke-width="0.9"/>
<text x="92.23" y="577.9" font-size="7.3" text-anchor="middle" fill="#333" textLength="6.6" lengthAdjust="spacingAndGlyphs">35</text>
<line x1="43.3" y1="484.8" x2="48.8" y2="484.8" stroke="#555" stroke-width="0.9"/>
<text x="40.2" y="486.6" font-size="7.4" text-anchor="end" fill="#333" textLength="6.4" lengthAdjust="spacingAndGlyphs">40</text>
<line x1="123.47" y1="562.3" x2="123.47" y2="568.3" stroke="#555" stroke-width="0.9"/>
<text x="123.47" y="577.9" font-size="7.3" text-anchor="middle" fill="#333" textLength="6.6" lengthAdjust="spacingAndGlyphs">40</text>
<line x1="43.3" y1="452.1" x2="48.8" y2="452.1" stroke="#555" stroke-width="0.9"/>
<text x="40.2" y="453.9" font-size="7.4" text-anchor="end" fill="#333" textLength="6.4" lengthAdjust="spacingAndGlyphs">45</text>
<line x1="154.7" y1="562.3" x2="154.7" y2="568.3" stroke="#555" stroke-width="0.9"/>
<text x="154.7" y="577.9" font-size="7.3" text-anchor="middle" fill="#333" textLength="6.6" lengthAdjust="spacingAndGlyphs">45</text>
<line x1="43.3" y1="419.4" x2="48.8" y2="419.4" stroke="#555" stroke-width="0.9"/>
<text x="40.2" y="421.2" font-size="7.4" text-anchor="end" fill="#333" textLength="6.4" lengthAdjust="spacingAndGlyphs">50</text>
<line x1="185.94" y1="562.3" x2="185.94" y2="568.3" stroke="#555" stroke-width="0.9"/>
<text x="185.94" y="577.9" font-size="7.3" text-anchor="middle" fill="#333" textLength="6.6" lengthAdjust="spacingAndGlyphs">50</text>
<line x1="43.3" y1="386.7" x2="48.8" y2="386.7" stroke="#555" stroke-width="0.9"/>
<text x="40.2" y="388.5" font-size="7.4" text-anchor="end" fill="#333" textLength="6.4" lengthAdjust="spacingAndGlyphs">55</text>
<line x1="217.18" y1="562.3" x2="217.18" y2="568.3" stroke="#555" stroke-width="0.9"/>
<text x="217.18" y="577.9" font-size="7.3" text-anchor="middle" fill="#333" textLength="6.6" lengthAdjust="spacingAndGlyphs">55</text>
<line x1="43.3" y1="354" x2="48.8" y2="354" stroke="#555" stroke-width="0.9"/>
<text x="40.2" y="355.8" font-size="7.4" text-anchor="end" fill="#333" textLength="6.4" lengthAdjust="spacingAndGlyphs">60</text>
<line x1="248.41" y1="562.3" x2="248.41" y2="568.3" stroke="#555" stroke-width="0.9"/>
<text x="248.41" y="577.9" font-size="7.3" text-anchor="middle" fill="#333" textLength="6.6" lengthAdjust="spacingAndGlyphs">60</text>
<text transform="translate(21.10,451.20) scale(1.000,1) rotate(-90)" font-size="9.1" text-anchor="middle" fill="#111" textLength="38.5" lengthAdjust="spacingAndGlyphs">Predicted</text>
<text x="155.5" y="593.7" font-size="8.6" text-anchor="middle" fill="#111" textLength="23.8" lengthAdjust="spacingAndGlyphs">Actual</text>
<line x1="61" y1="550.2" x2="248.41" y2="354" stroke="#666" stroke-width="0.9"/>
<path d="M48.8,562.3 V341.5 H261.1 V562.3 Z" fill="none" stroke="#555" stroke-width="1"/>
<rect x="58.3" y="540" width="4.4" height="4.2" fill="#0000ff" stroke="#333" stroke-width="0.8"/>
<rect x="58.3" y="546.7" width="4.4" height="4.2" fill="#0000ff" stroke="#333" stroke-width="0.8"/>
<rect x="77.3" y="538.4" width="4.4" height="4.2" fill="#0064ff" stroke="#333" stroke-width="0.8"/>
<rect x="121.2" y="484.2" width="4.4" height="4.2" fill="#00f0a0" stroke="#333" stroke-width="0.8"/>
<rect x="121.2" y="494.2" width="4.4" height="4.2" fill="#00f0a0" stroke="#333" stroke-width="0.8"/>
<rect x="134" y="454.1" width="4.4" height="4.2" fill="#00f040" stroke="#333" stroke-width="0.8"/>
<rect x="196.4" y="390.5" width="4.4" height="4.2" fill="#ffff00" stroke="#333" stroke-width="0.8"/>
<rect x="196.4" y="398.1" width="4.4" height="4.2" fill="#ffff00" stroke="#333" stroke-width="0.8"/>
<rect x="240.5" y="365.8" width="4.4" height="4.2" fill="#ff0000" stroke="#333" stroke-width="0.8"/>
<rect x="240.5" y="375.9" width="4.4" height="4.2" fill="#ff0000" stroke="#333" stroke-width="0.8"/>
<text x="342.8" y="329.7" font-size="13.5" text-anchor="start" fill="#000" font-weight="bold" font-family="Liberation Serif">(D)</text>
<text x="455.8" y="332.4" font-size="13.6" text-anchor="start" fill="#111" textLength="176" lengthAdjust="spacingAndGlyphs">Residuals vs. Predicted</text>
<line x1="404.5" y1="372.51" x2="684.4" y2="372.51" stroke="#f08080" stroke-width="1.1"/>
<line x1="404.5" y1="519.89" x2="684.4" y2="519.89" stroke="#f08080" stroke-width="1.1"/>
<line x1="404.5" y1="446.2" x2="684.4" y2="446.2" stroke="#333" stroke-width="1"/>
<text x="408.6" y="370.3" font-size="5" text-anchor="start" fill="#333" textLength="21.5" lengthAdjust="spacingAndGlyphs">6.01543</text>
<text x="408.3" y="518.3" font-size="5" text-anchor="start" fill="#333" textLength="23.7" lengthAdjust="spacingAndGlyphs">-6.01543</text>
<text x="408.6" y="444.2" font-size="5" text-anchor="start" fill="#333">0</text>
<line x1="397.5" y1="544.2" x2="404.5" y2="544.2" stroke="#555" stroke-width="0.9"/>
<text x="393.3" y="545.9" font-size="7.2" text-anchor="end" fill="#333" textLength="18.21" lengthAdjust="spacingAndGlyphs">-8.00</text>
<line x1="397.5" y1="519.7" x2="404.5" y2="519.7" stroke="#555" stroke-width="0.9"/>
<text x="393.3" y="521.4" font-size="7.2" text-anchor="end" fill="#333" textLength="18.21" lengthAdjust="spacingAndGlyphs">-6.00</text>
<line x1="397.5" y1="495.2" x2="404.5" y2="495.2" stroke="#555" stroke-width="0.9"/>
<text x="393.3" y="496.9" font-size="7.2" text-anchor="end" fill="#333" textLength="18.21" lengthAdjust="spacingAndGlyphs">-4.00</text>
<line x1="397.5" y1="470.7" x2="404.5" y2="470.7" stroke="#555" stroke-width="0.9"/>
<text x="393.3" y="472.4" font-size="7.2" text-anchor="end" fill="#333" textLength="18.21" lengthAdjust="spacingAndGlyphs">-2.00</text>
<line x1="397.5" y1="446.2" x2="404.5" y2="446.2" stroke="#555" stroke-width="0.9"/>
<text x="393.3" y="447.9" font-size="7.2" text-anchor="end" fill="#333" textLength="15.55" lengthAdjust="spacingAndGlyphs">0.00</text>
<line x1="397.5" y1="421.7" x2="404.5" y2="421.7" stroke="#555" stroke-width="0.9"/>
<text x="393.3" y="423.4" font-size="7.2" text-anchor="end" fill="#333" textLength="15.55" lengthAdjust="spacingAndGlyphs">2.00</text>
<line x1="397.5" y1="397.2" x2="404.5" y2="397.2" stroke="#555" stroke-width="0.9"/>
<text x="393.3" y="398.9" font-size="7.2" text-anchor="end" fill="#333" textLength="15.55" lengthAdjust="spacingAndGlyphs">4.00</text>
<line x1="397.5" y1="372.7" x2="404.5" y2="372.7" stroke="#555" stroke-width="0.9"/>
<text x="393.3" y="374.4" font-size="7.2" text-anchor="end" fill="#333" textLength="15.55" lengthAdjust="spacingAndGlyphs">6.00</text>
<line x1="397.5" y1="348.2" x2="404.5" y2="348.2" stroke="#555" stroke-width="0.9"/>
<text x="393.3" y="349.9" font-size="7.2" text-anchor="end" fill="#333" textLength="15.55" lengthAdjust="spacingAndGlyphs">8.00</text>
<line x1="420.6" y1="557" x2="420.6" y2="562.5" stroke="#555" stroke-width="0.9"/>
<text x="420.6" y="572" font-size="6.8" text-anchor="middle" fill="#333" textLength="9.1" lengthAdjust="spacingAndGlyphs">30</text>
<line x1="461.83" y1="557" x2="461.83" y2="562.5" stroke="#555" stroke-width="0.9"/>
<text x="461.83" y="572" font-size="6.8" text-anchor="middle" fill="#333" textLength="9.1" lengthAdjust="spacingAndGlyphs">35</text>
<line x1="503.05" y1="557" x2="503.05" y2="562.5" stroke="#555" stroke-width="0.9"/>
<text x="503.05" y="572" font-size="6.8" text-anchor="middle" fill="#333" textLength="9.1" lengthAdjust="spacingAndGlyphs">40</text>
<line x1="544.27" y1="557" x2="544.27" y2="562.5" stroke="#555" stroke-width="0.9"/>
<text x="544.27" y="572" font-size="6.8" text-anchor="middle" fill="#333" textLength="9.1" lengthAdjust="spacingAndGlyphs">45</text>
<line x1="585.5" y1="557" x2="585.5" y2="562.5" stroke="#555" stroke-width="0.9"/>
<text x="585.5" y="572" font-size="6.8" text-anchor="middle" fill="#333" textLength="9.1" lengthAdjust="spacingAndGlyphs">50</text>
<line x1="626.73" y1="557" x2="626.73" y2="562.5" stroke="#555" stroke-width="0.9"/>
<text x="626.73" y="572" font-size="6.8" text-anchor="middle" fill="#333" textLength="9.1" lengthAdjust="spacingAndGlyphs">55</text>
<line x1="667.95" y1="557" x2="667.95" y2="562.5" stroke="#555" stroke-width="0.9"/>
<text x="667.95" y="572" font-size="6.8" text-anchor="middle" fill="#333" textLength="9.1" lengthAdjust="spacingAndGlyphs">60</text>
<text transform="translate(355.60,445.20) scale(1.150,1) rotate(-90)" font-size="9.26" text-anchor="middle" fill="#111" textLength="135.4" lengthAdjust="spacingAndGlyphs">Externally Studentized Residuals</text>
<text x="546.35" y="588.6" font-size="9.3" text-anchor="middle" fill="#111" textLength="48.7" lengthAdjust="spacingAndGlyphs" stroke="#111" stroke-width="0.3">Predicted</text>
<path d="M404.5,557.0 V336.4 H684.4 V557.0 Z" fill="none" stroke="#444" stroke-width="1"/>
<rect x="418.6" y="445.1" width="6" height="4.4" fill="#0000ff" stroke="#333" stroke-width="0.8"/>
<rect x="429" y="444.1" width="6" height="4.4" fill="#0064ff" stroke="#333" stroke-width="0.8"/>
<rect x="426.9" y="462.3" width="6" height="4.4" fill="#0000ff" stroke="#333" stroke-width="0.8"/>
<rect x="485.1" y="426" width="6" height="4.4" fill="#00f0a0" stroke="#333" stroke-width="0.8"/>
<rect x="497.4" y="442.5" width="6" height="4.4" fill="#00f0a0" stroke="#333" stroke-width="0.8"/>
<rect x="535.4" y="444.3" width="6" height="4.4" fill="#00f040" stroke="#333" stroke-width="0.8"/>
<rect x="605.7" y="450.1" width="6" height="4.4" fill="#ffff00" stroke="#333" stroke-width="0.8"/>
<rect x="615.6" y="465" width="6" height="4.4" fill="#ffff00" stroke="#333" stroke-width="0.8"/>
<rect x="634.1" y="403.9" width="6" height="4.4" fill="#ff0000" stroke="#333" stroke-width="0.8"/>
<rect x="646.7" y="426" width="6" height="4.4" fill="#ff0000" stroke="#333" stroke-width="0.8"/>
</svg>
</body></html>
